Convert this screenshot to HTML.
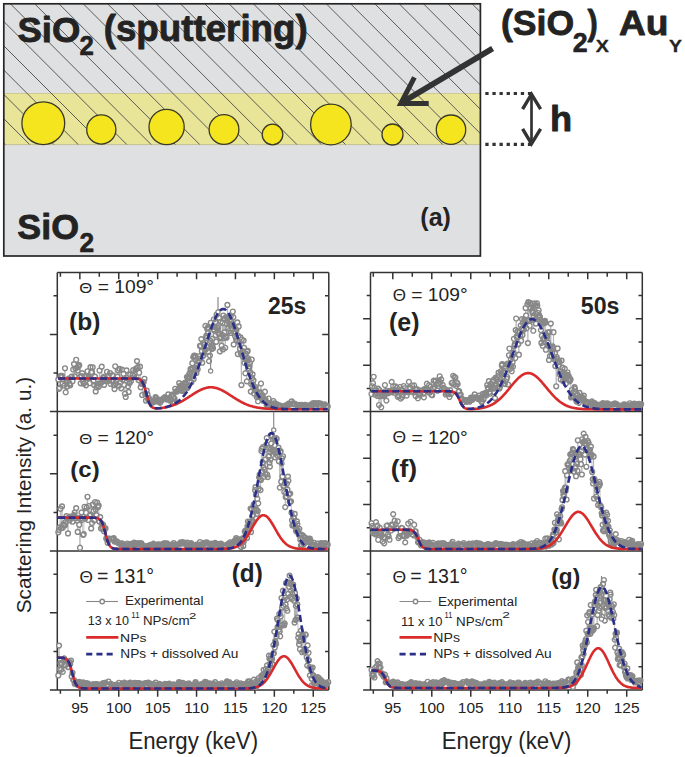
<!DOCTYPE html>
<html><head><meta charset="utf-8"><title>figure</title>
<style>html,body{margin:0;padding:0;background:#fff;width:685px;height:757px;overflow:hidden}</style>
</head><body>
<svg width="685" height="757" viewBox="0 0 685 757" style="position:absolute;left:0;top:0">
<defs><clipPath id="hc"><rect x="4" y="4" width="476" height="140.5"/></clipPath></defs>
<rect x="3.8" y="3.8" width="476.6" height="252.2" fill="#dfe0e2"/>
<rect x="4" y="93.5" width="476" height="51" fill="#e8e498"/>
<line x1="4" y1="93.5" x2="480" y2="93.5" stroke="#c9c48c" stroke-width="0.8"/>
<line x1="4" y1="144.6" x2="480" y2="144.6" stroke="#bdb98a" stroke-width="0.8"/>
<path d="M-187.8 0L-37.8 150M-163.5 0L-13.5 150M-139.2 0L10.8 150M-114.9 0L35.1 150M-90.6 0L59.4 150M-66.3 0L83.7 150M-42.0 0L108.0 150M-17.7 0L132.3 150M6.6 0L156.6 150M30.9 0L180.9 150M55.2 0L205.2 150M79.5 0L229.5 150M103.8 0L253.8 150M128.1 0L278.1 150M152.4 0L302.4 150M176.7 0L326.7 150M201.0 0L351.0 150M225.3 0L375.3 150M249.6 0L399.6 150M273.9 0L423.9 150M298.2 0L448.2 150M322.5 0L472.5 150M346.8 0L496.8 150M371.1 0L521.1 150M395.4 0L545.4 150M419.7 0L569.7 150M444.0 0L594.0 150M468.3 0L618.3 150M492.6 0L642.6 150M516.9 0L666.9 150M541.2 0L691.2 150M565.5 0L715.5 150M589.8 0L739.8 150" stroke="#5a5a5a" stroke-width="1.0" fill="none" clip-path="url(#hc)"/>
<circle cx="43.3" cy="123.2" r="21.4" fill="#f5e51f" stroke="#3b3a28" stroke-width="1.3"/>
<circle cx="101.3" cy="129.5" r="14.6" fill="#f5e51f" stroke="#3b3a28" stroke-width="1.3"/>
<circle cx="166.6" cy="127" r="17.6" fill="#f5e51f" stroke="#3b3a28" stroke-width="1.3"/>
<circle cx="224" cy="129.5" r="14.9" fill="#f5e51f" stroke="#3b3a28" stroke-width="1.3"/>
<circle cx="272.5" cy="134.5" r="10.3" fill="#f5e51f" stroke="#3b3a28" stroke-width="1.3"/>
<circle cx="330.9" cy="124.5" r="20.3" fill="#f5e51f" stroke="#3b3a28" stroke-width="1.3"/>
<circle cx="392.5" cy="134.5" r="10.5" fill="#f5e51f" stroke="#3b3a28" stroke-width="1.3"/>
<circle cx="451" cy="129.7" r="14.7" fill="#f5e51f" stroke="#3b3a28" stroke-width="1.3"/>
<rect x="3.8" y="3.8" width="476.6" height="252.2" fill="none" stroke="#262626" stroke-width="1.7"/>
<g stroke="#333" fill="none" stroke-linecap="butt">
<line x1="492.6" y1="48.6" x2="402" y2="102.4" stroke-width="5.8"/>
<polyline points="414.4,77.4 400.8,103.6 428.7,103.6" stroke-width="5" stroke-linejoin="miter" stroke-miterlimit="10"/>
</g>
<g stroke="#333" fill="none">
<line x1="485.3" y1="93.5" x2="531" y2="93.5" stroke-width="3.1" stroke-dasharray="3.3 3.8"/>
<line x1="485.3" y1="144.4" x2="531" y2="144.4" stroke-width="3.1" stroke-dasharray="3.3 3.8"/>
<line x1="531.5" y1="95" x2="531.5" y2="143" stroke-width="2.7"/>
<polyline points="522.6,109.2 531.5,94.2 540.6,109.2" stroke-width="3.4" stroke-linejoin="miter"/>
<polyline points="522.6,128.8 531.5,143.8 540.6,128.8" stroke-width="3.4" stroke-linejoin="miter"/>
</g>
<path d="M57.3 272.5V690.0M328.8 272.5V690.0M57.3 272.5H328.8M49.9 411.6H328.8M49.9 551.0H328.8M49.9 690.0H328.8M60.40 272.5v4.2M60.40 690.0v3.8M79.85 272.5v6.7M79.85 690.0v6.7M99.30 272.5v4.2M99.30 690.0v3.8M118.75 272.5v6.7M118.75 690.0v6.7M138.20 272.5v4.2M138.20 690.0v3.8M157.65 272.5v6.7M157.65 690.0v6.7M177.10 272.5v4.2M177.10 690.0v3.8M196.55 272.5v6.7M196.55 690.0v6.7M216.00 272.5v4.2M216.00 690.0v3.8M235.45 272.5v6.7M235.45 690.0v6.7M254.90 272.5v4.2M254.90 690.0v3.8M274.35 272.5v6.7M274.35 690.0v6.7M293.80 272.5v4.2M293.80 690.0v3.8M313.25 272.5v6.7M313.25 690.0v6.7M53.5 373.00H57.3M328.8 373.00h-3.8M49.9 334.40H57.3M328.8 334.40h-6.6M53.5 295.80H57.3M328.8 295.80h-3.8M53.5 512.40H57.3M328.8 512.40h-3.8M49.9 473.80H57.3M328.8 473.80h-6.6M53.5 435.20H57.3M328.8 435.20h-3.8M53.5 651.40H57.3M328.8 651.40h-3.8M49.9 612.80H57.3M328.8 612.80h-6.6M53.5 574.20H57.3M328.8 574.20h-3.8M370.5 272.5V690.0M642.3 272.5V690.0M370.5 272.5H642.3M363.1 411.6H642.3M363.1 551.0H642.3M363.1 690.0H642.3M373.31 272.5v4.2M373.31 690.0v3.8M392.80 272.5v6.7M392.80 690.0v6.7M412.29 272.5v4.2M412.29 690.0v3.8M431.79 272.5v6.7M431.79 690.0v6.7M451.28 272.5v4.2M451.28 690.0v3.8M470.77 272.5v6.7M470.77 690.0v6.7M490.26 272.5v4.2M490.26 690.0v3.8M509.75 272.5v6.7M509.75 690.0v6.7M529.25 272.5v4.2M529.25 690.0v3.8M548.74 272.5v6.7M548.74 690.0v6.7M568.23 272.5v4.2M568.23 690.0v3.8M587.73 272.5v6.7M587.73 690.0v6.7M607.22 272.5v4.2M607.22 690.0v3.8M626.71 272.5v6.7M626.71 690.0v6.7M366.7 388.40H370.5M642.3 388.40h-3.8M363.1 365.20H370.5M642.3 365.20h-6.6M366.7 342.00H370.5M642.3 342.00h-3.8M363.1 318.80H370.5M642.3 318.80h-6.6M366.7 295.60H370.5M642.3 295.60h-3.8M366.7 527.80H370.5M642.3 527.80h-3.8M363.1 504.60H370.5M642.3 504.60h-6.6M366.7 481.40H370.5M642.3 481.40h-3.8M363.1 458.20H370.5M642.3 458.20h-6.6M366.7 435.00H370.5M642.3 435.00h-3.8M366.7 666.80H370.5M642.3 666.80h-3.8M363.1 643.60H370.5M642.3 643.60h-6.6M366.7 620.40H370.5M642.3 620.40h-3.8M363.1 597.20H370.5M642.3 597.20h-6.6M366.7 574.00H370.5M642.3 574.00h-3.8" stroke="#333" stroke-width="1.5" fill="none"/>
<polyline points="58.3,379.6 59.0,388.8 59.7,387.9 60.5,375.9 61.2,377.3 62.0,375.8 62.7,383.5 63.5,379.6 64.2,385.6 65.0,368.3 65.7,392.2 66.5,381.0 67.2,386.5 68.0,380.7 68.7,378.5 69.5,383.7 70.2,385.3 71.0,377.3 71.7,376.6 72.5,381.3 73.2,369.5 74.0,364.1 74.7,376.4 75.5,368.6 76.2,359.8 77.0,367.6 77.7,370.6 78.5,366.4 79.2,365.2 80.0,376.6 80.7,383.3 81.5,376.2 82.2,373.1 83.0,381.2 83.7,383.7 84.5,376.7 85.2,382.3 86.0,385.3 86.7,376.1 87.5,371.3 88.2,378.6 89.0,377.4 89.7,383.2 90.5,367.2 91.2,372.3 92.0,372.2 92.7,367.3 93.5,381.3 94.2,384.9 95.0,376.7 95.7,391.4 96.5,387.3 97.2,385.6 98.0,383.5 98.7,386.8 99.5,370.5 100.2,383.4 101.0,383.1 101.7,366.7 102.5,381.4 103.2,377.6 104.0,384.9 104.7,376.5 105.5,379.1 106.2,380.9 107.0,371.8 107.7,381.3 108.5,376.0 109.2,379.9 110.0,373.0 110.7,384.0 111.5,380.7 112.2,375.2 113.0,380.7 113.7,385.2 114.5,389.1 115.2,366.3 116.0,383.4 116.7,380.6 117.5,376.7 118.2,370.2 119.0,385.8 119.7,368.8 120.5,382.2 121.2,388.3 122.0,369.7 122.7,379.8 123.5,373.7 124.2,384.9 125.0,393.7 125.7,397.0 126.5,370.4 127.2,378.2 128.0,386.4 128.7,391.9 129.5,383.4 130.2,374.7 131.0,381.1 131.7,377.9 132.5,375.2 133.2,370.0 134.0,376.1 134.7,374.0 135.5,370.0 136.2,368.4 137.0,361.1 137.7,367.3 138.5,380.1 139.2,372.7 140.0,366.7 140.7,387.2 141.5,383.8 142.2,395.0 143.0,383.7 143.7,382.0 144.5,378.8 145.2,394.1 146.0,400.7 146.7,390.6 147.5,394.4 148.2,399.7 148.9,398.0 149.7,400.0 150.4,400.5 151.2,401.6 151.9,402.8 152.6,401.3 153.4,402.2 154.1,400.1 155.6,397.2 156.3,398.1 157.0,401.3 157.8,399.4 158.5,401.3 159.9,402.8 160.6,401.9 162.1,400.0 162.8,398.7 163.5,398.3 164.2,398.5 164.9,397.0 165.6,398.0 166.2,398.9 166.9,399.6 167.6,398.2 168.3,394.4 168.9,398.5 169.6,399.0 170.2,400.9 170.9,399.3 171.5,395.6 172.2,394.6 172.8,401.4 173.4,396.9 174.0,399.0 174.6,398.9 175.2,388.8 175.8,391.8 176.4,391.4 177.0,391.4 177.6,391.1 178.1,389.8 178.7,389.6 179.2,383.2 179.7,388.1 180.3,385.7 180.8,389.0 181.3,386.2 181.8,390.4 182.3,390.9 182.8,388.4 183.3,388.0 183.8,386.6 184.2,383.6 184.7,384.5 185.1,382.5 185.6,386.7 186.0,384.6 186.5,387.3 186.9,376.9 187.4,387.9 187.8,377.8 188.3,376.3 188.7,377.7 189.2,374.2 189.6,378.1 190.1,372.4 190.5,368.9 191.0,369.6 191.4,382.2 191.9,372.8 192.3,363.2 192.8,369.1 193.2,357.1 193.7,379.0 194.1,355.7 194.6,369.7 195.0,370.4 195.5,355.9 195.9,368.4 196.4,373.0 196.8,368.0 197.3,365.2 197.7,369.3 198.2,361.7 198.6,361.7 199.1,356.3 199.5,361.0 200.0,345.9 200.4,358.8 200.9,345.8 201.3,339.1 201.8,351.1 202.2,362.7 202.7,356.3 203.1,343.2 203.6,355.2 204.0,344.9 204.5,348.3 204.9,350.2 205.4,325.9 205.8,349.6 206.3,335.9 206.7,337.9 207.2,328.7 207.6,327.5 208.1,333.1 208.5,351.8 209.0,361.1 209.4,343.2 209.9,355.5 210.3,340.9 210.8,322.8 211.2,345.7 211.7,349.0 212.1,338.9 212.6,346.5 213.0,348.2 213.5,329.4 213.9,319.3 214.4,330.5 214.8,327.1 215.3,322.1 215.7,335.1 216.2,341.8 216.6,314.7 217.1,327.3 217.5,330.1 218.0,328.1 218.4,333.4 218.9,317.7 219.3,333.6 219.8,351.4 220.2,338.2 220.7,321.8 221.1,337.4 221.6,345.6 222.0,334.5 222.5,322.9 222.9,349.4 223.4,315.5 223.8,338.1 224.3,332.4 224.7,318.2 225.2,347.8 225.6,336.5 226.1,317.0 226.5,337.7 227.0,324.0 227.4,304.9 227.9,318.4 228.3,328.4 228.8,331.2 229.2,323.9 229.7,321.1 230.1,325.2 230.6,316.6 231.0,333.0 231.5,321.4 231.9,324.1 232.4,328.3 232.8,311.5 233.3,317.3 233.7,344.5 234.2,332.7 234.6,327.6 235.1,336.2 235.5,328.8 236.0,338.7 236.4,329.8 236.9,341.1 237.3,322.4 237.8,354.1 238.2,335.9 238.7,326.4 239.1,341.9 239.6,342.0 240.0,348.7 240.5,337.3 240.9,353.4 241.4,385.1 241.8,339.5 242.3,355.8 242.7,351.1 243.2,357.1 243.6,340.6 244.1,347.8 244.5,362.8 245.0,359.0 245.4,373.2 245.9,353.5 246.3,360.2 246.8,381.4 247.2,351.8 247.7,350.9 248.1,358.4 248.6,360.0 249.0,368.7 249.5,366.3 249.9,363.0 250.4,372.6 250.8,391.6 251.3,384.4 251.7,359.5 252.2,377.9 252.6,374.3 253.1,384.3 253.5,380.3 254.0,393.5 254.4,388.7 254.9,389.6 255.3,387.0 255.8,387.2 256.2,390.7 256.7,397.2 257.1,395.0 257.6,392.2 258.0,401.2 258.5,396.8 259.0,395.8 259.5,392.4 260.0,393.0 260.5,392.3 261.0,383.5 261.5,398.6 262.1,397.3 262.6,395.2 263.2,400.7 263.7,399.5 264.3,400.1 264.9,391.7 265.5,399.3 266.1,401.9 266.7,405.1 267.3,405.7 268.0,404.7 268.6,398.5 269.9,403.9 271.3,405.6 272.0,403.6 272.7,404.3 273.4,401.0 274.1,404.6 274.8,403.0 275.5,404.4 276.2,404.8 276.9,404.2 278.4,405.2 279.1,406.7 279.8,406.8 280.5,405.7 281.3,405.9 282.8,406.7 283.5,407.9 284.2,407.1 285.0,405.8 285.7,405.4 286.5,406.1 287.2,406.0 288.0,406.1 288.7,403.7 289.5,404.1 290.2,404.3 291.7,401.4 292.5,404.2 293.2,403.2 294.0,404.3 294.7,403.5 296.9,405.2 297.7,405.6 298.4,405.8 299.2,404.8 299.9,406.2 300.7,405.5 301.4,404.8 302.2,405.5 302.9,405.3 303.7,406.2 304.4,405.4 305.2,404.9 305.9,407.0 307.4,406.9 308.2,406.2 308.9,405.5 309.7,405.1 310.4,405.1 311.2,406.3 311.9,405.2 312.7,403.4 314.2,403.1 314.9,404.6 316.4,403.2 317.2,404.7 318.7,403.2 319.4,405.8 320.9,403.5 322.4,404.3 323.2,404.7 323.9,405.3 324.7,404.3 326.2,406.9 326.9,405.8 327.7,406.4" stroke="#a0a0a0" stroke-width="0.6" fill="none"/>
<path d="M55.9 379.6a2.4 2.4 0 1 0 4.8 0a2.4 2.4 0 1 0 -4.8 0M56.6 388.8a2.4 2.4 0 1 0 4.8 0a2.4 2.4 0 1 0 -4.8 0M57.3 387.9a2.4 2.4 0 1 0 4.8 0a2.4 2.4 0 1 0 -4.8 0M58.1 375.9a2.4 2.4 0 1 0 4.8 0a2.4 2.4 0 1 0 -4.8 0M58.8 377.3a2.4 2.4 0 1 0 4.8 0a2.4 2.4 0 1 0 -4.8 0M59.6 375.8a2.4 2.4 0 1 0 4.8 0a2.4 2.4 0 1 0 -4.8 0M60.3 383.5a2.4 2.4 0 1 0 4.8 0a2.4 2.4 0 1 0 -4.8 0M61.1 379.6a2.4 2.4 0 1 0 4.8 0a2.4 2.4 0 1 0 -4.8 0M61.8 385.6a2.4 2.4 0 1 0 4.8 0a2.4 2.4 0 1 0 -4.8 0M62.6 368.3a2.4 2.4 0 1 0 4.8 0a2.4 2.4 0 1 0 -4.8 0M63.3 392.2a2.4 2.4 0 1 0 4.8 0a2.4 2.4 0 1 0 -4.8 0M64.1 381.0a2.4 2.4 0 1 0 4.8 0a2.4 2.4 0 1 0 -4.8 0M64.8 386.5a2.4 2.4 0 1 0 4.8 0a2.4 2.4 0 1 0 -4.8 0M65.6 380.7a2.4 2.4 0 1 0 4.8 0a2.4 2.4 0 1 0 -4.8 0M66.3 378.5a2.4 2.4 0 1 0 4.8 0a2.4 2.4 0 1 0 -4.8 0M67.1 383.7a2.4 2.4 0 1 0 4.8 0a2.4 2.4 0 1 0 -4.8 0M67.8 385.3a2.4 2.4 0 1 0 4.8 0a2.4 2.4 0 1 0 -4.8 0M68.6 377.3a2.4 2.4 0 1 0 4.8 0a2.4 2.4 0 1 0 -4.8 0M69.3 376.6a2.4 2.4 0 1 0 4.8 0a2.4 2.4 0 1 0 -4.8 0M70.1 381.3a2.4 2.4 0 1 0 4.8 0a2.4 2.4 0 1 0 -4.8 0M70.8 369.5a2.4 2.4 0 1 0 4.8 0a2.4 2.4 0 1 0 -4.8 0M71.6 364.1a2.4 2.4 0 1 0 4.8 0a2.4 2.4 0 1 0 -4.8 0M72.3 376.4a2.4 2.4 0 1 0 4.8 0a2.4 2.4 0 1 0 -4.8 0M73.1 368.6a2.4 2.4 0 1 0 4.8 0a2.4 2.4 0 1 0 -4.8 0M73.8 359.8a2.4 2.4 0 1 0 4.8 0a2.4 2.4 0 1 0 -4.8 0M74.6 367.6a2.4 2.4 0 1 0 4.8 0a2.4 2.4 0 1 0 -4.8 0M75.3 370.6a2.4 2.4 0 1 0 4.8 0a2.4 2.4 0 1 0 -4.8 0M76.1 366.4a2.4 2.4 0 1 0 4.8 0a2.4 2.4 0 1 0 -4.8 0M76.8 365.2a2.4 2.4 0 1 0 4.8 0a2.4 2.4 0 1 0 -4.8 0M77.6 376.6a2.4 2.4 0 1 0 4.8 0a2.4 2.4 0 1 0 -4.8 0M78.3 383.3a2.4 2.4 0 1 0 4.8 0a2.4 2.4 0 1 0 -4.8 0M79.1 376.2a2.4 2.4 0 1 0 4.8 0a2.4 2.4 0 1 0 -4.8 0M79.8 373.1a2.4 2.4 0 1 0 4.8 0a2.4 2.4 0 1 0 -4.8 0M80.6 381.2a2.4 2.4 0 1 0 4.8 0a2.4 2.4 0 1 0 -4.8 0M81.3 383.7a2.4 2.4 0 1 0 4.8 0a2.4 2.4 0 1 0 -4.8 0M82.1 376.7a2.4 2.4 0 1 0 4.8 0a2.4 2.4 0 1 0 -4.8 0M82.8 382.3a2.4 2.4 0 1 0 4.8 0a2.4 2.4 0 1 0 -4.8 0M83.6 385.3a2.4 2.4 0 1 0 4.8 0a2.4 2.4 0 1 0 -4.8 0M84.3 376.1a2.4 2.4 0 1 0 4.8 0a2.4 2.4 0 1 0 -4.8 0M85.1 371.3a2.4 2.4 0 1 0 4.8 0a2.4 2.4 0 1 0 -4.8 0M85.8 378.6a2.4 2.4 0 1 0 4.8 0a2.4 2.4 0 1 0 -4.8 0M86.6 377.4a2.4 2.4 0 1 0 4.8 0a2.4 2.4 0 1 0 -4.8 0M87.3 383.2a2.4 2.4 0 1 0 4.8 0a2.4 2.4 0 1 0 -4.8 0M88.1 367.2a2.4 2.4 0 1 0 4.8 0a2.4 2.4 0 1 0 -4.8 0M88.8 372.3a2.4 2.4 0 1 0 4.8 0a2.4 2.4 0 1 0 -4.8 0M89.6 372.2a2.4 2.4 0 1 0 4.8 0a2.4 2.4 0 1 0 -4.8 0M90.3 367.3a2.4 2.4 0 1 0 4.8 0a2.4 2.4 0 1 0 -4.8 0M91.1 381.3a2.4 2.4 0 1 0 4.8 0a2.4 2.4 0 1 0 -4.8 0M91.8 384.9a2.4 2.4 0 1 0 4.8 0a2.4 2.4 0 1 0 -4.8 0M92.6 376.7a2.4 2.4 0 1 0 4.8 0a2.4 2.4 0 1 0 -4.8 0M93.3 391.4a2.4 2.4 0 1 0 4.8 0a2.4 2.4 0 1 0 -4.8 0M94.1 387.3a2.4 2.4 0 1 0 4.8 0a2.4 2.4 0 1 0 -4.8 0M94.8 385.6a2.4 2.4 0 1 0 4.8 0a2.4 2.4 0 1 0 -4.8 0M95.6 383.5a2.4 2.4 0 1 0 4.8 0a2.4 2.4 0 1 0 -4.8 0M96.3 386.8a2.4 2.4 0 1 0 4.8 0a2.4 2.4 0 1 0 -4.8 0M97.1 370.5a2.4 2.4 0 1 0 4.8 0a2.4 2.4 0 1 0 -4.8 0M97.8 383.4a2.4 2.4 0 1 0 4.8 0a2.4 2.4 0 1 0 -4.8 0M98.6 383.1a2.4 2.4 0 1 0 4.8 0a2.4 2.4 0 1 0 -4.8 0M99.3 366.7a2.4 2.4 0 1 0 4.8 0a2.4 2.4 0 1 0 -4.8 0M100.1 381.4a2.4 2.4 0 1 0 4.8 0a2.4 2.4 0 1 0 -4.8 0M100.8 377.6a2.4 2.4 0 1 0 4.8 0a2.4 2.4 0 1 0 -4.8 0M101.6 384.9a2.4 2.4 0 1 0 4.8 0a2.4 2.4 0 1 0 -4.8 0M102.3 376.5a2.4 2.4 0 1 0 4.8 0a2.4 2.4 0 1 0 -4.8 0M103.1 379.1a2.4 2.4 0 1 0 4.8 0a2.4 2.4 0 1 0 -4.8 0M103.8 380.9a2.4 2.4 0 1 0 4.8 0a2.4 2.4 0 1 0 -4.8 0M104.6 371.8a2.4 2.4 0 1 0 4.8 0a2.4 2.4 0 1 0 -4.8 0M105.3 381.3a2.4 2.4 0 1 0 4.8 0a2.4 2.4 0 1 0 -4.8 0M106.1 376.0a2.4 2.4 0 1 0 4.8 0a2.4 2.4 0 1 0 -4.8 0M106.8 379.9a2.4 2.4 0 1 0 4.8 0a2.4 2.4 0 1 0 -4.8 0M107.6 373.0a2.4 2.4 0 1 0 4.8 0a2.4 2.4 0 1 0 -4.8 0M108.3 384.0a2.4 2.4 0 1 0 4.8 0a2.4 2.4 0 1 0 -4.8 0M109.1 380.7a2.4 2.4 0 1 0 4.8 0a2.4 2.4 0 1 0 -4.8 0M109.8 375.2a2.4 2.4 0 1 0 4.8 0a2.4 2.4 0 1 0 -4.8 0M110.6 380.7a2.4 2.4 0 1 0 4.8 0a2.4 2.4 0 1 0 -4.8 0M111.3 385.2a2.4 2.4 0 1 0 4.8 0a2.4 2.4 0 1 0 -4.8 0M112.1 389.1a2.4 2.4 0 1 0 4.8 0a2.4 2.4 0 1 0 -4.8 0M112.8 366.3a2.4 2.4 0 1 0 4.8 0a2.4 2.4 0 1 0 -4.8 0M113.6 383.4a2.4 2.4 0 1 0 4.8 0a2.4 2.4 0 1 0 -4.8 0M114.3 380.6a2.4 2.4 0 1 0 4.8 0a2.4 2.4 0 1 0 -4.8 0M115.1 376.7a2.4 2.4 0 1 0 4.8 0a2.4 2.4 0 1 0 -4.8 0M115.8 370.2a2.4 2.4 0 1 0 4.8 0a2.4 2.4 0 1 0 -4.8 0M116.6 385.8a2.4 2.4 0 1 0 4.8 0a2.4 2.4 0 1 0 -4.8 0M117.3 368.8a2.4 2.4 0 1 0 4.8 0a2.4 2.4 0 1 0 -4.8 0M118.1 382.2a2.4 2.4 0 1 0 4.8 0a2.4 2.4 0 1 0 -4.8 0M118.8 388.3a2.4 2.4 0 1 0 4.8 0a2.4 2.4 0 1 0 -4.8 0M119.6 369.7a2.4 2.4 0 1 0 4.8 0a2.4 2.4 0 1 0 -4.8 0M120.3 379.8a2.4 2.4 0 1 0 4.8 0a2.4 2.4 0 1 0 -4.8 0M121.1 373.7a2.4 2.4 0 1 0 4.8 0a2.4 2.4 0 1 0 -4.8 0M121.8 384.9a2.4 2.4 0 1 0 4.8 0a2.4 2.4 0 1 0 -4.8 0M122.6 393.7a2.4 2.4 0 1 0 4.8 0a2.4 2.4 0 1 0 -4.8 0M123.3 397.0a2.4 2.4 0 1 0 4.8 0a2.4 2.4 0 1 0 -4.8 0M124.1 370.4a2.4 2.4 0 1 0 4.8 0a2.4 2.4 0 1 0 -4.8 0M124.8 378.2a2.4 2.4 0 1 0 4.8 0a2.4 2.4 0 1 0 -4.8 0M125.6 386.4a2.4 2.4 0 1 0 4.8 0a2.4 2.4 0 1 0 -4.8 0M126.3 391.9a2.4 2.4 0 1 0 4.8 0a2.4 2.4 0 1 0 -4.8 0M127.1 383.4a2.4 2.4 0 1 0 4.8 0a2.4 2.4 0 1 0 -4.8 0M127.8 374.7a2.4 2.4 0 1 0 4.8 0a2.4 2.4 0 1 0 -4.8 0M128.6 381.1a2.4 2.4 0 1 0 4.8 0a2.4 2.4 0 1 0 -4.8 0M129.3 377.9a2.4 2.4 0 1 0 4.8 0a2.4 2.4 0 1 0 -4.8 0M130.1 375.2a2.4 2.4 0 1 0 4.8 0a2.4 2.4 0 1 0 -4.8 0M130.8 370.0a2.4 2.4 0 1 0 4.8 0a2.4 2.4 0 1 0 -4.8 0M131.6 376.1a2.4 2.4 0 1 0 4.8 0a2.4 2.4 0 1 0 -4.8 0M132.3 374.0a2.4 2.4 0 1 0 4.8 0a2.4 2.4 0 1 0 -4.8 0M133.1 370.0a2.4 2.4 0 1 0 4.8 0a2.4 2.4 0 1 0 -4.8 0M133.8 368.4a2.4 2.4 0 1 0 4.8 0a2.4 2.4 0 1 0 -4.8 0M134.6 361.1a2.4 2.4 0 1 0 4.8 0a2.4 2.4 0 1 0 -4.8 0M135.3 367.3a2.4 2.4 0 1 0 4.8 0a2.4 2.4 0 1 0 -4.8 0M136.1 380.1a2.4 2.4 0 1 0 4.8 0a2.4 2.4 0 1 0 -4.8 0M136.8 372.7a2.4 2.4 0 1 0 4.8 0a2.4 2.4 0 1 0 -4.8 0M137.6 366.7a2.4 2.4 0 1 0 4.8 0a2.4 2.4 0 1 0 -4.8 0M138.3 387.2a2.4 2.4 0 1 0 4.8 0a2.4 2.4 0 1 0 -4.8 0M139.1 383.8a2.4 2.4 0 1 0 4.8 0a2.4 2.4 0 1 0 -4.8 0M139.8 395.0a2.4 2.4 0 1 0 4.8 0a2.4 2.4 0 1 0 -4.8 0M140.6 383.7a2.4 2.4 0 1 0 4.8 0a2.4 2.4 0 1 0 -4.8 0M141.3 382.0a2.4 2.4 0 1 0 4.8 0a2.4 2.4 0 1 0 -4.8 0M142.1 378.8a2.4 2.4 0 1 0 4.8 0a2.4 2.4 0 1 0 -4.8 0M142.8 394.1a2.4 2.4 0 1 0 4.8 0a2.4 2.4 0 1 0 -4.8 0M143.6 400.7a2.4 2.4 0 1 0 4.8 0a2.4 2.4 0 1 0 -4.8 0M144.3 390.6a2.4 2.4 0 1 0 4.8 0a2.4 2.4 0 1 0 -4.8 0M145.1 394.4a2.4 2.4 0 1 0 4.8 0a2.4 2.4 0 1 0 -4.8 0M145.8 399.7a2.4 2.4 0 1 0 4.8 0a2.4 2.4 0 1 0 -4.8 0M146.5 398.0a2.4 2.4 0 1 0 4.8 0a2.4 2.4 0 1 0 -4.8 0M147.3 400.0a2.4 2.4 0 1 0 4.8 0a2.4 2.4 0 1 0 -4.8 0M148.0 400.5a2.4 2.4 0 1 0 4.8 0a2.4 2.4 0 1 0 -4.8 0M148.8 401.6a2.4 2.4 0 1 0 4.8 0a2.4 2.4 0 1 0 -4.8 0M149.5 402.8a2.4 2.4 0 1 0 4.8 0a2.4 2.4 0 1 0 -4.8 0M150.2 401.3a2.4 2.4 0 1 0 4.8 0a2.4 2.4 0 1 0 -4.8 0M151.0 402.2a2.4 2.4 0 1 0 4.8 0a2.4 2.4 0 1 0 -4.8 0M151.7 400.1a2.4 2.4 0 1 0 4.8 0a2.4 2.4 0 1 0 -4.8 0M153.2 397.2a2.4 2.4 0 1 0 4.8 0a2.4 2.4 0 1 0 -4.8 0M153.9 398.1a2.4 2.4 0 1 0 4.8 0a2.4 2.4 0 1 0 -4.8 0M154.6 401.3a2.4 2.4 0 1 0 4.8 0a2.4 2.4 0 1 0 -4.8 0M155.4 399.4a2.4 2.4 0 1 0 4.8 0a2.4 2.4 0 1 0 -4.8 0M156.1 401.3a2.4 2.4 0 1 0 4.8 0a2.4 2.4 0 1 0 -4.8 0M157.5 402.8a2.4 2.4 0 1 0 4.8 0a2.4 2.4 0 1 0 -4.8 0M158.2 401.9a2.4 2.4 0 1 0 4.8 0a2.4 2.4 0 1 0 -4.8 0M159.7 400.0a2.4 2.4 0 1 0 4.8 0a2.4 2.4 0 1 0 -4.8 0M160.4 398.7a2.4 2.4 0 1 0 4.8 0a2.4 2.4 0 1 0 -4.8 0M161.1 398.3a2.4 2.4 0 1 0 4.8 0a2.4 2.4 0 1 0 -4.8 0M161.8 398.5a2.4 2.4 0 1 0 4.8 0a2.4 2.4 0 1 0 -4.8 0M162.5 397.0a2.4 2.4 0 1 0 4.8 0a2.4 2.4 0 1 0 -4.8 0M163.2 398.0a2.4 2.4 0 1 0 4.8 0a2.4 2.4 0 1 0 -4.8 0M163.8 398.9a2.4 2.4 0 1 0 4.8 0a2.4 2.4 0 1 0 -4.8 0M164.5 399.6a2.4 2.4 0 1 0 4.8 0a2.4 2.4 0 1 0 -4.8 0M165.2 398.2a2.4 2.4 0 1 0 4.8 0a2.4 2.4 0 1 0 -4.8 0M165.9 394.4a2.4 2.4 0 1 0 4.8 0a2.4 2.4 0 1 0 -4.8 0M166.5 398.5a2.4 2.4 0 1 0 4.8 0a2.4 2.4 0 1 0 -4.8 0M167.2 399.0a2.4 2.4 0 1 0 4.8 0a2.4 2.4 0 1 0 -4.8 0M167.8 400.9a2.4 2.4 0 1 0 4.8 0a2.4 2.4 0 1 0 -4.8 0M168.5 399.3a2.4 2.4 0 1 0 4.8 0a2.4 2.4 0 1 0 -4.8 0M169.1 395.6a2.4 2.4 0 1 0 4.8 0a2.4 2.4 0 1 0 -4.8 0M169.8 394.6a2.4 2.4 0 1 0 4.8 0a2.4 2.4 0 1 0 -4.8 0M170.4 401.4a2.4 2.4 0 1 0 4.8 0a2.4 2.4 0 1 0 -4.8 0M171.0 396.9a2.4 2.4 0 1 0 4.8 0a2.4 2.4 0 1 0 -4.8 0M171.6 399.0a2.4 2.4 0 1 0 4.8 0a2.4 2.4 0 1 0 -4.8 0M172.2 398.9a2.4 2.4 0 1 0 4.8 0a2.4 2.4 0 1 0 -4.8 0M172.8 388.8a2.4 2.4 0 1 0 4.8 0a2.4 2.4 0 1 0 -4.8 0M173.4 391.8a2.4 2.4 0 1 0 4.8 0a2.4 2.4 0 1 0 -4.8 0M174.0 391.4a2.4 2.4 0 1 0 4.8 0a2.4 2.4 0 1 0 -4.8 0M174.6 391.4a2.4 2.4 0 1 0 4.8 0a2.4 2.4 0 1 0 -4.8 0M175.2 391.1a2.4 2.4 0 1 0 4.8 0a2.4 2.4 0 1 0 -4.8 0M175.7 389.8a2.4 2.4 0 1 0 4.8 0a2.4 2.4 0 1 0 -4.8 0M176.3 389.6a2.4 2.4 0 1 0 4.8 0a2.4 2.4 0 1 0 -4.8 0M176.8 383.2a2.4 2.4 0 1 0 4.8 0a2.4 2.4 0 1 0 -4.8 0M177.3 388.1a2.4 2.4 0 1 0 4.8 0a2.4 2.4 0 1 0 -4.8 0M177.9 385.7a2.4 2.4 0 1 0 4.8 0a2.4 2.4 0 1 0 -4.8 0M178.4 389.0a2.4 2.4 0 1 0 4.8 0a2.4 2.4 0 1 0 -4.8 0M178.9 386.2a2.4 2.4 0 1 0 4.8 0a2.4 2.4 0 1 0 -4.8 0M179.4 390.4a2.4 2.4 0 1 0 4.8 0a2.4 2.4 0 1 0 -4.8 0M179.9 390.9a2.4 2.4 0 1 0 4.8 0a2.4 2.4 0 1 0 -4.8 0M180.4 388.4a2.4 2.4 0 1 0 4.8 0a2.4 2.4 0 1 0 -4.8 0M180.9 388.0a2.4 2.4 0 1 0 4.8 0a2.4 2.4 0 1 0 -4.8 0M181.4 386.6a2.4 2.4 0 1 0 4.8 0a2.4 2.4 0 1 0 -4.8 0M181.8 383.6a2.4 2.4 0 1 0 4.8 0a2.4 2.4 0 1 0 -4.8 0M182.3 384.5a2.4 2.4 0 1 0 4.8 0a2.4 2.4 0 1 0 -4.8 0M182.7 382.5a2.4 2.4 0 1 0 4.8 0a2.4 2.4 0 1 0 -4.8 0M183.2 386.7a2.4 2.4 0 1 0 4.8 0a2.4 2.4 0 1 0 -4.8 0M183.6 384.6a2.4 2.4 0 1 0 4.8 0a2.4 2.4 0 1 0 -4.8 0M184.1 387.3a2.4 2.4 0 1 0 4.8 0a2.4 2.4 0 1 0 -4.8 0M184.5 376.9a2.4 2.4 0 1 0 4.8 0a2.4 2.4 0 1 0 -4.8 0M185.0 387.9a2.4 2.4 0 1 0 4.8 0a2.4 2.4 0 1 0 -4.8 0M185.4 377.8a2.4 2.4 0 1 0 4.8 0a2.4 2.4 0 1 0 -4.8 0M185.9 376.3a2.4 2.4 0 1 0 4.8 0a2.4 2.4 0 1 0 -4.8 0M186.3 377.7a2.4 2.4 0 1 0 4.8 0a2.4 2.4 0 1 0 -4.8 0M186.8 374.2a2.4 2.4 0 1 0 4.8 0a2.4 2.4 0 1 0 -4.8 0M187.2 378.1a2.4 2.4 0 1 0 4.8 0a2.4 2.4 0 1 0 -4.8 0M187.7 372.4a2.4 2.4 0 1 0 4.8 0a2.4 2.4 0 1 0 -4.8 0M188.1 368.9a2.4 2.4 0 1 0 4.8 0a2.4 2.4 0 1 0 -4.8 0M188.6 369.6a2.4 2.4 0 1 0 4.8 0a2.4 2.4 0 1 0 -4.8 0M189.0 382.2a2.4 2.4 0 1 0 4.8 0a2.4 2.4 0 1 0 -4.8 0M189.5 372.8a2.4 2.4 0 1 0 4.8 0a2.4 2.4 0 1 0 -4.8 0M189.9 363.2a2.4 2.4 0 1 0 4.8 0a2.4 2.4 0 1 0 -4.8 0M190.4 369.1a2.4 2.4 0 1 0 4.8 0a2.4 2.4 0 1 0 -4.8 0M190.8 357.1a2.4 2.4 0 1 0 4.8 0a2.4 2.4 0 1 0 -4.8 0M191.3 379.0a2.4 2.4 0 1 0 4.8 0a2.4 2.4 0 1 0 -4.8 0M191.7 355.7a2.4 2.4 0 1 0 4.8 0a2.4 2.4 0 1 0 -4.8 0M192.2 369.7a2.4 2.4 0 1 0 4.8 0a2.4 2.4 0 1 0 -4.8 0M192.6 370.4a2.4 2.4 0 1 0 4.8 0a2.4 2.4 0 1 0 -4.8 0M193.1 355.9a2.4 2.4 0 1 0 4.8 0a2.4 2.4 0 1 0 -4.8 0M193.5 368.4a2.4 2.4 0 1 0 4.8 0a2.4 2.4 0 1 0 -4.8 0M194.0 373.0a2.4 2.4 0 1 0 4.8 0a2.4 2.4 0 1 0 -4.8 0M194.4 368.0a2.4 2.4 0 1 0 4.8 0a2.4 2.4 0 1 0 -4.8 0M194.9 365.2a2.4 2.4 0 1 0 4.8 0a2.4 2.4 0 1 0 -4.8 0M195.3 369.3a2.4 2.4 0 1 0 4.8 0a2.4 2.4 0 1 0 -4.8 0M195.8 361.7a2.4 2.4 0 1 0 4.8 0a2.4 2.4 0 1 0 -4.8 0M196.2 361.7a2.4 2.4 0 1 0 4.8 0a2.4 2.4 0 1 0 -4.8 0M196.7 356.3a2.4 2.4 0 1 0 4.8 0a2.4 2.4 0 1 0 -4.8 0M197.1 361.0a2.4 2.4 0 1 0 4.8 0a2.4 2.4 0 1 0 -4.8 0M197.6 345.9a2.4 2.4 0 1 0 4.8 0a2.4 2.4 0 1 0 -4.8 0M198.0 358.8a2.4 2.4 0 1 0 4.8 0a2.4 2.4 0 1 0 -4.8 0M198.5 345.8a2.4 2.4 0 1 0 4.8 0a2.4 2.4 0 1 0 -4.8 0M198.9 339.1a2.4 2.4 0 1 0 4.8 0a2.4 2.4 0 1 0 -4.8 0M199.4 351.1a2.4 2.4 0 1 0 4.8 0a2.4 2.4 0 1 0 -4.8 0M199.8 362.7a2.4 2.4 0 1 0 4.8 0a2.4 2.4 0 1 0 -4.8 0M200.3 356.3a2.4 2.4 0 1 0 4.8 0a2.4 2.4 0 1 0 -4.8 0M200.7 343.2a2.4 2.4 0 1 0 4.8 0a2.4 2.4 0 1 0 -4.8 0M201.2 355.2a2.4 2.4 0 1 0 4.8 0a2.4 2.4 0 1 0 -4.8 0M201.6 344.9a2.4 2.4 0 1 0 4.8 0a2.4 2.4 0 1 0 -4.8 0M202.1 348.3a2.4 2.4 0 1 0 4.8 0a2.4 2.4 0 1 0 -4.8 0M202.5 350.2a2.4 2.4 0 1 0 4.8 0a2.4 2.4 0 1 0 -4.8 0M203.0 325.9a2.4 2.4 0 1 0 4.8 0a2.4 2.4 0 1 0 -4.8 0M203.4 349.6a2.4 2.4 0 1 0 4.8 0a2.4 2.4 0 1 0 -4.8 0M203.9 335.9a2.4 2.4 0 1 0 4.8 0a2.4 2.4 0 1 0 -4.8 0M204.3 337.9a2.4 2.4 0 1 0 4.8 0a2.4 2.4 0 1 0 -4.8 0M204.8 328.7a2.4 2.4 0 1 0 4.8 0a2.4 2.4 0 1 0 -4.8 0M205.2 327.5a2.4 2.4 0 1 0 4.8 0a2.4 2.4 0 1 0 -4.8 0M205.7 333.1a2.4 2.4 0 1 0 4.8 0a2.4 2.4 0 1 0 -4.8 0M206.1 351.8a2.4 2.4 0 1 0 4.8 0a2.4 2.4 0 1 0 -4.8 0M206.6 361.1a2.4 2.4 0 1 0 4.8 0a2.4 2.4 0 1 0 -4.8 0M207.0 343.2a2.4 2.4 0 1 0 4.8 0a2.4 2.4 0 1 0 -4.8 0M207.5 355.5a2.4 2.4 0 1 0 4.8 0a2.4 2.4 0 1 0 -4.8 0M207.9 340.9a2.4 2.4 0 1 0 4.8 0a2.4 2.4 0 1 0 -4.8 0M208.4 322.8a2.4 2.4 0 1 0 4.8 0a2.4 2.4 0 1 0 -4.8 0M208.8 345.7a2.4 2.4 0 1 0 4.8 0a2.4 2.4 0 1 0 -4.8 0M209.3 349.0a2.4 2.4 0 1 0 4.8 0a2.4 2.4 0 1 0 -4.8 0M209.7 338.9a2.4 2.4 0 1 0 4.8 0a2.4 2.4 0 1 0 -4.8 0M210.2 346.5a2.4 2.4 0 1 0 4.8 0a2.4 2.4 0 1 0 -4.8 0M210.6 348.2a2.4 2.4 0 1 0 4.8 0a2.4 2.4 0 1 0 -4.8 0M211.1 329.4a2.4 2.4 0 1 0 4.8 0a2.4 2.4 0 1 0 -4.8 0M211.5 319.3a2.4 2.4 0 1 0 4.8 0a2.4 2.4 0 1 0 -4.8 0M212.0 330.5a2.4 2.4 0 1 0 4.8 0a2.4 2.4 0 1 0 -4.8 0M212.4 327.1a2.4 2.4 0 1 0 4.8 0a2.4 2.4 0 1 0 -4.8 0M212.9 322.1a2.4 2.4 0 1 0 4.8 0a2.4 2.4 0 1 0 -4.8 0M213.3 335.1a2.4 2.4 0 1 0 4.8 0a2.4 2.4 0 1 0 -4.8 0M213.8 341.8a2.4 2.4 0 1 0 4.8 0a2.4 2.4 0 1 0 -4.8 0M214.2 314.7a2.4 2.4 0 1 0 4.8 0a2.4 2.4 0 1 0 -4.8 0M214.7 327.3a2.4 2.4 0 1 0 4.8 0a2.4 2.4 0 1 0 -4.8 0M215.1 330.1a2.4 2.4 0 1 0 4.8 0a2.4 2.4 0 1 0 -4.8 0M215.6 328.1a2.4 2.4 0 1 0 4.8 0a2.4 2.4 0 1 0 -4.8 0M216.0 333.4a2.4 2.4 0 1 0 4.8 0a2.4 2.4 0 1 0 -4.8 0M216.5 317.7a2.4 2.4 0 1 0 4.8 0a2.4 2.4 0 1 0 -4.8 0M216.9 333.6a2.4 2.4 0 1 0 4.8 0a2.4 2.4 0 1 0 -4.8 0M217.4 351.4a2.4 2.4 0 1 0 4.8 0a2.4 2.4 0 1 0 -4.8 0M217.8 338.2a2.4 2.4 0 1 0 4.8 0a2.4 2.4 0 1 0 -4.8 0M218.3 321.8a2.4 2.4 0 1 0 4.8 0a2.4 2.4 0 1 0 -4.8 0M218.7 337.4a2.4 2.4 0 1 0 4.8 0a2.4 2.4 0 1 0 -4.8 0M219.2 345.6a2.4 2.4 0 1 0 4.8 0a2.4 2.4 0 1 0 -4.8 0M219.6 334.5a2.4 2.4 0 1 0 4.8 0a2.4 2.4 0 1 0 -4.8 0M220.1 322.9a2.4 2.4 0 1 0 4.8 0a2.4 2.4 0 1 0 -4.8 0M220.5 349.4a2.4 2.4 0 1 0 4.8 0a2.4 2.4 0 1 0 -4.8 0M221.0 315.5a2.4 2.4 0 1 0 4.8 0a2.4 2.4 0 1 0 -4.8 0M221.4 338.1a2.4 2.4 0 1 0 4.8 0a2.4 2.4 0 1 0 -4.8 0M221.9 332.4a2.4 2.4 0 1 0 4.8 0a2.4 2.4 0 1 0 -4.8 0M222.3 318.2a2.4 2.4 0 1 0 4.8 0a2.4 2.4 0 1 0 -4.8 0M222.8 347.8a2.4 2.4 0 1 0 4.8 0a2.4 2.4 0 1 0 -4.8 0M223.2 336.5a2.4 2.4 0 1 0 4.8 0a2.4 2.4 0 1 0 -4.8 0M223.7 317.0a2.4 2.4 0 1 0 4.8 0a2.4 2.4 0 1 0 -4.8 0M224.1 337.7a2.4 2.4 0 1 0 4.8 0a2.4 2.4 0 1 0 -4.8 0M224.6 324.0a2.4 2.4 0 1 0 4.8 0a2.4 2.4 0 1 0 -4.8 0M225.0 304.9a2.4 2.4 0 1 0 4.8 0a2.4 2.4 0 1 0 -4.8 0M225.5 318.4a2.4 2.4 0 1 0 4.8 0a2.4 2.4 0 1 0 -4.8 0M225.9 328.4a2.4 2.4 0 1 0 4.8 0a2.4 2.4 0 1 0 -4.8 0M226.4 331.2a2.4 2.4 0 1 0 4.8 0a2.4 2.4 0 1 0 -4.8 0M226.8 323.9a2.4 2.4 0 1 0 4.8 0a2.4 2.4 0 1 0 -4.8 0M227.3 321.1a2.4 2.4 0 1 0 4.8 0a2.4 2.4 0 1 0 -4.8 0M227.7 325.2a2.4 2.4 0 1 0 4.8 0a2.4 2.4 0 1 0 -4.8 0M228.2 316.6a2.4 2.4 0 1 0 4.8 0a2.4 2.4 0 1 0 -4.8 0M228.6 333.0a2.4 2.4 0 1 0 4.8 0a2.4 2.4 0 1 0 -4.8 0M229.1 321.4a2.4 2.4 0 1 0 4.8 0a2.4 2.4 0 1 0 -4.8 0M229.5 324.1a2.4 2.4 0 1 0 4.8 0a2.4 2.4 0 1 0 -4.8 0M230.0 328.3a2.4 2.4 0 1 0 4.8 0a2.4 2.4 0 1 0 -4.8 0M230.4 311.5a2.4 2.4 0 1 0 4.8 0a2.4 2.4 0 1 0 -4.8 0M230.9 317.3a2.4 2.4 0 1 0 4.8 0a2.4 2.4 0 1 0 -4.8 0M231.3 344.5a2.4 2.4 0 1 0 4.8 0a2.4 2.4 0 1 0 -4.8 0M231.8 332.7a2.4 2.4 0 1 0 4.8 0a2.4 2.4 0 1 0 -4.8 0M232.2 327.6a2.4 2.4 0 1 0 4.8 0a2.4 2.4 0 1 0 -4.8 0M232.7 336.2a2.4 2.4 0 1 0 4.8 0a2.4 2.4 0 1 0 -4.8 0M233.1 328.8a2.4 2.4 0 1 0 4.8 0a2.4 2.4 0 1 0 -4.8 0M233.6 338.7a2.4 2.4 0 1 0 4.8 0a2.4 2.4 0 1 0 -4.8 0M234.0 329.8a2.4 2.4 0 1 0 4.8 0a2.4 2.4 0 1 0 -4.8 0M234.5 341.1a2.4 2.4 0 1 0 4.8 0a2.4 2.4 0 1 0 -4.8 0M234.9 322.4a2.4 2.4 0 1 0 4.8 0a2.4 2.4 0 1 0 -4.8 0M235.4 354.1a2.4 2.4 0 1 0 4.8 0a2.4 2.4 0 1 0 -4.8 0M235.8 335.9a2.4 2.4 0 1 0 4.8 0a2.4 2.4 0 1 0 -4.8 0M236.3 326.4a2.4 2.4 0 1 0 4.8 0a2.4 2.4 0 1 0 -4.8 0M236.7 341.9a2.4 2.4 0 1 0 4.8 0a2.4 2.4 0 1 0 -4.8 0M237.2 342.0a2.4 2.4 0 1 0 4.8 0a2.4 2.4 0 1 0 -4.8 0M237.6 348.7a2.4 2.4 0 1 0 4.8 0a2.4 2.4 0 1 0 -4.8 0M238.1 337.3a2.4 2.4 0 1 0 4.8 0a2.4 2.4 0 1 0 -4.8 0M238.5 353.4a2.4 2.4 0 1 0 4.8 0a2.4 2.4 0 1 0 -4.8 0M239.0 385.1a2.4 2.4 0 1 0 4.8 0a2.4 2.4 0 1 0 -4.8 0M239.4 339.5a2.4 2.4 0 1 0 4.8 0a2.4 2.4 0 1 0 -4.8 0M239.9 355.8a2.4 2.4 0 1 0 4.8 0a2.4 2.4 0 1 0 -4.8 0M240.3 351.1a2.4 2.4 0 1 0 4.8 0a2.4 2.4 0 1 0 -4.8 0M240.8 357.1a2.4 2.4 0 1 0 4.8 0a2.4 2.4 0 1 0 -4.8 0M241.2 340.6a2.4 2.4 0 1 0 4.8 0a2.4 2.4 0 1 0 -4.8 0M241.7 347.8a2.4 2.4 0 1 0 4.8 0a2.4 2.4 0 1 0 -4.8 0M242.1 362.8a2.4 2.4 0 1 0 4.8 0a2.4 2.4 0 1 0 -4.8 0M242.6 359.0a2.4 2.4 0 1 0 4.8 0a2.4 2.4 0 1 0 -4.8 0M243.0 373.2a2.4 2.4 0 1 0 4.8 0a2.4 2.4 0 1 0 -4.8 0M243.5 353.5a2.4 2.4 0 1 0 4.8 0a2.4 2.4 0 1 0 -4.8 0M243.9 360.2a2.4 2.4 0 1 0 4.8 0a2.4 2.4 0 1 0 -4.8 0M244.4 381.4a2.4 2.4 0 1 0 4.8 0a2.4 2.4 0 1 0 -4.8 0M244.8 351.8a2.4 2.4 0 1 0 4.8 0a2.4 2.4 0 1 0 -4.8 0M245.3 350.9a2.4 2.4 0 1 0 4.8 0a2.4 2.4 0 1 0 -4.8 0M245.7 358.4a2.4 2.4 0 1 0 4.8 0a2.4 2.4 0 1 0 -4.8 0M246.2 360.0a2.4 2.4 0 1 0 4.8 0a2.4 2.4 0 1 0 -4.8 0M246.6 368.7a2.4 2.4 0 1 0 4.8 0a2.4 2.4 0 1 0 -4.8 0M247.1 366.3a2.4 2.4 0 1 0 4.8 0a2.4 2.4 0 1 0 -4.8 0M247.5 363.0a2.4 2.4 0 1 0 4.8 0a2.4 2.4 0 1 0 -4.8 0M248.0 372.6a2.4 2.4 0 1 0 4.8 0a2.4 2.4 0 1 0 -4.8 0M248.4 391.6a2.4 2.4 0 1 0 4.8 0a2.4 2.4 0 1 0 -4.8 0M248.9 384.4a2.4 2.4 0 1 0 4.8 0a2.4 2.4 0 1 0 -4.8 0M249.3 359.5a2.4 2.4 0 1 0 4.8 0a2.4 2.4 0 1 0 -4.8 0M249.8 377.9a2.4 2.4 0 1 0 4.8 0a2.4 2.4 0 1 0 -4.8 0M250.2 374.3a2.4 2.4 0 1 0 4.8 0a2.4 2.4 0 1 0 -4.8 0M250.7 384.3a2.4 2.4 0 1 0 4.8 0a2.4 2.4 0 1 0 -4.8 0M251.1 380.3a2.4 2.4 0 1 0 4.8 0a2.4 2.4 0 1 0 -4.8 0M251.6 393.5a2.4 2.4 0 1 0 4.8 0a2.4 2.4 0 1 0 -4.8 0M252.0 388.7a2.4 2.4 0 1 0 4.8 0a2.4 2.4 0 1 0 -4.8 0M252.5 389.6a2.4 2.4 0 1 0 4.8 0a2.4 2.4 0 1 0 -4.8 0M252.9 387.0a2.4 2.4 0 1 0 4.8 0a2.4 2.4 0 1 0 -4.8 0M253.4 387.2a2.4 2.4 0 1 0 4.8 0a2.4 2.4 0 1 0 -4.8 0M253.8 390.7a2.4 2.4 0 1 0 4.8 0a2.4 2.4 0 1 0 -4.8 0M254.3 397.2a2.4 2.4 0 1 0 4.8 0a2.4 2.4 0 1 0 -4.8 0M254.7 395.0a2.4 2.4 0 1 0 4.8 0a2.4 2.4 0 1 0 -4.8 0M255.2 392.2a2.4 2.4 0 1 0 4.8 0a2.4 2.4 0 1 0 -4.8 0M255.6 401.2a2.4 2.4 0 1 0 4.8 0a2.4 2.4 0 1 0 -4.8 0M256.1 396.8a2.4 2.4 0 1 0 4.8 0a2.4 2.4 0 1 0 -4.8 0M256.6 395.8a2.4 2.4 0 1 0 4.8 0a2.4 2.4 0 1 0 -4.8 0M257.1 392.4a2.4 2.4 0 1 0 4.8 0a2.4 2.4 0 1 0 -4.8 0M257.6 393.0a2.4 2.4 0 1 0 4.8 0a2.4 2.4 0 1 0 -4.8 0M258.1 392.3a2.4 2.4 0 1 0 4.8 0a2.4 2.4 0 1 0 -4.8 0M258.6 383.5a2.4 2.4 0 1 0 4.8 0a2.4 2.4 0 1 0 -4.8 0M259.1 398.6a2.4 2.4 0 1 0 4.8 0a2.4 2.4 0 1 0 -4.8 0M259.7 397.3a2.4 2.4 0 1 0 4.8 0a2.4 2.4 0 1 0 -4.8 0M260.2 395.2a2.4 2.4 0 1 0 4.8 0a2.4 2.4 0 1 0 -4.8 0M260.8 400.7a2.4 2.4 0 1 0 4.8 0a2.4 2.4 0 1 0 -4.8 0M261.3 399.5a2.4 2.4 0 1 0 4.8 0a2.4 2.4 0 1 0 -4.8 0M261.9 400.1a2.4 2.4 0 1 0 4.8 0a2.4 2.4 0 1 0 -4.8 0M262.5 391.7a2.4 2.4 0 1 0 4.8 0a2.4 2.4 0 1 0 -4.8 0M263.1 399.3a2.4 2.4 0 1 0 4.8 0a2.4 2.4 0 1 0 -4.8 0M263.7 401.9a2.4 2.4 0 1 0 4.8 0a2.4 2.4 0 1 0 -4.8 0M264.3 405.1a2.4 2.4 0 1 0 4.8 0a2.4 2.4 0 1 0 -4.8 0M264.9 405.7a2.4 2.4 0 1 0 4.8 0a2.4 2.4 0 1 0 -4.8 0M265.6 404.7a2.4 2.4 0 1 0 4.8 0a2.4 2.4 0 1 0 -4.8 0M266.2 398.5a2.4 2.4 0 1 0 4.8 0a2.4 2.4 0 1 0 -4.8 0M267.5 403.9a2.4 2.4 0 1 0 4.8 0a2.4 2.4 0 1 0 -4.8 0M268.9 405.6a2.4 2.4 0 1 0 4.8 0a2.4 2.4 0 1 0 -4.8 0M269.6 403.6a2.4 2.4 0 1 0 4.8 0a2.4 2.4 0 1 0 -4.8 0M270.3 404.3a2.4 2.4 0 1 0 4.8 0a2.4 2.4 0 1 0 -4.8 0M271.0 401.0a2.4 2.4 0 1 0 4.8 0a2.4 2.4 0 1 0 -4.8 0M271.7 404.6a2.4 2.4 0 1 0 4.8 0a2.4 2.4 0 1 0 -4.8 0M272.4 403.0a2.4 2.4 0 1 0 4.8 0a2.4 2.4 0 1 0 -4.8 0M273.1 404.4a2.4 2.4 0 1 0 4.8 0a2.4 2.4 0 1 0 -4.8 0M273.8 404.8a2.4 2.4 0 1 0 4.8 0a2.4 2.4 0 1 0 -4.8 0M274.5 404.2a2.4 2.4 0 1 0 4.8 0a2.4 2.4 0 1 0 -4.8 0M276.0 405.2a2.4 2.4 0 1 0 4.8 0a2.4 2.4 0 1 0 -4.8 0M276.7 406.7a2.4 2.4 0 1 0 4.8 0a2.4 2.4 0 1 0 -4.8 0M277.4 406.8a2.4 2.4 0 1 0 4.8 0a2.4 2.4 0 1 0 -4.8 0M278.1 405.7a2.4 2.4 0 1 0 4.8 0a2.4 2.4 0 1 0 -4.8 0M278.9 405.9a2.4 2.4 0 1 0 4.8 0a2.4 2.4 0 1 0 -4.8 0M280.4 406.7a2.4 2.4 0 1 0 4.8 0a2.4 2.4 0 1 0 -4.8 0M281.1 407.9a2.4 2.4 0 1 0 4.8 0a2.4 2.4 0 1 0 -4.8 0M281.8 407.1a2.4 2.4 0 1 0 4.8 0a2.4 2.4 0 1 0 -4.8 0M282.6 405.8a2.4 2.4 0 1 0 4.8 0a2.4 2.4 0 1 0 -4.8 0M283.3 405.4a2.4 2.4 0 1 0 4.8 0a2.4 2.4 0 1 0 -4.8 0M284.1 406.1a2.4 2.4 0 1 0 4.8 0a2.4 2.4 0 1 0 -4.8 0M284.8 406.0a2.4 2.4 0 1 0 4.8 0a2.4 2.4 0 1 0 -4.8 0M285.6 406.1a2.4 2.4 0 1 0 4.8 0a2.4 2.4 0 1 0 -4.8 0M286.3 403.7a2.4 2.4 0 1 0 4.8 0a2.4 2.4 0 1 0 -4.8 0M287.1 404.1a2.4 2.4 0 1 0 4.8 0a2.4 2.4 0 1 0 -4.8 0M287.8 404.3a2.4 2.4 0 1 0 4.8 0a2.4 2.4 0 1 0 -4.8 0M289.3 401.4a2.4 2.4 0 1 0 4.8 0a2.4 2.4 0 1 0 -4.8 0M290.1 404.2a2.4 2.4 0 1 0 4.8 0a2.4 2.4 0 1 0 -4.8 0M290.8 403.2a2.4 2.4 0 1 0 4.8 0a2.4 2.4 0 1 0 -4.8 0M291.6 404.3a2.4 2.4 0 1 0 4.8 0a2.4 2.4 0 1 0 -4.8 0M292.3 403.5a2.4 2.4 0 1 0 4.8 0a2.4 2.4 0 1 0 -4.8 0M294.5 405.2a2.4 2.4 0 1 0 4.8 0a2.4 2.4 0 1 0 -4.8 0M295.3 405.6a2.4 2.4 0 1 0 4.8 0a2.4 2.4 0 1 0 -4.8 0M296.0 405.8a2.4 2.4 0 1 0 4.8 0a2.4 2.4 0 1 0 -4.8 0M296.8 404.8a2.4 2.4 0 1 0 4.8 0a2.4 2.4 0 1 0 -4.8 0M297.5 406.2a2.4 2.4 0 1 0 4.8 0a2.4 2.4 0 1 0 -4.8 0M298.3 405.5a2.4 2.4 0 1 0 4.8 0a2.4 2.4 0 1 0 -4.8 0M299.0 404.8a2.4 2.4 0 1 0 4.8 0a2.4 2.4 0 1 0 -4.8 0M299.8 405.5a2.4 2.4 0 1 0 4.8 0a2.4 2.4 0 1 0 -4.8 0M300.5 405.3a2.4 2.4 0 1 0 4.8 0a2.4 2.4 0 1 0 -4.8 0M301.3 406.2a2.4 2.4 0 1 0 4.8 0a2.4 2.4 0 1 0 -4.8 0M302.0 405.4a2.4 2.4 0 1 0 4.8 0a2.4 2.4 0 1 0 -4.8 0M302.8 404.9a2.4 2.4 0 1 0 4.8 0a2.4 2.4 0 1 0 -4.8 0M303.5 407.0a2.4 2.4 0 1 0 4.8 0a2.4 2.4 0 1 0 -4.8 0M305.0 406.9a2.4 2.4 0 1 0 4.8 0a2.4 2.4 0 1 0 -4.8 0M305.8 406.2a2.4 2.4 0 1 0 4.8 0a2.4 2.4 0 1 0 -4.8 0M306.5 405.5a2.4 2.4 0 1 0 4.8 0a2.4 2.4 0 1 0 -4.8 0M307.3 405.1a2.4 2.4 0 1 0 4.8 0a2.4 2.4 0 1 0 -4.8 0M308.0 405.1a2.4 2.4 0 1 0 4.8 0a2.4 2.4 0 1 0 -4.8 0M308.8 406.3a2.4 2.4 0 1 0 4.8 0a2.4 2.4 0 1 0 -4.8 0M309.5 405.2a2.4 2.4 0 1 0 4.8 0a2.4 2.4 0 1 0 -4.8 0M310.3 403.4a2.4 2.4 0 1 0 4.8 0a2.4 2.4 0 1 0 -4.8 0M311.8 403.1a2.4 2.4 0 1 0 4.8 0a2.4 2.4 0 1 0 -4.8 0M312.5 404.6a2.4 2.4 0 1 0 4.8 0a2.4 2.4 0 1 0 -4.8 0M314.0 403.2a2.4 2.4 0 1 0 4.8 0a2.4 2.4 0 1 0 -4.8 0M314.8 404.7a2.4 2.4 0 1 0 4.8 0a2.4 2.4 0 1 0 -4.8 0M316.3 403.2a2.4 2.4 0 1 0 4.8 0a2.4 2.4 0 1 0 -4.8 0M317.0 405.8a2.4 2.4 0 1 0 4.8 0a2.4 2.4 0 1 0 -4.8 0M318.5 403.5a2.4 2.4 0 1 0 4.8 0a2.4 2.4 0 1 0 -4.8 0M320.0 404.3a2.4 2.4 0 1 0 4.8 0a2.4 2.4 0 1 0 -4.8 0M320.8 404.7a2.4 2.4 0 1 0 4.8 0a2.4 2.4 0 1 0 -4.8 0M321.5 405.3a2.4 2.4 0 1 0 4.8 0a2.4 2.4 0 1 0 -4.8 0M322.3 404.3a2.4 2.4 0 1 0 4.8 0a2.4 2.4 0 1 0 -4.8 0M323.8 406.9a2.4 2.4 0 1 0 4.8 0a2.4 2.4 0 1 0 -4.8 0M324.5 405.8a2.4 2.4 0 1 0 4.8 0a2.4 2.4 0 1 0 -4.8 0M325.3 406.4a2.4 2.4 0 1 0 4.8 0a2.4 2.4 0 1 0 -4.8 0" stroke="#888" stroke-width="1.4" fill="#fff"/>
<line x1="210.6" y1="345" x2="210.6" y2="371" stroke="#8c8c8c" stroke-width="1.2"/>
<circle cx="210.6" cy="371" r="2.1" stroke="#888" stroke-width="1.2" fill="#fff"/>
<line x1="218" y1="297" x2="218" y2="312" stroke="#8c8c8c" stroke-width="1.2"/>
<circle cx="218" cy="312" r="2.1" stroke="#888" stroke-width="1.2" fill="#fff"/>
<path d="M58.1 378.5L58.8 378.5L59.5 378.5L60.2 378.5L60.9 378.5L61.6 378.5L62.3 378.5L63.0 378.5L63.7 378.5L64.4 378.5L65.1 378.5L65.8 378.5L66.5 378.5L67.2 378.5L67.9 378.5L68.6 378.5L69.3 378.5L70.0 378.5L70.7 378.5L71.4 378.5L72.1 378.5L72.8 378.5L73.5 378.5L74.2 378.5L74.9 378.5L75.6 378.5L76.3 378.5L77.0 378.5L77.7 378.5L78.4 378.5L79.1 378.5L79.8 378.5L80.5 378.5L81.2 378.5L81.9 378.5L82.6 378.5L83.3 378.5L84.0 378.5L84.7 378.5L85.4 378.5L86.1 378.5L86.8 378.5L87.5 378.5L88.2 378.5L88.9 378.5L89.6 378.5L90.3 378.5L91.0 378.5L91.7 378.5L92.4 378.5L93.1 378.5L93.8 378.5L94.5 378.5L95.2 378.5L95.9 378.5L96.6 378.5L97.3 378.5L98.0 378.5L98.7 378.5L99.4 378.5L100.1 378.5L100.8 378.5L101.5 378.5L102.2 378.5L102.9 378.5L103.6 378.5L104.3 378.5L105.0 378.5L105.7 378.5L106.4 378.5L107.1 378.5L107.8 378.5L108.5 378.5L109.2 378.5L109.9 378.5L110.6 378.5L111.3 378.5L112.0 378.5L112.7 378.5L113.4 378.5L114.1 378.5L114.8 378.5L115.5 378.5L116.2 378.5L116.9 378.5L117.6 378.5L118.3 378.5L119.0 378.5L119.7 378.5L120.4 378.5L121.1 378.5L121.8 378.5L122.5 378.5L123.2 378.5L123.9 378.5L124.6 378.5L125.3 378.5L126.0 378.5L126.7 378.5L127.4 378.5L128.1 378.5L128.8 378.5L129.5 378.5L130.2 378.5L130.9 378.5L131.6 378.5L132.3 378.5L133.0 378.5L133.7 378.5L134.4 378.6L135.1 378.6L135.8 378.6L136.5 378.7L137.2 378.8L137.9 378.9L138.6 379.1L139.3 379.3L140.0 379.7L140.7 380.1L141.4 380.8L142.1 381.6L142.8 382.8L143.5 384.2L144.2 386.1L144.9 388.2L145.6 390.7L146.3 393.3L147.0 396.0L147.7 398.5L148.4 400.7L149.1 402.7L149.8 404.2L150.5 405.4L151.2 406.3L151.9 407.0L152.6 407.5L153.3 407.8L154.0 408.1L154.7 408.2L155.4 408.3L156.1 408.4L156.8 408.4L157.5 408.4L158.2 408.3L158.9 408.3L159.6 408.2L160.3 408.2L161.0 408.1L161.7 408.0L162.4 407.9L163.1 407.8L163.8 407.7L164.5 407.5L165.2 407.4L165.9 407.3L166.6 407.1L167.3 407.0L168.0 406.8L168.7 406.6L169.4 406.4L170.1 406.2L170.8 406.0L171.5 405.8L172.2 405.6L172.9 405.3L173.6 405.1L174.3 404.8L175.0 404.5L175.7 404.3L176.4 404.0L177.1 403.6L177.8 403.3L178.5 403.0L179.2 402.7L179.9 402.3L180.6 401.9L181.3 401.6L182.0 401.2L182.7 400.8L183.4 400.4L184.1 400.0L184.8 399.5L185.5 399.1L186.2 398.7L186.9 398.2L187.6 397.8L188.3 397.3L189.0 396.9L189.7 396.4L190.4 396.0L191.1 395.5L191.8 395.1L192.5 394.6L193.2 394.2L193.9 393.7L194.6 393.3L195.3 392.9L196.0 392.4L196.7 392.0L197.4 391.6L198.1 391.2L198.8 390.8L199.5 390.5L200.2 390.1L200.9 389.8L201.6 389.5L202.3 389.2L203.0 388.9L203.7 388.6L204.4 388.4L205.1 388.2L205.8 388.0L206.5 387.8L207.2 387.7L207.9 387.5L208.6 387.4L209.3 387.4L210.0 387.3L210.7 387.3L211.4 387.3L212.1 387.3L212.8 387.4L213.5 387.5L214.2 387.6L214.9 387.7L215.6 387.9L216.3 388.1L217.0 388.3L217.7 388.5L218.4 388.7L219.1 389.0L219.8 389.3L220.5 389.6L221.2 389.9L221.9 390.3L222.6 390.6L223.3 391.0L224.0 391.4L224.7 391.8L225.4 392.2L226.1 392.6L226.8 393.0L227.5 393.5L228.2 393.9L228.9 394.4L229.6 394.8L230.3 395.3L231.0 395.7L231.7 396.2L232.4 396.6L233.1 397.1L233.8 397.5L234.5 398.0L235.2 398.4L235.9 398.9L236.6 399.3L237.3 399.7L238.0 400.1L238.7 400.5L239.4 400.9L240.1 401.3L240.8 401.7L241.5 402.1L242.2 402.5L242.9 402.8L243.6 403.1L244.3 403.5L245.0 403.8L245.7 404.1L246.4 404.4L247.1 404.7L247.8 404.9L248.5 405.2L249.2 405.4L249.9 405.7L250.6 405.9L251.3 406.1L252.0 406.3L252.7 406.5L253.4 406.7L254.1 406.9L254.8 407.0L255.5 407.2L256.2 407.3L256.9 407.5L257.6 407.6L258.3 407.7L259.0 407.8L259.7 407.9L260.4 408.0L261.1 408.1L261.8 408.2L262.5 408.3L263.2 408.4L263.9 408.5L264.6 408.5L265.3 408.6L266.0 408.6L266.7 408.7L267.4 408.7L268.1 408.8L268.8 408.8L269.5 408.8L270.2 408.9L270.9 408.9L271.6 408.9L272.3 409.0L273.0 409.0L273.7 409.0L274.4 409.0L275.1 409.0L275.8 409.1L276.5 409.1L277.2 409.1L277.9 409.1L278.6 409.1L279.3 409.1L280.0 409.1L280.7 409.1L281.4 409.1L282.1 409.2L282.8 409.2L283.5 409.2L284.2 409.2L284.9 409.2L285.6 409.2L286.3 409.2L287.0 409.2L287.7 409.2L288.4 409.2L289.1 409.2L289.8 409.2L290.5 409.2L291.2 409.2L291.9 409.2L292.6 409.2L293.3 409.2L294.0 409.2L294.7 409.2L295.4 409.2L296.1 409.2L296.8 409.2L297.5 409.2L298.2 409.2L298.9 409.2L299.6 409.2L300.3 409.2L301.0 409.2L301.7 409.2L302.4 409.2L303.1 409.2L303.8 409.2L304.5 409.2L305.2 409.2L305.9 409.2L306.6 409.2L307.3 409.2L308.0 409.2L308.7 409.2L309.4 409.2L310.1 409.2L310.8 409.2L311.5 409.2L312.2 409.2L312.9 409.2L313.6 409.2L314.3 409.2L315.0 409.2L315.7 409.2L316.4 409.2L317.1 409.2L317.8 409.2L318.5 409.2L319.2 409.2L319.9 409.2L320.6 409.2L321.3 409.2L322.0 409.2L322.7 409.2L323.4 409.2L324.1 409.2L324.8 409.2L325.5 409.2L326.2 409.2L326.9 409.2L327.6 409.2" stroke="#d92b2b" stroke-width="2.6" fill="none"/>
<path d="M58.1 378.5L58.8 378.5L59.5 378.5L60.2 378.5L60.9 378.5L61.6 378.5L62.3 378.5L63.0 378.5L63.7 378.5L64.4 378.5L65.1 378.5L65.8 378.5L66.5 378.5L67.2 378.5L67.9 378.5L68.6 378.5L69.3 378.5L70.0 378.5L70.7 378.5L71.4 378.5L72.1 378.5L72.8 378.5L73.5 378.5L74.2 378.5L74.9 378.5L75.6 378.5L76.3 378.5L77.0 378.5L77.7 378.5L78.4 378.5L79.1 378.5L79.8 378.5L80.5 378.5L81.2 378.5L81.9 378.5L82.6 378.5L83.3 378.5L84.0 378.5L84.7 378.5L85.4 378.5L86.1 378.5L86.8 378.5L87.5 378.5L88.2 378.5L88.9 378.5L89.6 378.5L90.3 378.5L91.0 378.5L91.7 378.5L92.4 378.5L93.1 378.5L93.8 378.5L94.5 378.5L95.2 378.5L95.9 378.5L96.6 378.5L97.3 378.5L98.0 378.5L98.7 378.5L99.4 378.5L100.1 378.5L100.8 378.5L101.5 378.5L102.2 378.5L102.9 378.5L103.6 378.5L104.3 378.5L105.0 378.5L105.7 378.5L106.4 378.5L107.1 378.5L107.8 378.5L108.5 378.5L109.2 378.5L109.9 378.5L110.6 378.5L111.3 378.5L112.0 378.5L112.7 378.5L113.4 378.5L114.1 378.5L114.8 378.5L115.5 378.5L116.2 378.5L116.9 378.5L117.6 378.5L118.3 378.5L119.0 378.5L119.7 378.5L120.4 378.5L121.1 378.5L121.8 378.5L122.5 378.5L123.2 378.5L123.9 378.5L124.6 378.5L125.3 378.5L126.0 378.5L126.7 378.5L127.4 378.5L128.1 378.5L128.8 378.5L129.5 378.5L130.2 378.5L130.9 378.5L131.6 378.5L132.3 378.5L133.0 378.5L133.7 378.5L134.4 378.6L135.1 378.6L135.8 378.6L136.5 378.7L137.2 378.8L137.9 378.9L138.6 379.1L139.3 379.3L140.0 379.6L140.7 380.1L141.4 380.8L142.1 381.6L142.8 382.8L143.5 384.2L144.2 386.1L144.9 388.2L145.6 390.7L146.3 393.3L147.0 396.0L147.7 398.5L148.4 400.7L149.1 402.7L149.8 404.2L150.5 405.4L151.2 406.3L151.9 407.0L152.6 407.5L153.3 407.8L154.0 408.1L154.7 408.2L155.4 408.3L156.1 408.3L156.8 408.4L157.5 408.3L158.2 408.3L158.9 408.2L159.6 408.2L160.3 408.1L161.0 408.0L161.7 407.9L162.4 407.8L163.1 407.7L163.8 407.5L164.5 407.4L165.2 407.3L165.9 407.1L166.6 406.9L167.3 406.7L168.0 406.5L168.7 406.3L169.4 406.1L170.1 405.8L170.8 405.5L171.5 405.2L172.2 404.9L172.9 404.6L173.6 404.3L174.3 403.9L175.0 403.5L175.7 403.1L176.4 402.6L177.1 402.1L177.8 401.6L178.5 401.1L179.2 400.5L179.9 399.9L180.6 399.3L181.3 398.6L182.0 397.9L182.7 397.1L183.4 396.3L184.1 395.5L184.8 394.6L185.5 393.7L186.2 392.7L186.9 391.7L187.6 390.6L188.3 389.5L189.0 388.3L189.7 387.1L190.4 385.8L191.1 384.4L191.8 383.0L192.5 381.6L193.2 380.1L193.9 378.5L194.6 376.9L195.3 375.2L196.0 373.4L196.7 371.7L197.4 369.8L198.1 367.9L198.8 366.0L199.5 364.0L200.2 362.0L200.9 359.9L201.6 357.8L202.3 355.7L203.0 353.6L203.7 351.4L204.4 349.2L205.1 347.0L205.8 344.8L206.5 342.6L207.2 340.4L207.9 338.2L208.6 336.0L209.3 333.9L210.0 331.8L210.7 329.8L211.4 327.8L212.1 325.9L212.8 324.0L213.5 322.2L214.2 320.5L214.9 318.9L215.6 317.4L216.3 316.0L217.0 314.7L217.7 313.5L218.4 312.5L219.1 311.6L219.8 310.8L220.5 310.1L221.2 309.6L221.9 309.3L222.6 309.1L223.3 309.0L224.0 309.1L224.7 309.3L225.4 309.7L226.1 310.3L226.8 311.0L227.5 311.8L228.2 312.8L228.9 313.9L229.6 315.2L230.3 316.6L231.0 318.1L231.7 319.7L232.4 321.4L233.1 323.3L233.8 325.2L234.5 327.2L235.2 329.3L235.9 331.5L236.6 333.7L237.3 336.0L238.0 338.3L238.7 340.7L239.4 343.1L240.1 345.5L240.8 347.9L241.5 350.3L242.2 352.7L242.9 355.1L243.6 357.5L244.3 359.9L245.0 362.2L245.7 364.5L246.4 366.8L247.1 369.0L247.8 371.1L248.5 373.2L249.2 375.3L249.9 377.2L250.6 379.1L251.3 381.0L252.0 382.8L252.7 384.5L253.4 386.1L254.1 387.6L254.8 389.1L255.5 390.5L256.2 391.9L256.9 393.2L257.6 394.4L258.3 395.5L259.0 396.6L259.7 397.6L260.4 398.5L261.1 399.4L261.8 400.2L262.5 401.0L263.2 401.7L263.9 402.4L264.6 403.0L265.3 403.6L266.0 404.1L266.7 404.6L267.4 405.0L268.1 405.4L268.8 405.8L269.5 406.1L270.2 406.4L270.9 406.7L271.6 407.0L272.3 407.2L273.0 407.4L273.7 407.6L274.4 407.8L275.1 408.0L275.8 408.1L276.5 408.2L277.2 408.3L277.9 408.4L278.6 408.5L279.3 408.6L280.0 408.7L280.7 408.7L281.4 408.8L282.1 408.9L282.8 408.9L283.5 408.9L284.2 409.0L284.9 409.0L285.6 409.0L286.3 409.1L287.0 409.1L287.7 409.1L288.4 409.1L289.1 409.1L289.8 409.1L290.5 409.1L291.2 409.1L291.9 409.2L292.6 409.2L293.3 409.2L294.0 409.2L294.7 409.2L295.4 409.2L296.1 409.2L296.8 409.2L297.5 409.2L298.2 409.2L298.9 409.2L299.6 409.2L300.3 409.2L301.0 409.2L301.7 409.2L302.4 409.2L303.1 409.2L303.8 409.2L304.5 409.2L305.2 409.2L305.9 409.2L306.6 409.2L307.3 409.2L308.0 409.2L308.7 409.2L309.4 409.2L310.1 409.2L310.8 409.2L311.5 409.2L312.2 409.2L312.9 409.2L313.6 409.2L314.3 409.2L315.0 409.2L315.7 409.2L316.4 409.2L317.1 409.2L317.8 409.2L318.5 409.2L319.2 409.2L319.9 409.2L320.6 409.2L321.3 409.2L322.0 409.2L322.7 409.2L323.4 409.2L324.1 409.2L324.8 409.2L325.5 409.2L326.2 409.2L326.9 409.2L327.6 409.2" stroke="#2a2f88" stroke-width="2.6" fill="none" stroke-dasharray="7 3.5"/>
<polyline points="58.3,532.3 59.0,529.9 59.7,527.3 60.5,508.7 61.2,528.1 62.0,506.4 62.7,527.9 63.5,524.2 64.2,525.3 65.0,525.3 65.7,521.8 66.5,516.1 67.2,518.7 68.0,533.4 68.7,517.6 69.5,520.5 70.2,516.5 71.0,517.5 71.7,518.3 72.5,521.7 73.2,516.4 74.0,515.1 74.7,512.7 75.5,518.3 76.2,508.1 77.0,520.4 77.7,531.9 78.5,517.8 79.2,524.8 80.0,547.7 80.7,518.2 81.5,512.4 82.2,519.9 83.0,534.9 83.7,534.2 84.5,506.8 85.2,518.6 86.0,512.8 86.7,507.5 87.5,496.8 88.2,520.0 89.0,506.0 89.7,515.6 90.5,514.4 91.2,528.4 92.0,523.0 92.7,504.6 93.5,510.9 94.2,520.4 95.0,502.0 95.7,509.6 96.5,515.2 97.2,502.5 98.0,507.2 98.7,505.5 99.5,521.9 100.2,517.1 101.0,528.6 101.7,523.7 102.5,527.6 103.2,524.9 104.0,531.2 104.7,529.1 105.5,528.4 106.2,538.6 107.0,539.7 107.7,542.8 108.5,538.7 109.2,538.7 111.5,538.9 113.0,539.7 113.7,538.1 114.5,541.6 115.2,540.6 116.0,541.1 116.7,541.4 117.5,542.0 118.2,543.1 119.7,543.2 120.5,543.3 121.2,545.3 122.0,543.3 122.7,546.3 123.5,545.3 124.2,546.4 125.7,545.7 126.5,545.3 127.2,543.5 128.0,544.9 128.7,544.8 129.5,544.4 130.2,544.6 131.0,543.8 131.7,544.6 132.5,545.1 133.2,543.7 134.0,542.6 134.7,545.1 135.5,543.5 136.2,543.8 137.0,543.5 137.7,543.2 138.5,544.5 139.2,543.6 140.7,543.2 141.5,543.4 142.2,544.9 143.0,547.5 143.7,545.9 145.2,546.3 146.0,546.3 147.5,545.8 149.0,546.8 150.5,544.8 151.2,546.4 152.0,544.3 152.7,545.7 153.5,543.7 155.0,546.1 156.5,544.8 157.2,544.6 158.0,544.3 158.7,544.3 159.5,545.5 160.2,545.5 161.0,544.8 162.5,543.9 163.2,544.8 164.0,544.5 164.7,543.1 165.5,545.2 166.2,547.2 167.0,543.4 167.7,544.9 168.5,546.6 169.2,544.7 170.0,544.9 171.5,545.9 172.2,544.9 173.0,546.2 173.7,543.1 174.5,545.6 175.2,545.2 176.0,544.5 176.7,545.0 177.5,544.6 179.7,544.0 180.5,542.4 181.2,542.6 182.0,543.4 182.7,542.0 183.5,542.8 184.2,542.5 185.0,543.6 185.7,544.5 186.5,545.5 187.2,542.7 188.0,544.5 188.7,545.6 189.5,546.0 190.2,546.0 191.0,543.0 191.7,544.0 192.5,545.1 193.2,545.7 194.0,545.2 194.7,545.4 196.2,544.7 197.0,545.7 197.7,546.3 198.5,545.0 199.2,546.4 200.0,542.0 200.7,544.3 201.5,546.2 202.2,545.2 203.0,545.6 203.7,544.2 204.5,542.8 205.2,543.5 206.0,545.6 206.7,542.3 207.5,543.3 209.0,544.0 210.5,545.2 211.2,543.7 212.0,546.2 212.7,545.0 213.5,543.8 214.2,543.3 215.0,542.9 215.7,544.7 216.5,546.8 217.2,544.7 218.0,544.0 218.7,545.2 219.5,544.9 220.2,544.6 221.0,543.5 221.7,545.5 224.7,545.3 225.5,545.4 226.2,545.9 227.7,544.6 228.4,543.5 229.2,545.5 229.9,542.4 230.6,544.7 231.3,544.9 232.1,544.8 232.8,544.3 233.5,541.7 234.2,540.9 234.9,540.6 235.6,540.2 236.2,538.2 236.9,539.9 237.5,539.6 238.2,539.1 238.8,543.2 239.4,539.9 240.0,543.0 240.6,546.8 241.1,547.0 241.7,539.8 242.2,542.6 242.8,538.2 243.3,545.9 243.8,541.6 244.2,538.3 244.7,531.6 245.2,530.9 245.6,535.2 246.1,532.6 246.5,532.0 247.0,537.9 247.4,526.6 247.9,521.5 248.3,526.5 248.8,524.1 249.2,529.3 249.7,521.8 250.1,524.2 250.6,508.5 251.0,532.1 251.5,521.8 251.9,509.4 252.4,516.0 252.8,520.9 253.3,515.1 253.7,504.7 254.2,509.1 254.6,510.4 255.1,490.2 255.5,487.2 256.0,494.7 256.4,509.6 256.9,513.9 257.3,498.8 257.8,511.1 258.2,503.3 258.7,488.5 259.1,477.4 259.6,474.5 260.0,478.7 260.5,490.1 260.9,479.9 261.4,451.0 261.8,448.7 262.3,471.2 262.7,462.2 263.2,447.2 263.6,467.6 264.1,476.7 264.5,469.4 265.0,459.7 265.4,474.3 265.9,449.6 266.3,444.5 266.8,438.0 267.2,474.5 267.7,477.1 268.1,447.7 268.6,456.8 269.0,455.5 269.5,462.7 269.9,466.6 270.4,459.8 270.8,449.2 271.3,443.4 271.7,436.5 272.2,436.0 272.6,449.4 273.1,439.4 273.5,451.7 274.0,450.2 274.4,438.0 274.9,445.3 275.3,457.4 275.8,453.3 276.2,438.1 276.7,438.8 277.1,455.6 277.6,451.0 278.0,452.5 278.5,447.7 278.9,461.2 279.4,455.1 279.8,487.6 280.3,452.1 280.7,451.2 281.2,481.7 281.6,463.4 282.1,458.4 282.5,476.5 283.0,456.3 283.4,485.9 283.9,485.6 284.3,492.0 284.8,483.3 285.2,507.1 285.7,497.0 286.1,493.2 286.6,496.2 287.0,483.6 287.5,489.7 287.9,476.6 288.4,480.7 288.8,494.2 289.3,494.2 289.7,501.9 290.2,493.5 290.6,501.8 291.1,501.4 291.5,512.8 292.0,520.3 292.4,525.4 292.9,524.4 293.3,517.2 293.8,525.4 294.2,518.5 294.7,513.9 295.1,527.2 295.6,526.9 296.0,530.9 296.5,531.6 296.9,521.4 297.4,524.1 297.8,529.9 298.3,531.6 298.8,534.7 299.3,528.8 299.8,535.1 300.3,539.8 300.9,545.5 301.4,534.5 302.0,545.1 302.6,539.0 303.2,535.7 303.8,544.2 304.4,537.5 305.1,537.6 305.7,542.6 307.1,541.4 307.8,540.0 308.5,538.9 309.2,542.3 309.9,538.5 310.6,540.6 311.3,545.0 312.0,544.7 313.5,544.8 314.2,542.9 317.2,546.3 317.9,543.7 318.7,546.0 320.2,544.9 320.9,543.0 322.4,545.9 323.2,543.1 323.9,544.3 324.7,544.0 325.4,543.0 326.2,545.7 326.9,544.7 327.7,544.7" stroke="#a0a0a0" stroke-width="0.6" fill="none"/>
<path d="M55.9 532.3a2.4 2.4 0 1 0 4.8 0a2.4 2.4 0 1 0 -4.8 0M56.6 529.9a2.4 2.4 0 1 0 4.8 0a2.4 2.4 0 1 0 -4.8 0M57.3 527.3a2.4 2.4 0 1 0 4.8 0a2.4 2.4 0 1 0 -4.8 0M58.1 508.7a2.4 2.4 0 1 0 4.8 0a2.4 2.4 0 1 0 -4.8 0M58.8 528.1a2.4 2.4 0 1 0 4.8 0a2.4 2.4 0 1 0 -4.8 0M59.6 506.4a2.4 2.4 0 1 0 4.8 0a2.4 2.4 0 1 0 -4.8 0M60.3 527.9a2.4 2.4 0 1 0 4.8 0a2.4 2.4 0 1 0 -4.8 0M61.1 524.2a2.4 2.4 0 1 0 4.8 0a2.4 2.4 0 1 0 -4.8 0M61.8 525.3a2.4 2.4 0 1 0 4.8 0a2.4 2.4 0 1 0 -4.8 0M62.6 525.3a2.4 2.4 0 1 0 4.8 0a2.4 2.4 0 1 0 -4.8 0M63.3 521.8a2.4 2.4 0 1 0 4.8 0a2.4 2.4 0 1 0 -4.8 0M64.1 516.1a2.4 2.4 0 1 0 4.8 0a2.4 2.4 0 1 0 -4.8 0M64.8 518.7a2.4 2.4 0 1 0 4.8 0a2.4 2.4 0 1 0 -4.8 0M65.6 533.4a2.4 2.4 0 1 0 4.8 0a2.4 2.4 0 1 0 -4.8 0M66.3 517.6a2.4 2.4 0 1 0 4.8 0a2.4 2.4 0 1 0 -4.8 0M67.1 520.5a2.4 2.4 0 1 0 4.8 0a2.4 2.4 0 1 0 -4.8 0M67.8 516.5a2.4 2.4 0 1 0 4.8 0a2.4 2.4 0 1 0 -4.8 0M68.6 517.5a2.4 2.4 0 1 0 4.8 0a2.4 2.4 0 1 0 -4.8 0M69.3 518.3a2.4 2.4 0 1 0 4.8 0a2.4 2.4 0 1 0 -4.8 0M70.1 521.7a2.4 2.4 0 1 0 4.8 0a2.4 2.4 0 1 0 -4.8 0M70.8 516.4a2.4 2.4 0 1 0 4.8 0a2.4 2.4 0 1 0 -4.8 0M71.6 515.1a2.4 2.4 0 1 0 4.8 0a2.4 2.4 0 1 0 -4.8 0M72.3 512.7a2.4 2.4 0 1 0 4.8 0a2.4 2.4 0 1 0 -4.8 0M73.1 518.3a2.4 2.4 0 1 0 4.8 0a2.4 2.4 0 1 0 -4.8 0M73.8 508.1a2.4 2.4 0 1 0 4.8 0a2.4 2.4 0 1 0 -4.8 0M74.6 520.4a2.4 2.4 0 1 0 4.8 0a2.4 2.4 0 1 0 -4.8 0M75.3 531.9a2.4 2.4 0 1 0 4.8 0a2.4 2.4 0 1 0 -4.8 0M76.1 517.8a2.4 2.4 0 1 0 4.8 0a2.4 2.4 0 1 0 -4.8 0M76.8 524.8a2.4 2.4 0 1 0 4.8 0a2.4 2.4 0 1 0 -4.8 0M77.6 547.7a2.4 2.4 0 1 0 4.8 0a2.4 2.4 0 1 0 -4.8 0M78.3 518.2a2.4 2.4 0 1 0 4.8 0a2.4 2.4 0 1 0 -4.8 0M79.1 512.4a2.4 2.4 0 1 0 4.8 0a2.4 2.4 0 1 0 -4.8 0M79.8 519.9a2.4 2.4 0 1 0 4.8 0a2.4 2.4 0 1 0 -4.8 0M80.6 534.9a2.4 2.4 0 1 0 4.8 0a2.4 2.4 0 1 0 -4.8 0M81.3 534.2a2.4 2.4 0 1 0 4.8 0a2.4 2.4 0 1 0 -4.8 0M82.1 506.8a2.4 2.4 0 1 0 4.8 0a2.4 2.4 0 1 0 -4.8 0M82.8 518.6a2.4 2.4 0 1 0 4.8 0a2.4 2.4 0 1 0 -4.8 0M83.6 512.8a2.4 2.4 0 1 0 4.8 0a2.4 2.4 0 1 0 -4.8 0M84.3 507.5a2.4 2.4 0 1 0 4.8 0a2.4 2.4 0 1 0 -4.8 0M85.1 496.8a2.4 2.4 0 1 0 4.8 0a2.4 2.4 0 1 0 -4.8 0M85.8 520.0a2.4 2.4 0 1 0 4.8 0a2.4 2.4 0 1 0 -4.8 0M86.6 506.0a2.4 2.4 0 1 0 4.8 0a2.4 2.4 0 1 0 -4.8 0M87.3 515.6a2.4 2.4 0 1 0 4.8 0a2.4 2.4 0 1 0 -4.8 0M88.1 514.4a2.4 2.4 0 1 0 4.8 0a2.4 2.4 0 1 0 -4.8 0M88.8 528.4a2.4 2.4 0 1 0 4.8 0a2.4 2.4 0 1 0 -4.8 0M89.6 523.0a2.4 2.4 0 1 0 4.8 0a2.4 2.4 0 1 0 -4.8 0M90.3 504.6a2.4 2.4 0 1 0 4.8 0a2.4 2.4 0 1 0 -4.8 0M91.1 510.9a2.4 2.4 0 1 0 4.8 0a2.4 2.4 0 1 0 -4.8 0M91.8 520.4a2.4 2.4 0 1 0 4.8 0a2.4 2.4 0 1 0 -4.8 0M92.6 502.0a2.4 2.4 0 1 0 4.8 0a2.4 2.4 0 1 0 -4.8 0M93.3 509.6a2.4 2.4 0 1 0 4.8 0a2.4 2.4 0 1 0 -4.8 0M94.1 515.2a2.4 2.4 0 1 0 4.8 0a2.4 2.4 0 1 0 -4.8 0M94.8 502.5a2.4 2.4 0 1 0 4.8 0a2.4 2.4 0 1 0 -4.8 0M95.6 507.2a2.4 2.4 0 1 0 4.8 0a2.4 2.4 0 1 0 -4.8 0M96.3 505.5a2.4 2.4 0 1 0 4.8 0a2.4 2.4 0 1 0 -4.8 0M97.1 521.9a2.4 2.4 0 1 0 4.8 0a2.4 2.4 0 1 0 -4.8 0M97.8 517.1a2.4 2.4 0 1 0 4.8 0a2.4 2.4 0 1 0 -4.8 0M98.6 528.6a2.4 2.4 0 1 0 4.8 0a2.4 2.4 0 1 0 -4.8 0M99.3 523.7a2.4 2.4 0 1 0 4.8 0a2.4 2.4 0 1 0 -4.8 0M100.1 527.6a2.4 2.4 0 1 0 4.8 0a2.4 2.4 0 1 0 -4.8 0M100.8 524.9a2.4 2.4 0 1 0 4.8 0a2.4 2.4 0 1 0 -4.8 0M101.6 531.2a2.4 2.4 0 1 0 4.8 0a2.4 2.4 0 1 0 -4.8 0M102.3 529.1a2.4 2.4 0 1 0 4.8 0a2.4 2.4 0 1 0 -4.8 0M103.1 528.4a2.4 2.4 0 1 0 4.8 0a2.4 2.4 0 1 0 -4.8 0M103.8 538.6a2.4 2.4 0 1 0 4.8 0a2.4 2.4 0 1 0 -4.8 0M104.6 539.7a2.4 2.4 0 1 0 4.8 0a2.4 2.4 0 1 0 -4.8 0M105.3 542.8a2.4 2.4 0 1 0 4.8 0a2.4 2.4 0 1 0 -4.8 0M106.1 538.7a2.4 2.4 0 1 0 4.8 0a2.4 2.4 0 1 0 -4.8 0M106.8 538.7a2.4 2.4 0 1 0 4.8 0a2.4 2.4 0 1 0 -4.8 0M109.1 538.9a2.4 2.4 0 1 0 4.8 0a2.4 2.4 0 1 0 -4.8 0M110.6 539.7a2.4 2.4 0 1 0 4.8 0a2.4 2.4 0 1 0 -4.8 0M111.3 538.1a2.4 2.4 0 1 0 4.8 0a2.4 2.4 0 1 0 -4.8 0M112.1 541.6a2.4 2.4 0 1 0 4.8 0a2.4 2.4 0 1 0 -4.8 0M112.8 540.6a2.4 2.4 0 1 0 4.8 0a2.4 2.4 0 1 0 -4.8 0M113.6 541.1a2.4 2.4 0 1 0 4.8 0a2.4 2.4 0 1 0 -4.8 0M114.3 541.4a2.4 2.4 0 1 0 4.8 0a2.4 2.4 0 1 0 -4.8 0M115.1 542.0a2.4 2.4 0 1 0 4.8 0a2.4 2.4 0 1 0 -4.8 0M115.8 543.1a2.4 2.4 0 1 0 4.8 0a2.4 2.4 0 1 0 -4.8 0M117.3 543.2a2.4 2.4 0 1 0 4.8 0a2.4 2.4 0 1 0 -4.8 0M118.1 543.3a2.4 2.4 0 1 0 4.8 0a2.4 2.4 0 1 0 -4.8 0M118.8 545.3a2.4 2.4 0 1 0 4.8 0a2.4 2.4 0 1 0 -4.8 0M119.6 543.3a2.4 2.4 0 1 0 4.8 0a2.4 2.4 0 1 0 -4.8 0M120.3 546.3a2.4 2.4 0 1 0 4.8 0a2.4 2.4 0 1 0 -4.8 0M121.1 545.3a2.4 2.4 0 1 0 4.8 0a2.4 2.4 0 1 0 -4.8 0M121.8 546.4a2.4 2.4 0 1 0 4.8 0a2.4 2.4 0 1 0 -4.8 0M123.3 545.7a2.4 2.4 0 1 0 4.8 0a2.4 2.4 0 1 0 -4.8 0M124.1 545.3a2.4 2.4 0 1 0 4.8 0a2.4 2.4 0 1 0 -4.8 0M124.8 543.5a2.4 2.4 0 1 0 4.8 0a2.4 2.4 0 1 0 -4.8 0M125.6 544.9a2.4 2.4 0 1 0 4.8 0a2.4 2.4 0 1 0 -4.8 0M126.3 544.8a2.4 2.4 0 1 0 4.8 0a2.4 2.4 0 1 0 -4.8 0M127.1 544.4a2.4 2.4 0 1 0 4.8 0a2.4 2.4 0 1 0 -4.8 0M127.8 544.6a2.4 2.4 0 1 0 4.8 0a2.4 2.4 0 1 0 -4.8 0M128.6 543.8a2.4 2.4 0 1 0 4.8 0a2.4 2.4 0 1 0 -4.8 0M129.3 544.6a2.4 2.4 0 1 0 4.8 0a2.4 2.4 0 1 0 -4.8 0M130.1 545.1a2.4 2.4 0 1 0 4.8 0a2.4 2.4 0 1 0 -4.8 0M130.8 543.7a2.4 2.4 0 1 0 4.8 0a2.4 2.4 0 1 0 -4.8 0M131.6 542.6a2.4 2.4 0 1 0 4.8 0a2.4 2.4 0 1 0 -4.8 0M132.3 545.1a2.4 2.4 0 1 0 4.8 0a2.4 2.4 0 1 0 -4.8 0M133.1 543.5a2.4 2.4 0 1 0 4.8 0a2.4 2.4 0 1 0 -4.8 0M133.8 543.8a2.4 2.4 0 1 0 4.8 0a2.4 2.4 0 1 0 -4.8 0M134.6 543.5a2.4 2.4 0 1 0 4.8 0a2.4 2.4 0 1 0 -4.8 0M135.3 543.2a2.4 2.4 0 1 0 4.8 0a2.4 2.4 0 1 0 -4.8 0M136.1 544.5a2.4 2.4 0 1 0 4.8 0a2.4 2.4 0 1 0 -4.8 0M136.8 543.6a2.4 2.4 0 1 0 4.8 0a2.4 2.4 0 1 0 -4.8 0M138.3 543.2a2.4 2.4 0 1 0 4.8 0a2.4 2.4 0 1 0 -4.8 0M139.1 543.4a2.4 2.4 0 1 0 4.8 0a2.4 2.4 0 1 0 -4.8 0M139.8 544.9a2.4 2.4 0 1 0 4.8 0a2.4 2.4 0 1 0 -4.8 0M140.6 547.5a2.4 2.4 0 1 0 4.8 0a2.4 2.4 0 1 0 -4.8 0M141.3 545.9a2.4 2.4 0 1 0 4.8 0a2.4 2.4 0 1 0 -4.8 0M142.8 546.3a2.4 2.4 0 1 0 4.8 0a2.4 2.4 0 1 0 -4.8 0M143.6 546.3a2.4 2.4 0 1 0 4.8 0a2.4 2.4 0 1 0 -4.8 0M145.1 545.8a2.4 2.4 0 1 0 4.8 0a2.4 2.4 0 1 0 -4.8 0M146.6 546.8a2.4 2.4 0 1 0 4.8 0a2.4 2.4 0 1 0 -4.8 0M148.1 544.8a2.4 2.4 0 1 0 4.8 0a2.4 2.4 0 1 0 -4.8 0M148.8 546.4a2.4 2.4 0 1 0 4.8 0a2.4 2.4 0 1 0 -4.8 0M149.6 544.3a2.4 2.4 0 1 0 4.8 0a2.4 2.4 0 1 0 -4.8 0M150.3 545.7a2.4 2.4 0 1 0 4.8 0a2.4 2.4 0 1 0 -4.8 0M151.1 543.7a2.4 2.4 0 1 0 4.8 0a2.4 2.4 0 1 0 -4.8 0M152.6 546.1a2.4 2.4 0 1 0 4.8 0a2.4 2.4 0 1 0 -4.8 0M154.1 544.8a2.4 2.4 0 1 0 4.8 0a2.4 2.4 0 1 0 -4.8 0M154.8 544.6a2.4 2.4 0 1 0 4.8 0a2.4 2.4 0 1 0 -4.8 0M155.6 544.3a2.4 2.4 0 1 0 4.8 0a2.4 2.4 0 1 0 -4.8 0M156.3 544.3a2.4 2.4 0 1 0 4.8 0a2.4 2.4 0 1 0 -4.8 0M157.1 545.5a2.4 2.4 0 1 0 4.8 0a2.4 2.4 0 1 0 -4.8 0M157.8 545.5a2.4 2.4 0 1 0 4.8 0a2.4 2.4 0 1 0 -4.8 0M158.6 544.8a2.4 2.4 0 1 0 4.8 0a2.4 2.4 0 1 0 -4.8 0M160.1 543.9a2.4 2.4 0 1 0 4.8 0a2.4 2.4 0 1 0 -4.8 0M160.8 544.8a2.4 2.4 0 1 0 4.8 0a2.4 2.4 0 1 0 -4.8 0M161.6 544.5a2.4 2.4 0 1 0 4.8 0a2.4 2.4 0 1 0 -4.8 0M162.3 543.1a2.4 2.4 0 1 0 4.8 0a2.4 2.4 0 1 0 -4.8 0M163.1 545.2a2.4 2.4 0 1 0 4.8 0a2.4 2.4 0 1 0 -4.8 0M163.8 547.2a2.4 2.4 0 1 0 4.8 0a2.4 2.4 0 1 0 -4.8 0M164.6 543.4a2.4 2.4 0 1 0 4.8 0a2.4 2.4 0 1 0 -4.8 0M165.3 544.9a2.4 2.4 0 1 0 4.8 0a2.4 2.4 0 1 0 -4.8 0M166.1 546.6a2.4 2.4 0 1 0 4.8 0a2.4 2.4 0 1 0 -4.8 0M166.8 544.7a2.4 2.4 0 1 0 4.8 0a2.4 2.4 0 1 0 -4.8 0M167.6 544.9a2.4 2.4 0 1 0 4.8 0a2.4 2.4 0 1 0 -4.8 0M169.1 545.9a2.4 2.4 0 1 0 4.8 0a2.4 2.4 0 1 0 -4.8 0M169.8 544.9a2.4 2.4 0 1 0 4.8 0a2.4 2.4 0 1 0 -4.8 0M170.6 546.2a2.4 2.4 0 1 0 4.8 0a2.4 2.4 0 1 0 -4.8 0M171.3 543.1a2.4 2.4 0 1 0 4.8 0a2.4 2.4 0 1 0 -4.8 0M172.1 545.6a2.4 2.4 0 1 0 4.8 0a2.4 2.4 0 1 0 -4.8 0M172.8 545.2a2.4 2.4 0 1 0 4.8 0a2.4 2.4 0 1 0 -4.8 0M173.6 544.5a2.4 2.4 0 1 0 4.8 0a2.4 2.4 0 1 0 -4.8 0M174.3 545.0a2.4 2.4 0 1 0 4.8 0a2.4 2.4 0 1 0 -4.8 0M175.1 544.6a2.4 2.4 0 1 0 4.8 0a2.4 2.4 0 1 0 -4.8 0M177.3 544.0a2.4 2.4 0 1 0 4.8 0a2.4 2.4 0 1 0 -4.8 0M178.1 542.4a2.4 2.4 0 1 0 4.8 0a2.4 2.4 0 1 0 -4.8 0M178.8 542.6a2.4 2.4 0 1 0 4.8 0a2.4 2.4 0 1 0 -4.8 0M179.6 543.4a2.4 2.4 0 1 0 4.8 0a2.4 2.4 0 1 0 -4.8 0M180.3 542.0a2.4 2.4 0 1 0 4.8 0a2.4 2.4 0 1 0 -4.8 0M181.1 542.8a2.4 2.4 0 1 0 4.8 0a2.4 2.4 0 1 0 -4.8 0M181.8 542.5a2.4 2.4 0 1 0 4.8 0a2.4 2.4 0 1 0 -4.8 0M182.6 543.6a2.4 2.4 0 1 0 4.8 0a2.4 2.4 0 1 0 -4.8 0M183.3 544.5a2.4 2.4 0 1 0 4.8 0a2.4 2.4 0 1 0 -4.8 0M184.1 545.5a2.4 2.4 0 1 0 4.8 0a2.4 2.4 0 1 0 -4.8 0M184.8 542.7a2.4 2.4 0 1 0 4.8 0a2.4 2.4 0 1 0 -4.8 0M185.6 544.5a2.4 2.4 0 1 0 4.8 0a2.4 2.4 0 1 0 -4.8 0M186.3 545.6a2.4 2.4 0 1 0 4.8 0a2.4 2.4 0 1 0 -4.8 0M187.1 546.0a2.4 2.4 0 1 0 4.8 0a2.4 2.4 0 1 0 -4.8 0M187.8 546.0a2.4 2.4 0 1 0 4.8 0a2.4 2.4 0 1 0 -4.8 0M188.6 543.0a2.4 2.4 0 1 0 4.8 0a2.4 2.4 0 1 0 -4.8 0M189.3 544.0a2.4 2.4 0 1 0 4.8 0a2.4 2.4 0 1 0 -4.8 0M190.1 545.1a2.4 2.4 0 1 0 4.8 0a2.4 2.4 0 1 0 -4.8 0M190.8 545.7a2.4 2.4 0 1 0 4.8 0a2.4 2.4 0 1 0 -4.8 0M191.6 545.2a2.4 2.4 0 1 0 4.8 0a2.4 2.4 0 1 0 -4.8 0M192.3 545.4a2.4 2.4 0 1 0 4.8 0a2.4 2.4 0 1 0 -4.8 0M193.8 544.7a2.4 2.4 0 1 0 4.8 0a2.4 2.4 0 1 0 -4.8 0M194.6 545.7a2.4 2.4 0 1 0 4.8 0a2.4 2.4 0 1 0 -4.8 0M195.3 546.3a2.4 2.4 0 1 0 4.8 0a2.4 2.4 0 1 0 -4.8 0M196.1 545.0a2.4 2.4 0 1 0 4.8 0a2.4 2.4 0 1 0 -4.8 0M196.8 546.4a2.4 2.4 0 1 0 4.8 0a2.4 2.4 0 1 0 -4.8 0M197.6 542.0a2.4 2.4 0 1 0 4.8 0a2.4 2.4 0 1 0 -4.8 0M198.3 544.3a2.4 2.4 0 1 0 4.8 0a2.4 2.4 0 1 0 -4.8 0M199.1 546.2a2.4 2.4 0 1 0 4.8 0a2.4 2.4 0 1 0 -4.8 0M199.8 545.2a2.4 2.4 0 1 0 4.8 0a2.4 2.4 0 1 0 -4.8 0M200.6 545.6a2.4 2.4 0 1 0 4.8 0a2.4 2.4 0 1 0 -4.8 0M201.3 544.2a2.4 2.4 0 1 0 4.8 0a2.4 2.4 0 1 0 -4.8 0M202.1 542.8a2.4 2.4 0 1 0 4.8 0a2.4 2.4 0 1 0 -4.8 0M202.8 543.5a2.4 2.4 0 1 0 4.8 0a2.4 2.4 0 1 0 -4.8 0M203.6 545.6a2.4 2.4 0 1 0 4.8 0a2.4 2.4 0 1 0 -4.8 0M204.3 542.3a2.4 2.4 0 1 0 4.8 0a2.4 2.4 0 1 0 -4.8 0M205.1 543.3a2.4 2.4 0 1 0 4.8 0a2.4 2.4 0 1 0 -4.8 0M206.6 544.0a2.4 2.4 0 1 0 4.8 0a2.4 2.4 0 1 0 -4.8 0M208.1 545.2a2.4 2.4 0 1 0 4.8 0a2.4 2.4 0 1 0 -4.8 0M208.8 543.7a2.4 2.4 0 1 0 4.8 0a2.4 2.4 0 1 0 -4.8 0M209.6 546.2a2.4 2.4 0 1 0 4.8 0a2.4 2.4 0 1 0 -4.8 0M210.3 545.0a2.4 2.4 0 1 0 4.8 0a2.4 2.4 0 1 0 -4.8 0M211.1 543.8a2.4 2.4 0 1 0 4.8 0a2.4 2.4 0 1 0 -4.8 0M211.8 543.3a2.4 2.4 0 1 0 4.8 0a2.4 2.4 0 1 0 -4.8 0M212.6 542.9a2.4 2.4 0 1 0 4.8 0a2.4 2.4 0 1 0 -4.8 0M213.3 544.7a2.4 2.4 0 1 0 4.8 0a2.4 2.4 0 1 0 -4.8 0M214.1 546.8a2.4 2.4 0 1 0 4.8 0a2.4 2.4 0 1 0 -4.8 0M214.8 544.7a2.4 2.4 0 1 0 4.8 0a2.4 2.4 0 1 0 -4.8 0M215.6 544.0a2.4 2.4 0 1 0 4.8 0a2.4 2.4 0 1 0 -4.8 0M216.3 545.2a2.4 2.4 0 1 0 4.8 0a2.4 2.4 0 1 0 -4.8 0M217.1 544.9a2.4 2.4 0 1 0 4.8 0a2.4 2.4 0 1 0 -4.8 0M217.8 544.6a2.4 2.4 0 1 0 4.8 0a2.4 2.4 0 1 0 -4.8 0M218.6 543.5a2.4 2.4 0 1 0 4.8 0a2.4 2.4 0 1 0 -4.8 0M219.3 545.5a2.4 2.4 0 1 0 4.8 0a2.4 2.4 0 1 0 -4.8 0M222.3 545.3a2.4 2.4 0 1 0 4.8 0a2.4 2.4 0 1 0 -4.8 0M223.1 545.4a2.4 2.4 0 1 0 4.8 0a2.4 2.4 0 1 0 -4.8 0M223.8 545.9a2.4 2.4 0 1 0 4.8 0a2.4 2.4 0 1 0 -4.8 0M225.3 544.6a2.4 2.4 0 1 0 4.8 0a2.4 2.4 0 1 0 -4.8 0M226.0 543.5a2.4 2.4 0 1 0 4.8 0a2.4 2.4 0 1 0 -4.8 0M226.8 545.5a2.4 2.4 0 1 0 4.8 0a2.4 2.4 0 1 0 -4.8 0M227.5 542.4a2.4 2.4 0 1 0 4.8 0a2.4 2.4 0 1 0 -4.8 0M228.2 544.7a2.4 2.4 0 1 0 4.8 0a2.4 2.4 0 1 0 -4.8 0M228.9 544.9a2.4 2.4 0 1 0 4.8 0a2.4 2.4 0 1 0 -4.8 0M229.7 544.8a2.4 2.4 0 1 0 4.8 0a2.4 2.4 0 1 0 -4.8 0M230.4 544.3a2.4 2.4 0 1 0 4.8 0a2.4 2.4 0 1 0 -4.8 0M231.1 541.7a2.4 2.4 0 1 0 4.8 0a2.4 2.4 0 1 0 -4.8 0M231.8 540.9a2.4 2.4 0 1 0 4.8 0a2.4 2.4 0 1 0 -4.8 0M232.5 540.6a2.4 2.4 0 1 0 4.8 0a2.4 2.4 0 1 0 -4.8 0M233.2 540.2a2.4 2.4 0 1 0 4.8 0a2.4 2.4 0 1 0 -4.8 0M233.8 538.2a2.4 2.4 0 1 0 4.8 0a2.4 2.4 0 1 0 -4.8 0M234.5 539.9a2.4 2.4 0 1 0 4.8 0a2.4 2.4 0 1 0 -4.8 0M235.1 539.6a2.4 2.4 0 1 0 4.8 0a2.4 2.4 0 1 0 -4.8 0M235.8 539.1a2.4 2.4 0 1 0 4.8 0a2.4 2.4 0 1 0 -4.8 0M236.4 543.2a2.4 2.4 0 1 0 4.8 0a2.4 2.4 0 1 0 -4.8 0M237.0 539.9a2.4 2.4 0 1 0 4.8 0a2.4 2.4 0 1 0 -4.8 0M237.6 543.0a2.4 2.4 0 1 0 4.8 0a2.4 2.4 0 1 0 -4.8 0M238.2 546.8a2.4 2.4 0 1 0 4.8 0a2.4 2.4 0 1 0 -4.8 0M238.7 547.0a2.4 2.4 0 1 0 4.8 0a2.4 2.4 0 1 0 -4.8 0M239.3 539.8a2.4 2.4 0 1 0 4.8 0a2.4 2.4 0 1 0 -4.8 0M239.8 542.6a2.4 2.4 0 1 0 4.8 0a2.4 2.4 0 1 0 -4.8 0M240.4 538.2a2.4 2.4 0 1 0 4.8 0a2.4 2.4 0 1 0 -4.8 0M240.9 545.9a2.4 2.4 0 1 0 4.8 0a2.4 2.4 0 1 0 -4.8 0M241.4 541.6a2.4 2.4 0 1 0 4.8 0a2.4 2.4 0 1 0 -4.8 0M241.8 538.3a2.4 2.4 0 1 0 4.8 0a2.4 2.4 0 1 0 -4.8 0M242.3 531.6a2.4 2.4 0 1 0 4.8 0a2.4 2.4 0 1 0 -4.8 0M242.8 530.9a2.4 2.4 0 1 0 4.8 0a2.4 2.4 0 1 0 -4.8 0M243.2 535.2a2.4 2.4 0 1 0 4.8 0a2.4 2.4 0 1 0 -4.8 0M243.7 532.6a2.4 2.4 0 1 0 4.8 0a2.4 2.4 0 1 0 -4.8 0M244.1 532.0a2.4 2.4 0 1 0 4.8 0a2.4 2.4 0 1 0 -4.8 0M244.6 537.9a2.4 2.4 0 1 0 4.8 0a2.4 2.4 0 1 0 -4.8 0M245.0 526.6a2.4 2.4 0 1 0 4.8 0a2.4 2.4 0 1 0 -4.8 0M245.5 521.5a2.4 2.4 0 1 0 4.8 0a2.4 2.4 0 1 0 -4.8 0M245.9 526.5a2.4 2.4 0 1 0 4.8 0a2.4 2.4 0 1 0 -4.8 0M246.4 524.1a2.4 2.4 0 1 0 4.8 0a2.4 2.4 0 1 0 -4.8 0M246.8 529.3a2.4 2.4 0 1 0 4.8 0a2.4 2.4 0 1 0 -4.8 0M247.3 521.8a2.4 2.4 0 1 0 4.8 0a2.4 2.4 0 1 0 -4.8 0M247.7 524.2a2.4 2.4 0 1 0 4.8 0a2.4 2.4 0 1 0 -4.8 0M248.2 508.5a2.4 2.4 0 1 0 4.8 0a2.4 2.4 0 1 0 -4.8 0M248.6 532.1a2.4 2.4 0 1 0 4.8 0a2.4 2.4 0 1 0 -4.8 0M249.1 521.8a2.4 2.4 0 1 0 4.8 0a2.4 2.4 0 1 0 -4.8 0M249.5 509.4a2.4 2.4 0 1 0 4.8 0a2.4 2.4 0 1 0 -4.8 0M250.0 516.0a2.4 2.4 0 1 0 4.8 0a2.4 2.4 0 1 0 -4.8 0M250.4 520.9a2.4 2.4 0 1 0 4.8 0a2.4 2.4 0 1 0 -4.8 0M250.9 515.1a2.4 2.4 0 1 0 4.8 0a2.4 2.4 0 1 0 -4.8 0M251.3 504.7a2.4 2.4 0 1 0 4.8 0a2.4 2.4 0 1 0 -4.8 0M251.8 509.1a2.4 2.4 0 1 0 4.8 0a2.4 2.4 0 1 0 -4.8 0M252.2 510.4a2.4 2.4 0 1 0 4.8 0a2.4 2.4 0 1 0 -4.8 0M252.7 490.2a2.4 2.4 0 1 0 4.8 0a2.4 2.4 0 1 0 -4.8 0M253.1 487.2a2.4 2.4 0 1 0 4.8 0a2.4 2.4 0 1 0 -4.8 0M253.6 494.7a2.4 2.4 0 1 0 4.8 0a2.4 2.4 0 1 0 -4.8 0M254.0 509.6a2.4 2.4 0 1 0 4.8 0a2.4 2.4 0 1 0 -4.8 0M254.5 513.9a2.4 2.4 0 1 0 4.8 0a2.4 2.4 0 1 0 -4.8 0M254.9 498.8a2.4 2.4 0 1 0 4.8 0a2.4 2.4 0 1 0 -4.8 0M255.4 511.1a2.4 2.4 0 1 0 4.8 0a2.4 2.4 0 1 0 -4.8 0M255.8 503.3a2.4 2.4 0 1 0 4.8 0a2.4 2.4 0 1 0 -4.8 0M256.3 488.5a2.4 2.4 0 1 0 4.8 0a2.4 2.4 0 1 0 -4.8 0M256.7 477.4a2.4 2.4 0 1 0 4.8 0a2.4 2.4 0 1 0 -4.8 0M257.2 474.5a2.4 2.4 0 1 0 4.8 0a2.4 2.4 0 1 0 -4.8 0M257.6 478.7a2.4 2.4 0 1 0 4.8 0a2.4 2.4 0 1 0 -4.8 0M258.1 490.1a2.4 2.4 0 1 0 4.8 0a2.4 2.4 0 1 0 -4.8 0M258.5 479.9a2.4 2.4 0 1 0 4.8 0a2.4 2.4 0 1 0 -4.8 0M259.0 451.0a2.4 2.4 0 1 0 4.8 0a2.4 2.4 0 1 0 -4.8 0M259.4 448.7a2.4 2.4 0 1 0 4.8 0a2.4 2.4 0 1 0 -4.8 0M259.9 471.2a2.4 2.4 0 1 0 4.8 0a2.4 2.4 0 1 0 -4.8 0M260.3 462.2a2.4 2.4 0 1 0 4.8 0a2.4 2.4 0 1 0 -4.8 0M260.8 447.2a2.4 2.4 0 1 0 4.8 0a2.4 2.4 0 1 0 -4.8 0M261.2 467.6a2.4 2.4 0 1 0 4.8 0a2.4 2.4 0 1 0 -4.8 0M261.7 476.7a2.4 2.4 0 1 0 4.8 0a2.4 2.4 0 1 0 -4.8 0M262.1 469.4a2.4 2.4 0 1 0 4.8 0a2.4 2.4 0 1 0 -4.8 0M262.6 459.7a2.4 2.4 0 1 0 4.8 0a2.4 2.4 0 1 0 -4.8 0M263.0 474.3a2.4 2.4 0 1 0 4.8 0a2.4 2.4 0 1 0 -4.8 0M263.5 449.6a2.4 2.4 0 1 0 4.8 0a2.4 2.4 0 1 0 -4.8 0M263.9 444.5a2.4 2.4 0 1 0 4.8 0a2.4 2.4 0 1 0 -4.8 0M264.4 438.0a2.4 2.4 0 1 0 4.8 0a2.4 2.4 0 1 0 -4.8 0M264.8 474.5a2.4 2.4 0 1 0 4.8 0a2.4 2.4 0 1 0 -4.8 0M265.3 477.1a2.4 2.4 0 1 0 4.8 0a2.4 2.4 0 1 0 -4.8 0M265.7 447.7a2.4 2.4 0 1 0 4.8 0a2.4 2.4 0 1 0 -4.8 0M266.2 456.8a2.4 2.4 0 1 0 4.8 0a2.4 2.4 0 1 0 -4.8 0M266.6 455.5a2.4 2.4 0 1 0 4.8 0a2.4 2.4 0 1 0 -4.8 0M267.1 462.7a2.4 2.4 0 1 0 4.8 0a2.4 2.4 0 1 0 -4.8 0M267.5 466.6a2.4 2.4 0 1 0 4.8 0a2.4 2.4 0 1 0 -4.8 0M268.0 459.8a2.4 2.4 0 1 0 4.8 0a2.4 2.4 0 1 0 -4.8 0M268.4 449.2a2.4 2.4 0 1 0 4.8 0a2.4 2.4 0 1 0 -4.8 0M268.9 443.4a2.4 2.4 0 1 0 4.8 0a2.4 2.4 0 1 0 -4.8 0M269.3 436.5a2.4 2.4 0 1 0 4.8 0a2.4 2.4 0 1 0 -4.8 0M269.8 436.0a2.4 2.4 0 1 0 4.8 0a2.4 2.4 0 1 0 -4.8 0M270.2 449.4a2.4 2.4 0 1 0 4.8 0a2.4 2.4 0 1 0 -4.8 0M270.7 439.4a2.4 2.4 0 1 0 4.8 0a2.4 2.4 0 1 0 -4.8 0M271.1 451.7a2.4 2.4 0 1 0 4.8 0a2.4 2.4 0 1 0 -4.8 0M271.6 450.2a2.4 2.4 0 1 0 4.8 0a2.4 2.4 0 1 0 -4.8 0M272.0 438.0a2.4 2.4 0 1 0 4.8 0a2.4 2.4 0 1 0 -4.8 0M272.5 445.3a2.4 2.4 0 1 0 4.8 0a2.4 2.4 0 1 0 -4.8 0M272.9 457.4a2.4 2.4 0 1 0 4.8 0a2.4 2.4 0 1 0 -4.8 0M273.4 453.3a2.4 2.4 0 1 0 4.8 0a2.4 2.4 0 1 0 -4.8 0M273.8 438.1a2.4 2.4 0 1 0 4.8 0a2.4 2.4 0 1 0 -4.8 0M274.3 438.8a2.4 2.4 0 1 0 4.8 0a2.4 2.4 0 1 0 -4.8 0M274.7 455.6a2.4 2.4 0 1 0 4.8 0a2.4 2.4 0 1 0 -4.8 0M275.2 451.0a2.4 2.4 0 1 0 4.8 0a2.4 2.4 0 1 0 -4.8 0M275.6 452.5a2.4 2.4 0 1 0 4.8 0a2.4 2.4 0 1 0 -4.8 0M276.1 447.7a2.4 2.4 0 1 0 4.8 0a2.4 2.4 0 1 0 -4.8 0M276.5 461.2a2.4 2.4 0 1 0 4.8 0a2.4 2.4 0 1 0 -4.8 0M277.0 455.1a2.4 2.4 0 1 0 4.8 0a2.4 2.4 0 1 0 -4.8 0M277.4 487.6a2.4 2.4 0 1 0 4.8 0a2.4 2.4 0 1 0 -4.8 0M277.9 452.1a2.4 2.4 0 1 0 4.8 0a2.4 2.4 0 1 0 -4.8 0M278.3 451.2a2.4 2.4 0 1 0 4.8 0a2.4 2.4 0 1 0 -4.8 0M278.8 481.7a2.4 2.4 0 1 0 4.8 0a2.4 2.4 0 1 0 -4.8 0M279.2 463.4a2.4 2.4 0 1 0 4.8 0a2.4 2.4 0 1 0 -4.8 0M279.7 458.4a2.4 2.4 0 1 0 4.8 0a2.4 2.4 0 1 0 -4.8 0M280.1 476.5a2.4 2.4 0 1 0 4.8 0a2.4 2.4 0 1 0 -4.8 0M280.6 456.3a2.4 2.4 0 1 0 4.8 0a2.4 2.4 0 1 0 -4.8 0M281.0 485.9a2.4 2.4 0 1 0 4.8 0a2.4 2.4 0 1 0 -4.8 0M281.5 485.6a2.4 2.4 0 1 0 4.8 0a2.4 2.4 0 1 0 -4.8 0M281.9 492.0a2.4 2.4 0 1 0 4.8 0a2.4 2.4 0 1 0 -4.8 0M282.4 483.3a2.4 2.4 0 1 0 4.8 0a2.4 2.4 0 1 0 -4.8 0M282.8 507.1a2.4 2.4 0 1 0 4.8 0a2.4 2.4 0 1 0 -4.8 0M283.3 497.0a2.4 2.4 0 1 0 4.8 0a2.4 2.4 0 1 0 -4.8 0M283.7 493.2a2.4 2.4 0 1 0 4.8 0a2.4 2.4 0 1 0 -4.8 0M284.2 496.2a2.4 2.4 0 1 0 4.8 0a2.4 2.4 0 1 0 -4.8 0M284.6 483.6a2.4 2.4 0 1 0 4.8 0a2.4 2.4 0 1 0 -4.8 0M285.1 489.7a2.4 2.4 0 1 0 4.8 0a2.4 2.4 0 1 0 -4.8 0M285.5 476.6a2.4 2.4 0 1 0 4.8 0a2.4 2.4 0 1 0 -4.8 0M286.0 480.7a2.4 2.4 0 1 0 4.8 0a2.4 2.4 0 1 0 -4.8 0M286.4 494.2a2.4 2.4 0 1 0 4.8 0a2.4 2.4 0 1 0 -4.8 0M286.9 494.2a2.4 2.4 0 1 0 4.8 0a2.4 2.4 0 1 0 -4.8 0M287.3 501.9a2.4 2.4 0 1 0 4.8 0a2.4 2.4 0 1 0 -4.8 0M287.8 493.5a2.4 2.4 0 1 0 4.8 0a2.4 2.4 0 1 0 -4.8 0M288.2 501.8a2.4 2.4 0 1 0 4.8 0a2.4 2.4 0 1 0 -4.8 0M288.7 501.4a2.4 2.4 0 1 0 4.8 0a2.4 2.4 0 1 0 -4.8 0M289.1 512.8a2.4 2.4 0 1 0 4.8 0a2.4 2.4 0 1 0 -4.8 0M289.6 520.3a2.4 2.4 0 1 0 4.8 0a2.4 2.4 0 1 0 -4.8 0M290.0 525.4a2.4 2.4 0 1 0 4.8 0a2.4 2.4 0 1 0 -4.8 0M290.5 524.4a2.4 2.4 0 1 0 4.8 0a2.4 2.4 0 1 0 -4.8 0M290.9 517.2a2.4 2.4 0 1 0 4.8 0a2.4 2.4 0 1 0 -4.8 0M291.4 525.4a2.4 2.4 0 1 0 4.8 0a2.4 2.4 0 1 0 -4.8 0M291.8 518.5a2.4 2.4 0 1 0 4.8 0a2.4 2.4 0 1 0 -4.8 0M292.3 513.9a2.4 2.4 0 1 0 4.8 0a2.4 2.4 0 1 0 -4.8 0M292.7 527.2a2.4 2.4 0 1 0 4.8 0a2.4 2.4 0 1 0 -4.8 0M293.2 526.9a2.4 2.4 0 1 0 4.8 0a2.4 2.4 0 1 0 -4.8 0M293.6 530.9a2.4 2.4 0 1 0 4.8 0a2.4 2.4 0 1 0 -4.8 0M294.1 531.6a2.4 2.4 0 1 0 4.8 0a2.4 2.4 0 1 0 -4.8 0M294.5 521.4a2.4 2.4 0 1 0 4.8 0a2.4 2.4 0 1 0 -4.8 0M295.0 524.1a2.4 2.4 0 1 0 4.8 0a2.4 2.4 0 1 0 -4.8 0M295.4 529.9a2.4 2.4 0 1 0 4.8 0a2.4 2.4 0 1 0 -4.8 0M295.9 531.6a2.4 2.4 0 1 0 4.8 0a2.4 2.4 0 1 0 -4.8 0M296.4 534.7a2.4 2.4 0 1 0 4.8 0a2.4 2.4 0 1 0 -4.8 0M296.9 528.8a2.4 2.4 0 1 0 4.8 0a2.4 2.4 0 1 0 -4.8 0M297.4 535.1a2.4 2.4 0 1 0 4.8 0a2.4 2.4 0 1 0 -4.8 0M297.9 539.8a2.4 2.4 0 1 0 4.8 0a2.4 2.4 0 1 0 -4.8 0M298.5 545.5a2.4 2.4 0 1 0 4.8 0a2.4 2.4 0 1 0 -4.8 0M299.0 534.5a2.4 2.4 0 1 0 4.8 0a2.4 2.4 0 1 0 -4.8 0M299.6 545.1a2.4 2.4 0 1 0 4.8 0a2.4 2.4 0 1 0 -4.8 0M300.2 539.0a2.4 2.4 0 1 0 4.8 0a2.4 2.4 0 1 0 -4.8 0M300.8 535.7a2.4 2.4 0 1 0 4.8 0a2.4 2.4 0 1 0 -4.8 0M301.4 544.2a2.4 2.4 0 1 0 4.8 0a2.4 2.4 0 1 0 -4.8 0M302.0 537.5a2.4 2.4 0 1 0 4.8 0a2.4 2.4 0 1 0 -4.8 0M302.7 537.6a2.4 2.4 0 1 0 4.8 0a2.4 2.4 0 1 0 -4.8 0M303.3 542.6a2.4 2.4 0 1 0 4.8 0a2.4 2.4 0 1 0 -4.8 0M304.7 541.4a2.4 2.4 0 1 0 4.8 0a2.4 2.4 0 1 0 -4.8 0M305.4 540.0a2.4 2.4 0 1 0 4.8 0a2.4 2.4 0 1 0 -4.8 0M306.1 538.9a2.4 2.4 0 1 0 4.8 0a2.4 2.4 0 1 0 -4.8 0M306.8 542.3a2.4 2.4 0 1 0 4.8 0a2.4 2.4 0 1 0 -4.8 0M307.5 538.5a2.4 2.4 0 1 0 4.8 0a2.4 2.4 0 1 0 -4.8 0M308.2 540.6a2.4 2.4 0 1 0 4.8 0a2.4 2.4 0 1 0 -4.8 0M308.9 545.0a2.4 2.4 0 1 0 4.8 0a2.4 2.4 0 1 0 -4.8 0M309.6 544.7a2.4 2.4 0 1 0 4.8 0a2.4 2.4 0 1 0 -4.8 0M311.1 544.8a2.4 2.4 0 1 0 4.8 0a2.4 2.4 0 1 0 -4.8 0M311.8 542.9a2.4 2.4 0 1 0 4.8 0a2.4 2.4 0 1 0 -4.8 0M314.8 546.3a2.4 2.4 0 1 0 4.8 0a2.4 2.4 0 1 0 -4.8 0M315.5 543.7a2.4 2.4 0 1 0 4.8 0a2.4 2.4 0 1 0 -4.8 0M316.3 546.0a2.4 2.4 0 1 0 4.8 0a2.4 2.4 0 1 0 -4.8 0M317.8 544.9a2.4 2.4 0 1 0 4.8 0a2.4 2.4 0 1 0 -4.8 0M318.5 543.0a2.4 2.4 0 1 0 4.8 0a2.4 2.4 0 1 0 -4.8 0M320.0 545.9a2.4 2.4 0 1 0 4.8 0a2.4 2.4 0 1 0 -4.8 0M320.8 543.1a2.4 2.4 0 1 0 4.8 0a2.4 2.4 0 1 0 -4.8 0M321.5 544.3a2.4 2.4 0 1 0 4.8 0a2.4 2.4 0 1 0 -4.8 0M322.3 544.0a2.4 2.4 0 1 0 4.8 0a2.4 2.4 0 1 0 -4.8 0M323.0 543.0a2.4 2.4 0 1 0 4.8 0a2.4 2.4 0 1 0 -4.8 0M323.8 545.7a2.4 2.4 0 1 0 4.8 0a2.4 2.4 0 1 0 -4.8 0M324.5 544.7a2.4 2.4 0 1 0 4.8 0a2.4 2.4 0 1 0 -4.8 0M325.3 544.7a2.4 2.4 0 1 0 4.8 0a2.4 2.4 0 1 0 -4.8 0" stroke="#888" stroke-width="1.4" fill="#fff"/>
<line x1="273.7" y1="412" x2="273.7" y2="430" stroke="#8c8c8c" stroke-width="1.2"/>
<circle cx="273.7" cy="430" r="2.1" stroke="#888" stroke-width="1.2" fill="#fff"/>
<path d="M58.1 517.6L58.8 517.6L59.5 517.6L60.2 517.6L60.9 517.6L61.6 517.6L62.3 517.6L63.0 517.6L63.7 517.6L64.4 517.6L65.1 517.6L65.8 517.6L66.5 517.6L67.2 517.6L67.9 517.6L68.6 517.6L69.3 517.6L70.0 517.6L70.7 517.6L71.4 517.6L72.1 517.6L72.8 517.6L73.5 517.6L74.2 517.6L74.9 517.6L75.6 517.6L76.3 517.6L77.0 517.6L77.7 517.6L78.4 517.6L79.1 517.6L79.8 517.6L80.5 517.6L81.2 517.6L81.9 517.6L82.6 517.6L83.3 517.6L84.0 517.6L84.7 517.6L85.4 517.6L86.1 517.6L86.8 517.6L87.5 517.6L88.2 517.6L88.9 517.6L89.6 517.6L90.3 517.6L91.0 517.6L91.7 517.6L92.4 517.6L93.1 517.7L93.8 517.7L94.5 517.7L95.2 517.8L95.9 517.9L96.6 518.0L97.3 518.1L98.0 518.4L98.7 518.7L99.4 519.1L100.1 519.7L100.8 520.5L101.5 521.5L102.2 522.9L102.9 524.6L103.6 526.7L104.3 529.1L105.0 531.7L105.7 534.5L106.4 537.1L107.1 539.6L107.8 541.7L108.5 543.5L109.2 544.9L109.9 546.0L110.6 546.8L111.3 547.4L112.0 547.9L112.7 548.2L113.4 548.4L114.1 548.6L114.8 548.7L115.5 548.8L116.2 548.9L116.9 548.9L117.6 548.9L118.3 549.0L119.0 549.0L119.7 549.0L120.4 549.0L121.1 549.0L121.8 549.0L122.5 549.0L123.2 549.0L123.9 549.0L124.6 549.0L125.3 549.0L126.0 549.0L126.7 549.0L127.4 549.0L128.1 549.0L128.8 549.0L129.5 549.0L130.2 549.0L130.9 549.0L131.6 549.0L132.3 549.0L133.0 549.0L133.7 549.0L134.4 549.0L135.1 549.0L135.8 549.0L136.5 549.0L137.2 549.0L137.9 549.0L138.6 549.0L139.3 549.0L140.0 549.0L140.7 549.0L141.4 549.0L142.1 549.0L142.8 549.0L143.5 549.0L144.2 549.0L144.9 549.0L145.6 549.0L146.3 549.0L147.0 549.0L147.7 549.0L148.4 549.0L149.1 549.0L149.8 549.0L150.5 549.0L151.2 549.0L151.9 549.0L152.6 549.0L153.3 549.0L154.0 549.0L154.7 549.0L155.4 549.0L156.1 549.0L156.8 549.0L157.5 549.0L158.2 549.0L158.9 549.0L159.6 549.0L160.3 549.0L161.0 549.0L161.7 549.0L162.4 549.0L163.1 549.0L163.8 549.0L164.5 549.0L165.2 549.0L165.9 549.0L166.6 549.0L167.3 549.0L168.0 549.0L168.7 549.0L169.4 549.0L170.1 549.0L170.8 549.0L171.5 549.0L172.2 549.0L172.9 549.0L173.6 549.0L174.3 549.0L175.0 549.0L175.7 549.0L176.4 549.0L177.1 549.0L177.8 549.0L178.5 549.0L179.2 549.0L179.9 549.0L180.6 549.0L181.3 549.0L182.0 549.0L182.7 549.0L183.4 549.0L184.1 549.0L184.8 549.0L185.5 549.0L186.2 549.0L186.9 549.0L187.6 549.0L188.3 549.0L189.0 549.0L189.7 549.0L190.4 549.0L191.1 549.0L191.8 549.0L192.5 549.0L193.2 549.0L193.9 549.0L194.6 549.0L195.3 549.0L196.0 549.0L196.7 549.0L197.4 549.0L198.1 549.0L198.8 549.0L199.5 549.0L200.2 549.0L200.9 549.0L201.6 549.0L202.3 549.0L203.0 549.0L203.7 549.0L204.4 549.0L205.1 549.0L205.8 549.0L206.5 549.0L207.2 549.0L207.9 549.0L208.6 549.0L209.3 549.0L210.0 549.0L210.7 549.0L211.4 549.0L212.1 549.0L212.8 549.0L213.5 549.0L214.2 549.0L214.9 549.0L215.6 549.0L216.3 549.0L217.0 549.0L217.7 549.0L218.4 549.0L219.1 549.0L219.8 549.0L220.5 549.0L221.2 549.0L221.9 548.9L222.6 548.9L223.3 548.9L224.0 548.9L224.7 548.9L225.4 548.8L226.1 548.8L226.8 548.8L227.5 548.7L228.2 548.7L228.9 548.6L229.6 548.5L230.3 548.4L231.0 548.3L231.7 548.2L232.4 548.0L233.1 547.9L233.8 547.7L234.5 547.5L235.2 547.2L235.9 547.0L236.6 546.7L237.3 546.3L238.0 545.9L238.7 545.5L239.4 545.0L240.1 544.5L240.8 543.9L241.5 543.3L242.2 542.6L242.9 541.9L243.6 541.1L244.3 540.3L245.0 539.4L245.7 538.4L246.4 537.5L247.1 536.4L247.8 535.3L248.5 534.2L249.2 533.0L249.9 531.8L250.6 530.6L251.3 529.4L252.0 528.1L252.7 526.9L253.4 525.7L254.1 524.5L254.8 523.3L255.5 522.2L256.2 521.1L256.9 520.1L257.6 519.2L258.3 518.3L259.0 517.5L259.7 516.9L260.4 516.3L261.1 515.9L261.8 515.5L262.5 515.3L263.2 515.2L263.9 515.2L264.6 515.4L265.3 515.7L266.0 516.0L266.7 516.5L267.4 517.2L268.1 517.9L268.8 518.7L269.5 519.6L270.2 520.5L270.9 521.6L271.6 522.7L272.3 523.8L273.0 525.0L273.7 526.2L274.4 527.4L275.1 528.7L275.8 529.9L276.5 531.1L277.2 532.3L277.9 533.5L278.6 534.7L279.3 535.8L280.0 536.9L280.7 537.9L281.4 538.9L282.1 539.8L282.8 540.7L283.5 541.5L284.2 542.2L284.9 542.9L285.6 543.6L286.3 544.2L287.0 544.7L287.7 545.2L288.4 545.7L289.1 546.1L289.8 546.5L290.5 546.8L291.2 547.1L291.9 547.3L292.6 547.6L293.3 547.8L294.0 548.0L294.7 548.1L295.4 548.2L296.1 548.4L296.8 548.5L297.5 548.6L298.2 548.6L298.9 548.7L299.6 548.7L300.3 548.8L301.0 548.8L301.7 548.9L302.4 548.9L303.1 548.9L303.8 548.9L304.5 548.9L305.2 548.9L305.9 549.0L306.6 549.0L307.3 549.0L308.0 549.0L308.7 549.0L309.4 549.0L310.1 549.0L310.8 549.0L311.5 549.0L312.2 549.0L312.9 549.0L313.6 549.0L314.3 549.0L315.0 549.0L315.7 549.0L316.4 549.0L317.1 549.0L317.8 549.0L318.5 549.0L319.2 549.0L319.9 549.0L320.6 549.0L321.3 549.0L322.0 549.0L322.7 549.0L323.4 549.0L324.1 549.0L324.8 549.0L325.5 549.0L326.2 549.0L326.9 549.0L327.6 549.0" stroke="#d92b2b" stroke-width="2.6" fill="none"/>
<path d="M58.1 517.6L58.8 517.6L59.5 517.6L60.2 517.6L60.9 517.6L61.6 517.6L62.3 517.6L63.0 517.6L63.7 517.6L64.4 517.6L65.1 517.6L65.8 517.6L66.5 517.6L67.2 517.6L67.9 517.6L68.6 517.6L69.3 517.6L70.0 517.6L70.7 517.6L71.4 517.6L72.1 517.6L72.8 517.6L73.5 517.6L74.2 517.6L74.9 517.6L75.6 517.6L76.3 517.6L77.0 517.6L77.7 517.6L78.4 517.6L79.1 517.6L79.8 517.6L80.5 517.6L81.2 517.6L81.9 517.6L82.6 517.6L83.3 517.6L84.0 517.6L84.7 517.6L85.4 517.6L86.1 517.6L86.8 517.6L87.5 517.6L88.2 517.6L88.9 517.6L89.6 517.6L90.3 517.6L91.0 517.6L91.7 517.6L92.4 517.6L93.1 517.7L93.8 517.7L94.5 517.7L95.2 517.8L95.9 517.9L96.6 518.0L97.3 518.1L98.0 518.4L98.7 518.7L99.4 519.1L100.1 519.7L100.8 520.5L101.5 521.5L102.2 522.9L102.9 524.6L103.6 526.7L104.3 529.1L105.0 531.7L105.7 534.5L106.4 537.1L107.1 539.6L107.8 541.7L108.5 543.5L109.2 544.9L109.9 546.0L110.6 546.8L111.3 547.4L112.0 547.9L112.7 548.2L113.4 548.4L114.1 548.6L114.8 548.7L115.5 548.8L116.2 548.9L116.9 548.9L117.6 548.9L118.3 549.0L119.0 549.0L119.7 549.0L120.4 549.0L121.1 549.0L121.8 549.0L122.5 549.0L123.2 549.0L123.9 549.0L124.6 549.0L125.3 549.0L126.0 549.0L126.7 549.0L127.4 549.0L128.1 549.0L128.8 549.0L129.5 549.0L130.2 549.0L130.9 549.0L131.6 549.0L132.3 549.0L133.0 549.0L133.7 549.0L134.4 549.0L135.1 549.0L135.8 549.0L136.5 549.0L137.2 549.0L137.9 549.0L138.6 549.0L139.3 549.0L140.0 549.0L140.7 549.0L141.4 549.0L142.1 549.0L142.8 549.0L143.5 549.0L144.2 549.0L144.9 549.0L145.6 549.0L146.3 549.0L147.0 549.0L147.7 549.0L148.4 549.0L149.1 549.0L149.8 549.0L150.5 549.0L151.2 549.0L151.9 549.0L152.6 549.0L153.3 549.0L154.0 549.0L154.7 549.0L155.4 549.0L156.1 549.0L156.8 549.0L157.5 549.0L158.2 549.0L158.9 549.0L159.6 549.0L160.3 549.0L161.0 549.0L161.7 549.0L162.4 549.0L163.1 549.0L163.8 549.0L164.5 549.0L165.2 549.0L165.9 549.0L166.6 549.0L167.3 549.0L168.0 549.0L168.7 549.0L169.4 549.0L170.1 549.0L170.8 549.0L171.5 549.0L172.2 549.0L172.9 549.0L173.6 549.0L174.3 549.0L175.0 549.0L175.7 549.0L176.4 549.0L177.1 549.0L177.8 549.0L178.5 549.0L179.2 549.0L179.9 549.0L180.6 549.0L181.3 549.0L182.0 549.0L182.7 549.0L183.4 549.0L184.1 549.0L184.8 549.0L185.5 549.0L186.2 549.0L186.9 549.0L187.6 549.0L188.3 549.0L189.0 549.0L189.7 549.0L190.4 549.0L191.1 549.0L191.8 549.0L192.5 549.0L193.2 549.0L193.9 549.0L194.6 549.0L195.3 549.0L196.0 549.0L196.7 549.0L197.4 549.0L198.1 549.0L198.8 549.0L199.5 549.0L200.2 549.0L200.9 549.0L201.6 549.0L202.3 549.0L203.0 549.0L203.7 549.0L204.4 549.0L205.1 549.0L205.8 549.0L206.5 549.0L207.2 549.0L207.9 549.0L208.6 549.0L209.3 549.0L210.0 549.0L210.7 549.0L211.4 549.0L212.1 549.0L212.8 549.0L213.5 549.0L214.2 549.0L214.9 549.0L215.6 549.0L216.3 549.0L217.0 549.0L217.7 549.0L218.4 549.0L219.1 549.0L219.8 549.0L220.5 549.0L221.2 548.9L221.9 548.9L222.6 548.9L223.3 548.9L224.0 548.9L224.7 548.8L225.4 548.8L226.1 548.8L226.8 548.7L227.5 548.7L228.2 548.6L228.9 548.5L229.6 548.4L230.3 548.3L231.0 548.2L231.7 548.0L232.4 547.8L233.1 547.6L233.8 547.3L234.5 547.1L235.2 546.7L235.9 546.3L236.6 545.9L237.3 545.4L238.0 544.9L238.7 544.2L239.4 543.5L240.1 542.8L240.8 541.9L241.5 540.9L242.2 539.8L242.9 538.6L243.6 537.3L244.3 535.9L245.0 534.4L245.7 532.7L246.4 530.8L247.1 528.9L247.8 526.8L248.5 524.5L249.2 522.1L249.9 519.5L250.6 516.8L251.3 514.0L252.0 511.0L252.7 507.9L253.4 504.6L254.1 501.3L254.8 497.8L255.5 494.2L256.2 490.6L256.9 486.9L257.6 483.2L258.3 479.4L259.0 475.7L259.7 471.9L260.4 468.2L261.1 464.6L261.8 461.1L262.5 457.6L263.2 454.3L263.9 451.2L264.6 448.2L265.3 445.5L266.0 443.0L266.7 440.7L267.4 438.7L268.1 437.0L268.8 435.5L269.5 434.4L270.2 433.6L270.9 433.2L271.6 433.0L272.3 433.2L273.0 433.8L273.7 434.6L274.4 435.8L275.1 437.3L275.8 439.1L276.5 441.2L277.2 443.6L277.9 446.2L278.6 449.0L279.3 452.1L280.0 455.3L280.7 458.7L281.4 462.3L282.1 465.9L282.8 469.7L283.5 473.5L284.2 477.3L284.9 481.2L285.6 485.0L286.3 488.8L287.0 492.6L287.7 496.3L288.4 499.9L289.1 503.4L289.8 506.8L290.5 510.0L291.2 513.1L291.9 516.1L292.6 518.9L293.3 521.6L294.0 524.1L294.7 526.5L295.4 528.7L296.1 530.7L296.8 532.6L297.5 534.3L298.2 535.9L298.9 537.4L299.6 538.7L300.3 539.9L301.0 541.0L301.7 542.0L302.4 542.9L303.1 543.7L303.8 544.4L304.5 545.0L305.2 545.5L305.9 546.0L306.6 546.5L307.3 546.8L308.0 547.2L308.7 547.4L309.4 547.7L310.1 547.9L310.8 548.1L311.5 548.2L312.2 548.3L312.9 548.5L313.6 548.5L314.3 548.6L315.0 548.7L315.7 548.7L316.4 548.8L317.1 548.8L317.8 548.9L318.5 548.9L319.2 548.9L319.9 548.9L320.6 548.9L321.3 549.0L322.0 549.0L322.7 549.0L323.4 549.0L324.1 549.0L324.8 549.0L325.5 549.0L326.2 549.0L326.9 549.0L327.6 549.0" stroke="#2a2f88" stroke-width="2.6" fill="none" stroke-dasharray="7 3.5"/>
<polyline points="58.3,675.4 59.0,645.6 59.7,669.3 60.5,663.1 61.2,669.7 62.0,663.5 62.7,671.9 63.5,661.3 64.2,658.4 65.0,665.5 65.7,665.0 66.5,660.8 67.2,661.7 68.0,667.1 68.7,667.2 69.5,661.9 70.2,664.0 71.0,660.5 71.7,676.4 72.5,672.8 73.2,680.0 74.0,680.0 74.7,683.8 75.5,683.8 76.2,682.8 77.0,684.6 77.7,682.1 78.5,684.6 79.2,681.8 80.0,683.6 80.7,684.3 81.5,683.4 82.2,682.8 83.0,682.4 83.7,683.0 84.5,684.6 85.2,684.7 86.0,683.9 86.7,683.2 87.5,685.6 88.2,683.7 89.0,684.9 89.7,684.8 90.5,686.2 91.2,685.6 92.0,685.6 92.7,685.2 93.5,684.0 94.2,685.0 95.0,685.8 95.7,684.2 96.5,684.9 97.2,684.2 98.0,685.5 98.7,685.2 99.5,685.5 101.0,686.1 101.7,683.9 102.5,683.7 103.2,683.1 104.0,684.2 104.7,682.8 105.5,682.8 107.0,684.9 107.7,684.6 108.5,681.5 110.7,683.8 111.5,684.9 113.0,685.2 113.7,684.8 114.5,686.3 115.2,685.5 116.0,685.5 116.7,684.5 119.0,682.8 120.5,685.6 121.2,685.3 122.0,683.7 122.7,683.0 124.2,682.6 125.0,683.4 125.7,685.3 127.2,684.8 128.0,683.4 128.7,684.1 129.5,685.2 130.2,682.6 131.0,683.7 131.7,684.0 132.5,684.6 134.0,685.0 134.7,682.8 135.5,684.0 137.0,683.2 138.5,683.0 139.2,684.4 140.0,683.4 140.7,685.0 141.5,684.5 142.2,684.3 143.0,684.2 144.5,683.4 146.0,683.1 146.7,685.4 147.5,683.6 148.2,682.7 149.0,683.2 150.5,683.7 151.2,684.9 152.0,684.8 153.5,684.0 154.2,684.5 155.0,684.5 155.7,682.6 157.2,685.7 158.0,684.9 158.7,684.5 159.5,683.9 160.2,685.7 161.7,685.1 163.2,684.8 164.0,686.4 164.7,683.9 165.5,684.9 166.2,684.0 167.0,685.0 167.7,685.0 168.5,684.0 169.2,683.5 170.0,684.6 170.7,684.6 172.2,685.5 173.7,684.4 174.5,685.1 176.0,685.7 176.7,684.8 177.5,687.1 178.2,684.1 179.0,682.1 179.7,682.8 180.5,683.3 181.2,685.3 182.0,686.1 182.7,682.9 183.5,686.1 184.2,683.7 185.0,685.1 185.7,685.2 186.5,685.1 187.2,684.6 188.0,684.7 188.7,683.3 189.5,684.6 190.2,685.2 191.0,685.0 192.5,684.8 194.0,685.2 194.7,683.7 195.5,682.2 197.0,685.3 197.7,684.9 198.5,685.5 199.2,684.6 200.0,685.5 200.7,687.1 201.5,685.5 202.2,683.9 203.0,684.4 203.7,686.1 204.5,683.4 205.2,681.8 206.0,682.0 206.7,683.0 208.2,684.6 209.0,683.8 209.7,683.3 210.5,684.6 212.0,684.2 212.7,684.5 213.5,683.9 214.2,686.4 215.0,682.1 215.7,684.6 217.2,685.1 218.0,684.2 218.7,684.9 219.5,685.1 220.2,684.9 221.7,683.3 223.2,684.4 224.7,685.8 225.5,685.2 226.2,685.8 227.0,681.3 227.7,682.4 229.2,682.0 230.0,683.0 231.5,684.2 233.0,684.1 235.2,683.8 236.0,684.0 236.7,682.3 237.5,684.0 239.0,684.4 240.5,683.3 241.2,684.9 242.0,684.7 242.7,684.3 243.5,685.0 244.2,684.0 245.0,684.0 245.7,684.4 246.5,684.2 247.2,685.5 248.0,681.4 248.7,683.6 249.5,681.3 250.2,682.9 250.9,683.8 251.7,683.5 252.4,684.9 253.1,684.2 253.9,679.7 254.6,682.3 255.3,686.9 256.0,687.1 256.7,684.3 257.4,680.6 258.8,678.0 259.4,683.0 260.1,681.3 260.7,681.2 261.3,675.8 261.9,676.9 262.5,680.8 263.1,674.3 263.6,669.8 264.2,674.3 264.7,674.1 265.2,672.5 265.7,669.0 266.2,674.8 266.7,671.3 267.1,665.3 267.6,671.7 268.0,669.2 268.5,668.6 268.9,655.6 269.4,658.7 269.8,664.0 270.3,664.9 270.7,658.9 271.2,655.8 271.6,658.3 272.1,659.1 272.5,664.4 273.0,653.9 273.4,645.1 273.9,653.2 274.3,631.6 274.8,647.6 275.2,641.0 275.7,642.2 276.1,644.0 276.6,636.6 277.0,618.7 277.5,626.9 277.9,620.3 278.4,626.9 278.8,629.8 279.3,614.1 279.7,631.4 280.2,636.3 280.6,616.4 281.1,626.0 281.5,598.0 282.0,607.6 282.4,624.9 282.9,590.7 283.3,605.9 283.8,600.3 284.2,625.2 284.7,623.4 285.1,597.8 285.6,604.5 286.0,583.0 286.5,608.4 286.9,599.5 287.4,610.7 287.8,582.5 288.3,593.8 288.7,582.5 289.2,586.8 289.6,575.5 290.1,583.8 290.5,596.9 291.0,590.7 291.4,583.5 291.9,599.0 292.3,593.8 292.8,588.2 293.2,584.5 293.7,600.6 294.1,600.8 294.6,622.6 295.0,593.1 295.5,620.0 295.9,605.9 296.4,619.3 296.8,598.2 297.3,604.4 297.7,617.5 298.2,637.6 298.6,634.1 299.1,644.2 299.5,641.1 300.0,649.2 300.4,639.4 300.9,630.6 301.3,640.4 301.8,635.6 302.2,652.2 302.7,634.6 303.1,638.7 303.6,636.5 304.0,651.2 304.5,649.7 304.9,648.9 305.4,634.7 305.8,634.7 306.3,651.1 306.7,657.2 307.2,665.6 307.6,645.4 308.1,659.9 308.5,652.8 309.0,660.3 309.4,666.9 309.9,675.4 310.3,667.7 310.8,667.4 311.2,670.1 311.7,678.7 312.1,685.0 312.6,667.5 313.1,675.0 313.6,676.1 314.1,683.8 314.7,681.5 315.2,685.8 315.8,677.0 316.4,680.4 317.0,678.9 317.6,677.2 318.3,680.1 318.9,677.9 319.6,686.1 320.3,682.5 320.9,680.0 321.6,681.2 322.4,685.6 323.1,682.0 323.8,684.0 324.5,684.0 325.2,684.8 326.0,684.4 326.7,683.6 328.2,682.2" stroke="#a0a0a0" stroke-width="0.6" fill="none"/>
<path d="M55.9 675.4a2.4 2.4 0 1 0 4.8 0a2.4 2.4 0 1 0 -4.8 0M56.6 645.6a2.4 2.4 0 1 0 4.8 0a2.4 2.4 0 1 0 -4.8 0M57.3 669.3a2.4 2.4 0 1 0 4.8 0a2.4 2.4 0 1 0 -4.8 0M58.1 663.1a2.4 2.4 0 1 0 4.8 0a2.4 2.4 0 1 0 -4.8 0M58.8 669.7a2.4 2.4 0 1 0 4.8 0a2.4 2.4 0 1 0 -4.8 0M59.6 663.5a2.4 2.4 0 1 0 4.8 0a2.4 2.4 0 1 0 -4.8 0M60.3 671.9a2.4 2.4 0 1 0 4.8 0a2.4 2.4 0 1 0 -4.8 0M61.1 661.3a2.4 2.4 0 1 0 4.8 0a2.4 2.4 0 1 0 -4.8 0M61.8 658.4a2.4 2.4 0 1 0 4.8 0a2.4 2.4 0 1 0 -4.8 0M62.6 665.5a2.4 2.4 0 1 0 4.8 0a2.4 2.4 0 1 0 -4.8 0M63.3 665.0a2.4 2.4 0 1 0 4.8 0a2.4 2.4 0 1 0 -4.8 0M64.1 660.8a2.4 2.4 0 1 0 4.8 0a2.4 2.4 0 1 0 -4.8 0M64.8 661.7a2.4 2.4 0 1 0 4.8 0a2.4 2.4 0 1 0 -4.8 0M65.6 667.1a2.4 2.4 0 1 0 4.8 0a2.4 2.4 0 1 0 -4.8 0M66.3 667.2a2.4 2.4 0 1 0 4.8 0a2.4 2.4 0 1 0 -4.8 0M67.1 661.9a2.4 2.4 0 1 0 4.8 0a2.4 2.4 0 1 0 -4.8 0M67.8 664.0a2.4 2.4 0 1 0 4.8 0a2.4 2.4 0 1 0 -4.8 0M68.6 660.5a2.4 2.4 0 1 0 4.8 0a2.4 2.4 0 1 0 -4.8 0M69.3 676.4a2.4 2.4 0 1 0 4.8 0a2.4 2.4 0 1 0 -4.8 0M70.1 672.8a2.4 2.4 0 1 0 4.8 0a2.4 2.4 0 1 0 -4.8 0M70.8 680.0a2.4 2.4 0 1 0 4.8 0a2.4 2.4 0 1 0 -4.8 0M71.6 680.0a2.4 2.4 0 1 0 4.8 0a2.4 2.4 0 1 0 -4.8 0M72.3 683.8a2.4 2.4 0 1 0 4.8 0a2.4 2.4 0 1 0 -4.8 0M73.1 683.8a2.4 2.4 0 1 0 4.8 0a2.4 2.4 0 1 0 -4.8 0M73.8 682.8a2.4 2.4 0 1 0 4.8 0a2.4 2.4 0 1 0 -4.8 0M74.6 684.6a2.4 2.4 0 1 0 4.8 0a2.4 2.4 0 1 0 -4.8 0M75.3 682.1a2.4 2.4 0 1 0 4.8 0a2.4 2.4 0 1 0 -4.8 0M76.1 684.6a2.4 2.4 0 1 0 4.8 0a2.4 2.4 0 1 0 -4.8 0M76.8 681.8a2.4 2.4 0 1 0 4.8 0a2.4 2.4 0 1 0 -4.8 0M77.6 683.6a2.4 2.4 0 1 0 4.8 0a2.4 2.4 0 1 0 -4.8 0M78.3 684.3a2.4 2.4 0 1 0 4.8 0a2.4 2.4 0 1 0 -4.8 0M79.1 683.4a2.4 2.4 0 1 0 4.8 0a2.4 2.4 0 1 0 -4.8 0M79.8 682.8a2.4 2.4 0 1 0 4.8 0a2.4 2.4 0 1 0 -4.8 0M80.6 682.4a2.4 2.4 0 1 0 4.8 0a2.4 2.4 0 1 0 -4.8 0M81.3 683.0a2.4 2.4 0 1 0 4.8 0a2.4 2.4 0 1 0 -4.8 0M82.1 684.6a2.4 2.4 0 1 0 4.8 0a2.4 2.4 0 1 0 -4.8 0M82.8 684.7a2.4 2.4 0 1 0 4.8 0a2.4 2.4 0 1 0 -4.8 0M83.6 683.9a2.4 2.4 0 1 0 4.8 0a2.4 2.4 0 1 0 -4.8 0M84.3 683.2a2.4 2.4 0 1 0 4.8 0a2.4 2.4 0 1 0 -4.8 0M85.1 685.6a2.4 2.4 0 1 0 4.8 0a2.4 2.4 0 1 0 -4.8 0M85.8 683.7a2.4 2.4 0 1 0 4.8 0a2.4 2.4 0 1 0 -4.8 0M86.6 684.9a2.4 2.4 0 1 0 4.8 0a2.4 2.4 0 1 0 -4.8 0M87.3 684.8a2.4 2.4 0 1 0 4.8 0a2.4 2.4 0 1 0 -4.8 0M88.1 686.2a2.4 2.4 0 1 0 4.8 0a2.4 2.4 0 1 0 -4.8 0M88.8 685.6a2.4 2.4 0 1 0 4.8 0a2.4 2.4 0 1 0 -4.8 0M89.6 685.6a2.4 2.4 0 1 0 4.8 0a2.4 2.4 0 1 0 -4.8 0M90.3 685.2a2.4 2.4 0 1 0 4.8 0a2.4 2.4 0 1 0 -4.8 0M91.1 684.0a2.4 2.4 0 1 0 4.8 0a2.4 2.4 0 1 0 -4.8 0M91.8 685.0a2.4 2.4 0 1 0 4.8 0a2.4 2.4 0 1 0 -4.8 0M92.6 685.8a2.4 2.4 0 1 0 4.8 0a2.4 2.4 0 1 0 -4.8 0M93.3 684.2a2.4 2.4 0 1 0 4.8 0a2.4 2.4 0 1 0 -4.8 0M94.1 684.9a2.4 2.4 0 1 0 4.8 0a2.4 2.4 0 1 0 -4.8 0M94.8 684.2a2.4 2.4 0 1 0 4.8 0a2.4 2.4 0 1 0 -4.8 0M95.6 685.5a2.4 2.4 0 1 0 4.8 0a2.4 2.4 0 1 0 -4.8 0M96.3 685.2a2.4 2.4 0 1 0 4.8 0a2.4 2.4 0 1 0 -4.8 0M97.1 685.5a2.4 2.4 0 1 0 4.8 0a2.4 2.4 0 1 0 -4.8 0M98.6 686.1a2.4 2.4 0 1 0 4.8 0a2.4 2.4 0 1 0 -4.8 0M99.3 683.9a2.4 2.4 0 1 0 4.8 0a2.4 2.4 0 1 0 -4.8 0M100.1 683.7a2.4 2.4 0 1 0 4.8 0a2.4 2.4 0 1 0 -4.8 0M100.8 683.1a2.4 2.4 0 1 0 4.8 0a2.4 2.4 0 1 0 -4.8 0M101.6 684.2a2.4 2.4 0 1 0 4.8 0a2.4 2.4 0 1 0 -4.8 0M102.3 682.8a2.4 2.4 0 1 0 4.8 0a2.4 2.4 0 1 0 -4.8 0M103.1 682.8a2.4 2.4 0 1 0 4.8 0a2.4 2.4 0 1 0 -4.8 0M104.6 684.9a2.4 2.4 0 1 0 4.8 0a2.4 2.4 0 1 0 -4.8 0M105.3 684.6a2.4 2.4 0 1 0 4.8 0a2.4 2.4 0 1 0 -4.8 0M106.1 681.5a2.4 2.4 0 1 0 4.8 0a2.4 2.4 0 1 0 -4.8 0M108.3 683.8a2.4 2.4 0 1 0 4.8 0a2.4 2.4 0 1 0 -4.8 0M109.1 684.9a2.4 2.4 0 1 0 4.8 0a2.4 2.4 0 1 0 -4.8 0M110.6 685.2a2.4 2.4 0 1 0 4.8 0a2.4 2.4 0 1 0 -4.8 0M111.3 684.8a2.4 2.4 0 1 0 4.8 0a2.4 2.4 0 1 0 -4.8 0M112.1 686.3a2.4 2.4 0 1 0 4.8 0a2.4 2.4 0 1 0 -4.8 0M112.8 685.5a2.4 2.4 0 1 0 4.8 0a2.4 2.4 0 1 0 -4.8 0M113.6 685.5a2.4 2.4 0 1 0 4.8 0a2.4 2.4 0 1 0 -4.8 0M114.3 684.5a2.4 2.4 0 1 0 4.8 0a2.4 2.4 0 1 0 -4.8 0M116.6 682.8a2.4 2.4 0 1 0 4.8 0a2.4 2.4 0 1 0 -4.8 0M118.1 685.6a2.4 2.4 0 1 0 4.8 0a2.4 2.4 0 1 0 -4.8 0M118.8 685.3a2.4 2.4 0 1 0 4.8 0a2.4 2.4 0 1 0 -4.8 0M119.6 683.7a2.4 2.4 0 1 0 4.8 0a2.4 2.4 0 1 0 -4.8 0M120.3 683.0a2.4 2.4 0 1 0 4.8 0a2.4 2.4 0 1 0 -4.8 0M121.8 682.6a2.4 2.4 0 1 0 4.8 0a2.4 2.4 0 1 0 -4.8 0M122.6 683.4a2.4 2.4 0 1 0 4.8 0a2.4 2.4 0 1 0 -4.8 0M123.3 685.3a2.4 2.4 0 1 0 4.8 0a2.4 2.4 0 1 0 -4.8 0M124.8 684.8a2.4 2.4 0 1 0 4.8 0a2.4 2.4 0 1 0 -4.8 0M125.6 683.4a2.4 2.4 0 1 0 4.8 0a2.4 2.4 0 1 0 -4.8 0M126.3 684.1a2.4 2.4 0 1 0 4.8 0a2.4 2.4 0 1 0 -4.8 0M127.1 685.2a2.4 2.4 0 1 0 4.8 0a2.4 2.4 0 1 0 -4.8 0M127.8 682.6a2.4 2.4 0 1 0 4.8 0a2.4 2.4 0 1 0 -4.8 0M128.6 683.7a2.4 2.4 0 1 0 4.8 0a2.4 2.4 0 1 0 -4.8 0M129.3 684.0a2.4 2.4 0 1 0 4.8 0a2.4 2.4 0 1 0 -4.8 0M130.1 684.6a2.4 2.4 0 1 0 4.8 0a2.4 2.4 0 1 0 -4.8 0M131.6 685.0a2.4 2.4 0 1 0 4.8 0a2.4 2.4 0 1 0 -4.8 0M132.3 682.8a2.4 2.4 0 1 0 4.8 0a2.4 2.4 0 1 0 -4.8 0M133.1 684.0a2.4 2.4 0 1 0 4.8 0a2.4 2.4 0 1 0 -4.8 0M134.6 683.2a2.4 2.4 0 1 0 4.8 0a2.4 2.4 0 1 0 -4.8 0M136.1 683.0a2.4 2.4 0 1 0 4.8 0a2.4 2.4 0 1 0 -4.8 0M136.8 684.4a2.4 2.4 0 1 0 4.8 0a2.4 2.4 0 1 0 -4.8 0M137.6 683.4a2.4 2.4 0 1 0 4.8 0a2.4 2.4 0 1 0 -4.8 0M138.3 685.0a2.4 2.4 0 1 0 4.8 0a2.4 2.4 0 1 0 -4.8 0M139.1 684.5a2.4 2.4 0 1 0 4.8 0a2.4 2.4 0 1 0 -4.8 0M139.8 684.3a2.4 2.4 0 1 0 4.8 0a2.4 2.4 0 1 0 -4.8 0M140.6 684.2a2.4 2.4 0 1 0 4.8 0a2.4 2.4 0 1 0 -4.8 0M142.1 683.4a2.4 2.4 0 1 0 4.8 0a2.4 2.4 0 1 0 -4.8 0M143.6 683.1a2.4 2.4 0 1 0 4.8 0a2.4 2.4 0 1 0 -4.8 0M144.3 685.4a2.4 2.4 0 1 0 4.8 0a2.4 2.4 0 1 0 -4.8 0M145.1 683.6a2.4 2.4 0 1 0 4.8 0a2.4 2.4 0 1 0 -4.8 0M145.8 682.7a2.4 2.4 0 1 0 4.8 0a2.4 2.4 0 1 0 -4.8 0M146.6 683.2a2.4 2.4 0 1 0 4.8 0a2.4 2.4 0 1 0 -4.8 0M148.1 683.7a2.4 2.4 0 1 0 4.8 0a2.4 2.4 0 1 0 -4.8 0M148.8 684.9a2.4 2.4 0 1 0 4.8 0a2.4 2.4 0 1 0 -4.8 0M149.6 684.8a2.4 2.4 0 1 0 4.8 0a2.4 2.4 0 1 0 -4.8 0M151.1 684.0a2.4 2.4 0 1 0 4.8 0a2.4 2.4 0 1 0 -4.8 0M151.8 684.5a2.4 2.4 0 1 0 4.8 0a2.4 2.4 0 1 0 -4.8 0M152.6 684.5a2.4 2.4 0 1 0 4.8 0a2.4 2.4 0 1 0 -4.8 0M153.3 682.6a2.4 2.4 0 1 0 4.8 0a2.4 2.4 0 1 0 -4.8 0M154.8 685.7a2.4 2.4 0 1 0 4.8 0a2.4 2.4 0 1 0 -4.8 0M155.6 684.9a2.4 2.4 0 1 0 4.8 0a2.4 2.4 0 1 0 -4.8 0M156.3 684.5a2.4 2.4 0 1 0 4.8 0a2.4 2.4 0 1 0 -4.8 0M157.1 683.9a2.4 2.4 0 1 0 4.8 0a2.4 2.4 0 1 0 -4.8 0M157.8 685.7a2.4 2.4 0 1 0 4.8 0a2.4 2.4 0 1 0 -4.8 0M159.3 685.1a2.4 2.4 0 1 0 4.8 0a2.4 2.4 0 1 0 -4.8 0M160.8 684.8a2.4 2.4 0 1 0 4.8 0a2.4 2.4 0 1 0 -4.8 0M161.6 686.4a2.4 2.4 0 1 0 4.8 0a2.4 2.4 0 1 0 -4.8 0M162.3 683.9a2.4 2.4 0 1 0 4.8 0a2.4 2.4 0 1 0 -4.8 0M163.1 684.9a2.4 2.4 0 1 0 4.8 0a2.4 2.4 0 1 0 -4.8 0M163.8 684.0a2.4 2.4 0 1 0 4.8 0a2.4 2.4 0 1 0 -4.8 0M164.6 685.0a2.4 2.4 0 1 0 4.8 0a2.4 2.4 0 1 0 -4.8 0M165.3 685.0a2.4 2.4 0 1 0 4.8 0a2.4 2.4 0 1 0 -4.8 0M166.1 684.0a2.4 2.4 0 1 0 4.8 0a2.4 2.4 0 1 0 -4.8 0M166.8 683.5a2.4 2.4 0 1 0 4.8 0a2.4 2.4 0 1 0 -4.8 0M167.6 684.6a2.4 2.4 0 1 0 4.8 0a2.4 2.4 0 1 0 -4.8 0M168.3 684.6a2.4 2.4 0 1 0 4.8 0a2.4 2.4 0 1 0 -4.8 0M169.8 685.5a2.4 2.4 0 1 0 4.8 0a2.4 2.4 0 1 0 -4.8 0M171.3 684.4a2.4 2.4 0 1 0 4.8 0a2.4 2.4 0 1 0 -4.8 0M172.1 685.1a2.4 2.4 0 1 0 4.8 0a2.4 2.4 0 1 0 -4.8 0M173.6 685.7a2.4 2.4 0 1 0 4.8 0a2.4 2.4 0 1 0 -4.8 0M174.3 684.8a2.4 2.4 0 1 0 4.8 0a2.4 2.4 0 1 0 -4.8 0M175.1 687.1a2.4 2.4 0 1 0 4.8 0a2.4 2.4 0 1 0 -4.8 0M175.8 684.1a2.4 2.4 0 1 0 4.8 0a2.4 2.4 0 1 0 -4.8 0M176.6 682.1a2.4 2.4 0 1 0 4.8 0a2.4 2.4 0 1 0 -4.8 0M177.3 682.8a2.4 2.4 0 1 0 4.8 0a2.4 2.4 0 1 0 -4.8 0M178.1 683.3a2.4 2.4 0 1 0 4.8 0a2.4 2.4 0 1 0 -4.8 0M178.8 685.3a2.4 2.4 0 1 0 4.8 0a2.4 2.4 0 1 0 -4.8 0M179.6 686.1a2.4 2.4 0 1 0 4.8 0a2.4 2.4 0 1 0 -4.8 0M180.3 682.9a2.4 2.4 0 1 0 4.8 0a2.4 2.4 0 1 0 -4.8 0M181.1 686.1a2.4 2.4 0 1 0 4.8 0a2.4 2.4 0 1 0 -4.8 0M181.8 683.7a2.4 2.4 0 1 0 4.8 0a2.4 2.4 0 1 0 -4.8 0M182.6 685.1a2.4 2.4 0 1 0 4.8 0a2.4 2.4 0 1 0 -4.8 0M183.3 685.2a2.4 2.4 0 1 0 4.8 0a2.4 2.4 0 1 0 -4.8 0M184.1 685.1a2.4 2.4 0 1 0 4.8 0a2.4 2.4 0 1 0 -4.8 0M184.8 684.6a2.4 2.4 0 1 0 4.8 0a2.4 2.4 0 1 0 -4.8 0M185.6 684.7a2.4 2.4 0 1 0 4.8 0a2.4 2.4 0 1 0 -4.8 0M186.3 683.3a2.4 2.4 0 1 0 4.8 0a2.4 2.4 0 1 0 -4.8 0M187.1 684.6a2.4 2.4 0 1 0 4.8 0a2.4 2.4 0 1 0 -4.8 0M187.8 685.2a2.4 2.4 0 1 0 4.8 0a2.4 2.4 0 1 0 -4.8 0M188.6 685.0a2.4 2.4 0 1 0 4.8 0a2.4 2.4 0 1 0 -4.8 0M190.1 684.8a2.4 2.4 0 1 0 4.8 0a2.4 2.4 0 1 0 -4.8 0M191.6 685.2a2.4 2.4 0 1 0 4.8 0a2.4 2.4 0 1 0 -4.8 0M192.3 683.7a2.4 2.4 0 1 0 4.8 0a2.4 2.4 0 1 0 -4.8 0M193.1 682.2a2.4 2.4 0 1 0 4.8 0a2.4 2.4 0 1 0 -4.8 0M194.6 685.3a2.4 2.4 0 1 0 4.8 0a2.4 2.4 0 1 0 -4.8 0M195.3 684.9a2.4 2.4 0 1 0 4.8 0a2.4 2.4 0 1 0 -4.8 0M196.1 685.5a2.4 2.4 0 1 0 4.8 0a2.4 2.4 0 1 0 -4.8 0M196.8 684.6a2.4 2.4 0 1 0 4.8 0a2.4 2.4 0 1 0 -4.8 0M197.6 685.5a2.4 2.4 0 1 0 4.8 0a2.4 2.4 0 1 0 -4.8 0M198.3 687.1a2.4 2.4 0 1 0 4.8 0a2.4 2.4 0 1 0 -4.8 0M199.1 685.5a2.4 2.4 0 1 0 4.8 0a2.4 2.4 0 1 0 -4.8 0M199.8 683.9a2.4 2.4 0 1 0 4.8 0a2.4 2.4 0 1 0 -4.8 0M200.6 684.4a2.4 2.4 0 1 0 4.8 0a2.4 2.4 0 1 0 -4.8 0M201.3 686.1a2.4 2.4 0 1 0 4.8 0a2.4 2.4 0 1 0 -4.8 0M202.1 683.4a2.4 2.4 0 1 0 4.8 0a2.4 2.4 0 1 0 -4.8 0M202.8 681.8a2.4 2.4 0 1 0 4.8 0a2.4 2.4 0 1 0 -4.8 0M203.6 682.0a2.4 2.4 0 1 0 4.8 0a2.4 2.4 0 1 0 -4.8 0M204.3 683.0a2.4 2.4 0 1 0 4.8 0a2.4 2.4 0 1 0 -4.8 0M205.8 684.6a2.4 2.4 0 1 0 4.8 0a2.4 2.4 0 1 0 -4.8 0M206.6 683.8a2.4 2.4 0 1 0 4.8 0a2.4 2.4 0 1 0 -4.8 0M207.3 683.3a2.4 2.4 0 1 0 4.8 0a2.4 2.4 0 1 0 -4.8 0M208.1 684.6a2.4 2.4 0 1 0 4.8 0a2.4 2.4 0 1 0 -4.8 0M209.6 684.2a2.4 2.4 0 1 0 4.8 0a2.4 2.4 0 1 0 -4.8 0M210.3 684.5a2.4 2.4 0 1 0 4.8 0a2.4 2.4 0 1 0 -4.8 0M211.1 683.9a2.4 2.4 0 1 0 4.8 0a2.4 2.4 0 1 0 -4.8 0M211.8 686.4a2.4 2.4 0 1 0 4.8 0a2.4 2.4 0 1 0 -4.8 0M212.6 682.1a2.4 2.4 0 1 0 4.8 0a2.4 2.4 0 1 0 -4.8 0M213.3 684.6a2.4 2.4 0 1 0 4.8 0a2.4 2.4 0 1 0 -4.8 0M214.8 685.1a2.4 2.4 0 1 0 4.8 0a2.4 2.4 0 1 0 -4.8 0M215.6 684.2a2.4 2.4 0 1 0 4.8 0a2.4 2.4 0 1 0 -4.8 0M216.3 684.9a2.4 2.4 0 1 0 4.8 0a2.4 2.4 0 1 0 -4.8 0M217.1 685.1a2.4 2.4 0 1 0 4.8 0a2.4 2.4 0 1 0 -4.8 0M217.8 684.9a2.4 2.4 0 1 0 4.8 0a2.4 2.4 0 1 0 -4.8 0M219.3 683.3a2.4 2.4 0 1 0 4.8 0a2.4 2.4 0 1 0 -4.8 0M220.8 684.4a2.4 2.4 0 1 0 4.8 0a2.4 2.4 0 1 0 -4.8 0M222.3 685.8a2.4 2.4 0 1 0 4.8 0a2.4 2.4 0 1 0 -4.8 0M223.1 685.2a2.4 2.4 0 1 0 4.8 0a2.4 2.4 0 1 0 -4.8 0M223.8 685.8a2.4 2.4 0 1 0 4.8 0a2.4 2.4 0 1 0 -4.8 0M224.6 681.3a2.4 2.4 0 1 0 4.8 0a2.4 2.4 0 1 0 -4.8 0M225.3 682.4a2.4 2.4 0 1 0 4.8 0a2.4 2.4 0 1 0 -4.8 0M226.8 682.0a2.4 2.4 0 1 0 4.8 0a2.4 2.4 0 1 0 -4.8 0M227.6 683.0a2.4 2.4 0 1 0 4.8 0a2.4 2.4 0 1 0 -4.8 0M229.1 684.2a2.4 2.4 0 1 0 4.8 0a2.4 2.4 0 1 0 -4.8 0M230.6 684.1a2.4 2.4 0 1 0 4.8 0a2.4 2.4 0 1 0 -4.8 0M232.8 683.8a2.4 2.4 0 1 0 4.8 0a2.4 2.4 0 1 0 -4.8 0M233.6 684.0a2.4 2.4 0 1 0 4.8 0a2.4 2.4 0 1 0 -4.8 0M234.3 682.3a2.4 2.4 0 1 0 4.8 0a2.4 2.4 0 1 0 -4.8 0M235.1 684.0a2.4 2.4 0 1 0 4.8 0a2.4 2.4 0 1 0 -4.8 0M236.6 684.4a2.4 2.4 0 1 0 4.8 0a2.4 2.4 0 1 0 -4.8 0M238.1 683.3a2.4 2.4 0 1 0 4.8 0a2.4 2.4 0 1 0 -4.8 0M238.8 684.9a2.4 2.4 0 1 0 4.8 0a2.4 2.4 0 1 0 -4.8 0M239.6 684.7a2.4 2.4 0 1 0 4.8 0a2.4 2.4 0 1 0 -4.8 0M240.3 684.3a2.4 2.4 0 1 0 4.8 0a2.4 2.4 0 1 0 -4.8 0M241.1 685.0a2.4 2.4 0 1 0 4.8 0a2.4 2.4 0 1 0 -4.8 0M241.8 684.0a2.4 2.4 0 1 0 4.8 0a2.4 2.4 0 1 0 -4.8 0M242.6 684.0a2.4 2.4 0 1 0 4.8 0a2.4 2.4 0 1 0 -4.8 0M243.3 684.4a2.4 2.4 0 1 0 4.8 0a2.4 2.4 0 1 0 -4.8 0M244.1 684.2a2.4 2.4 0 1 0 4.8 0a2.4 2.4 0 1 0 -4.8 0M244.8 685.5a2.4 2.4 0 1 0 4.8 0a2.4 2.4 0 1 0 -4.8 0M245.6 681.4a2.4 2.4 0 1 0 4.8 0a2.4 2.4 0 1 0 -4.8 0M246.3 683.6a2.4 2.4 0 1 0 4.8 0a2.4 2.4 0 1 0 -4.8 0M247.1 681.3a2.4 2.4 0 1 0 4.8 0a2.4 2.4 0 1 0 -4.8 0M247.8 682.9a2.4 2.4 0 1 0 4.8 0a2.4 2.4 0 1 0 -4.8 0M248.5 683.8a2.4 2.4 0 1 0 4.8 0a2.4 2.4 0 1 0 -4.8 0M249.3 683.5a2.4 2.4 0 1 0 4.8 0a2.4 2.4 0 1 0 -4.8 0M250.0 684.9a2.4 2.4 0 1 0 4.8 0a2.4 2.4 0 1 0 -4.8 0M250.7 684.2a2.4 2.4 0 1 0 4.8 0a2.4 2.4 0 1 0 -4.8 0M251.5 679.7a2.4 2.4 0 1 0 4.8 0a2.4 2.4 0 1 0 -4.8 0M252.2 682.3a2.4 2.4 0 1 0 4.8 0a2.4 2.4 0 1 0 -4.8 0M252.9 686.9a2.4 2.4 0 1 0 4.8 0a2.4 2.4 0 1 0 -4.8 0M253.6 687.1a2.4 2.4 0 1 0 4.8 0a2.4 2.4 0 1 0 -4.8 0M254.3 684.3a2.4 2.4 0 1 0 4.8 0a2.4 2.4 0 1 0 -4.8 0M255.0 680.6a2.4 2.4 0 1 0 4.8 0a2.4 2.4 0 1 0 -4.8 0M256.4 678.0a2.4 2.4 0 1 0 4.8 0a2.4 2.4 0 1 0 -4.8 0M257.0 683.0a2.4 2.4 0 1 0 4.8 0a2.4 2.4 0 1 0 -4.8 0M257.7 681.3a2.4 2.4 0 1 0 4.8 0a2.4 2.4 0 1 0 -4.8 0M258.3 681.2a2.4 2.4 0 1 0 4.8 0a2.4 2.4 0 1 0 -4.8 0M258.9 675.8a2.4 2.4 0 1 0 4.8 0a2.4 2.4 0 1 0 -4.8 0M259.5 676.9a2.4 2.4 0 1 0 4.8 0a2.4 2.4 0 1 0 -4.8 0M260.1 680.8a2.4 2.4 0 1 0 4.8 0a2.4 2.4 0 1 0 -4.8 0M260.7 674.3a2.4 2.4 0 1 0 4.8 0a2.4 2.4 0 1 0 -4.8 0M261.2 669.8a2.4 2.4 0 1 0 4.8 0a2.4 2.4 0 1 0 -4.8 0M261.8 674.3a2.4 2.4 0 1 0 4.8 0a2.4 2.4 0 1 0 -4.8 0M262.3 674.1a2.4 2.4 0 1 0 4.8 0a2.4 2.4 0 1 0 -4.8 0M262.8 672.5a2.4 2.4 0 1 0 4.8 0a2.4 2.4 0 1 0 -4.8 0M263.3 669.0a2.4 2.4 0 1 0 4.8 0a2.4 2.4 0 1 0 -4.8 0M263.8 674.8a2.4 2.4 0 1 0 4.8 0a2.4 2.4 0 1 0 -4.8 0M264.3 671.3a2.4 2.4 0 1 0 4.8 0a2.4 2.4 0 1 0 -4.8 0M264.7 665.3a2.4 2.4 0 1 0 4.8 0a2.4 2.4 0 1 0 -4.8 0M265.2 671.7a2.4 2.4 0 1 0 4.8 0a2.4 2.4 0 1 0 -4.8 0M265.6 669.2a2.4 2.4 0 1 0 4.8 0a2.4 2.4 0 1 0 -4.8 0M266.1 668.6a2.4 2.4 0 1 0 4.8 0a2.4 2.4 0 1 0 -4.8 0M266.5 655.6a2.4 2.4 0 1 0 4.8 0a2.4 2.4 0 1 0 -4.8 0M267.0 658.7a2.4 2.4 0 1 0 4.8 0a2.4 2.4 0 1 0 -4.8 0M267.4 664.0a2.4 2.4 0 1 0 4.8 0a2.4 2.4 0 1 0 -4.8 0M267.9 664.9a2.4 2.4 0 1 0 4.8 0a2.4 2.4 0 1 0 -4.8 0M268.3 658.9a2.4 2.4 0 1 0 4.8 0a2.4 2.4 0 1 0 -4.8 0M268.8 655.8a2.4 2.4 0 1 0 4.8 0a2.4 2.4 0 1 0 -4.8 0M269.2 658.3a2.4 2.4 0 1 0 4.8 0a2.4 2.4 0 1 0 -4.8 0M269.7 659.1a2.4 2.4 0 1 0 4.8 0a2.4 2.4 0 1 0 -4.8 0M270.1 664.4a2.4 2.4 0 1 0 4.8 0a2.4 2.4 0 1 0 -4.8 0M270.6 653.9a2.4 2.4 0 1 0 4.8 0a2.4 2.4 0 1 0 -4.8 0M271.0 645.1a2.4 2.4 0 1 0 4.8 0a2.4 2.4 0 1 0 -4.8 0M271.5 653.2a2.4 2.4 0 1 0 4.8 0a2.4 2.4 0 1 0 -4.8 0M271.9 631.6a2.4 2.4 0 1 0 4.8 0a2.4 2.4 0 1 0 -4.8 0M272.4 647.6a2.4 2.4 0 1 0 4.8 0a2.4 2.4 0 1 0 -4.8 0M272.8 641.0a2.4 2.4 0 1 0 4.8 0a2.4 2.4 0 1 0 -4.8 0M273.3 642.2a2.4 2.4 0 1 0 4.8 0a2.4 2.4 0 1 0 -4.8 0M273.7 644.0a2.4 2.4 0 1 0 4.8 0a2.4 2.4 0 1 0 -4.8 0M274.2 636.6a2.4 2.4 0 1 0 4.8 0a2.4 2.4 0 1 0 -4.8 0M274.6 618.7a2.4 2.4 0 1 0 4.8 0a2.4 2.4 0 1 0 -4.8 0M275.1 626.9a2.4 2.4 0 1 0 4.8 0a2.4 2.4 0 1 0 -4.8 0M275.5 620.3a2.4 2.4 0 1 0 4.8 0a2.4 2.4 0 1 0 -4.8 0M276.0 626.9a2.4 2.4 0 1 0 4.8 0a2.4 2.4 0 1 0 -4.8 0M276.4 629.8a2.4 2.4 0 1 0 4.8 0a2.4 2.4 0 1 0 -4.8 0M276.9 614.1a2.4 2.4 0 1 0 4.8 0a2.4 2.4 0 1 0 -4.8 0M277.3 631.4a2.4 2.4 0 1 0 4.8 0a2.4 2.4 0 1 0 -4.8 0M277.8 636.3a2.4 2.4 0 1 0 4.8 0a2.4 2.4 0 1 0 -4.8 0M278.2 616.4a2.4 2.4 0 1 0 4.8 0a2.4 2.4 0 1 0 -4.8 0M278.7 626.0a2.4 2.4 0 1 0 4.8 0a2.4 2.4 0 1 0 -4.8 0M279.1 598.0a2.4 2.4 0 1 0 4.8 0a2.4 2.4 0 1 0 -4.8 0M279.6 607.6a2.4 2.4 0 1 0 4.8 0a2.4 2.4 0 1 0 -4.8 0M280.0 624.9a2.4 2.4 0 1 0 4.8 0a2.4 2.4 0 1 0 -4.8 0M280.5 590.7a2.4 2.4 0 1 0 4.8 0a2.4 2.4 0 1 0 -4.8 0M280.9 605.9a2.4 2.4 0 1 0 4.8 0a2.4 2.4 0 1 0 -4.8 0M281.4 600.3a2.4 2.4 0 1 0 4.8 0a2.4 2.4 0 1 0 -4.8 0M281.8 625.2a2.4 2.4 0 1 0 4.8 0a2.4 2.4 0 1 0 -4.8 0M282.3 623.4a2.4 2.4 0 1 0 4.8 0a2.4 2.4 0 1 0 -4.8 0M282.7 597.8a2.4 2.4 0 1 0 4.8 0a2.4 2.4 0 1 0 -4.8 0M283.2 604.5a2.4 2.4 0 1 0 4.8 0a2.4 2.4 0 1 0 -4.8 0M283.6 583.0a2.4 2.4 0 1 0 4.8 0a2.4 2.4 0 1 0 -4.8 0M284.1 608.4a2.4 2.4 0 1 0 4.8 0a2.4 2.4 0 1 0 -4.8 0M284.5 599.5a2.4 2.4 0 1 0 4.8 0a2.4 2.4 0 1 0 -4.8 0M285.0 610.7a2.4 2.4 0 1 0 4.8 0a2.4 2.4 0 1 0 -4.8 0M285.4 582.5a2.4 2.4 0 1 0 4.8 0a2.4 2.4 0 1 0 -4.8 0M285.9 593.8a2.4 2.4 0 1 0 4.8 0a2.4 2.4 0 1 0 -4.8 0M286.3 582.5a2.4 2.4 0 1 0 4.8 0a2.4 2.4 0 1 0 -4.8 0M286.8 586.8a2.4 2.4 0 1 0 4.8 0a2.4 2.4 0 1 0 -4.8 0M287.2 575.5a2.4 2.4 0 1 0 4.8 0a2.4 2.4 0 1 0 -4.8 0M287.7 583.8a2.4 2.4 0 1 0 4.8 0a2.4 2.4 0 1 0 -4.8 0M288.1 596.9a2.4 2.4 0 1 0 4.8 0a2.4 2.4 0 1 0 -4.8 0M288.6 590.7a2.4 2.4 0 1 0 4.8 0a2.4 2.4 0 1 0 -4.8 0M289.0 583.5a2.4 2.4 0 1 0 4.8 0a2.4 2.4 0 1 0 -4.8 0M289.5 599.0a2.4 2.4 0 1 0 4.8 0a2.4 2.4 0 1 0 -4.8 0M289.9 593.8a2.4 2.4 0 1 0 4.8 0a2.4 2.4 0 1 0 -4.8 0M290.4 588.2a2.4 2.4 0 1 0 4.8 0a2.4 2.4 0 1 0 -4.8 0M290.8 584.5a2.4 2.4 0 1 0 4.8 0a2.4 2.4 0 1 0 -4.8 0M291.3 600.6a2.4 2.4 0 1 0 4.8 0a2.4 2.4 0 1 0 -4.8 0M291.7 600.8a2.4 2.4 0 1 0 4.8 0a2.4 2.4 0 1 0 -4.8 0M292.2 622.6a2.4 2.4 0 1 0 4.8 0a2.4 2.4 0 1 0 -4.8 0M292.6 593.1a2.4 2.4 0 1 0 4.8 0a2.4 2.4 0 1 0 -4.8 0M293.1 620.0a2.4 2.4 0 1 0 4.8 0a2.4 2.4 0 1 0 -4.8 0M293.5 605.9a2.4 2.4 0 1 0 4.8 0a2.4 2.4 0 1 0 -4.8 0M294.0 619.3a2.4 2.4 0 1 0 4.8 0a2.4 2.4 0 1 0 -4.8 0M294.4 598.2a2.4 2.4 0 1 0 4.8 0a2.4 2.4 0 1 0 -4.8 0M294.9 604.4a2.4 2.4 0 1 0 4.8 0a2.4 2.4 0 1 0 -4.8 0M295.3 617.5a2.4 2.4 0 1 0 4.8 0a2.4 2.4 0 1 0 -4.8 0M295.8 637.6a2.4 2.4 0 1 0 4.8 0a2.4 2.4 0 1 0 -4.8 0M296.2 634.1a2.4 2.4 0 1 0 4.8 0a2.4 2.4 0 1 0 -4.8 0M296.7 644.2a2.4 2.4 0 1 0 4.8 0a2.4 2.4 0 1 0 -4.8 0M297.1 641.1a2.4 2.4 0 1 0 4.8 0a2.4 2.4 0 1 0 -4.8 0M297.6 649.2a2.4 2.4 0 1 0 4.8 0a2.4 2.4 0 1 0 -4.8 0M298.0 639.4a2.4 2.4 0 1 0 4.8 0a2.4 2.4 0 1 0 -4.8 0M298.5 630.6a2.4 2.4 0 1 0 4.8 0a2.4 2.4 0 1 0 -4.8 0M298.9 640.4a2.4 2.4 0 1 0 4.8 0a2.4 2.4 0 1 0 -4.8 0M299.4 635.6a2.4 2.4 0 1 0 4.8 0a2.4 2.4 0 1 0 -4.8 0M299.8 652.2a2.4 2.4 0 1 0 4.8 0a2.4 2.4 0 1 0 -4.8 0M300.3 634.6a2.4 2.4 0 1 0 4.8 0a2.4 2.4 0 1 0 -4.8 0M300.7 638.7a2.4 2.4 0 1 0 4.8 0a2.4 2.4 0 1 0 -4.8 0M301.2 636.5a2.4 2.4 0 1 0 4.8 0a2.4 2.4 0 1 0 -4.8 0M301.6 651.2a2.4 2.4 0 1 0 4.8 0a2.4 2.4 0 1 0 -4.8 0M302.1 649.7a2.4 2.4 0 1 0 4.8 0a2.4 2.4 0 1 0 -4.8 0M302.5 648.9a2.4 2.4 0 1 0 4.8 0a2.4 2.4 0 1 0 -4.8 0M303.0 634.7a2.4 2.4 0 1 0 4.8 0a2.4 2.4 0 1 0 -4.8 0M303.4 634.7a2.4 2.4 0 1 0 4.8 0a2.4 2.4 0 1 0 -4.8 0M303.9 651.1a2.4 2.4 0 1 0 4.8 0a2.4 2.4 0 1 0 -4.8 0M304.3 657.2a2.4 2.4 0 1 0 4.8 0a2.4 2.4 0 1 0 -4.8 0M304.8 665.6a2.4 2.4 0 1 0 4.8 0a2.4 2.4 0 1 0 -4.8 0M305.2 645.4a2.4 2.4 0 1 0 4.8 0a2.4 2.4 0 1 0 -4.8 0M305.7 659.9a2.4 2.4 0 1 0 4.8 0a2.4 2.4 0 1 0 -4.8 0M306.1 652.8a2.4 2.4 0 1 0 4.8 0a2.4 2.4 0 1 0 -4.8 0M306.6 660.3a2.4 2.4 0 1 0 4.8 0a2.4 2.4 0 1 0 -4.8 0M307.0 666.9a2.4 2.4 0 1 0 4.8 0a2.4 2.4 0 1 0 -4.8 0M307.5 675.4a2.4 2.4 0 1 0 4.8 0a2.4 2.4 0 1 0 -4.8 0M307.9 667.7a2.4 2.4 0 1 0 4.8 0a2.4 2.4 0 1 0 -4.8 0M308.4 667.4a2.4 2.4 0 1 0 4.8 0a2.4 2.4 0 1 0 -4.8 0M308.8 670.1a2.4 2.4 0 1 0 4.8 0a2.4 2.4 0 1 0 -4.8 0M309.3 678.7a2.4 2.4 0 1 0 4.8 0a2.4 2.4 0 1 0 -4.8 0M309.7 685.0a2.4 2.4 0 1 0 4.8 0a2.4 2.4 0 1 0 -4.8 0M310.2 667.5a2.4 2.4 0 1 0 4.8 0a2.4 2.4 0 1 0 -4.8 0M310.7 675.0a2.4 2.4 0 1 0 4.8 0a2.4 2.4 0 1 0 -4.8 0M311.2 676.1a2.4 2.4 0 1 0 4.8 0a2.4 2.4 0 1 0 -4.8 0M311.7 683.8a2.4 2.4 0 1 0 4.8 0a2.4 2.4 0 1 0 -4.8 0M312.3 681.5a2.4 2.4 0 1 0 4.8 0a2.4 2.4 0 1 0 -4.8 0M312.8 685.8a2.4 2.4 0 1 0 4.8 0a2.4 2.4 0 1 0 -4.8 0M313.4 677.0a2.4 2.4 0 1 0 4.8 0a2.4 2.4 0 1 0 -4.8 0M314.0 680.4a2.4 2.4 0 1 0 4.8 0a2.4 2.4 0 1 0 -4.8 0M314.6 678.9a2.4 2.4 0 1 0 4.8 0a2.4 2.4 0 1 0 -4.8 0M315.2 677.2a2.4 2.4 0 1 0 4.8 0a2.4 2.4 0 1 0 -4.8 0M315.9 680.1a2.4 2.4 0 1 0 4.8 0a2.4 2.4 0 1 0 -4.8 0M316.5 677.9a2.4 2.4 0 1 0 4.8 0a2.4 2.4 0 1 0 -4.8 0M317.2 686.1a2.4 2.4 0 1 0 4.8 0a2.4 2.4 0 1 0 -4.8 0M317.9 682.5a2.4 2.4 0 1 0 4.8 0a2.4 2.4 0 1 0 -4.8 0M318.5 680.0a2.4 2.4 0 1 0 4.8 0a2.4 2.4 0 1 0 -4.8 0M319.2 681.2a2.4 2.4 0 1 0 4.8 0a2.4 2.4 0 1 0 -4.8 0M320.0 685.6a2.4 2.4 0 1 0 4.8 0a2.4 2.4 0 1 0 -4.8 0M320.7 682.0a2.4 2.4 0 1 0 4.8 0a2.4 2.4 0 1 0 -4.8 0M321.4 684.0a2.4 2.4 0 1 0 4.8 0a2.4 2.4 0 1 0 -4.8 0M322.1 684.0a2.4 2.4 0 1 0 4.8 0a2.4 2.4 0 1 0 -4.8 0M322.8 684.8a2.4 2.4 0 1 0 4.8 0a2.4 2.4 0 1 0 -4.8 0M323.6 684.4a2.4 2.4 0 1 0 4.8 0a2.4 2.4 0 1 0 -4.8 0M324.3 683.6a2.4 2.4 0 1 0 4.8 0a2.4 2.4 0 1 0 -4.8 0M325.8 682.2a2.4 2.4 0 1 0 4.8 0a2.4 2.4 0 1 0 -4.8 0" stroke="#888" stroke-width="1.4" fill="#fff"/>
<path d="M58.1 657.6L58.8 657.6L59.5 657.7L60.2 657.7L60.9 657.7L61.6 657.7L62.3 657.8L63.0 657.9L63.7 658.0L64.4 658.2L65.1 658.4L65.8 658.8L66.5 659.2L67.2 659.8L67.9 660.7L68.6 661.8L69.3 663.2L70.0 665.0L70.7 667.2L71.4 669.6L72.1 672.3L72.8 675.0L73.5 677.6L74.2 679.9L74.9 681.9L75.6 683.5L76.3 684.8L77.0 685.8L77.7 686.6L78.4 687.1L79.1 687.5L79.8 687.8L80.5 688.0L81.2 688.1L81.9 688.2L82.6 688.3L83.3 688.4L84.0 688.4L84.7 688.4L85.4 688.5L86.1 688.5L86.8 688.5L87.5 688.5L88.2 688.5L88.9 688.5L89.6 688.5L90.3 688.5L91.0 688.5L91.7 688.5L92.4 688.5L93.1 688.5L93.8 688.5L94.5 688.5L95.2 688.5L95.9 688.5L96.6 688.5L97.3 688.5L98.0 688.5L98.7 688.5L99.4 688.5L100.1 688.5L100.8 688.5L101.5 688.5L102.2 688.5L102.9 688.5L103.6 688.5L104.3 688.5L105.0 688.5L105.7 688.5L106.4 688.5L107.1 688.5L107.8 688.5L108.5 688.5L109.2 688.5L109.9 688.5L110.6 688.5L111.3 688.5L112.0 688.5L112.7 688.5L113.4 688.5L114.1 688.5L114.8 688.5L115.5 688.5L116.2 688.5L116.9 688.5L117.6 688.5L118.3 688.5L119.0 688.5L119.7 688.5L120.4 688.5L121.1 688.5L121.8 688.5L122.5 688.5L123.2 688.5L123.9 688.5L124.6 688.5L125.3 688.5L126.0 688.5L126.7 688.5L127.4 688.5L128.1 688.5L128.8 688.5L129.5 688.5L130.2 688.5L130.9 688.5L131.6 688.5L132.3 688.5L133.0 688.5L133.7 688.5L134.4 688.5L135.1 688.5L135.8 688.5L136.5 688.5L137.2 688.5L137.9 688.5L138.6 688.5L139.3 688.5L140.0 688.5L140.7 688.5L141.4 688.5L142.1 688.5L142.8 688.5L143.5 688.5L144.2 688.5L144.9 688.5L145.6 688.5L146.3 688.5L147.0 688.5L147.7 688.5L148.4 688.5L149.1 688.5L149.8 688.5L150.5 688.5L151.2 688.5L151.9 688.5L152.6 688.5L153.3 688.5L154.0 688.5L154.7 688.5L155.4 688.5L156.1 688.5L156.8 688.5L157.5 688.5L158.2 688.5L158.9 688.5L159.6 688.5L160.3 688.5L161.0 688.5L161.7 688.5L162.4 688.5L163.1 688.5L163.8 688.5L164.5 688.5L165.2 688.5L165.9 688.5L166.6 688.5L167.3 688.5L168.0 688.5L168.7 688.5L169.4 688.5L170.1 688.5L170.8 688.5L171.5 688.5L172.2 688.5L172.9 688.5L173.6 688.5L174.3 688.5L175.0 688.5L175.7 688.5L176.4 688.5L177.1 688.5L177.8 688.5L178.5 688.5L179.2 688.5L179.9 688.5L180.6 688.5L181.3 688.5L182.0 688.5L182.7 688.5L183.4 688.5L184.1 688.5L184.8 688.5L185.5 688.5L186.2 688.5L186.9 688.5L187.6 688.5L188.3 688.5L189.0 688.5L189.7 688.5L190.4 688.5L191.1 688.5L191.8 688.5L192.5 688.5L193.2 688.5L193.9 688.5L194.6 688.5L195.3 688.5L196.0 688.5L196.7 688.5L197.4 688.5L198.1 688.5L198.8 688.5L199.5 688.5L200.2 688.5L200.9 688.5L201.6 688.5L202.3 688.5L203.0 688.5L203.7 688.5L204.4 688.5L205.1 688.5L205.8 688.5L206.5 688.5L207.2 688.5L207.9 688.5L208.6 688.5L209.3 688.5L210.0 688.5L210.7 688.5L211.4 688.5L212.1 688.5L212.8 688.5L213.5 688.5L214.2 688.5L214.9 688.5L215.6 688.5L216.3 688.5L217.0 688.5L217.7 688.5L218.4 688.5L219.1 688.5L219.8 688.5L220.5 688.5L221.2 688.5L221.9 688.5L222.6 688.5L223.3 688.5L224.0 688.5L224.7 688.5L225.4 688.5L226.1 688.5L226.8 688.5L227.5 688.5L228.2 688.5L228.9 688.5L229.6 688.5L230.3 688.5L231.0 688.5L231.7 688.5L232.4 688.5L233.1 688.5L233.8 688.5L234.5 688.5L235.2 688.5L235.9 688.5L236.6 688.5L237.3 688.5L238.0 688.5L238.7 688.5L239.4 688.5L240.1 688.5L240.8 688.5L241.5 688.5L242.2 688.5L242.9 688.5L243.6 688.5L244.3 688.5L245.0 688.5L245.7 688.4L246.4 688.4L247.1 688.4L247.8 688.4L248.5 688.3L249.2 688.3L249.9 688.3L250.6 688.2L251.3 688.2L252.0 688.1L252.7 688.0L253.4 687.9L254.1 687.8L254.8 687.6L255.5 687.5L256.2 687.3L256.9 687.1L257.6 686.8L258.3 686.6L259.0 686.2L259.7 685.9L260.4 685.5L261.1 685.0L261.8 684.5L262.5 684.0L263.2 683.4L263.9 682.7L264.6 682.0L265.3 681.2L266.0 680.3L266.7 679.4L267.4 678.4L268.1 677.4L268.8 676.3L269.5 675.2L270.2 674.1L270.9 672.8L271.6 671.6L272.3 670.4L273.0 669.1L273.7 667.8L274.4 666.6L275.1 665.3L275.8 664.1L276.5 663.0L277.2 661.9L277.9 660.8L278.6 659.9L279.3 659.0L280.0 658.2L280.7 657.6L281.4 657.1L282.1 656.6L282.8 656.4L283.5 656.2L284.2 656.2L284.9 656.3L285.6 656.6L286.3 657.0L287.0 657.5L287.7 658.1L288.4 658.9L289.1 659.7L289.8 660.7L290.5 661.7L291.2 662.8L291.9 663.9L292.6 665.1L293.3 666.4L294.0 667.6L294.7 668.9L295.4 670.2L296.1 671.4L296.8 672.7L297.5 673.9L298.2 675.1L298.9 676.2L299.6 677.3L300.3 678.3L301.0 679.3L301.7 680.2L302.4 681.1L303.1 681.8L303.8 682.6L304.5 683.3L305.2 683.9L305.9 684.4L306.6 685.0L307.3 685.4L308.0 685.8L308.7 686.2L309.4 686.5L310.1 686.8L310.8 687.0L311.5 687.3L312.2 687.5L312.9 687.6L313.6 687.8L314.3 687.9L315.0 688.0L315.7 688.1L316.4 688.2L317.1 688.2L317.8 688.3L318.5 688.3L319.2 688.3L319.9 688.4L320.6 688.4L321.3 688.4L322.0 688.4L322.7 688.4L323.4 688.5L324.1 688.5L324.8 688.5L325.5 688.5L326.2 688.5L326.9 688.5L327.6 688.5" stroke="#d92b2b" stroke-width="2.6" fill="none"/>
<path d="M58.1 657.6L58.8 657.6L59.5 657.7L60.2 657.7L60.9 657.7L61.6 657.7L62.3 657.8L63.0 657.9L63.7 658.0L64.4 658.2L65.1 658.4L65.8 658.8L66.5 659.2L67.2 659.8L67.9 660.7L68.6 661.8L69.3 663.2L70.0 665.0L70.7 667.2L71.4 669.6L72.1 672.3L72.8 675.0L73.5 677.6L74.2 679.9L74.9 681.9L75.6 683.5L76.3 684.8L77.0 685.8L77.7 686.6L78.4 687.1L79.1 687.5L79.8 687.8L80.5 688.0L81.2 688.1L81.9 688.2L82.6 688.3L83.3 688.4L84.0 688.4L84.7 688.4L85.4 688.5L86.1 688.5L86.8 688.5L87.5 688.5L88.2 688.5L88.9 688.5L89.6 688.5L90.3 688.5L91.0 688.5L91.7 688.5L92.4 688.5L93.1 688.5L93.8 688.5L94.5 688.5L95.2 688.5L95.9 688.5L96.6 688.5L97.3 688.5L98.0 688.5L98.7 688.5L99.4 688.5L100.1 688.5L100.8 688.5L101.5 688.5L102.2 688.5L102.9 688.5L103.6 688.5L104.3 688.5L105.0 688.5L105.7 688.5L106.4 688.5L107.1 688.5L107.8 688.5L108.5 688.5L109.2 688.5L109.9 688.5L110.6 688.5L111.3 688.5L112.0 688.5L112.7 688.5L113.4 688.5L114.1 688.5L114.8 688.5L115.5 688.5L116.2 688.5L116.9 688.5L117.6 688.5L118.3 688.5L119.0 688.5L119.7 688.5L120.4 688.5L121.1 688.5L121.8 688.5L122.5 688.5L123.2 688.5L123.9 688.5L124.6 688.5L125.3 688.5L126.0 688.5L126.7 688.5L127.4 688.5L128.1 688.5L128.8 688.5L129.5 688.5L130.2 688.5L130.9 688.5L131.6 688.5L132.3 688.5L133.0 688.5L133.7 688.5L134.4 688.5L135.1 688.5L135.8 688.5L136.5 688.5L137.2 688.5L137.9 688.5L138.6 688.5L139.3 688.5L140.0 688.5L140.7 688.5L141.4 688.5L142.1 688.5L142.8 688.5L143.5 688.5L144.2 688.5L144.9 688.5L145.6 688.5L146.3 688.5L147.0 688.5L147.7 688.5L148.4 688.5L149.1 688.5L149.8 688.5L150.5 688.5L151.2 688.5L151.9 688.5L152.6 688.5L153.3 688.5L154.0 688.5L154.7 688.5L155.4 688.5L156.1 688.5L156.8 688.5L157.5 688.5L158.2 688.5L158.9 688.5L159.6 688.5L160.3 688.5L161.0 688.5L161.7 688.5L162.4 688.5L163.1 688.5L163.8 688.5L164.5 688.5L165.2 688.5L165.9 688.5L166.6 688.5L167.3 688.5L168.0 688.5L168.7 688.5L169.4 688.5L170.1 688.5L170.8 688.5L171.5 688.5L172.2 688.5L172.9 688.5L173.6 688.5L174.3 688.5L175.0 688.5L175.7 688.5L176.4 688.5L177.1 688.5L177.8 688.5L178.5 688.5L179.2 688.5L179.9 688.5L180.6 688.5L181.3 688.5L182.0 688.5L182.7 688.5L183.4 688.5L184.1 688.5L184.8 688.5L185.5 688.5L186.2 688.5L186.9 688.5L187.6 688.5L188.3 688.5L189.0 688.5L189.7 688.5L190.4 688.5L191.1 688.5L191.8 688.5L192.5 688.5L193.2 688.5L193.9 688.5L194.6 688.5L195.3 688.5L196.0 688.5L196.7 688.5L197.4 688.5L198.1 688.5L198.8 688.5L199.5 688.5L200.2 688.5L200.9 688.5L201.6 688.5L202.3 688.5L203.0 688.5L203.7 688.5L204.4 688.5L205.1 688.5L205.8 688.5L206.5 688.5L207.2 688.5L207.9 688.5L208.6 688.5L209.3 688.5L210.0 688.5L210.7 688.5L211.4 688.5L212.1 688.5L212.8 688.5L213.5 688.5L214.2 688.5L214.9 688.5L215.6 688.5L216.3 688.5L217.0 688.5L217.7 688.5L218.4 688.5L219.1 688.5L219.8 688.5L220.5 688.5L221.2 688.5L221.9 688.5L222.6 688.5L223.3 688.5L224.0 688.5L224.7 688.5L225.4 688.5L226.1 688.5L226.8 688.5L227.5 688.5L228.2 688.5L228.9 688.5L229.6 688.5L230.3 688.5L231.0 688.5L231.7 688.5L232.4 688.5L233.1 688.5L233.8 688.5L234.5 688.5L235.2 688.5L235.9 688.5L236.6 688.5L237.3 688.5L238.0 688.5L238.7 688.5L239.4 688.5L240.1 688.5L240.8 688.5L241.5 688.5L242.2 688.5L242.9 688.5L243.6 688.5L244.3 688.5L245.0 688.4L245.7 688.4L246.4 688.4L247.1 688.4L247.8 688.4L248.5 688.3L249.2 688.3L249.9 688.2L250.6 688.2L251.3 688.1L252.0 688.0L252.7 687.9L253.4 687.8L254.1 687.6L254.8 687.4L255.5 687.2L256.2 687.0L256.9 686.7L257.6 686.3L258.3 685.9L259.0 685.5L259.7 685.0L260.4 684.4L261.1 683.7L261.8 682.9L262.5 682.0L263.2 681.0L263.9 679.9L264.6 678.6L265.3 677.2L266.0 675.7L266.7 674.0L267.4 672.1L268.1 670.0L268.8 667.8L269.5 665.4L270.2 662.8L270.9 660.0L271.6 657.0L272.3 653.9L273.0 650.5L273.7 647.0L274.4 643.4L275.1 639.5L275.8 635.6L276.5 631.5L277.2 627.4L277.9 623.2L278.6 619.0L279.3 614.8L280.0 610.6L280.7 606.5L281.4 602.5L282.1 598.7L282.8 595.0L283.5 591.5L284.2 588.4L284.9 585.5L285.6 582.9L286.3 580.7L287.0 578.8L287.7 577.4L288.4 576.4L289.1 575.8L289.8 575.7L290.5 576.0L291.2 576.8L291.9 578.0L292.6 579.6L293.3 581.7L294.0 584.1L294.7 586.8L295.4 590.0L296.1 593.3L296.8 597.0L297.5 600.9L298.2 604.9L298.9 609.1L299.6 613.4L300.3 617.8L301.0 622.2L301.7 626.5L302.4 630.8L303.1 635.1L303.8 639.2L304.5 643.2L305.2 647.1L305.9 650.8L306.6 654.3L307.3 657.6L308.0 660.7L308.7 663.6L309.4 666.3L310.1 668.8L310.8 671.1L311.5 673.1L312.2 675.0L312.9 676.8L313.6 678.3L314.3 679.7L315.0 680.9L315.7 682.0L316.4 682.9L317.1 683.7L317.8 684.5L318.5 685.1L319.2 685.6L319.9 686.1L320.6 686.5L321.3 686.9L322.0 687.1L322.7 687.4L323.4 687.6L324.1 687.8L324.8 687.9L325.5 688.0L326.2 688.1L326.9 688.2L327.6 688.3" stroke="#2a2f88" stroke-width="2.6" fill="none" stroke-dasharray="7 3.5"/>
<polyline points="371.5,394.0 372.2,386.3 373.0,383.2 373.7,376.8 374.5,387.8 375.2,394.9 376.0,390.0 376.7,392.9 377.5,396.0 378.2,388.6 379.0,405.0 379.7,390.3 380.4,396.4 381.2,407.2 381.9,394.9 382.7,395.9 383.4,393.0 384.2,396.3 384.9,385.0 385.7,391.0 386.4,400.6 387.2,393.5 387.9,390.9 388.7,393.0 389.4,392.5 390.2,390.8 390.9,392.1 391.7,381.9 392.4,391.5 393.2,386.0 393.9,392.7 394.7,389.8 395.4,386.3 396.2,391.1 396.9,387.6 397.7,396.8 398.4,392.3 399.2,396.0 399.9,387.0 400.7,398.6 401.4,389.9 402.2,397.0 402.9,394.6 403.7,386.0 404.4,392.1 405.2,388.0 405.9,391.8 406.7,395.6 407.4,391.5 408.2,392.3 408.9,381.8 409.7,387.3 410.4,388.0 411.2,391.7 411.9,385.3 412.7,391.8 413.4,392.6 414.2,385.4 414.9,388.7 415.7,396.0 416.4,389.3 417.2,389.1 417.9,398.2 418.7,395.2 419.4,392.5 420.2,393.6 420.9,391.1 421.7,390.3 422.4,390.4 423.2,393.7 423.9,397.3 424.7,388.9 425.4,390.1 426.2,388.8 426.9,383.7 427.7,389.9 428.4,392.4 429.2,385.0 429.9,392.6 430.7,386.8 431.4,394.7 432.2,395.2 432.9,388.1 433.7,380.6 434.4,387.0 435.2,381.5 435.9,380.7 436.7,384.4 437.4,390.7 438.2,383.9 438.9,383.2 439.7,376.3 440.4,382.2 441.2,379.4 441.9,388.6 442.7,384.9 443.4,387.9 444.2,388.8 444.9,388.8 445.7,394.5 446.4,393.1 447.2,390.2 447.9,392.6 448.7,394.2 449.4,397.0 450.2,390.2 450.9,394.0 451.7,383.0 452.4,382.6 453.2,375.8 453.9,384.6 454.7,376.9 455.4,377.5 456.2,385.9 456.9,382.5 457.7,384.0 458.4,391.7 459.2,391.0 459.9,395.5 460.7,394.5 461.4,398.1 462.2,399.8 463.7,402.1 464.4,399.8 465.1,400.2 465.9,400.6 466.6,401.8 468.1,399.8 468.8,400.5 469.6,401.7 471.0,397.7 471.8,399.0 472.5,399.7 473.2,397.4 473.9,398.1 474.7,394.4 475.4,397.3 477.5,397.7 478.2,398.9 478.9,395.6 479.6,399.6 480.9,397.7 481.6,402.0 482.2,401.3 482.9,393.9 483.5,399.5 484.2,395.5 484.8,393.0 485.4,394.3 486.0,392.6 486.6,395.4 487.2,385.0 487.8,387.6 488.4,387.9 488.9,381.2 489.5,391.9 490.0,393.7 490.6,383.9 491.1,387.4 491.6,384.3 492.1,386.2 492.6,381.9 493.1,388.7 493.6,379.8 494.1,392.0 494.6,387.6 495.0,398.1 495.5,377.8 495.9,385.6 496.4,379.1 496.8,384.9 497.3,387.5 497.7,379.3 498.2,375.5 498.6,372.7 499.1,383.2 499.5,388.6 500.0,387.1 500.4,378.9 500.9,371.3 501.3,374.0 501.8,365.4 502.2,364.2 502.7,381.8 503.1,372.4 503.6,376.5 504.0,372.2 504.5,383.6 504.9,384.1 505.4,366.5 505.8,368.4 506.3,364.5 506.7,378.8 507.2,377.0 507.6,363.5 508.1,384.5 508.5,365.6 509.0,355.3 509.4,348.5 509.9,365.1 510.3,368.8 510.8,359.4 511.2,366.0 511.7,371.2 512.1,356.5 512.6,361.9 513.0,366.6 513.5,352.4 513.9,338.8 514.4,345.9 514.8,344.2 515.3,358.1 515.7,330.1 516.2,318.5 516.6,336.5 517.1,337.7 517.5,331.7 518.0,344.4 518.4,343.9 518.9,354.7 519.3,332.1 519.8,331.4 520.2,335.4 520.7,325.4 521.1,340.7 521.6,328.8 522.0,319.0 522.5,335.1 522.9,323.3 523.4,330.0 523.8,329.1 524.3,319.3 524.7,320.1 525.2,321.8 525.6,308.0 526.1,315.5 526.5,328.3 527.0,320.5 527.4,304.3 527.9,343.1 528.3,302.2 528.8,320.2 529.2,320.3 529.7,325.7 530.1,302.9 530.6,308.1 531.0,304.6 531.5,320.2 531.9,310.7 532.4,311.1 532.8,312.9 533.3,330.7 533.7,315.9 534.2,319.5 534.6,303.4 535.1,319.3 535.5,305.6 536.0,323.6 536.4,314.2 536.9,303.3 537.3,305.8 537.8,312.8 538.2,316.6 538.7,310.3 539.1,315.1 539.6,317.5 540.0,317.1 540.5,323.1 540.9,330.1 541.4,342.9 541.8,335.7 542.3,321.6 542.7,345.7 543.2,339.9 543.6,323.4 544.1,337.9 544.5,321.8 545.0,320.9 545.4,322.9 545.9,349.7 546.3,334.9 546.8,337.8 547.2,336.1 547.7,332.3 548.1,342.8 548.6,346.0 549.0,360.0 549.5,332.1 549.9,356.0 550.4,347.2 550.8,323.6 551.3,349.9 551.7,356.4 552.2,352.5 552.6,346.4 553.1,348.4 553.5,332.2 554.0,357.1 554.4,359.6 554.9,353.3 555.3,366.1 555.8,360.5 556.2,386.3 556.7,357.0 557.1,359.2 557.6,348.4 558.0,362.2 558.5,366.2 558.9,365.7 559.4,361.5 559.8,374.4 560.3,371.0 560.7,379.5 561.2,371.3 561.6,360.6 562.1,373.0 562.5,367.7 563.0,381.1 563.4,372.2 563.9,375.5 564.3,377.8 564.8,368.7 565.2,376.2 565.7,383.7 566.1,374.3 566.6,376.1 567.0,377.4 567.5,372.3 567.9,374.8 568.4,379.6 568.8,376.4 569.3,380.4 569.7,381.3 570.2,378.7 570.6,379.5 571.1,397.5 571.5,395.9 572.0,389.8 572.5,395.6 573.0,396.8 573.5,396.5 574.0,391.1 574.5,387.2 575.0,388.7 575.5,393.5 576.1,400.3 576.6,401.4 577.2,394.9 577.7,394.6 578.3,400.0 578.9,402.8 579.5,392.9 580.1,397.8 580.7,397.2 581.3,396.4 581.9,397.0 582.5,397.6 583.2,399.1 583.8,395.6 584.5,400.2 585.1,402.6 585.8,402.8 586.4,403.1 587.1,402.3 587.8,402.2 588.5,406.1 589.9,403.0 590.6,405.4 591.3,403.4 592.0,401.4 592.7,402.9 593.4,403.1 594.1,403.5 594.8,403.0 595.6,405.0 596.3,404.4 598.5,404.9 599.2,405.0 600.0,406.7 601.4,404.2 602.2,406.1 602.9,403.2 603.7,404.8 604.4,404.8 605.2,404.7 605.9,403.7 606.6,404.9 607.4,403.4 608.1,406.4 608.9,404.6 609.6,405.2 610.4,404.8 611.9,404.6 612.6,404.7 613.4,403.9 614.1,404.3 614.9,403.3 615.6,403.7 616.4,404.3 617.1,404.5 618.6,405.4 619.4,406.8 620.1,406.7 621.6,406.5 622.4,406.5 623.1,408.4 623.9,404.3 624.6,406.2 625.4,404.6 626.1,407.3 626.9,405.9 627.6,406.6 629.1,407.0 629.9,403.3 630.6,405.0 631.4,406.2 632.1,404.5 633.6,406.6 634.4,403.7 635.1,404.4 635.9,405.3 636.6,406.4 637.4,405.6 638.1,405.4 638.9,403.8 639.6,404.8 640.4,404.9 641.1,404.2" stroke="#a0a0a0" stroke-width="0.6" fill="none"/>
<path d="M369.1 394.0a2.4 2.4 0 1 0 4.8 0a2.4 2.4 0 1 0 -4.8 0M369.8 386.3a2.4 2.4 0 1 0 4.8 0a2.4 2.4 0 1 0 -4.8 0M370.6 383.2a2.4 2.4 0 1 0 4.8 0a2.4 2.4 0 1 0 -4.8 0M371.3 376.8a2.4 2.4 0 1 0 4.8 0a2.4 2.4 0 1 0 -4.8 0M372.1 387.8a2.4 2.4 0 1 0 4.8 0a2.4 2.4 0 1 0 -4.8 0M372.8 394.9a2.4 2.4 0 1 0 4.8 0a2.4 2.4 0 1 0 -4.8 0M373.6 390.0a2.4 2.4 0 1 0 4.8 0a2.4 2.4 0 1 0 -4.8 0M374.3 392.9a2.4 2.4 0 1 0 4.8 0a2.4 2.4 0 1 0 -4.8 0M375.1 396.0a2.4 2.4 0 1 0 4.8 0a2.4 2.4 0 1 0 -4.8 0M375.8 388.6a2.4 2.4 0 1 0 4.8 0a2.4 2.4 0 1 0 -4.8 0M376.6 405.0a2.4 2.4 0 1 0 4.8 0a2.4 2.4 0 1 0 -4.8 0M377.3 390.3a2.4 2.4 0 1 0 4.8 0a2.4 2.4 0 1 0 -4.8 0M378.0 396.4a2.4 2.4 0 1 0 4.8 0a2.4 2.4 0 1 0 -4.8 0M378.8 407.2a2.4 2.4 0 1 0 4.8 0a2.4 2.4 0 1 0 -4.8 0M379.5 394.9a2.4 2.4 0 1 0 4.8 0a2.4 2.4 0 1 0 -4.8 0M380.3 395.9a2.4 2.4 0 1 0 4.8 0a2.4 2.4 0 1 0 -4.8 0M381.0 393.0a2.4 2.4 0 1 0 4.8 0a2.4 2.4 0 1 0 -4.8 0M381.8 396.3a2.4 2.4 0 1 0 4.8 0a2.4 2.4 0 1 0 -4.8 0M382.5 385.0a2.4 2.4 0 1 0 4.8 0a2.4 2.4 0 1 0 -4.8 0M383.3 391.0a2.4 2.4 0 1 0 4.8 0a2.4 2.4 0 1 0 -4.8 0M384.0 400.6a2.4 2.4 0 1 0 4.8 0a2.4 2.4 0 1 0 -4.8 0M384.8 393.5a2.4 2.4 0 1 0 4.8 0a2.4 2.4 0 1 0 -4.8 0M385.5 390.9a2.4 2.4 0 1 0 4.8 0a2.4 2.4 0 1 0 -4.8 0M386.3 393.0a2.4 2.4 0 1 0 4.8 0a2.4 2.4 0 1 0 -4.8 0M387.0 392.5a2.4 2.4 0 1 0 4.8 0a2.4 2.4 0 1 0 -4.8 0M387.8 390.8a2.4 2.4 0 1 0 4.8 0a2.4 2.4 0 1 0 -4.8 0M388.5 392.1a2.4 2.4 0 1 0 4.8 0a2.4 2.4 0 1 0 -4.8 0M389.3 381.9a2.4 2.4 0 1 0 4.8 0a2.4 2.4 0 1 0 -4.8 0M390.0 391.5a2.4 2.4 0 1 0 4.8 0a2.4 2.4 0 1 0 -4.8 0M390.8 386.0a2.4 2.4 0 1 0 4.8 0a2.4 2.4 0 1 0 -4.8 0M391.5 392.7a2.4 2.4 0 1 0 4.8 0a2.4 2.4 0 1 0 -4.8 0M392.3 389.8a2.4 2.4 0 1 0 4.8 0a2.4 2.4 0 1 0 -4.8 0M393.0 386.3a2.4 2.4 0 1 0 4.8 0a2.4 2.4 0 1 0 -4.8 0M393.8 391.1a2.4 2.4 0 1 0 4.8 0a2.4 2.4 0 1 0 -4.8 0M394.5 387.6a2.4 2.4 0 1 0 4.8 0a2.4 2.4 0 1 0 -4.8 0M395.3 396.8a2.4 2.4 0 1 0 4.8 0a2.4 2.4 0 1 0 -4.8 0M396.0 392.3a2.4 2.4 0 1 0 4.8 0a2.4 2.4 0 1 0 -4.8 0M396.8 396.0a2.4 2.4 0 1 0 4.8 0a2.4 2.4 0 1 0 -4.8 0M397.5 387.0a2.4 2.4 0 1 0 4.8 0a2.4 2.4 0 1 0 -4.8 0M398.3 398.6a2.4 2.4 0 1 0 4.8 0a2.4 2.4 0 1 0 -4.8 0M399.0 389.9a2.4 2.4 0 1 0 4.8 0a2.4 2.4 0 1 0 -4.8 0M399.8 397.0a2.4 2.4 0 1 0 4.8 0a2.4 2.4 0 1 0 -4.8 0M400.5 394.6a2.4 2.4 0 1 0 4.8 0a2.4 2.4 0 1 0 -4.8 0M401.3 386.0a2.4 2.4 0 1 0 4.8 0a2.4 2.4 0 1 0 -4.8 0M402.0 392.1a2.4 2.4 0 1 0 4.8 0a2.4 2.4 0 1 0 -4.8 0M402.8 388.0a2.4 2.4 0 1 0 4.8 0a2.4 2.4 0 1 0 -4.8 0M403.5 391.8a2.4 2.4 0 1 0 4.8 0a2.4 2.4 0 1 0 -4.8 0M404.3 395.6a2.4 2.4 0 1 0 4.8 0a2.4 2.4 0 1 0 -4.8 0M405.0 391.5a2.4 2.4 0 1 0 4.8 0a2.4 2.4 0 1 0 -4.8 0M405.8 392.3a2.4 2.4 0 1 0 4.8 0a2.4 2.4 0 1 0 -4.8 0M406.5 381.8a2.4 2.4 0 1 0 4.8 0a2.4 2.4 0 1 0 -4.8 0M407.3 387.3a2.4 2.4 0 1 0 4.8 0a2.4 2.4 0 1 0 -4.8 0M408.0 388.0a2.4 2.4 0 1 0 4.8 0a2.4 2.4 0 1 0 -4.8 0M408.8 391.7a2.4 2.4 0 1 0 4.8 0a2.4 2.4 0 1 0 -4.8 0M409.5 385.3a2.4 2.4 0 1 0 4.8 0a2.4 2.4 0 1 0 -4.8 0M410.3 391.8a2.4 2.4 0 1 0 4.8 0a2.4 2.4 0 1 0 -4.8 0M411.0 392.6a2.4 2.4 0 1 0 4.8 0a2.4 2.4 0 1 0 -4.8 0M411.8 385.4a2.4 2.4 0 1 0 4.8 0a2.4 2.4 0 1 0 -4.8 0M412.5 388.7a2.4 2.4 0 1 0 4.8 0a2.4 2.4 0 1 0 -4.8 0M413.3 396.0a2.4 2.4 0 1 0 4.8 0a2.4 2.4 0 1 0 -4.8 0M414.0 389.3a2.4 2.4 0 1 0 4.8 0a2.4 2.4 0 1 0 -4.8 0M414.8 389.1a2.4 2.4 0 1 0 4.8 0a2.4 2.4 0 1 0 -4.8 0M415.5 398.2a2.4 2.4 0 1 0 4.8 0a2.4 2.4 0 1 0 -4.8 0M416.3 395.2a2.4 2.4 0 1 0 4.8 0a2.4 2.4 0 1 0 -4.8 0M417.0 392.5a2.4 2.4 0 1 0 4.8 0a2.4 2.4 0 1 0 -4.8 0M417.8 393.6a2.4 2.4 0 1 0 4.8 0a2.4 2.4 0 1 0 -4.8 0M418.5 391.1a2.4 2.4 0 1 0 4.8 0a2.4 2.4 0 1 0 -4.8 0M419.3 390.3a2.4 2.4 0 1 0 4.8 0a2.4 2.4 0 1 0 -4.8 0M420.0 390.4a2.4 2.4 0 1 0 4.8 0a2.4 2.4 0 1 0 -4.8 0M420.8 393.7a2.4 2.4 0 1 0 4.8 0a2.4 2.4 0 1 0 -4.8 0M421.5 397.3a2.4 2.4 0 1 0 4.8 0a2.4 2.4 0 1 0 -4.8 0M422.3 388.9a2.4 2.4 0 1 0 4.8 0a2.4 2.4 0 1 0 -4.8 0M423.0 390.1a2.4 2.4 0 1 0 4.8 0a2.4 2.4 0 1 0 -4.8 0M423.8 388.8a2.4 2.4 0 1 0 4.8 0a2.4 2.4 0 1 0 -4.8 0M424.5 383.7a2.4 2.4 0 1 0 4.8 0a2.4 2.4 0 1 0 -4.8 0M425.3 389.9a2.4 2.4 0 1 0 4.8 0a2.4 2.4 0 1 0 -4.8 0M426.0 392.4a2.4 2.4 0 1 0 4.8 0a2.4 2.4 0 1 0 -4.8 0M426.8 385.0a2.4 2.4 0 1 0 4.8 0a2.4 2.4 0 1 0 -4.8 0M427.5 392.6a2.4 2.4 0 1 0 4.8 0a2.4 2.4 0 1 0 -4.8 0M428.3 386.8a2.4 2.4 0 1 0 4.8 0a2.4 2.4 0 1 0 -4.8 0M429.0 394.7a2.4 2.4 0 1 0 4.8 0a2.4 2.4 0 1 0 -4.8 0M429.8 395.2a2.4 2.4 0 1 0 4.8 0a2.4 2.4 0 1 0 -4.8 0M430.5 388.1a2.4 2.4 0 1 0 4.8 0a2.4 2.4 0 1 0 -4.8 0M431.3 380.6a2.4 2.4 0 1 0 4.8 0a2.4 2.4 0 1 0 -4.8 0M432.0 387.0a2.4 2.4 0 1 0 4.8 0a2.4 2.4 0 1 0 -4.8 0M432.8 381.5a2.4 2.4 0 1 0 4.8 0a2.4 2.4 0 1 0 -4.8 0M433.5 380.7a2.4 2.4 0 1 0 4.8 0a2.4 2.4 0 1 0 -4.8 0M434.3 384.4a2.4 2.4 0 1 0 4.8 0a2.4 2.4 0 1 0 -4.8 0M435.0 390.7a2.4 2.4 0 1 0 4.8 0a2.4 2.4 0 1 0 -4.8 0M435.8 383.9a2.4 2.4 0 1 0 4.8 0a2.4 2.4 0 1 0 -4.8 0M436.5 383.2a2.4 2.4 0 1 0 4.8 0a2.4 2.4 0 1 0 -4.8 0M437.3 376.3a2.4 2.4 0 1 0 4.8 0a2.4 2.4 0 1 0 -4.8 0M438.0 382.2a2.4 2.4 0 1 0 4.8 0a2.4 2.4 0 1 0 -4.8 0M438.8 379.4a2.4 2.4 0 1 0 4.8 0a2.4 2.4 0 1 0 -4.8 0M439.5 388.6a2.4 2.4 0 1 0 4.8 0a2.4 2.4 0 1 0 -4.8 0M440.3 384.9a2.4 2.4 0 1 0 4.8 0a2.4 2.4 0 1 0 -4.8 0M441.0 387.9a2.4 2.4 0 1 0 4.8 0a2.4 2.4 0 1 0 -4.8 0M441.8 388.8a2.4 2.4 0 1 0 4.8 0a2.4 2.4 0 1 0 -4.8 0M442.5 388.8a2.4 2.4 0 1 0 4.8 0a2.4 2.4 0 1 0 -4.8 0M443.3 394.5a2.4 2.4 0 1 0 4.8 0a2.4 2.4 0 1 0 -4.8 0M444.0 393.1a2.4 2.4 0 1 0 4.8 0a2.4 2.4 0 1 0 -4.8 0M444.8 390.2a2.4 2.4 0 1 0 4.8 0a2.4 2.4 0 1 0 -4.8 0M445.5 392.6a2.4 2.4 0 1 0 4.8 0a2.4 2.4 0 1 0 -4.8 0M446.3 394.2a2.4 2.4 0 1 0 4.8 0a2.4 2.4 0 1 0 -4.8 0M447.0 397.0a2.4 2.4 0 1 0 4.8 0a2.4 2.4 0 1 0 -4.8 0M447.8 390.2a2.4 2.4 0 1 0 4.8 0a2.4 2.4 0 1 0 -4.8 0M448.5 394.0a2.4 2.4 0 1 0 4.8 0a2.4 2.4 0 1 0 -4.8 0M449.3 383.0a2.4 2.4 0 1 0 4.8 0a2.4 2.4 0 1 0 -4.8 0M450.0 382.6a2.4 2.4 0 1 0 4.8 0a2.4 2.4 0 1 0 -4.8 0M450.8 375.8a2.4 2.4 0 1 0 4.8 0a2.4 2.4 0 1 0 -4.8 0M451.5 384.6a2.4 2.4 0 1 0 4.8 0a2.4 2.4 0 1 0 -4.8 0M452.3 376.9a2.4 2.4 0 1 0 4.8 0a2.4 2.4 0 1 0 -4.8 0M453.0 377.5a2.4 2.4 0 1 0 4.8 0a2.4 2.4 0 1 0 -4.8 0M453.8 385.9a2.4 2.4 0 1 0 4.8 0a2.4 2.4 0 1 0 -4.8 0M454.5 382.5a2.4 2.4 0 1 0 4.8 0a2.4 2.4 0 1 0 -4.8 0M455.3 384.0a2.4 2.4 0 1 0 4.8 0a2.4 2.4 0 1 0 -4.8 0M456.0 391.7a2.4 2.4 0 1 0 4.8 0a2.4 2.4 0 1 0 -4.8 0M456.8 391.0a2.4 2.4 0 1 0 4.8 0a2.4 2.4 0 1 0 -4.8 0M457.5 395.5a2.4 2.4 0 1 0 4.8 0a2.4 2.4 0 1 0 -4.8 0M458.3 394.5a2.4 2.4 0 1 0 4.8 0a2.4 2.4 0 1 0 -4.8 0M459.0 398.1a2.4 2.4 0 1 0 4.8 0a2.4 2.4 0 1 0 -4.8 0M459.8 399.8a2.4 2.4 0 1 0 4.8 0a2.4 2.4 0 1 0 -4.8 0M461.3 402.1a2.4 2.4 0 1 0 4.8 0a2.4 2.4 0 1 0 -4.8 0M462.0 399.8a2.4 2.4 0 1 0 4.8 0a2.4 2.4 0 1 0 -4.8 0M462.7 400.2a2.4 2.4 0 1 0 4.8 0a2.4 2.4 0 1 0 -4.8 0M463.5 400.6a2.4 2.4 0 1 0 4.8 0a2.4 2.4 0 1 0 -4.8 0M464.2 401.8a2.4 2.4 0 1 0 4.8 0a2.4 2.4 0 1 0 -4.8 0M465.7 399.8a2.4 2.4 0 1 0 4.8 0a2.4 2.4 0 1 0 -4.8 0M466.4 400.5a2.4 2.4 0 1 0 4.8 0a2.4 2.4 0 1 0 -4.8 0M467.2 401.7a2.4 2.4 0 1 0 4.8 0a2.4 2.4 0 1 0 -4.8 0M468.6 397.7a2.4 2.4 0 1 0 4.8 0a2.4 2.4 0 1 0 -4.8 0M469.4 399.0a2.4 2.4 0 1 0 4.8 0a2.4 2.4 0 1 0 -4.8 0M470.1 399.7a2.4 2.4 0 1 0 4.8 0a2.4 2.4 0 1 0 -4.8 0M470.8 397.4a2.4 2.4 0 1 0 4.8 0a2.4 2.4 0 1 0 -4.8 0M471.5 398.1a2.4 2.4 0 1 0 4.8 0a2.4 2.4 0 1 0 -4.8 0M472.3 394.4a2.4 2.4 0 1 0 4.8 0a2.4 2.4 0 1 0 -4.8 0M473.0 397.3a2.4 2.4 0 1 0 4.8 0a2.4 2.4 0 1 0 -4.8 0M475.1 397.7a2.4 2.4 0 1 0 4.8 0a2.4 2.4 0 1 0 -4.8 0M475.8 398.9a2.4 2.4 0 1 0 4.8 0a2.4 2.4 0 1 0 -4.8 0M476.5 395.6a2.4 2.4 0 1 0 4.8 0a2.4 2.4 0 1 0 -4.8 0M477.2 399.6a2.4 2.4 0 1 0 4.8 0a2.4 2.4 0 1 0 -4.8 0M478.5 397.7a2.4 2.4 0 1 0 4.8 0a2.4 2.4 0 1 0 -4.8 0M479.2 402.0a2.4 2.4 0 1 0 4.8 0a2.4 2.4 0 1 0 -4.8 0M479.8 401.3a2.4 2.4 0 1 0 4.8 0a2.4 2.4 0 1 0 -4.8 0M480.5 393.9a2.4 2.4 0 1 0 4.8 0a2.4 2.4 0 1 0 -4.8 0M481.1 399.5a2.4 2.4 0 1 0 4.8 0a2.4 2.4 0 1 0 -4.8 0M481.8 395.5a2.4 2.4 0 1 0 4.8 0a2.4 2.4 0 1 0 -4.8 0M482.4 393.0a2.4 2.4 0 1 0 4.8 0a2.4 2.4 0 1 0 -4.8 0M483.0 394.3a2.4 2.4 0 1 0 4.8 0a2.4 2.4 0 1 0 -4.8 0M483.6 392.6a2.4 2.4 0 1 0 4.8 0a2.4 2.4 0 1 0 -4.8 0M484.2 395.4a2.4 2.4 0 1 0 4.8 0a2.4 2.4 0 1 0 -4.8 0M484.8 385.0a2.4 2.4 0 1 0 4.8 0a2.4 2.4 0 1 0 -4.8 0M485.4 387.6a2.4 2.4 0 1 0 4.8 0a2.4 2.4 0 1 0 -4.8 0M486.0 387.9a2.4 2.4 0 1 0 4.8 0a2.4 2.4 0 1 0 -4.8 0M486.5 381.2a2.4 2.4 0 1 0 4.8 0a2.4 2.4 0 1 0 -4.8 0M487.1 391.9a2.4 2.4 0 1 0 4.8 0a2.4 2.4 0 1 0 -4.8 0M487.6 393.7a2.4 2.4 0 1 0 4.8 0a2.4 2.4 0 1 0 -4.8 0M488.2 383.9a2.4 2.4 0 1 0 4.8 0a2.4 2.4 0 1 0 -4.8 0M488.7 387.4a2.4 2.4 0 1 0 4.8 0a2.4 2.4 0 1 0 -4.8 0M489.2 384.3a2.4 2.4 0 1 0 4.8 0a2.4 2.4 0 1 0 -4.8 0M489.7 386.2a2.4 2.4 0 1 0 4.8 0a2.4 2.4 0 1 0 -4.8 0M490.2 381.9a2.4 2.4 0 1 0 4.8 0a2.4 2.4 0 1 0 -4.8 0M490.7 388.7a2.4 2.4 0 1 0 4.8 0a2.4 2.4 0 1 0 -4.8 0M491.2 379.8a2.4 2.4 0 1 0 4.8 0a2.4 2.4 0 1 0 -4.8 0M491.7 392.0a2.4 2.4 0 1 0 4.8 0a2.4 2.4 0 1 0 -4.8 0M492.2 387.6a2.4 2.4 0 1 0 4.8 0a2.4 2.4 0 1 0 -4.8 0M492.6 398.1a2.4 2.4 0 1 0 4.8 0a2.4 2.4 0 1 0 -4.8 0M493.1 377.8a2.4 2.4 0 1 0 4.8 0a2.4 2.4 0 1 0 -4.8 0M493.5 385.6a2.4 2.4 0 1 0 4.8 0a2.4 2.4 0 1 0 -4.8 0M494.0 379.1a2.4 2.4 0 1 0 4.8 0a2.4 2.4 0 1 0 -4.8 0M494.4 384.9a2.4 2.4 0 1 0 4.8 0a2.4 2.4 0 1 0 -4.8 0M494.9 387.5a2.4 2.4 0 1 0 4.8 0a2.4 2.4 0 1 0 -4.8 0M495.3 379.3a2.4 2.4 0 1 0 4.8 0a2.4 2.4 0 1 0 -4.8 0M495.8 375.5a2.4 2.4 0 1 0 4.8 0a2.4 2.4 0 1 0 -4.8 0M496.2 372.7a2.4 2.4 0 1 0 4.8 0a2.4 2.4 0 1 0 -4.8 0M496.7 383.2a2.4 2.4 0 1 0 4.8 0a2.4 2.4 0 1 0 -4.8 0M497.1 388.6a2.4 2.4 0 1 0 4.8 0a2.4 2.4 0 1 0 -4.8 0M497.6 387.1a2.4 2.4 0 1 0 4.8 0a2.4 2.4 0 1 0 -4.8 0M498.0 378.9a2.4 2.4 0 1 0 4.8 0a2.4 2.4 0 1 0 -4.8 0M498.5 371.3a2.4 2.4 0 1 0 4.8 0a2.4 2.4 0 1 0 -4.8 0M498.9 374.0a2.4 2.4 0 1 0 4.8 0a2.4 2.4 0 1 0 -4.8 0M499.4 365.4a2.4 2.4 0 1 0 4.8 0a2.4 2.4 0 1 0 -4.8 0M499.8 364.2a2.4 2.4 0 1 0 4.8 0a2.4 2.4 0 1 0 -4.8 0M500.3 381.8a2.4 2.4 0 1 0 4.8 0a2.4 2.4 0 1 0 -4.8 0M500.7 372.4a2.4 2.4 0 1 0 4.8 0a2.4 2.4 0 1 0 -4.8 0M501.2 376.5a2.4 2.4 0 1 0 4.8 0a2.4 2.4 0 1 0 -4.8 0M501.6 372.2a2.4 2.4 0 1 0 4.8 0a2.4 2.4 0 1 0 -4.8 0M502.1 383.6a2.4 2.4 0 1 0 4.8 0a2.4 2.4 0 1 0 -4.8 0M502.5 384.1a2.4 2.4 0 1 0 4.8 0a2.4 2.4 0 1 0 -4.8 0M503.0 366.5a2.4 2.4 0 1 0 4.8 0a2.4 2.4 0 1 0 -4.8 0M503.4 368.4a2.4 2.4 0 1 0 4.8 0a2.4 2.4 0 1 0 -4.8 0M503.9 364.5a2.4 2.4 0 1 0 4.8 0a2.4 2.4 0 1 0 -4.8 0M504.3 378.8a2.4 2.4 0 1 0 4.8 0a2.4 2.4 0 1 0 -4.8 0M504.8 377.0a2.4 2.4 0 1 0 4.8 0a2.4 2.4 0 1 0 -4.8 0M505.2 363.5a2.4 2.4 0 1 0 4.8 0a2.4 2.4 0 1 0 -4.8 0M505.7 384.5a2.4 2.4 0 1 0 4.8 0a2.4 2.4 0 1 0 -4.8 0M506.1 365.6a2.4 2.4 0 1 0 4.8 0a2.4 2.4 0 1 0 -4.8 0M506.6 355.3a2.4 2.4 0 1 0 4.8 0a2.4 2.4 0 1 0 -4.8 0M507.0 348.5a2.4 2.4 0 1 0 4.8 0a2.4 2.4 0 1 0 -4.8 0M507.5 365.1a2.4 2.4 0 1 0 4.8 0a2.4 2.4 0 1 0 -4.8 0M507.9 368.8a2.4 2.4 0 1 0 4.8 0a2.4 2.4 0 1 0 -4.8 0M508.4 359.4a2.4 2.4 0 1 0 4.8 0a2.4 2.4 0 1 0 -4.8 0M508.8 366.0a2.4 2.4 0 1 0 4.8 0a2.4 2.4 0 1 0 -4.8 0M509.3 371.2a2.4 2.4 0 1 0 4.8 0a2.4 2.4 0 1 0 -4.8 0M509.7 356.5a2.4 2.4 0 1 0 4.8 0a2.4 2.4 0 1 0 -4.8 0M510.2 361.9a2.4 2.4 0 1 0 4.8 0a2.4 2.4 0 1 0 -4.8 0M510.6 366.6a2.4 2.4 0 1 0 4.8 0a2.4 2.4 0 1 0 -4.8 0M511.1 352.4a2.4 2.4 0 1 0 4.8 0a2.4 2.4 0 1 0 -4.8 0M511.5 338.8a2.4 2.4 0 1 0 4.8 0a2.4 2.4 0 1 0 -4.8 0M512.0 345.9a2.4 2.4 0 1 0 4.8 0a2.4 2.4 0 1 0 -4.8 0M512.4 344.2a2.4 2.4 0 1 0 4.8 0a2.4 2.4 0 1 0 -4.8 0M512.9 358.1a2.4 2.4 0 1 0 4.8 0a2.4 2.4 0 1 0 -4.8 0M513.3 330.1a2.4 2.4 0 1 0 4.8 0a2.4 2.4 0 1 0 -4.8 0M513.8 318.5a2.4 2.4 0 1 0 4.8 0a2.4 2.4 0 1 0 -4.8 0M514.2 336.5a2.4 2.4 0 1 0 4.8 0a2.4 2.4 0 1 0 -4.8 0M514.7 337.7a2.4 2.4 0 1 0 4.8 0a2.4 2.4 0 1 0 -4.8 0M515.1 331.7a2.4 2.4 0 1 0 4.8 0a2.4 2.4 0 1 0 -4.8 0M515.6 344.4a2.4 2.4 0 1 0 4.8 0a2.4 2.4 0 1 0 -4.8 0M516.0 343.9a2.4 2.4 0 1 0 4.8 0a2.4 2.4 0 1 0 -4.8 0M516.5 354.7a2.4 2.4 0 1 0 4.8 0a2.4 2.4 0 1 0 -4.8 0M516.9 332.1a2.4 2.4 0 1 0 4.8 0a2.4 2.4 0 1 0 -4.8 0M517.4 331.4a2.4 2.4 0 1 0 4.8 0a2.4 2.4 0 1 0 -4.8 0M517.8 335.4a2.4 2.4 0 1 0 4.8 0a2.4 2.4 0 1 0 -4.8 0M518.3 325.4a2.4 2.4 0 1 0 4.8 0a2.4 2.4 0 1 0 -4.8 0M518.7 340.7a2.4 2.4 0 1 0 4.8 0a2.4 2.4 0 1 0 -4.8 0M519.2 328.8a2.4 2.4 0 1 0 4.8 0a2.4 2.4 0 1 0 -4.8 0M519.6 319.0a2.4 2.4 0 1 0 4.8 0a2.4 2.4 0 1 0 -4.8 0M520.1 335.1a2.4 2.4 0 1 0 4.8 0a2.4 2.4 0 1 0 -4.8 0M520.5 323.3a2.4 2.4 0 1 0 4.8 0a2.4 2.4 0 1 0 -4.8 0M521.0 330.0a2.4 2.4 0 1 0 4.8 0a2.4 2.4 0 1 0 -4.8 0M521.4 329.1a2.4 2.4 0 1 0 4.8 0a2.4 2.4 0 1 0 -4.8 0M521.9 319.3a2.4 2.4 0 1 0 4.8 0a2.4 2.4 0 1 0 -4.8 0M522.3 320.1a2.4 2.4 0 1 0 4.8 0a2.4 2.4 0 1 0 -4.8 0M522.8 321.8a2.4 2.4 0 1 0 4.8 0a2.4 2.4 0 1 0 -4.8 0M523.2 308.0a2.4 2.4 0 1 0 4.8 0a2.4 2.4 0 1 0 -4.8 0M523.7 315.5a2.4 2.4 0 1 0 4.8 0a2.4 2.4 0 1 0 -4.8 0M524.1 328.3a2.4 2.4 0 1 0 4.8 0a2.4 2.4 0 1 0 -4.8 0M524.6 320.5a2.4 2.4 0 1 0 4.8 0a2.4 2.4 0 1 0 -4.8 0M525.0 304.3a2.4 2.4 0 1 0 4.8 0a2.4 2.4 0 1 0 -4.8 0M525.5 343.1a2.4 2.4 0 1 0 4.8 0a2.4 2.4 0 1 0 -4.8 0M525.9 302.2a2.4 2.4 0 1 0 4.8 0a2.4 2.4 0 1 0 -4.8 0M526.4 320.2a2.4 2.4 0 1 0 4.8 0a2.4 2.4 0 1 0 -4.8 0M526.8 320.3a2.4 2.4 0 1 0 4.8 0a2.4 2.4 0 1 0 -4.8 0M527.3 325.7a2.4 2.4 0 1 0 4.8 0a2.4 2.4 0 1 0 -4.8 0M527.7 302.9a2.4 2.4 0 1 0 4.8 0a2.4 2.4 0 1 0 -4.8 0M528.2 308.1a2.4 2.4 0 1 0 4.8 0a2.4 2.4 0 1 0 -4.8 0M528.6 304.6a2.4 2.4 0 1 0 4.8 0a2.4 2.4 0 1 0 -4.8 0M529.1 320.2a2.4 2.4 0 1 0 4.8 0a2.4 2.4 0 1 0 -4.8 0M529.5 310.7a2.4 2.4 0 1 0 4.8 0a2.4 2.4 0 1 0 -4.8 0M530.0 311.1a2.4 2.4 0 1 0 4.8 0a2.4 2.4 0 1 0 -4.8 0M530.4 312.9a2.4 2.4 0 1 0 4.8 0a2.4 2.4 0 1 0 -4.8 0M530.9 330.7a2.4 2.4 0 1 0 4.8 0a2.4 2.4 0 1 0 -4.8 0M531.3 315.9a2.4 2.4 0 1 0 4.8 0a2.4 2.4 0 1 0 -4.8 0M531.8 319.5a2.4 2.4 0 1 0 4.8 0a2.4 2.4 0 1 0 -4.8 0M532.2 303.4a2.4 2.4 0 1 0 4.8 0a2.4 2.4 0 1 0 -4.8 0M532.7 319.3a2.4 2.4 0 1 0 4.8 0a2.4 2.4 0 1 0 -4.8 0M533.1 305.6a2.4 2.4 0 1 0 4.8 0a2.4 2.4 0 1 0 -4.8 0M533.6 323.6a2.4 2.4 0 1 0 4.8 0a2.4 2.4 0 1 0 -4.8 0M534.0 314.2a2.4 2.4 0 1 0 4.8 0a2.4 2.4 0 1 0 -4.8 0M534.5 303.3a2.4 2.4 0 1 0 4.8 0a2.4 2.4 0 1 0 -4.8 0M534.9 305.8a2.4 2.4 0 1 0 4.8 0a2.4 2.4 0 1 0 -4.8 0M535.4 312.8a2.4 2.4 0 1 0 4.8 0a2.4 2.4 0 1 0 -4.8 0M535.8 316.6a2.4 2.4 0 1 0 4.8 0a2.4 2.4 0 1 0 -4.8 0M536.3 310.3a2.4 2.4 0 1 0 4.8 0a2.4 2.4 0 1 0 -4.8 0M536.7 315.1a2.4 2.4 0 1 0 4.8 0a2.4 2.4 0 1 0 -4.8 0M537.2 317.5a2.4 2.4 0 1 0 4.8 0a2.4 2.4 0 1 0 -4.8 0M537.6 317.1a2.4 2.4 0 1 0 4.8 0a2.4 2.4 0 1 0 -4.8 0M538.1 323.1a2.4 2.4 0 1 0 4.8 0a2.4 2.4 0 1 0 -4.8 0M538.5 330.1a2.4 2.4 0 1 0 4.8 0a2.4 2.4 0 1 0 -4.8 0M539.0 342.9a2.4 2.4 0 1 0 4.8 0a2.4 2.4 0 1 0 -4.8 0M539.4 335.7a2.4 2.4 0 1 0 4.8 0a2.4 2.4 0 1 0 -4.8 0M539.9 321.6a2.4 2.4 0 1 0 4.8 0a2.4 2.4 0 1 0 -4.8 0M540.3 345.7a2.4 2.4 0 1 0 4.8 0a2.4 2.4 0 1 0 -4.8 0M540.8 339.9a2.4 2.4 0 1 0 4.8 0a2.4 2.4 0 1 0 -4.8 0M541.2 323.4a2.4 2.4 0 1 0 4.8 0a2.4 2.4 0 1 0 -4.8 0M541.7 337.9a2.4 2.4 0 1 0 4.8 0a2.4 2.4 0 1 0 -4.8 0M542.1 321.8a2.4 2.4 0 1 0 4.8 0a2.4 2.4 0 1 0 -4.8 0M542.6 320.9a2.4 2.4 0 1 0 4.8 0a2.4 2.4 0 1 0 -4.8 0M543.0 322.9a2.4 2.4 0 1 0 4.8 0a2.4 2.4 0 1 0 -4.8 0M543.5 349.7a2.4 2.4 0 1 0 4.8 0a2.4 2.4 0 1 0 -4.8 0M543.9 334.9a2.4 2.4 0 1 0 4.8 0a2.4 2.4 0 1 0 -4.8 0M544.4 337.8a2.4 2.4 0 1 0 4.8 0a2.4 2.4 0 1 0 -4.8 0M544.8 336.1a2.4 2.4 0 1 0 4.8 0a2.4 2.4 0 1 0 -4.8 0M545.3 332.3a2.4 2.4 0 1 0 4.8 0a2.4 2.4 0 1 0 -4.8 0M545.7 342.8a2.4 2.4 0 1 0 4.8 0a2.4 2.4 0 1 0 -4.8 0M546.2 346.0a2.4 2.4 0 1 0 4.8 0a2.4 2.4 0 1 0 -4.8 0M546.6 360.0a2.4 2.4 0 1 0 4.8 0a2.4 2.4 0 1 0 -4.8 0M547.1 332.1a2.4 2.4 0 1 0 4.8 0a2.4 2.4 0 1 0 -4.8 0M547.5 356.0a2.4 2.4 0 1 0 4.8 0a2.4 2.4 0 1 0 -4.8 0M548.0 347.2a2.4 2.4 0 1 0 4.8 0a2.4 2.4 0 1 0 -4.8 0M548.4 323.6a2.4 2.4 0 1 0 4.8 0a2.4 2.4 0 1 0 -4.8 0M548.9 349.9a2.4 2.4 0 1 0 4.8 0a2.4 2.4 0 1 0 -4.8 0M549.3 356.4a2.4 2.4 0 1 0 4.8 0a2.4 2.4 0 1 0 -4.8 0M549.8 352.5a2.4 2.4 0 1 0 4.8 0a2.4 2.4 0 1 0 -4.8 0M550.2 346.4a2.4 2.4 0 1 0 4.8 0a2.4 2.4 0 1 0 -4.8 0M550.7 348.4a2.4 2.4 0 1 0 4.8 0a2.4 2.4 0 1 0 -4.8 0M551.1 332.2a2.4 2.4 0 1 0 4.8 0a2.4 2.4 0 1 0 -4.8 0M551.6 357.1a2.4 2.4 0 1 0 4.8 0a2.4 2.4 0 1 0 -4.8 0M552.0 359.6a2.4 2.4 0 1 0 4.8 0a2.4 2.4 0 1 0 -4.8 0M552.5 353.3a2.4 2.4 0 1 0 4.8 0a2.4 2.4 0 1 0 -4.8 0M552.9 366.1a2.4 2.4 0 1 0 4.8 0a2.4 2.4 0 1 0 -4.8 0M553.4 360.5a2.4 2.4 0 1 0 4.8 0a2.4 2.4 0 1 0 -4.8 0M553.8 386.3a2.4 2.4 0 1 0 4.8 0a2.4 2.4 0 1 0 -4.8 0M554.3 357.0a2.4 2.4 0 1 0 4.8 0a2.4 2.4 0 1 0 -4.8 0M554.7 359.2a2.4 2.4 0 1 0 4.8 0a2.4 2.4 0 1 0 -4.8 0M555.2 348.4a2.4 2.4 0 1 0 4.8 0a2.4 2.4 0 1 0 -4.8 0M555.6 362.2a2.4 2.4 0 1 0 4.8 0a2.4 2.4 0 1 0 -4.8 0M556.1 366.2a2.4 2.4 0 1 0 4.8 0a2.4 2.4 0 1 0 -4.8 0M556.5 365.7a2.4 2.4 0 1 0 4.8 0a2.4 2.4 0 1 0 -4.8 0M557.0 361.5a2.4 2.4 0 1 0 4.8 0a2.4 2.4 0 1 0 -4.8 0M557.4 374.4a2.4 2.4 0 1 0 4.8 0a2.4 2.4 0 1 0 -4.8 0M557.9 371.0a2.4 2.4 0 1 0 4.8 0a2.4 2.4 0 1 0 -4.8 0M558.3 379.5a2.4 2.4 0 1 0 4.8 0a2.4 2.4 0 1 0 -4.8 0M558.8 371.3a2.4 2.4 0 1 0 4.8 0a2.4 2.4 0 1 0 -4.8 0M559.2 360.6a2.4 2.4 0 1 0 4.8 0a2.4 2.4 0 1 0 -4.8 0M559.7 373.0a2.4 2.4 0 1 0 4.8 0a2.4 2.4 0 1 0 -4.8 0M560.1 367.7a2.4 2.4 0 1 0 4.8 0a2.4 2.4 0 1 0 -4.8 0M560.6 381.1a2.4 2.4 0 1 0 4.8 0a2.4 2.4 0 1 0 -4.8 0M561.0 372.2a2.4 2.4 0 1 0 4.8 0a2.4 2.4 0 1 0 -4.8 0M561.5 375.5a2.4 2.4 0 1 0 4.8 0a2.4 2.4 0 1 0 -4.8 0M561.9 377.8a2.4 2.4 0 1 0 4.8 0a2.4 2.4 0 1 0 -4.8 0M562.4 368.7a2.4 2.4 0 1 0 4.8 0a2.4 2.4 0 1 0 -4.8 0M562.8 376.2a2.4 2.4 0 1 0 4.8 0a2.4 2.4 0 1 0 -4.8 0M563.3 383.7a2.4 2.4 0 1 0 4.8 0a2.4 2.4 0 1 0 -4.8 0M563.7 374.3a2.4 2.4 0 1 0 4.8 0a2.4 2.4 0 1 0 -4.8 0M564.2 376.1a2.4 2.4 0 1 0 4.8 0a2.4 2.4 0 1 0 -4.8 0M564.6 377.4a2.4 2.4 0 1 0 4.8 0a2.4 2.4 0 1 0 -4.8 0M565.1 372.3a2.4 2.4 0 1 0 4.8 0a2.4 2.4 0 1 0 -4.8 0M565.5 374.8a2.4 2.4 0 1 0 4.8 0a2.4 2.4 0 1 0 -4.8 0M566.0 379.6a2.4 2.4 0 1 0 4.8 0a2.4 2.4 0 1 0 -4.8 0M566.4 376.4a2.4 2.4 0 1 0 4.8 0a2.4 2.4 0 1 0 -4.8 0M566.9 380.4a2.4 2.4 0 1 0 4.8 0a2.4 2.4 0 1 0 -4.8 0M567.3 381.3a2.4 2.4 0 1 0 4.8 0a2.4 2.4 0 1 0 -4.8 0M567.8 378.7a2.4 2.4 0 1 0 4.8 0a2.4 2.4 0 1 0 -4.8 0M568.2 379.5a2.4 2.4 0 1 0 4.8 0a2.4 2.4 0 1 0 -4.8 0M568.7 397.5a2.4 2.4 0 1 0 4.8 0a2.4 2.4 0 1 0 -4.8 0M569.1 395.9a2.4 2.4 0 1 0 4.8 0a2.4 2.4 0 1 0 -4.8 0M569.6 389.8a2.4 2.4 0 1 0 4.8 0a2.4 2.4 0 1 0 -4.8 0M570.1 395.6a2.4 2.4 0 1 0 4.8 0a2.4 2.4 0 1 0 -4.8 0M570.6 396.8a2.4 2.4 0 1 0 4.8 0a2.4 2.4 0 1 0 -4.8 0M571.1 396.5a2.4 2.4 0 1 0 4.8 0a2.4 2.4 0 1 0 -4.8 0M571.6 391.1a2.4 2.4 0 1 0 4.8 0a2.4 2.4 0 1 0 -4.8 0M572.1 387.2a2.4 2.4 0 1 0 4.8 0a2.4 2.4 0 1 0 -4.8 0M572.6 388.7a2.4 2.4 0 1 0 4.8 0a2.4 2.4 0 1 0 -4.8 0M573.1 393.5a2.4 2.4 0 1 0 4.8 0a2.4 2.4 0 1 0 -4.8 0M573.7 400.3a2.4 2.4 0 1 0 4.8 0a2.4 2.4 0 1 0 -4.8 0M574.2 401.4a2.4 2.4 0 1 0 4.8 0a2.4 2.4 0 1 0 -4.8 0M574.8 394.9a2.4 2.4 0 1 0 4.8 0a2.4 2.4 0 1 0 -4.8 0M575.3 394.6a2.4 2.4 0 1 0 4.8 0a2.4 2.4 0 1 0 -4.8 0M575.9 400.0a2.4 2.4 0 1 0 4.8 0a2.4 2.4 0 1 0 -4.8 0M576.5 402.8a2.4 2.4 0 1 0 4.8 0a2.4 2.4 0 1 0 -4.8 0M577.1 392.9a2.4 2.4 0 1 0 4.8 0a2.4 2.4 0 1 0 -4.8 0M577.7 397.8a2.4 2.4 0 1 0 4.8 0a2.4 2.4 0 1 0 -4.8 0M578.3 397.2a2.4 2.4 0 1 0 4.8 0a2.4 2.4 0 1 0 -4.8 0M578.9 396.4a2.4 2.4 0 1 0 4.8 0a2.4 2.4 0 1 0 -4.8 0M579.5 397.0a2.4 2.4 0 1 0 4.8 0a2.4 2.4 0 1 0 -4.8 0M580.1 397.6a2.4 2.4 0 1 0 4.8 0a2.4 2.4 0 1 0 -4.8 0M580.8 399.1a2.4 2.4 0 1 0 4.8 0a2.4 2.4 0 1 0 -4.8 0M581.4 395.6a2.4 2.4 0 1 0 4.8 0a2.4 2.4 0 1 0 -4.8 0M582.1 400.2a2.4 2.4 0 1 0 4.8 0a2.4 2.4 0 1 0 -4.8 0M582.7 402.6a2.4 2.4 0 1 0 4.8 0a2.4 2.4 0 1 0 -4.8 0M583.4 402.8a2.4 2.4 0 1 0 4.8 0a2.4 2.4 0 1 0 -4.8 0M584.0 403.1a2.4 2.4 0 1 0 4.8 0a2.4 2.4 0 1 0 -4.8 0M584.7 402.3a2.4 2.4 0 1 0 4.8 0a2.4 2.4 0 1 0 -4.8 0M585.4 402.2a2.4 2.4 0 1 0 4.8 0a2.4 2.4 0 1 0 -4.8 0M586.1 406.1a2.4 2.4 0 1 0 4.8 0a2.4 2.4 0 1 0 -4.8 0M587.5 403.0a2.4 2.4 0 1 0 4.8 0a2.4 2.4 0 1 0 -4.8 0M588.2 405.4a2.4 2.4 0 1 0 4.8 0a2.4 2.4 0 1 0 -4.8 0M588.9 403.4a2.4 2.4 0 1 0 4.8 0a2.4 2.4 0 1 0 -4.8 0M589.6 401.4a2.4 2.4 0 1 0 4.8 0a2.4 2.4 0 1 0 -4.8 0M590.3 402.9a2.4 2.4 0 1 0 4.8 0a2.4 2.4 0 1 0 -4.8 0M591.0 403.1a2.4 2.4 0 1 0 4.8 0a2.4 2.4 0 1 0 -4.8 0M591.7 403.5a2.4 2.4 0 1 0 4.8 0a2.4 2.4 0 1 0 -4.8 0M592.4 403.0a2.4 2.4 0 1 0 4.8 0a2.4 2.4 0 1 0 -4.8 0M593.2 405.0a2.4 2.4 0 1 0 4.8 0a2.4 2.4 0 1 0 -4.8 0M593.9 404.4a2.4 2.4 0 1 0 4.8 0a2.4 2.4 0 1 0 -4.8 0M596.1 404.9a2.4 2.4 0 1 0 4.8 0a2.4 2.4 0 1 0 -4.8 0M596.8 405.0a2.4 2.4 0 1 0 4.8 0a2.4 2.4 0 1 0 -4.8 0M597.6 406.7a2.4 2.4 0 1 0 4.8 0a2.4 2.4 0 1 0 -4.8 0M599.0 404.2a2.4 2.4 0 1 0 4.8 0a2.4 2.4 0 1 0 -4.8 0M599.8 406.1a2.4 2.4 0 1 0 4.8 0a2.4 2.4 0 1 0 -4.8 0M600.5 403.2a2.4 2.4 0 1 0 4.8 0a2.4 2.4 0 1 0 -4.8 0M601.3 404.8a2.4 2.4 0 1 0 4.8 0a2.4 2.4 0 1 0 -4.8 0M602.0 404.8a2.4 2.4 0 1 0 4.8 0a2.4 2.4 0 1 0 -4.8 0M602.8 404.7a2.4 2.4 0 1 0 4.8 0a2.4 2.4 0 1 0 -4.8 0M603.5 403.7a2.4 2.4 0 1 0 4.8 0a2.4 2.4 0 1 0 -4.8 0M604.2 404.9a2.4 2.4 0 1 0 4.8 0a2.4 2.4 0 1 0 -4.8 0M605.0 403.4a2.4 2.4 0 1 0 4.8 0a2.4 2.4 0 1 0 -4.8 0M605.7 406.4a2.4 2.4 0 1 0 4.8 0a2.4 2.4 0 1 0 -4.8 0M606.5 404.6a2.4 2.4 0 1 0 4.8 0a2.4 2.4 0 1 0 -4.8 0M607.2 405.2a2.4 2.4 0 1 0 4.8 0a2.4 2.4 0 1 0 -4.8 0M608.0 404.8a2.4 2.4 0 1 0 4.8 0a2.4 2.4 0 1 0 -4.8 0M609.5 404.6a2.4 2.4 0 1 0 4.8 0a2.4 2.4 0 1 0 -4.8 0M610.2 404.7a2.4 2.4 0 1 0 4.8 0a2.4 2.4 0 1 0 -4.8 0M611.0 403.9a2.4 2.4 0 1 0 4.8 0a2.4 2.4 0 1 0 -4.8 0M611.7 404.3a2.4 2.4 0 1 0 4.8 0a2.4 2.4 0 1 0 -4.8 0M612.5 403.3a2.4 2.4 0 1 0 4.8 0a2.4 2.4 0 1 0 -4.8 0M613.2 403.7a2.4 2.4 0 1 0 4.8 0a2.4 2.4 0 1 0 -4.8 0M614.0 404.3a2.4 2.4 0 1 0 4.8 0a2.4 2.4 0 1 0 -4.8 0M614.7 404.5a2.4 2.4 0 1 0 4.8 0a2.4 2.4 0 1 0 -4.8 0M616.2 405.4a2.4 2.4 0 1 0 4.8 0a2.4 2.4 0 1 0 -4.8 0M617.0 406.8a2.4 2.4 0 1 0 4.8 0a2.4 2.4 0 1 0 -4.8 0M617.7 406.7a2.4 2.4 0 1 0 4.8 0a2.4 2.4 0 1 0 -4.8 0M619.2 406.5a2.4 2.4 0 1 0 4.8 0a2.4 2.4 0 1 0 -4.8 0M620.0 406.5a2.4 2.4 0 1 0 4.8 0a2.4 2.4 0 1 0 -4.8 0M620.7 408.4a2.4 2.4 0 1 0 4.8 0a2.4 2.4 0 1 0 -4.8 0M621.5 404.3a2.4 2.4 0 1 0 4.8 0a2.4 2.4 0 1 0 -4.8 0M622.2 406.2a2.4 2.4 0 1 0 4.8 0a2.4 2.4 0 1 0 -4.8 0M623.0 404.6a2.4 2.4 0 1 0 4.8 0a2.4 2.4 0 1 0 -4.8 0M623.7 407.3a2.4 2.4 0 1 0 4.8 0a2.4 2.4 0 1 0 -4.8 0M624.5 405.9a2.4 2.4 0 1 0 4.8 0a2.4 2.4 0 1 0 -4.8 0M625.2 406.6a2.4 2.4 0 1 0 4.8 0a2.4 2.4 0 1 0 -4.8 0M626.7 407.0a2.4 2.4 0 1 0 4.8 0a2.4 2.4 0 1 0 -4.8 0M627.5 403.3a2.4 2.4 0 1 0 4.8 0a2.4 2.4 0 1 0 -4.8 0M628.2 405.0a2.4 2.4 0 1 0 4.8 0a2.4 2.4 0 1 0 -4.8 0M629.0 406.2a2.4 2.4 0 1 0 4.8 0a2.4 2.4 0 1 0 -4.8 0M629.7 404.5a2.4 2.4 0 1 0 4.8 0a2.4 2.4 0 1 0 -4.8 0M631.2 406.6a2.4 2.4 0 1 0 4.8 0a2.4 2.4 0 1 0 -4.8 0M632.0 403.7a2.4 2.4 0 1 0 4.8 0a2.4 2.4 0 1 0 -4.8 0M632.7 404.4a2.4 2.4 0 1 0 4.8 0a2.4 2.4 0 1 0 -4.8 0M633.5 405.3a2.4 2.4 0 1 0 4.8 0a2.4 2.4 0 1 0 -4.8 0M634.2 406.4a2.4 2.4 0 1 0 4.8 0a2.4 2.4 0 1 0 -4.8 0M635.0 405.6a2.4 2.4 0 1 0 4.8 0a2.4 2.4 0 1 0 -4.8 0M635.7 405.4a2.4 2.4 0 1 0 4.8 0a2.4 2.4 0 1 0 -4.8 0M636.5 403.8a2.4 2.4 0 1 0 4.8 0a2.4 2.4 0 1 0 -4.8 0M637.2 404.8a2.4 2.4 0 1 0 4.8 0a2.4 2.4 0 1 0 -4.8 0M638.0 404.9a2.4 2.4 0 1 0 4.8 0a2.4 2.4 0 1 0 -4.8 0M638.7 404.2a2.4 2.4 0 1 0 4.8 0a2.4 2.4 0 1 0 -4.8 0" stroke="#888" stroke-width="1.4" fill="#fff"/>
<path d="M371.3 391.2L372.0 391.2L372.7 391.2L373.4 391.2L374.1 391.2L374.8 391.2L375.5 391.2L376.2 391.2L376.9 391.2L377.6 391.2L378.3 391.2L379.0 391.2L379.7 391.2L380.4 391.2L381.1 391.2L381.8 391.2L382.5 391.2L383.2 391.2L383.9 391.2L384.6 391.2L385.3 391.2L386.0 391.2L386.7 391.2L387.4 391.2L388.1 391.2L388.8 391.2L389.5 391.2L390.2 391.2L390.9 391.2L391.6 391.2L392.3 391.2L393.0 391.2L393.7 391.2L394.4 391.2L395.1 391.2L395.8 391.2L396.5 391.2L397.2 391.2L397.9 391.2L398.6 391.2L399.3 391.2L400.0 391.2L400.7 391.2L401.4 391.2L402.1 391.2L402.8 391.2L403.5 391.2L404.2 391.2L404.9 391.2L405.6 391.2L406.3 391.2L407.0 391.2L407.7 391.2L408.4 391.2L409.1 391.2L409.8 391.2L410.5 391.2L411.2 391.2L411.9 391.2L412.6 391.2L413.3 391.2L414.0 391.2L414.7 391.2L415.4 391.2L416.1 391.2L416.8 391.2L417.5 391.2L418.2 391.2L418.9 391.2L419.6 391.2L420.3 391.2L421.0 391.2L421.7 391.2L422.4 391.2L423.1 391.2L423.8 391.2L424.5 391.2L425.2 391.2L425.9 391.2L426.6 391.2L427.3 391.2L428.0 391.2L428.7 391.2L429.4 391.2L430.1 391.2L430.8 391.2L431.5 391.2L432.2 391.2L432.9 391.2L433.6 391.2L434.3 391.2L435.0 391.2L435.7 391.2L436.4 391.2L437.1 391.2L437.8 391.2L438.5 391.2L439.2 391.2L439.9 391.2L440.6 391.2L441.3 391.2L442.0 391.2L442.7 391.2L443.4 391.2L444.1 391.2L444.8 391.2L445.5 391.2L446.2 391.2L446.9 391.2L447.6 391.2L448.3 391.3L449.0 391.3L449.7 391.3L450.4 391.4L451.1 391.5L451.8 391.6L452.5 391.7L453.2 391.9L453.9 392.2L454.6 392.6L455.3 393.1L456.0 393.8L456.7 394.6L457.4 395.7L458.1 397.0L458.8 398.5L459.5 400.0L460.2 401.6L460.9 403.1L461.6 404.5L462.3 405.6L463.0 406.5L463.7 407.3L464.4 407.8L465.1 408.2L465.8 408.5L466.5 408.7L467.2 408.9L467.9 409.0L468.6 409.0L469.3 409.1L470.0 409.1L470.7 409.1L471.4 409.1L472.1 409.1L472.8 409.1L473.5 409.0L474.2 409.0L474.9 408.9L475.6 408.9L476.3 408.8L477.0 408.8L477.7 408.7L478.4 408.6L479.1 408.5L479.8 408.4L480.5 408.3L481.2 408.2L481.9 408.1L482.6 407.9L483.3 407.8L484.0 407.6L484.7 407.4L485.4 407.3L486.1 407.0L486.8 406.8L487.5 406.6L488.2 406.3L488.9 406.1L489.6 405.8L490.3 405.4L491.0 405.1L491.7 404.8L492.4 404.4L493.1 404.0L493.8 403.6L494.5 403.1L495.2 402.6L495.9 402.1L496.6 401.6L497.3 401.1L498.0 400.5L498.7 399.9L499.4 399.3L500.1 398.7L500.8 398.0L501.5 397.3L502.2 396.6L502.9 395.9L503.6 395.1L504.3 394.4L505.0 393.6L505.7 392.8L506.4 392.0L507.1 391.1L507.8 390.3L508.5 389.5L509.2 388.6L509.9 387.7L510.6 386.9L511.3 386.0L512.0 385.2L512.7 384.3L513.4 383.5L514.1 382.7L514.8 381.9L515.5 381.1L516.2 380.3L516.9 379.6L517.6 378.9L518.3 378.2L519.0 377.5L519.7 376.9L520.4 376.4L521.1 375.8L521.8 375.3L522.5 374.9L523.2 374.5L523.9 374.1L524.6 373.8L525.3 373.6L526.0 373.4L526.7 373.2L527.4 373.1L528.1 373.1L528.8 373.1L529.5 373.2L530.2 373.3L530.9 373.5L531.6 373.7L532.3 374.0L533.0 374.4L533.7 374.8L534.4 375.2L535.1 375.7L535.8 376.2L536.5 376.8L537.2 377.4L537.9 378.0L538.6 378.7L539.3 379.4L540.0 380.1L540.7 380.9L541.4 381.7L542.1 382.5L542.8 383.3L543.5 384.1L544.2 384.9L544.9 385.8L545.6 386.6L546.3 387.5L547.0 388.4L547.7 389.2L548.4 390.1L549.1 390.9L549.8 391.7L550.5 392.5L551.2 393.4L551.9 394.1L552.6 394.9L553.3 395.7L554.0 396.4L554.7 397.1L555.4 397.8L556.1 398.5L556.8 399.1L557.5 399.7L558.2 400.3L558.9 400.9L559.6 401.5L560.3 402.0L561.0 402.5L561.7 403.0L562.4 403.4L563.1 403.9L563.8 404.3L564.5 404.6L565.2 405.0L565.9 405.4L566.6 405.7L567.3 406.0L568.0 406.3L568.7 406.5L569.4 406.8L570.1 407.0L570.8 407.2L571.5 407.4L572.2 407.6L572.9 407.7L573.6 407.9L574.3 408.0L575.0 408.2L575.7 408.3L576.4 408.4L577.1 408.5L577.8 408.6L578.5 408.7L579.2 408.7L579.9 408.8L580.6 408.9L581.3 408.9L582.0 409.0L582.7 409.0L583.4 409.1L584.1 409.1L584.8 409.1L585.5 409.2L586.2 409.2L586.9 409.2L587.6 409.2L588.3 409.3L589.0 409.3L589.7 409.3L590.4 409.3L591.1 409.3L591.8 409.3L592.5 409.3L593.2 409.3L593.9 409.4L594.6 409.4L595.3 409.4L596.0 409.4L596.7 409.4L597.4 409.4L598.1 409.4L598.8 409.4L599.5 409.4L600.2 409.4L600.9 409.4L601.6 409.4L602.3 409.4L603.0 409.4L603.7 409.4L604.4 409.4L605.1 409.4L605.8 409.4L606.5 409.4L607.2 409.4L607.9 409.4L608.6 409.4L609.3 409.4L610.0 409.4L610.7 409.4L611.4 409.4L612.1 409.4L612.8 409.4L613.5 409.4L614.2 409.4L614.9 409.4L615.6 409.4L616.3 409.4L617.0 409.4L617.7 409.4L618.4 409.4L619.1 409.4L619.8 409.4L620.5 409.4L621.2 409.4L621.9 409.4L622.6 409.4L623.3 409.4L624.0 409.4L624.7 409.4L625.4 409.4L626.1 409.4L626.8 409.4L627.5 409.4L628.2 409.4L628.9 409.4L629.6 409.4L630.3 409.4L631.0 409.4L631.7 409.4L632.4 409.4L633.1 409.4L633.8 409.4L634.5 409.4L635.2 409.4L635.9 409.4L636.6 409.4L637.3 409.4L638.0 409.4L638.7 409.4L639.4 409.4L640.1 409.4L640.8 409.4L641.5 409.4" stroke="#d92b2b" stroke-width="2.6" fill="none"/>
<path d="M371.3 391.2L372.0 391.2L372.7 391.2L373.4 391.2L374.1 391.2L374.8 391.2L375.5 391.2L376.2 391.2L376.9 391.2L377.6 391.2L378.3 391.2L379.0 391.2L379.7 391.2L380.4 391.2L381.1 391.2L381.8 391.2L382.5 391.2L383.2 391.2L383.9 391.2L384.6 391.2L385.3 391.2L386.0 391.2L386.7 391.2L387.4 391.2L388.1 391.2L388.8 391.2L389.5 391.2L390.2 391.2L390.9 391.2L391.6 391.2L392.3 391.2L393.0 391.2L393.7 391.2L394.4 391.2L395.1 391.2L395.8 391.2L396.5 391.2L397.2 391.2L397.9 391.2L398.6 391.2L399.3 391.2L400.0 391.2L400.7 391.2L401.4 391.2L402.1 391.2L402.8 391.2L403.5 391.2L404.2 391.2L404.9 391.2L405.6 391.2L406.3 391.2L407.0 391.2L407.7 391.2L408.4 391.2L409.1 391.2L409.8 391.2L410.5 391.2L411.2 391.2L411.9 391.2L412.6 391.2L413.3 391.2L414.0 391.2L414.7 391.2L415.4 391.2L416.1 391.2L416.8 391.2L417.5 391.2L418.2 391.2L418.9 391.2L419.6 391.2L420.3 391.2L421.0 391.2L421.7 391.2L422.4 391.2L423.1 391.2L423.8 391.2L424.5 391.2L425.2 391.2L425.9 391.2L426.6 391.2L427.3 391.2L428.0 391.2L428.7 391.2L429.4 391.2L430.1 391.2L430.8 391.2L431.5 391.2L432.2 391.2L432.9 391.2L433.6 391.2L434.3 391.2L435.0 391.2L435.7 391.2L436.4 391.2L437.1 391.2L437.8 391.2L438.5 391.2L439.2 391.2L439.9 391.2L440.6 391.2L441.3 391.2L442.0 391.2L442.7 391.2L443.4 391.2L444.1 391.2L444.8 391.2L445.5 391.2L446.2 391.2L446.9 391.2L447.6 391.2L448.3 391.3L449.0 391.3L449.7 391.3L450.4 391.4L451.1 391.4L451.8 391.5L452.5 391.7L453.2 391.9L453.9 392.2L454.6 392.5L455.3 393.1L456.0 393.7L456.7 394.6L457.4 395.7L458.1 397.0L458.8 398.4L459.5 400.0L460.2 401.6L460.9 403.1L461.6 404.4L462.3 405.5L463.0 406.4L463.7 407.1L464.4 407.7L465.1 408.1L465.8 408.4L466.5 408.5L467.2 408.7L467.9 408.7L468.6 408.8L469.3 408.8L470.0 408.8L470.7 408.7L471.4 408.7L472.1 408.6L472.8 408.5L473.5 408.5L474.2 408.4L474.9 408.2L475.6 408.1L476.3 408.0L477.0 407.8L477.7 407.7L478.4 407.5L479.1 407.3L479.8 407.1L480.5 406.8L481.2 406.6L481.9 406.3L482.6 406.0L483.3 405.6L484.0 405.3L484.7 404.9L485.4 404.5L486.1 404.0L486.8 403.5L487.5 403.0L488.2 402.5L488.9 401.9L489.6 401.3L490.3 400.6L491.0 399.9L491.7 399.1L492.4 398.3L493.1 397.5L493.8 396.6L494.5 395.6L495.2 394.6L495.9 393.6L496.6 392.5L497.3 391.3L498.0 390.1L498.7 388.9L499.4 387.5L500.1 386.2L500.8 384.8L501.5 383.3L502.2 381.8L502.9 380.2L503.6 378.6L504.3 376.9L505.0 375.2L505.7 373.5L506.4 371.7L507.1 369.9L507.8 368.0L508.5 366.1L509.2 364.2L509.9 362.3L510.6 360.3L511.3 358.3L512.0 356.4L512.7 354.4L513.4 352.4L514.1 350.4L514.8 348.5L515.5 346.5L516.2 344.6L516.9 342.7L517.6 340.9L518.3 339.1L519.0 337.3L519.7 335.6L520.4 334.0L521.1 332.4L521.8 330.8L522.5 329.4L523.2 328.0L523.9 326.7L524.6 325.5L525.3 324.4L526.0 323.4L526.7 322.5L527.4 321.7L528.1 321.0L528.8 320.4L529.5 319.9L530.2 319.6L530.9 319.3L531.6 319.2L532.3 319.2L533.0 319.2L533.7 319.4L534.4 319.7L535.1 320.2L535.8 320.7L536.5 321.3L537.2 322.1L537.9 322.9L538.6 323.8L539.3 324.9L540.0 326.0L540.7 327.2L541.4 328.5L542.1 329.9L542.8 331.3L543.5 332.8L544.2 334.4L544.9 336.0L545.6 337.6L546.3 339.4L547.0 341.1L547.7 342.9L548.4 344.7L549.1 346.6L549.8 348.4L550.5 350.3L551.2 352.2L551.9 354.1L552.6 356.0L553.3 357.8L554.0 359.7L554.7 361.6L555.4 363.4L556.1 365.3L556.8 367.1L557.5 368.8L558.2 370.6L558.9 372.3L559.6 373.9L560.3 375.6L561.0 377.2L561.7 378.7L562.4 380.2L563.1 381.7L563.8 383.1L564.5 384.5L565.2 385.8L565.9 387.1L566.6 388.4L567.3 389.6L568.0 390.7L568.7 391.8L569.4 392.9L570.1 393.9L570.8 394.8L571.5 395.7L572.2 396.6L572.9 397.4L573.6 398.2L574.3 399.0L575.0 399.7L575.7 400.3L576.4 401.0L577.1 401.6L577.8 402.1L578.5 402.7L579.2 403.2L579.9 403.6L580.6 404.1L581.3 404.5L582.0 404.9L582.7 405.2L583.4 405.6L584.1 405.9L584.8 406.2L585.5 406.4L586.2 406.7L586.9 406.9L587.6 407.1L588.3 407.3L589.0 407.5L589.7 407.7L590.4 407.8L591.1 408.0L591.8 408.1L592.5 408.2L593.2 408.3L593.9 408.4L594.6 408.5L595.3 408.6L596.0 408.7L596.7 408.8L597.4 408.8L598.1 408.9L598.8 408.9L599.5 409.0L600.2 409.0L600.9 409.1L601.6 409.1L602.3 409.1L603.0 409.2L603.7 409.2L604.4 409.2L605.1 409.2L605.8 409.2L606.5 409.3L607.2 409.3L607.9 409.3L608.6 409.3L609.3 409.3L610.0 409.3L610.7 409.3L611.4 409.3L612.1 409.4L612.8 409.4L613.5 409.4L614.2 409.4L614.9 409.4L615.6 409.4L616.3 409.4L617.0 409.4L617.7 409.4L618.4 409.4L619.1 409.4L619.8 409.4L620.5 409.4L621.2 409.4L621.9 409.4L622.6 409.4L623.3 409.4L624.0 409.4L624.7 409.4L625.4 409.4L626.1 409.4L626.8 409.4L627.5 409.4L628.2 409.4L628.9 409.4L629.6 409.4L630.3 409.4L631.0 409.4L631.7 409.4L632.4 409.4L633.1 409.4L633.8 409.4L634.5 409.4L635.2 409.4L635.9 409.4L636.6 409.4L637.3 409.4L638.0 409.4L638.7 409.4L639.4 409.4L640.1 409.4L640.8 409.4L641.5 409.4" stroke="#2a2f88" stroke-width="2.6" fill="none" stroke-dasharray="7 3.5"/>
<polyline points="371.5,523.2 372.2,526.0 373.0,533.1 373.7,528.3 374.5,533.5 375.2,534.4 376.0,522.1 376.7,534.3 377.5,525.7 378.2,539.8 379.0,533.3 379.7,527.7 380.5,532.7 381.2,533.8 382.0,535.4 382.7,541.6 383.5,537.4 384.2,543.3 385.0,537.7 385.7,533.2 386.5,525.9 387.2,525.4 388.0,534.3 388.7,536.4 389.5,539.7 390.2,528.1 391.0,530.5 391.7,524.5 392.5,525.1 393.2,514.1 394.0,528.8 394.7,520.7 395.5,524.1 396.2,527.5 397.0,528.2 397.7,521.3 398.5,538.1 399.2,536.1 400.0,536.6 400.7,532.0 401.5,527.9 402.2,528.0 403.0,535.0 403.7,536.1 404.5,530.4 405.2,542.4 406.0,533.2 406.7,535.7 407.5,534.4 408.2,523.5 409.0,533.6 409.7,530.6 410.5,521.8 411.2,532.1 412.0,534.3 412.7,534.4 413.5,535.4 414.2,524.7 415.0,531.2 415.7,531.3 416.5,535.3 417.2,537.3 418.0,542.3 418.7,542.3 419.5,539.8 420.2,544.0 421.0,545.5 421.7,544.0 422.5,542.1 424.0,543.9 424.7,542.5 427.0,544.8 427.7,544.6 428.5,543.7 429.2,542.4 430.0,543.9 432.2,544.7 433.0,542.8 435.2,545.6 436.7,544.6 437.5,545.9 438.2,543.4 439.0,545.9 439.7,545.9 440.5,543.4 441.2,544.3 442.7,543.2 444.2,543.4 445.0,545.0 445.7,545.3 446.5,545.0 447.2,545.8 448.0,546.7 448.7,544.8 449.5,545.5 450.2,545.9 451.7,543.6 452.5,541.8 453.2,544.8 454.0,545.5 454.7,545.0 456.2,546.2 457.7,544.5 458.5,543.6 460.0,544.9 460.7,544.3 461.5,544.1 463.7,543.0 464.5,544.6 465.2,545.1 466.0,545.8 466.7,545.8 467.5,544.8 468.2,544.4 469.0,543.7 469.7,546.0 471.2,544.9 472.7,543.4 473.5,545.8 474.2,544.6 475.0,545.0 475.7,546.4 476.5,542.9 477.2,543.6 477.9,544.7 478.7,545.0 479.4,543.3 480.2,544.3 480.9,543.9 483.2,545.1 483.9,546.2 484.7,545.7 485.4,546.8 486.2,544.5 486.9,546.0 487.7,544.2 488.4,544.0 489.2,544.3 489.9,546.4 490.7,545.7 492.9,545.7 493.7,544.3 494.4,544.1 495.2,544.3 495.9,543.0 496.7,546.7 497.4,543.8 498.2,544.1 498.9,544.1 500.4,543.9 501.2,545.4 501.9,544.0 502.7,544.4 503.4,544.8 504.2,546.5 505.7,544.6 506.4,545.8 507.9,544.9 508.7,546.1 509.4,545.6 510.2,545.3 510.9,546.9 511.7,545.1 512.4,545.1 513.2,544.0 514.7,546.5 515.4,545.1 516.2,547.5 517.7,545.9 518.4,543.4 519.2,544.7 519.9,544.6 520.7,542.0 521.4,544.1 522.2,544.0 522.9,542.7 523.7,545.3 524.4,547.1 525.2,545.9 525.9,544.3 526.7,545.0 527.4,546.5 528.2,544.3 529.7,545.3 531.2,547.1 531.9,543.4 532.7,546.5 533.4,545.4 534.1,544.9 534.9,542.9 535.6,545.6 536.3,544.7 537.1,541.0 537.8,543.2 539.2,543.3 539.9,543.7 540.6,542.9 541.3,547.2 542.0,546.0 542.7,543.2 543.4,546.3 544.0,548.0 544.7,543.8 545.3,538.6 546.0,543.1 546.6,546.1 547.2,538.4 547.8,541.4 548.4,544.6 549.0,545.7 549.5,544.6 550.1,542.8 550.6,540.7 551.1,538.5 551.6,544.6 552.1,543.7 552.6,536.4 553.1,534.4 553.5,542.9 554.0,540.4 554.4,529.5 554.9,522.8 555.3,530.5 555.8,532.8 556.2,532.2 556.7,530.1 557.1,514.3 557.6,523.3 558.0,519.7 558.5,516.6 558.9,539.3 559.4,520.4 559.8,521.5 560.3,516.3 560.7,522.1 561.2,523.5 561.6,509.0 562.1,507.3 562.5,499.9 563.0,491.1 563.4,494.8 563.9,496.6 564.3,491.6 564.8,487.7 565.2,471.2 565.7,490.8 566.1,487.9 566.6,499.5 567.0,475.3 567.5,464.6 567.9,464.0 568.4,465.0 568.8,467.6 569.3,468.0 569.7,461.0 570.2,454.4 570.6,470.6 571.1,459.0 571.5,453.7 572.0,452.8 572.4,452.3 572.9,449.0 573.3,450.1 573.8,471.6 574.2,471.7 574.7,457.0 575.1,467.9 575.6,466.4 576.0,476.2 576.5,452.7 576.9,463.9 577.4,470.8 577.8,440.3 578.3,452.9 578.7,454.5 579.2,454.5 579.6,454.3 580.1,454.3 580.5,459.2 581.0,464.2 581.4,451.0 581.9,474.5 582.3,439.3 582.8,442.1 583.2,447.6 583.7,433.6 584.1,441.3 584.6,441.2 585.0,454.6 585.5,436.9 585.9,443.2 586.4,466.8 586.8,449.4 587.3,448.6 587.7,440.9 588.2,451.6 588.6,442.8 589.1,452.8 589.5,450.6 590.0,449.8 590.4,457.1 590.9,446.6 591.3,455.4 591.8,454.7 592.2,471.9 592.7,479.1 593.1,483.5 593.6,456.4 594.0,498.5 594.5,479.0 594.9,480.9 595.4,482.2 595.8,482.6 596.3,496.8 596.7,486.9 597.2,490.5 597.6,499.2 598.1,505.1 598.5,485.6 599.0,486.1 599.4,481.9 599.9,484.2 600.3,505.5 600.8,505.9 601.2,507.4 601.7,513.1 602.1,515.4 602.6,524.8 603.0,530.5 603.5,513.1 603.9,531.3 604.4,528.9 604.8,516.3 605.3,523.7 605.7,520.1 606.2,512.5 606.6,524.3 607.1,514.8 607.5,526.0 608.0,520.8 608.4,526.5 608.9,534.7 609.3,532.9 609.8,530.1 610.2,537.5 610.7,541.5 611.2,544.0 611.6,536.3 612.1,545.9 612.6,540.3 613.1,538.9 613.6,546.0 614.2,543.5 614.7,543.3 615.3,541.0 615.8,534.1 616.4,541.8 617.0,542.1 617.6,540.1 618.2,545.8 618.8,541.6 621.4,541.0 622.1,542.6 623.5,545.1 624.2,542.7 624.9,542.0 625.6,547.7 626.3,543.9 627.0,544.2 628.5,543.4 629.2,539.8 629.9,543.6 630.7,542.1 631.4,544.2 632.1,540.9 632.9,543.7 633.6,544.7 634.4,545.8 635.1,545.5 635.9,545.7 637.3,545.0 638.1,544.0 638.8,546.2 640.3,545.7 641.1,544.0" stroke="#a0a0a0" stroke-width="0.6" fill="none"/>
<path d="M369.1 523.2a2.4 2.4 0 1 0 4.8 0a2.4 2.4 0 1 0 -4.8 0M369.8 526.0a2.4 2.4 0 1 0 4.8 0a2.4 2.4 0 1 0 -4.8 0M370.6 533.1a2.4 2.4 0 1 0 4.8 0a2.4 2.4 0 1 0 -4.8 0M371.3 528.3a2.4 2.4 0 1 0 4.8 0a2.4 2.4 0 1 0 -4.8 0M372.1 533.5a2.4 2.4 0 1 0 4.8 0a2.4 2.4 0 1 0 -4.8 0M372.8 534.4a2.4 2.4 0 1 0 4.8 0a2.4 2.4 0 1 0 -4.8 0M373.6 522.1a2.4 2.4 0 1 0 4.8 0a2.4 2.4 0 1 0 -4.8 0M374.3 534.3a2.4 2.4 0 1 0 4.8 0a2.4 2.4 0 1 0 -4.8 0M375.1 525.7a2.4 2.4 0 1 0 4.8 0a2.4 2.4 0 1 0 -4.8 0M375.8 539.8a2.4 2.4 0 1 0 4.8 0a2.4 2.4 0 1 0 -4.8 0M376.6 533.3a2.4 2.4 0 1 0 4.8 0a2.4 2.4 0 1 0 -4.8 0M377.3 527.7a2.4 2.4 0 1 0 4.8 0a2.4 2.4 0 1 0 -4.8 0M378.1 532.7a2.4 2.4 0 1 0 4.8 0a2.4 2.4 0 1 0 -4.8 0M378.8 533.8a2.4 2.4 0 1 0 4.8 0a2.4 2.4 0 1 0 -4.8 0M379.6 535.4a2.4 2.4 0 1 0 4.8 0a2.4 2.4 0 1 0 -4.8 0M380.3 541.6a2.4 2.4 0 1 0 4.8 0a2.4 2.4 0 1 0 -4.8 0M381.1 537.4a2.4 2.4 0 1 0 4.8 0a2.4 2.4 0 1 0 -4.8 0M381.8 543.3a2.4 2.4 0 1 0 4.8 0a2.4 2.4 0 1 0 -4.8 0M382.6 537.7a2.4 2.4 0 1 0 4.8 0a2.4 2.4 0 1 0 -4.8 0M383.3 533.2a2.4 2.4 0 1 0 4.8 0a2.4 2.4 0 1 0 -4.8 0M384.1 525.9a2.4 2.4 0 1 0 4.8 0a2.4 2.4 0 1 0 -4.8 0M384.8 525.4a2.4 2.4 0 1 0 4.8 0a2.4 2.4 0 1 0 -4.8 0M385.6 534.3a2.4 2.4 0 1 0 4.8 0a2.4 2.4 0 1 0 -4.8 0M386.3 536.4a2.4 2.4 0 1 0 4.8 0a2.4 2.4 0 1 0 -4.8 0M387.1 539.7a2.4 2.4 0 1 0 4.8 0a2.4 2.4 0 1 0 -4.8 0M387.8 528.1a2.4 2.4 0 1 0 4.8 0a2.4 2.4 0 1 0 -4.8 0M388.6 530.5a2.4 2.4 0 1 0 4.8 0a2.4 2.4 0 1 0 -4.8 0M389.3 524.5a2.4 2.4 0 1 0 4.8 0a2.4 2.4 0 1 0 -4.8 0M390.1 525.1a2.4 2.4 0 1 0 4.8 0a2.4 2.4 0 1 0 -4.8 0M390.8 514.1a2.4 2.4 0 1 0 4.8 0a2.4 2.4 0 1 0 -4.8 0M391.6 528.8a2.4 2.4 0 1 0 4.8 0a2.4 2.4 0 1 0 -4.8 0M392.3 520.7a2.4 2.4 0 1 0 4.8 0a2.4 2.4 0 1 0 -4.8 0M393.1 524.1a2.4 2.4 0 1 0 4.8 0a2.4 2.4 0 1 0 -4.8 0M393.8 527.5a2.4 2.4 0 1 0 4.8 0a2.4 2.4 0 1 0 -4.8 0M394.6 528.2a2.4 2.4 0 1 0 4.8 0a2.4 2.4 0 1 0 -4.8 0M395.3 521.3a2.4 2.4 0 1 0 4.8 0a2.4 2.4 0 1 0 -4.8 0M396.1 538.1a2.4 2.4 0 1 0 4.8 0a2.4 2.4 0 1 0 -4.8 0M396.8 536.1a2.4 2.4 0 1 0 4.8 0a2.4 2.4 0 1 0 -4.8 0M397.6 536.6a2.4 2.4 0 1 0 4.8 0a2.4 2.4 0 1 0 -4.8 0M398.3 532.0a2.4 2.4 0 1 0 4.8 0a2.4 2.4 0 1 0 -4.8 0M399.1 527.9a2.4 2.4 0 1 0 4.8 0a2.4 2.4 0 1 0 -4.8 0M399.8 528.0a2.4 2.4 0 1 0 4.8 0a2.4 2.4 0 1 0 -4.8 0M400.6 535.0a2.4 2.4 0 1 0 4.8 0a2.4 2.4 0 1 0 -4.8 0M401.3 536.1a2.4 2.4 0 1 0 4.8 0a2.4 2.4 0 1 0 -4.8 0M402.1 530.4a2.4 2.4 0 1 0 4.8 0a2.4 2.4 0 1 0 -4.8 0M402.8 542.4a2.4 2.4 0 1 0 4.8 0a2.4 2.4 0 1 0 -4.8 0M403.6 533.2a2.4 2.4 0 1 0 4.8 0a2.4 2.4 0 1 0 -4.8 0M404.3 535.7a2.4 2.4 0 1 0 4.8 0a2.4 2.4 0 1 0 -4.8 0M405.1 534.4a2.4 2.4 0 1 0 4.8 0a2.4 2.4 0 1 0 -4.8 0M405.8 523.5a2.4 2.4 0 1 0 4.8 0a2.4 2.4 0 1 0 -4.8 0M406.6 533.6a2.4 2.4 0 1 0 4.8 0a2.4 2.4 0 1 0 -4.8 0M407.3 530.6a2.4 2.4 0 1 0 4.8 0a2.4 2.4 0 1 0 -4.8 0M408.1 521.8a2.4 2.4 0 1 0 4.8 0a2.4 2.4 0 1 0 -4.8 0M408.8 532.1a2.4 2.4 0 1 0 4.8 0a2.4 2.4 0 1 0 -4.8 0M409.6 534.3a2.4 2.4 0 1 0 4.8 0a2.4 2.4 0 1 0 -4.8 0M410.3 534.4a2.4 2.4 0 1 0 4.8 0a2.4 2.4 0 1 0 -4.8 0M411.1 535.4a2.4 2.4 0 1 0 4.8 0a2.4 2.4 0 1 0 -4.8 0M411.8 524.7a2.4 2.4 0 1 0 4.8 0a2.4 2.4 0 1 0 -4.8 0M412.6 531.2a2.4 2.4 0 1 0 4.8 0a2.4 2.4 0 1 0 -4.8 0M413.3 531.3a2.4 2.4 0 1 0 4.8 0a2.4 2.4 0 1 0 -4.8 0M414.1 535.3a2.4 2.4 0 1 0 4.8 0a2.4 2.4 0 1 0 -4.8 0M414.8 537.3a2.4 2.4 0 1 0 4.8 0a2.4 2.4 0 1 0 -4.8 0M415.6 542.3a2.4 2.4 0 1 0 4.8 0a2.4 2.4 0 1 0 -4.8 0M416.3 542.3a2.4 2.4 0 1 0 4.8 0a2.4 2.4 0 1 0 -4.8 0M417.1 539.8a2.4 2.4 0 1 0 4.8 0a2.4 2.4 0 1 0 -4.8 0M417.8 544.0a2.4 2.4 0 1 0 4.8 0a2.4 2.4 0 1 0 -4.8 0M418.6 545.5a2.4 2.4 0 1 0 4.8 0a2.4 2.4 0 1 0 -4.8 0M419.3 544.0a2.4 2.4 0 1 0 4.8 0a2.4 2.4 0 1 0 -4.8 0M420.1 542.1a2.4 2.4 0 1 0 4.8 0a2.4 2.4 0 1 0 -4.8 0M421.6 543.9a2.4 2.4 0 1 0 4.8 0a2.4 2.4 0 1 0 -4.8 0M422.3 542.5a2.4 2.4 0 1 0 4.8 0a2.4 2.4 0 1 0 -4.8 0M424.6 544.8a2.4 2.4 0 1 0 4.8 0a2.4 2.4 0 1 0 -4.8 0M425.3 544.6a2.4 2.4 0 1 0 4.8 0a2.4 2.4 0 1 0 -4.8 0M426.1 543.7a2.4 2.4 0 1 0 4.8 0a2.4 2.4 0 1 0 -4.8 0M426.8 542.4a2.4 2.4 0 1 0 4.8 0a2.4 2.4 0 1 0 -4.8 0M427.6 543.9a2.4 2.4 0 1 0 4.8 0a2.4 2.4 0 1 0 -4.8 0M429.8 544.7a2.4 2.4 0 1 0 4.8 0a2.4 2.4 0 1 0 -4.8 0M430.6 542.8a2.4 2.4 0 1 0 4.8 0a2.4 2.4 0 1 0 -4.8 0M432.8 545.6a2.4 2.4 0 1 0 4.8 0a2.4 2.4 0 1 0 -4.8 0M434.3 544.6a2.4 2.4 0 1 0 4.8 0a2.4 2.4 0 1 0 -4.8 0M435.1 545.9a2.4 2.4 0 1 0 4.8 0a2.4 2.4 0 1 0 -4.8 0M435.8 543.4a2.4 2.4 0 1 0 4.8 0a2.4 2.4 0 1 0 -4.8 0M436.6 545.9a2.4 2.4 0 1 0 4.8 0a2.4 2.4 0 1 0 -4.8 0M437.3 545.9a2.4 2.4 0 1 0 4.8 0a2.4 2.4 0 1 0 -4.8 0M438.1 543.4a2.4 2.4 0 1 0 4.8 0a2.4 2.4 0 1 0 -4.8 0M438.8 544.3a2.4 2.4 0 1 0 4.8 0a2.4 2.4 0 1 0 -4.8 0M440.3 543.2a2.4 2.4 0 1 0 4.8 0a2.4 2.4 0 1 0 -4.8 0M441.8 543.4a2.4 2.4 0 1 0 4.8 0a2.4 2.4 0 1 0 -4.8 0M442.6 545.0a2.4 2.4 0 1 0 4.8 0a2.4 2.4 0 1 0 -4.8 0M443.3 545.3a2.4 2.4 0 1 0 4.8 0a2.4 2.4 0 1 0 -4.8 0M444.1 545.0a2.4 2.4 0 1 0 4.8 0a2.4 2.4 0 1 0 -4.8 0M444.8 545.8a2.4 2.4 0 1 0 4.8 0a2.4 2.4 0 1 0 -4.8 0M445.6 546.7a2.4 2.4 0 1 0 4.8 0a2.4 2.4 0 1 0 -4.8 0M446.3 544.8a2.4 2.4 0 1 0 4.8 0a2.4 2.4 0 1 0 -4.8 0M447.1 545.5a2.4 2.4 0 1 0 4.8 0a2.4 2.4 0 1 0 -4.8 0M447.8 545.9a2.4 2.4 0 1 0 4.8 0a2.4 2.4 0 1 0 -4.8 0M449.3 543.6a2.4 2.4 0 1 0 4.8 0a2.4 2.4 0 1 0 -4.8 0M450.1 541.8a2.4 2.4 0 1 0 4.8 0a2.4 2.4 0 1 0 -4.8 0M450.8 544.8a2.4 2.4 0 1 0 4.8 0a2.4 2.4 0 1 0 -4.8 0M451.6 545.5a2.4 2.4 0 1 0 4.8 0a2.4 2.4 0 1 0 -4.8 0M452.3 545.0a2.4 2.4 0 1 0 4.8 0a2.4 2.4 0 1 0 -4.8 0M453.8 546.2a2.4 2.4 0 1 0 4.8 0a2.4 2.4 0 1 0 -4.8 0M455.3 544.5a2.4 2.4 0 1 0 4.8 0a2.4 2.4 0 1 0 -4.8 0M456.1 543.6a2.4 2.4 0 1 0 4.8 0a2.4 2.4 0 1 0 -4.8 0M457.6 544.9a2.4 2.4 0 1 0 4.8 0a2.4 2.4 0 1 0 -4.8 0M458.3 544.3a2.4 2.4 0 1 0 4.8 0a2.4 2.4 0 1 0 -4.8 0M459.1 544.1a2.4 2.4 0 1 0 4.8 0a2.4 2.4 0 1 0 -4.8 0M461.3 543.0a2.4 2.4 0 1 0 4.8 0a2.4 2.4 0 1 0 -4.8 0M462.1 544.6a2.4 2.4 0 1 0 4.8 0a2.4 2.4 0 1 0 -4.8 0M462.8 545.1a2.4 2.4 0 1 0 4.8 0a2.4 2.4 0 1 0 -4.8 0M463.6 545.8a2.4 2.4 0 1 0 4.8 0a2.4 2.4 0 1 0 -4.8 0M464.3 545.8a2.4 2.4 0 1 0 4.8 0a2.4 2.4 0 1 0 -4.8 0M465.1 544.8a2.4 2.4 0 1 0 4.8 0a2.4 2.4 0 1 0 -4.8 0M465.8 544.4a2.4 2.4 0 1 0 4.8 0a2.4 2.4 0 1 0 -4.8 0M466.6 543.7a2.4 2.4 0 1 0 4.8 0a2.4 2.4 0 1 0 -4.8 0M467.3 546.0a2.4 2.4 0 1 0 4.8 0a2.4 2.4 0 1 0 -4.8 0M468.8 544.9a2.4 2.4 0 1 0 4.8 0a2.4 2.4 0 1 0 -4.8 0M470.3 543.4a2.4 2.4 0 1 0 4.8 0a2.4 2.4 0 1 0 -4.8 0M471.1 545.8a2.4 2.4 0 1 0 4.8 0a2.4 2.4 0 1 0 -4.8 0M471.8 544.6a2.4 2.4 0 1 0 4.8 0a2.4 2.4 0 1 0 -4.8 0M472.6 545.0a2.4 2.4 0 1 0 4.8 0a2.4 2.4 0 1 0 -4.8 0M473.3 546.4a2.4 2.4 0 1 0 4.8 0a2.4 2.4 0 1 0 -4.8 0M474.1 542.9a2.4 2.4 0 1 0 4.8 0a2.4 2.4 0 1 0 -4.8 0M474.8 543.6a2.4 2.4 0 1 0 4.8 0a2.4 2.4 0 1 0 -4.8 0M475.5 544.7a2.4 2.4 0 1 0 4.8 0a2.4 2.4 0 1 0 -4.8 0M476.3 545.0a2.4 2.4 0 1 0 4.8 0a2.4 2.4 0 1 0 -4.8 0M477.0 543.3a2.4 2.4 0 1 0 4.8 0a2.4 2.4 0 1 0 -4.8 0M477.8 544.3a2.4 2.4 0 1 0 4.8 0a2.4 2.4 0 1 0 -4.8 0M478.5 543.9a2.4 2.4 0 1 0 4.8 0a2.4 2.4 0 1 0 -4.8 0M480.8 545.1a2.4 2.4 0 1 0 4.8 0a2.4 2.4 0 1 0 -4.8 0M481.5 546.2a2.4 2.4 0 1 0 4.8 0a2.4 2.4 0 1 0 -4.8 0M482.3 545.7a2.4 2.4 0 1 0 4.8 0a2.4 2.4 0 1 0 -4.8 0M483.0 546.8a2.4 2.4 0 1 0 4.8 0a2.4 2.4 0 1 0 -4.8 0M483.8 544.5a2.4 2.4 0 1 0 4.8 0a2.4 2.4 0 1 0 -4.8 0M484.5 546.0a2.4 2.4 0 1 0 4.8 0a2.4 2.4 0 1 0 -4.8 0M485.3 544.2a2.4 2.4 0 1 0 4.8 0a2.4 2.4 0 1 0 -4.8 0M486.0 544.0a2.4 2.4 0 1 0 4.8 0a2.4 2.4 0 1 0 -4.8 0M486.8 544.3a2.4 2.4 0 1 0 4.8 0a2.4 2.4 0 1 0 -4.8 0M487.5 546.4a2.4 2.4 0 1 0 4.8 0a2.4 2.4 0 1 0 -4.8 0M488.3 545.7a2.4 2.4 0 1 0 4.8 0a2.4 2.4 0 1 0 -4.8 0M490.5 545.7a2.4 2.4 0 1 0 4.8 0a2.4 2.4 0 1 0 -4.8 0M491.3 544.3a2.4 2.4 0 1 0 4.8 0a2.4 2.4 0 1 0 -4.8 0M492.0 544.1a2.4 2.4 0 1 0 4.8 0a2.4 2.4 0 1 0 -4.8 0M492.8 544.3a2.4 2.4 0 1 0 4.8 0a2.4 2.4 0 1 0 -4.8 0M493.5 543.0a2.4 2.4 0 1 0 4.8 0a2.4 2.4 0 1 0 -4.8 0M494.3 546.7a2.4 2.4 0 1 0 4.8 0a2.4 2.4 0 1 0 -4.8 0M495.0 543.8a2.4 2.4 0 1 0 4.8 0a2.4 2.4 0 1 0 -4.8 0M495.8 544.1a2.4 2.4 0 1 0 4.8 0a2.4 2.4 0 1 0 -4.8 0M496.5 544.1a2.4 2.4 0 1 0 4.8 0a2.4 2.4 0 1 0 -4.8 0M498.0 543.9a2.4 2.4 0 1 0 4.8 0a2.4 2.4 0 1 0 -4.8 0M498.8 545.4a2.4 2.4 0 1 0 4.8 0a2.4 2.4 0 1 0 -4.8 0M499.5 544.0a2.4 2.4 0 1 0 4.8 0a2.4 2.4 0 1 0 -4.8 0M500.3 544.4a2.4 2.4 0 1 0 4.8 0a2.4 2.4 0 1 0 -4.8 0M501.0 544.8a2.4 2.4 0 1 0 4.8 0a2.4 2.4 0 1 0 -4.8 0M501.8 546.5a2.4 2.4 0 1 0 4.8 0a2.4 2.4 0 1 0 -4.8 0M503.3 544.6a2.4 2.4 0 1 0 4.8 0a2.4 2.4 0 1 0 -4.8 0M504.0 545.8a2.4 2.4 0 1 0 4.8 0a2.4 2.4 0 1 0 -4.8 0M505.5 544.9a2.4 2.4 0 1 0 4.8 0a2.4 2.4 0 1 0 -4.8 0M506.3 546.1a2.4 2.4 0 1 0 4.8 0a2.4 2.4 0 1 0 -4.8 0M507.0 545.6a2.4 2.4 0 1 0 4.8 0a2.4 2.4 0 1 0 -4.8 0M507.8 545.3a2.4 2.4 0 1 0 4.8 0a2.4 2.4 0 1 0 -4.8 0M508.5 546.9a2.4 2.4 0 1 0 4.8 0a2.4 2.4 0 1 0 -4.8 0M509.3 545.1a2.4 2.4 0 1 0 4.8 0a2.4 2.4 0 1 0 -4.8 0M510.0 545.1a2.4 2.4 0 1 0 4.8 0a2.4 2.4 0 1 0 -4.8 0M510.8 544.0a2.4 2.4 0 1 0 4.8 0a2.4 2.4 0 1 0 -4.8 0M512.3 546.5a2.4 2.4 0 1 0 4.8 0a2.4 2.4 0 1 0 -4.8 0M513.0 545.1a2.4 2.4 0 1 0 4.8 0a2.4 2.4 0 1 0 -4.8 0M513.8 547.5a2.4 2.4 0 1 0 4.8 0a2.4 2.4 0 1 0 -4.8 0M515.3 545.9a2.4 2.4 0 1 0 4.8 0a2.4 2.4 0 1 0 -4.8 0M516.0 543.4a2.4 2.4 0 1 0 4.8 0a2.4 2.4 0 1 0 -4.8 0M516.8 544.7a2.4 2.4 0 1 0 4.8 0a2.4 2.4 0 1 0 -4.8 0M517.5 544.6a2.4 2.4 0 1 0 4.8 0a2.4 2.4 0 1 0 -4.8 0M518.3 542.0a2.4 2.4 0 1 0 4.8 0a2.4 2.4 0 1 0 -4.8 0M519.0 544.1a2.4 2.4 0 1 0 4.8 0a2.4 2.4 0 1 0 -4.8 0M519.8 544.0a2.4 2.4 0 1 0 4.8 0a2.4 2.4 0 1 0 -4.8 0M520.5 542.7a2.4 2.4 0 1 0 4.8 0a2.4 2.4 0 1 0 -4.8 0M521.3 545.3a2.4 2.4 0 1 0 4.8 0a2.4 2.4 0 1 0 -4.8 0M522.0 547.1a2.4 2.4 0 1 0 4.8 0a2.4 2.4 0 1 0 -4.8 0M522.8 545.9a2.4 2.4 0 1 0 4.8 0a2.4 2.4 0 1 0 -4.8 0M523.5 544.3a2.4 2.4 0 1 0 4.8 0a2.4 2.4 0 1 0 -4.8 0M524.3 545.0a2.4 2.4 0 1 0 4.8 0a2.4 2.4 0 1 0 -4.8 0M525.0 546.5a2.4 2.4 0 1 0 4.8 0a2.4 2.4 0 1 0 -4.8 0M525.8 544.3a2.4 2.4 0 1 0 4.8 0a2.4 2.4 0 1 0 -4.8 0M527.3 545.3a2.4 2.4 0 1 0 4.8 0a2.4 2.4 0 1 0 -4.8 0M528.8 547.1a2.4 2.4 0 1 0 4.8 0a2.4 2.4 0 1 0 -4.8 0M529.5 543.4a2.4 2.4 0 1 0 4.8 0a2.4 2.4 0 1 0 -4.8 0M530.3 546.5a2.4 2.4 0 1 0 4.8 0a2.4 2.4 0 1 0 -4.8 0M531.0 545.4a2.4 2.4 0 1 0 4.8 0a2.4 2.4 0 1 0 -4.8 0M531.7 544.9a2.4 2.4 0 1 0 4.8 0a2.4 2.4 0 1 0 -4.8 0M532.5 542.9a2.4 2.4 0 1 0 4.8 0a2.4 2.4 0 1 0 -4.8 0M533.2 545.6a2.4 2.4 0 1 0 4.8 0a2.4 2.4 0 1 0 -4.8 0M533.9 544.7a2.4 2.4 0 1 0 4.8 0a2.4 2.4 0 1 0 -4.8 0M534.7 541.0a2.4 2.4 0 1 0 4.8 0a2.4 2.4 0 1 0 -4.8 0M535.4 543.2a2.4 2.4 0 1 0 4.8 0a2.4 2.4 0 1 0 -4.8 0M536.8 543.3a2.4 2.4 0 1 0 4.8 0a2.4 2.4 0 1 0 -4.8 0M537.5 543.7a2.4 2.4 0 1 0 4.8 0a2.4 2.4 0 1 0 -4.8 0M538.2 542.9a2.4 2.4 0 1 0 4.8 0a2.4 2.4 0 1 0 -4.8 0M538.9 547.2a2.4 2.4 0 1 0 4.8 0a2.4 2.4 0 1 0 -4.8 0M539.6 546.0a2.4 2.4 0 1 0 4.8 0a2.4 2.4 0 1 0 -4.8 0M540.3 543.2a2.4 2.4 0 1 0 4.8 0a2.4 2.4 0 1 0 -4.8 0M541.0 546.3a2.4 2.4 0 1 0 4.8 0a2.4 2.4 0 1 0 -4.8 0M541.6 548.0a2.4 2.4 0 1 0 4.8 0a2.4 2.4 0 1 0 -4.8 0M542.3 543.8a2.4 2.4 0 1 0 4.8 0a2.4 2.4 0 1 0 -4.8 0M542.9 538.6a2.4 2.4 0 1 0 4.8 0a2.4 2.4 0 1 0 -4.8 0M543.6 543.1a2.4 2.4 0 1 0 4.8 0a2.4 2.4 0 1 0 -4.8 0M544.2 546.1a2.4 2.4 0 1 0 4.8 0a2.4 2.4 0 1 0 -4.8 0M544.8 538.4a2.4 2.4 0 1 0 4.8 0a2.4 2.4 0 1 0 -4.8 0M545.4 541.4a2.4 2.4 0 1 0 4.8 0a2.4 2.4 0 1 0 -4.8 0M546.0 544.6a2.4 2.4 0 1 0 4.8 0a2.4 2.4 0 1 0 -4.8 0M546.6 545.7a2.4 2.4 0 1 0 4.8 0a2.4 2.4 0 1 0 -4.8 0M547.1 544.6a2.4 2.4 0 1 0 4.8 0a2.4 2.4 0 1 0 -4.8 0M547.7 542.8a2.4 2.4 0 1 0 4.8 0a2.4 2.4 0 1 0 -4.8 0M548.2 540.7a2.4 2.4 0 1 0 4.8 0a2.4 2.4 0 1 0 -4.8 0M548.7 538.5a2.4 2.4 0 1 0 4.8 0a2.4 2.4 0 1 0 -4.8 0M549.2 544.6a2.4 2.4 0 1 0 4.8 0a2.4 2.4 0 1 0 -4.8 0M549.7 543.7a2.4 2.4 0 1 0 4.8 0a2.4 2.4 0 1 0 -4.8 0M550.2 536.4a2.4 2.4 0 1 0 4.8 0a2.4 2.4 0 1 0 -4.8 0M550.7 534.4a2.4 2.4 0 1 0 4.8 0a2.4 2.4 0 1 0 -4.8 0M551.1 542.9a2.4 2.4 0 1 0 4.8 0a2.4 2.4 0 1 0 -4.8 0M551.6 540.4a2.4 2.4 0 1 0 4.8 0a2.4 2.4 0 1 0 -4.8 0M552.0 529.5a2.4 2.4 0 1 0 4.8 0a2.4 2.4 0 1 0 -4.8 0M552.5 522.8a2.4 2.4 0 1 0 4.8 0a2.4 2.4 0 1 0 -4.8 0M552.9 530.5a2.4 2.4 0 1 0 4.8 0a2.4 2.4 0 1 0 -4.8 0M553.4 532.8a2.4 2.4 0 1 0 4.8 0a2.4 2.4 0 1 0 -4.8 0M553.8 532.2a2.4 2.4 0 1 0 4.8 0a2.4 2.4 0 1 0 -4.8 0M554.3 530.1a2.4 2.4 0 1 0 4.8 0a2.4 2.4 0 1 0 -4.8 0M554.7 514.3a2.4 2.4 0 1 0 4.8 0a2.4 2.4 0 1 0 -4.8 0M555.2 523.3a2.4 2.4 0 1 0 4.8 0a2.4 2.4 0 1 0 -4.8 0M555.6 519.7a2.4 2.4 0 1 0 4.8 0a2.4 2.4 0 1 0 -4.8 0M556.1 516.6a2.4 2.4 0 1 0 4.8 0a2.4 2.4 0 1 0 -4.8 0M556.5 539.3a2.4 2.4 0 1 0 4.8 0a2.4 2.4 0 1 0 -4.8 0M557.0 520.4a2.4 2.4 0 1 0 4.8 0a2.4 2.4 0 1 0 -4.8 0M557.4 521.5a2.4 2.4 0 1 0 4.8 0a2.4 2.4 0 1 0 -4.8 0M557.9 516.3a2.4 2.4 0 1 0 4.8 0a2.4 2.4 0 1 0 -4.8 0M558.3 522.1a2.4 2.4 0 1 0 4.8 0a2.4 2.4 0 1 0 -4.8 0M558.8 523.5a2.4 2.4 0 1 0 4.8 0a2.4 2.4 0 1 0 -4.8 0M559.2 509.0a2.4 2.4 0 1 0 4.8 0a2.4 2.4 0 1 0 -4.8 0M559.7 507.3a2.4 2.4 0 1 0 4.8 0a2.4 2.4 0 1 0 -4.8 0M560.1 499.9a2.4 2.4 0 1 0 4.8 0a2.4 2.4 0 1 0 -4.8 0M560.6 491.1a2.4 2.4 0 1 0 4.8 0a2.4 2.4 0 1 0 -4.8 0M561.0 494.8a2.4 2.4 0 1 0 4.8 0a2.4 2.4 0 1 0 -4.8 0M561.5 496.6a2.4 2.4 0 1 0 4.8 0a2.4 2.4 0 1 0 -4.8 0M561.9 491.6a2.4 2.4 0 1 0 4.8 0a2.4 2.4 0 1 0 -4.8 0M562.4 487.7a2.4 2.4 0 1 0 4.8 0a2.4 2.4 0 1 0 -4.8 0M562.8 471.2a2.4 2.4 0 1 0 4.8 0a2.4 2.4 0 1 0 -4.8 0M563.3 490.8a2.4 2.4 0 1 0 4.8 0a2.4 2.4 0 1 0 -4.8 0M563.7 487.9a2.4 2.4 0 1 0 4.8 0a2.4 2.4 0 1 0 -4.8 0M564.2 499.5a2.4 2.4 0 1 0 4.8 0a2.4 2.4 0 1 0 -4.8 0M564.6 475.3a2.4 2.4 0 1 0 4.8 0a2.4 2.4 0 1 0 -4.8 0M565.1 464.6a2.4 2.4 0 1 0 4.8 0a2.4 2.4 0 1 0 -4.8 0M565.5 464.0a2.4 2.4 0 1 0 4.8 0a2.4 2.4 0 1 0 -4.8 0M566.0 465.0a2.4 2.4 0 1 0 4.8 0a2.4 2.4 0 1 0 -4.8 0M566.4 467.6a2.4 2.4 0 1 0 4.8 0a2.4 2.4 0 1 0 -4.8 0M566.9 468.0a2.4 2.4 0 1 0 4.8 0a2.4 2.4 0 1 0 -4.8 0M567.3 461.0a2.4 2.4 0 1 0 4.8 0a2.4 2.4 0 1 0 -4.8 0M567.8 454.4a2.4 2.4 0 1 0 4.8 0a2.4 2.4 0 1 0 -4.8 0M568.2 470.6a2.4 2.4 0 1 0 4.8 0a2.4 2.4 0 1 0 -4.8 0M568.7 459.0a2.4 2.4 0 1 0 4.8 0a2.4 2.4 0 1 0 -4.8 0M569.1 453.7a2.4 2.4 0 1 0 4.8 0a2.4 2.4 0 1 0 -4.8 0M569.6 452.8a2.4 2.4 0 1 0 4.8 0a2.4 2.4 0 1 0 -4.8 0M570.0 452.3a2.4 2.4 0 1 0 4.8 0a2.4 2.4 0 1 0 -4.8 0M570.5 449.0a2.4 2.4 0 1 0 4.8 0a2.4 2.4 0 1 0 -4.8 0M570.9 450.1a2.4 2.4 0 1 0 4.8 0a2.4 2.4 0 1 0 -4.8 0M571.4 471.6a2.4 2.4 0 1 0 4.8 0a2.4 2.4 0 1 0 -4.8 0M571.8 471.7a2.4 2.4 0 1 0 4.8 0a2.4 2.4 0 1 0 -4.8 0M572.3 457.0a2.4 2.4 0 1 0 4.8 0a2.4 2.4 0 1 0 -4.8 0M572.7 467.9a2.4 2.4 0 1 0 4.8 0a2.4 2.4 0 1 0 -4.8 0M573.2 466.4a2.4 2.4 0 1 0 4.8 0a2.4 2.4 0 1 0 -4.8 0M573.6 476.2a2.4 2.4 0 1 0 4.8 0a2.4 2.4 0 1 0 -4.8 0M574.1 452.7a2.4 2.4 0 1 0 4.8 0a2.4 2.4 0 1 0 -4.8 0M574.5 463.9a2.4 2.4 0 1 0 4.8 0a2.4 2.4 0 1 0 -4.8 0M575.0 470.8a2.4 2.4 0 1 0 4.8 0a2.4 2.4 0 1 0 -4.8 0M575.4 440.3a2.4 2.4 0 1 0 4.8 0a2.4 2.4 0 1 0 -4.8 0M575.9 452.9a2.4 2.4 0 1 0 4.8 0a2.4 2.4 0 1 0 -4.8 0M576.3 454.5a2.4 2.4 0 1 0 4.8 0a2.4 2.4 0 1 0 -4.8 0M576.8 454.5a2.4 2.4 0 1 0 4.8 0a2.4 2.4 0 1 0 -4.8 0M577.2 454.3a2.4 2.4 0 1 0 4.8 0a2.4 2.4 0 1 0 -4.8 0M577.7 454.3a2.4 2.4 0 1 0 4.8 0a2.4 2.4 0 1 0 -4.8 0M578.1 459.2a2.4 2.4 0 1 0 4.8 0a2.4 2.4 0 1 0 -4.8 0M578.6 464.2a2.4 2.4 0 1 0 4.8 0a2.4 2.4 0 1 0 -4.8 0M579.0 451.0a2.4 2.4 0 1 0 4.8 0a2.4 2.4 0 1 0 -4.8 0M579.5 474.5a2.4 2.4 0 1 0 4.8 0a2.4 2.4 0 1 0 -4.8 0M579.9 439.3a2.4 2.4 0 1 0 4.8 0a2.4 2.4 0 1 0 -4.8 0M580.4 442.1a2.4 2.4 0 1 0 4.8 0a2.4 2.4 0 1 0 -4.8 0M580.8 447.6a2.4 2.4 0 1 0 4.8 0a2.4 2.4 0 1 0 -4.8 0M581.3 433.6a2.4 2.4 0 1 0 4.8 0a2.4 2.4 0 1 0 -4.8 0M581.7 441.3a2.4 2.4 0 1 0 4.8 0a2.4 2.4 0 1 0 -4.8 0M582.2 441.2a2.4 2.4 0 1 0 4.8 0a2.4 2.4 0 1 0 -4.8 0M582.6 454.6a2.4 2.4 0 1 0 4.8 0a2.4 2.4 0 1 0 -4.8 0M583.1 436.9a2.4 2.4 0 1 0 4.8 0a2.4 2.4 0 1 0 -4.8 0M583.5 443.2a2.4 2.4 0 1 0 4.8 0a2.4 2.4 0 1 0 -4.8 0M584.0 466.8a2.4 2.4 0 1 0 4.8 0a2.4 2.4 0 1 0 -4.8 0M584.4 449.4a2.4 2.4 0 1 0 4.8 0a2.4 2.4 0 1 0 -4.8 0M584.9 448.6a2.4 2.4 0 1 0 4.8 0a2.4 2.4 0 1 0 -4.8 0M585.3 440.9a2.4 2.4 0 1 0 4.8 0a2.4 2.4 0 1 0 -4.8 0M585.8 451.6a2.4 2.4 0 1 0 4.8 0a2.4 2.4 0 1 0 -4.8 0M586.2 442.8a2.4 2.4 0 1 0 4.8 0a2.4 2.4 0 1 0 -4.8 0M586.7 452.8a2.4 2.4 0 1 0 4.8 0a2.4 2.4 0 1 0 -4.8 0M587.1 450.6a2.4 2.4 0 1 0 4.8 0a2.4 2.4 0 1 0 -4.8 0M587.6 449.8a2.4 2.4 0 1 0 4.8 0a2.4 2.4 0 1 0 -4.8 0M588.0 457.1a2.4 2.4 0 1 0 4.8 0a2.4 2.4 0 1 0 -4.8 0M588.5 446.6a2.4 2.4 0 1 0 4.8 0a2.4 2.4 0 1 0 -4.8 0M588.9 455.4a2.4 2.4 0 1 0 4.8 0a2.4 2.4 0 1 0 -4.8 0M589.4 454.7a2.4 2.4 0 1 0 4.8 0a2.4 2.4 0 1 0 -4.8 0M589.8 471.9a2.4 2.4 0 1 0 4.8 0a2.4 2.4 0 1 0 -4.8 0M590.3 479.1a2.4 2.4 0 1 0 4.8 0a2.4 2.4 0 1 0 -4.8 0M590.7 483.5a2.4 2.4 0 1 0 4.8 0a2.4 2.4 0 1 0 -4.8 0M591.2 456.4a2.4 2.4 0 1 0 4.8 0a2.4 2.4 0 1 0 -4.8 0M591.6 498.5a2.4 2.4 0 1 0 4.8 0a2.4 2.4 0 1 0 -4.8 0M592.1 479.0a2.4 2.4 0 1 0 4.8 0a2.4 2.4 0 1 0 -4.8 0M592.5 480.9a2.4 2.4 0 1 0 4.8 0a2.4 2.4 0 1 0 -4.8 0M593.0 482.2a2.4 2.4 0 1 0 4.8 0a2.4 2.4 0 1 0 -4.8 0M593.4 482.6a2.4 2.4 0 1 0 4.8 0a2.4 2.4 0 1 0 -4.8 0M593.9 496.8a2.4 2.4 0 1 0 4.8 0a2.4 2.4 0 1 0 -4.8 0M594.3 486.9a2.4 2.4 0 1 0 4.8 0a2.4 2.4 0 1 0 -4.8 0M594.8 490.5a2.4 2.4 0 1 0 4.8 0a2.4 2.4 0 1 0 -4.8 0M595.2 499.2a2.4 2.4 0 1 0 4.8 0a2.4 2.4 0 1 0 -4.8 0M595.7 505.1a2.4 2.4 0 1 0 4.8 0a2.4 2.4 0 1 0 -4.8 0M596.1 485.6a2.4 2.4 0 1 0 4.8 0a2.4 2.4 0 1 0 -4.8 0M596.6 486.1a2.4 2.4 0 1 0 4.8 0a2.4 2.4 0 1 0 -4.8 0M597.0 481.9a2.4 2.4 0 1 0 4.8 0a2.4 2.4 0 1 0 -4.8 0M597.5 484.2a2.4 2.4 0 1 0 4.8 0a2.4 2.4 0 1 0 -4.8 0M597.9 505.5a2.4 2.4 0 1 0 4.8 0a2.4 2.4 0 1 0 -4.8 0M598.4 505.9a2.4 2.4 0 1 0 4.8 0a2.4 2.4 0 1 0 -4.8 0M598.8 507.4a2.4 2.4 0 1 0 4.8 0a2.4 2.4 0 1 0 -4.8 0M599.3 513.1a2.4 2.4 0 1 0 4.8 0a2.4 2.4 0 1 0 -4.8 0M599.7 515.4a2.4 2.4 0 1 0 4.8 0a2.4 2.4 0 1 0 -4.8 0M600.2 524.8a2.4 2.4 0 1 0 4.8 0a2.4 2.4 0 1 0 -4.8 0M600.6 530.5a2.4 2.4 0 1 0 4.8 0a2.4 2.4 0 1 0 -4.8 0M601.1 513.1a2.4 2.4 0 1 0 4.8 0a2.4 2.4 0 1 0 -4.8 0M601.5 531.3a2.4 2.4 0 1 0 4.8 0a2.4 2.4 0 1 0 -4.8 0M602.0 528.9a2.4 2.4 0 1 0 4.8 0a2.4 2.4 0 1 0 -4.8 0M602.4 516.3a2.4 2.4 0 1 0 4.8 0a2.4 2.4 0 1 0 -4.8 0M602.9 523.7a2.4 2.4 0 1 0 4.8 0a2.4 2.4 0 1 0 -4.8 0M603.3 520.1a2.4 2.4 0 1 0 4.8 0a2.4 2.4 0 1 0 -4.8 0M603.8 512.5a2.4 2.4 0 1 0 4.8 0a2.4 2.4 0 1 0 -4.8 0M604.2 524.3a2.4 2.4 0 1 0 4.8 0a2.4 2.4 0 1 0 -4.8 0M604.7 514.8a2.4 2.4 0 1 0 4.8 0a2.4 2.4 0 1 0 -4.8 0M605.1 526.0a2.4 2.4 0 1 0 4.8 0a2.4 2.4 0 1 0 -4.8 0M605.6 520.8a2.4 2.4 0 1 0 4.8 0a2.4 2.4 0 1 0 -4.8 0M606.0 526.5a2.4 2.4 0 1 0 4.8 0a2.4 2.4 0 1 0 -4.8 0M606.5 534.7a2.4 2.4 0 1 0 4.8 0a2.4 2.4 0 1 0 -4.8 0M606.9 532.9a2.4 2.4 0 1 0 4.8 0a2.4 2.4 0 1 0 -4.8 0M607.4 530.1a2.4 2.4 0 1 0 4.8 0a2.4 2.4 0 1 0 -4.8 0M607.8 537.5a2.4 2.4 0 1 0 4.8 0a2.4 2.4 0 1 0 -4.8 0M608.3 541.5a2.4 2.4 0 1 0 4.8 0a2.4 2.4 0 1 0 -4.8 0M608.8 544.0a2.4 2.4 0 1 0 4.8 0a2.4 2.4 0 1 0 -4.8 0M609.2 536.3a2.4 2.4 0 1 0 4.8 0a2.4 2.4 0 1 0 -4.8 0M609.7 545.9a2.4 2.4 0 1 0 4.8 0a2.4 2.4 0 1 0 -4.8 0M610.2 540.3a2.4 2.4 0 1 0 4.8 0a2.4 2.4 0 1 0 -4.8 0M610.7 538.9a2.4 2.4 0 1 0 4.8 0a2.4 2.4 0 1 0 -4.8 0M611.2 546.0a2.4 2.4 0 1 0 4.8 0a2.4 2.4 0 1 0 -4.8 0M611.8 543.5a2.4 2.4 0 1 0 4.8 0a2.4 2.4 0 1 0 -4.8 0M612.3 543.3a2.4 2.4 0 1 0 4.8 0a2.4 2.4 0 1 0 -4.8 0M612.9 541.0a2.4 2.4 0 1 0 4.8 0a2.4 2.4 0 1 0 -4.8 0M613.4 534.1a2.4 2.4 0 1 0 4.8 0a2.4 2.4 0 1 0 -4.8 0M614.0 541.8a2.4 2.4 0 1 0 4.8 0a2.4 2.4 0 1 0 -4.8 0M614.6 542.1a2.4 2.4 0 1 0 4.8 0a2.4 2.4 0 1 0 -4.8 0M615.2 540.1a2.4 2.4 0 1 0 4.8 0a2.4 2.4 0 1 0 -4.8 0M615.8 545.8a2.4 2.4 0 1 0 4.8 0a2.4 2.4 0 1 0 -4.8 0M616.4 541.6a2.4 2.4 0 1 0 4.8 0a2.4 2.4 0 1 0 -4.8 0M619.0 541.0a2.4 2.4 0 1 0 4.8 0a2.4 2.4 0 1 0 -4.8 0M619.7 542.6a2.4 2.4 0 1 0 4.8 0a2.4 2.4 0 1 0 -4.8 0M621.1 545.1a2.4 2.4 0 1 0 4.8 0a2.4 2.4 0 1 0 -4.8 0M621.8 542.7a2.4 2.4 0 1 0 4.8 0a2.4 2.4 0 1 0 -4.8 0M622.5 542.0a2.4 2.4 0 1 0 4.8 0a2.4 2.4 0 1 0 -4.8 0M623.2 547.7a2.4 2.4 0 1 0 4.8 0a2.4 2.4 0 1 0 -4.8 0M623.9 543.9a2.4 2.4 0 1 0 4.8 0a2.4 2.4 0 1 0 -4.8 0M624.6 544.2a2.4 2.4 0 1 0 4.8 0a2.4 2.4 0 1 0 -4.8 0M626.1 543.4a2.4 2.4 0 1 0 4.8 0a2.4 2.4 0 1 0 -4.8 0M626.8 539.8a2.4 2.4 0 1 0 4.8 0a2.4 2.4 0 1 0 -4.8 0M627.5 543.6a2.4 2.4 0 1 0 4.8 0a2.4 2.4 0 1 0 -4.8 0M628.3 542.1a2.4 2.4 0 1 0 4.8 0a2.4 2.4 0 1 0 -4.8 0M629.0 544.2a2.4 2.4 0 1 0 4.8 0a2.4 2.4 0 1 0 -4.8 0M629.7 540.9a2.4 2.4 0 1 0 4.8 0a2.4 2.4 0 1 0 -4.8 0M630.5 543.7a2.4 2.4 0 1 0 4.8 0a2.4 2.4 0 1 0 -4.8 0M631.2 544.7a2.4 2.4 0 1 0 4.8 0a2.4 2.4 0 1 0 -4.8 0M632.0 545.8a2.4 2.4 0 1 0 4.8 0a2.4 2.4 0 1 0 -4.8 0M632.7 545.5a2.4 2.4 0 1 0 4.8 0a2.4 2.4 0 1 0 -4.8 0M633.5 545.7a2.4 2.4 0 1 0 4.8 0a2.4 2.4 0 1 0 -4.8 0M634.9 545.0a2.4 2.4 0 1 0 4.8 0a2.4 2.4 0 1 0 -4.8 0M635.7 544.0a2.4 2.4 0 1 0 4.8 0a2.4 2.4 0 1 0 -4.8 0M636.4 546.2a2.4 2.4 0 1 0 4.8 0a2.4 2.4 0 1 0 -4.8 0M637.9 545.7a2.4 2.4 0 1 0 4.8 0a2.4 2.4 0 1 0 -4.8 0M638.7 544.0a2.4 2.4 0 1 0 4.8 0a2.4 2.4 0 1 0 -4.8 0" stroke="#888" stroke-width="1.4" fill="#fff"/>
<path d="M371.3 529.8L372.0 529.8L372.7 529.8L373.4 529.8L374.1 529.8L374.8 529.8L375.5 529.8L376.2 529.8L376.9 529.8L377.6 529.8L378.3 529.8L379.0 529.8L379.7 529.8L380.4 529.8L381.1 529.8L381.8 529.8L382.5 529.8L383.2 529.8L383.9 529.8L384.6 529.8L385.3 529.8L386.0 529.8L386.7 529.8L387.4 529.8L388.1 529.8L388.8 529.8L389.5 529.8L390.2 529.8L390.9 529.8L391.6 529.8L392.3 529.8L393.0 529.8L393.7 529.8L394.4 529.8L395.1 529.8L395.8 529.8L396.5 529.8L397.2 529.8L397.9 529.8L398.6 529.8L399.3 529.8L400.0 529.8L400.7 529.8L401.4 529.8L402.1 529.8L402.8 529.8L403.5 529.8L404.2 529.8L404.9 529.8L405.6 529.8L406.3 529.8L407.0 529.9L407.7 529.9L408.4 529.9L409.1 530.0L409.8 530.1L410.5 530.2L411.2 530.3L411.9 530.6L412.6 530.8L413.3 531.3L414.0 531.8L414.7 532.5L415.4 533.4L416.1 534.6L416.8 536.0L417.5 537.5L418.2 539.2L418.9 540.8L419.6 542.4L420.3 543.8L421.0 545.0L421.7 546.0L422.4 546.8L423.1 547.4L423.8 547.8L424.5 548.2L425.2 548.4L425.9 548.6L426.6 548.7L427.3 548.8L428.0 548.9L428.7 548.9L429.4 548.9L430.1 548.9L430.8 549.0L431.5 549.0L432.2 549.0L432.9 549.0L433.6 549.0L434.3 549.0L435.0 549.0L435.7 549.0L436.4 549.0L437.1 549.0L437.8 549.0L438.5 549.0L439.2 549.0L439.9 549.0L440.6 549.0L441.3 549.0L442.0 549.0L442.7 549.0L443.4 549.0L444.1 549.0L444.8 549.0L445.5 549.0L446.2 549.0L446.9 549.0L447.6 549.0L448.3 549.0L449.0 549.0L449.7 549.0L450.4 549.0L451.1 549.0L451.8 549.0L452.5 549.0L453.2 549.0L453.9 549.0L454.6 549.0L455.3 549.0L456.0 549.0L456.7 549.0L457.4 549.0L458.1 549.0L458.8 549.0L459.5 549.0L460.2 549.0L460.9 549.0L461.6 549.0L462.3 549.0L463.0 549.0L463.7 549.0L464.4 549.0L465.1 549.0L465.8 549.0L466.5 549.0L467.2 549.0L467.9 549.0L468.6 549.0L469.3 549.0L470.0 549.0L470.7 549.0L471.4 549.0L472.1 549.0L472.8 549.0L473.5 549.0L474.2 549.0L474.9 549.0L475.6 549.0L476.3 549.0L477.0 549.0L477.7 549.0L478.4 549.0L479.1 549.0L479.8 549.0L480.5 549.0L481.2 549.0L481.9 549.0L482.6 549.0L483.3 549.0L484.0 549.0L484.7 549.0L485.4 549.0L486.1 549.0L486.8 549.0L487.5 549.0L488.2 549.0L488.9 549.0L489.6 549.0L490.3 549.0L491.0 549.0L491.7 549.0L492.4 549.0L493.1 549.0L493.8 549.0L494.5 549.0L495.2 549.0L495.9 549.0L496.6 549.0L497.3 549.0L498.0 549.0L498.7 549.0L499.4 549.0L500.1 549.0L500.8 549.0L501.5 549.0L502.2 549.0L502.9 549.0L503.6 549.0L504.3 549.0L505.0 549.0L505.7 549.0L506.4 549.0L507.1 549.0L507.8 549.0L508.5 549.0L509.2 549.0L509.9 549.0L510.6 549.0L511.3 549.0L512.0 549.0L512.7 549.0L513.4 549.0L514.1 549.0L514.8 549.0L515.5 549.0L516.2 549.0L516.9 549.0L517.6 549.0L518.3 549.0L519.0 549.0L519.7 549.0L520.4 549.0L521.1 549.0L521.8 549.0L522.5 549.0L523.2 549.0L523.9 549.0L524.6 549.0L525.3 549.0L526.0 549.0L526.7 549.0L527.4 549.0L528.1 549.0L528.8 549.0L529.5 549.0L530.2 548.9L530.9 548.9L531.6 548.9L532.3 548.9L533.0 548.9L533.7 548.9L534.4 548.8L535.1 548.8L535.8 548.8L536.5 548.7L537.2 548.7L537.9 548.6L538.6 548.6L539.3 548.5L540.0 548.4L540.7 548.3L541.4 548.2L542.1 548.1L542.8 548.0L543.5 547.8L544.2 547.6L544.9 547.4L545.6 547.2L546.3 547.0L547.0 546.7L547.7 546.4L548.4 546.1L549.1 545.7L549.8 545.3L550.5 544.9L551.2 544.4L551.9 543.9L552.6 543.3L553.3 542.7L554.0 542.1L554.7 541.4L555.4 540.7L556.1 539.9L556.8 539.1L557.5 538.2L558.2 537.3L558.9 536.3L559.6 535.3L560.3 534.3L561.0 533.2L561.7 532.1L562.4 531.0L563.1 529.9L563.8 528.7L564.5 527.5L565.2 526.3L565.9 525.1L566.6 524.0L567.3 522.8L568.0 521.7L568.7 520.6L569.4 519.5L570.1 518.5L570.8 517.5L571.5 516.6L572.2 515.7L572.9 514.9L573.6 514.2L574.3 513.6L575.0 513.1L575.7 512.7L576.4 512.3L577.1 512.1L577.8 511.9L578.5 511.9L579.2 512.0L579.9 512.1L580.6 512.4L581.3 512.8L582.0 513.2L582.7 513.8L583.4 514.4L584.1 515.2L584.8 516.0L585.5 516.8L586.2 517.8L586.9 518.8L587.6 519.8L588.3 520.9L589.0 522.0L589.7 523.1L590.4 524.3L591.1 525.5L591.8 526.7L592.5 527.8L593.2 529.0L593.9 530.2L594.6 531.3L595.3 532.5L596.0 533.5L596.7 534.6L597.4 535.6L598.1 536.6L598.8 537.6L599.5 538.5L600.2 539.3L600.9 540.1L601.6 540.9L602.3 541.6L603.0 542.3L603.7 542.9L604.4 543.5L605.1 544.1L605.8 544.6L606.5 545.0L607.2 545.4L607.9 545.8L608.6 546.2L609.3 546.5L610.0 546.8L610.7 547.1L611.4 547.3L612.1 547.5L612.8 547.7L613.5 547.9L614.2 548.0L614.9 548.1L615.6 548.3L616.3 548.4L617.0 548.5L617.7 548.5L618.4 548.6L619.1 548.7L619.8 548.7L620.5 548.8L621.2 548.8L621.9 548.8L622.6 548.9L623.3 548.9L624.0 548.9L624.7 548.9L625.4 548.9L626.1 548.9L626.8 549.0L627.5 549.0L628.2 549.0L628.9 549.0L629.6 549.0L630.3 549.0L631.0 549.0L631.7 549.0L632.4 549.0L633.1 549.0L633.8 549.0L634.5 549.0L635.2 549.0L635.9 549.0L636.6 549.0L637.3 549.0L638.0 549.0L638.7 549.0L639.4 549.0L640.1 549.0L640.8 549.0L641.5 549.0" stroke="#d92b2b" stroke-width="2.6" fill="none"/>
<path d="M371.3 529.8L372.0 529.8L372.7 529.8L373.4 529.8L374.1 529.8L374.8 529.8L375.5 529.8L376.2 529.8L376.9 529.8L377.6 529.8L378.3 529.8L379.0 529.8L379.7 529.8L380.4 529.8L381.1 529.8L381.8 529.8L382.5 529.8L383.2 529.8L383.9 529.8L384.6 529.8L385.3 529.8L386.0 529.8L386.7 529.8L387.4 529.8L388.1 529.8L388.8 529.8L389.5 529.8L390.2 529.8L390.9 529.8L391.6 529.8L392.3 529.8L393.0 529.8L393.7 529.8L394.4 529.8L395.1 529.8L395.8 529.8L396.5 529.8L397.2 529.8L397.9 529.8L398.6 529.8L399.3 529.8L400.0 529.8L400.7 529.8L401.4 529.8L402.1 529.8L402.8 529.8L403.5 529.8L404.2 529.8L404.9 529.8L405.6 529.8L406.3 529.8L407.0 529.9L407.7 529.9L408.4 529.9L409.1 530.0L409.8 530.1L410.5 530.2L411.2 530.3L411.9 530.6L412.6 530.8L413.3 531.3L414.0 531.8L414.7 532.5L415.4 533.4L416.1 534.6L416.8 536.0L417.5 537.5L418.2 539.2L418.9 540.8L419.6 542.4L420.3 543.8L421.0 545.0L421.7 546.0L422.4 546.8L423.1 547.4L423.8 547.8L424.5 548.2L425.2 548.4L425.9 548.6L426.6 548.7L427.3 548.8L428.0 548.9L428.7 548.9L429.4 548.9L430.1 548.9L430.8 549.0L431.5 549.0L432.2 549.0L432.9 549.0L433.6 549.0L434.3 549.0L435.0 549.0L435.7 549.0L436.4 549.0L437.1 549.0L437.8 549.0L438.5 549.0L439.2 549.0L439.9 549.0L440.6 549.0L441.3 549.0L442.0 549.0L442.7 549.0L443.4 549.0L444.1 549.0L444.8 549.0L445.5 549.0L446.2 549.0L446.9 549.0L447.6 549.0L448.3 549.0L449.0 549.0L449.7 549.0L450.4 549.0L451.1 549.0L451.8 549.0L452.5 549.0L453.2 549.0L453.9 549.0L454.6 549.0L455.3 549.0L456.0 549.0L456.7 549.0L457.4 549.0L458.1 549.0L458.8 549.0L459.5 549.0L460.2 549.0L460.9 549.0L461.6 549.0L462.3 549.0L463.0 549.0L463.7 549.0L464.4 549.0L465.1 549.0L465.8 549.0L466.5 549.0L467.2 549.0L467.9 549.0L468.6 549.0L469.3 549.0L470.0 549.0L470.7 549.0L471.4 549.0L472.1 549.0L472.8 549.0L473.5 549.0L474.2 549.0L474.9 549.0L475.6 549.0L476.3 549.0L477.0 549.0L477.7 549.0L478.4 549.0L479.1 549.0L479.8 549.0L480.5 549.0L481.2 549.0L481.9 549.0L482.6 549.0L483.3 549.0L484.0 549.0L484.7 549.0L485.4 549.0L486.1 549.0L486.8 549.0L487.5 549.0L488.2 549.0L488.9 549.0L489.6 549.0L490.3 549.0L491.0 549.0L491.7 549.0L492.4 549.0L493.1 549.0L493.8 549.0L494.5 549.0L495.2 549.0L495.9 549.0L496.6 549.0L497.3 549.0L498.0 549.0L498.7 549.0L499.4 549.0L500.1 549.0L500.8 549.0L501.5 549.0L502.2 549.0L502.9 549.0L503.6 549.0L504.3 549.0L505.0 549.0L505.7 549.0L506.4 549.0L507.1 549.0L507.8 549.0L508.5 549.0L509.2 549.0L509.9 549.0L510.6 549.0L511.3 549.0L512.0 549.0L512.7 549.0L513.4 549.0L514.1 549.0L514.8 549.0L515.5 549.0L516.2 549.0L516.9 549.0L517.6 549.0L518.3 549.0L519.0 549.0L519.7 549.0L520.4 549.0L521.1 549.0L521.8 549.0L522.5 549.0L523.2 549.0L523.9 549.0L524.6 549.0L525.3 549.0L526.0 549.0L526.7 548.9L527.4 548.9L528.1 548.9L528.8 548.9L529.5 548.9L530.2 548.9L530.9 548.8L531.6 548.8L532.3 548.8L533.0 548.7L533.7 548.7L534.4 548.6L535.1 548.5L535.8 548.5L536.5 548.4L537.2 548.2L537.9 548.1L538.6 548.0L539.3 547.8L540.0 547.6L540.7 547.4L541.4 547.2L542.1 546.9L542.8 546.6L543.5 546.2L544.2 545.8L544.9 545.4L545.6 544.9L546.3 544.4L547.0 543.8L547.7 543.1L548.4 542.4L549.1 541.6L549.8 540.7L550.5 539.7L551.2 538.6L551.9 537.5L552.6 536.2L553.3 534.9L554.0 533.4L554.7 531.9L555.4 530.2L556.1 528.4L556.8 526.6L557.5 524.6L558.2 522.5L558.9 520.2L559.6 517.9L560.3 515.5L561.0 512.9L561.7 510.3L562.4 507.6L563.1 504.8L563.8 501.9L564.5 499.0L565.2 496.0L565.9 492.9L566.6 489.9L567.3 486.8L568.0 483.7L568.7 480.7L569.4 477.7L570.1 474.7L570.8 471.8L571.5 468.9L572.2 466.2L572.9 463.6L573.6 461.1L574.3 458.8L575.0 456.6L575.7 454.6L576.4 452.8L577.1 451.2L577.8 449.8L578.5 448.6L579.2 447.6L579.9 446.9L580.6 446.4L581.3 446.2L582.0 446.2L582.7 446.4L583.4 446.9L584.1 447.6L584.8 448.6L585.5 449.7L586.2 451.1L586.9 452.7L587.6 454.5L588.3 456.4L589.0 458.5L589.7 460.8L590.4 463.2L591.1 465.8L591.8 468.4L592.5 471.2L593.2 474.0L593.9 476.8L594.6 479.8L595.3 482.7L596.0 485.7L596.7 488.7L597.4 491.6L598.1 494.5L598.8 497.4L599.5 500.3L600.2 503.1L600.9 505.8L601.6 508.5L602.3 511.0L603.0 513.5L603.7 515.9L604.4 518.2L605.1 520.4L605.8 522.5L606.5 524.5L607.2 526.4L607.9 528.2L608.6 529.9L609.3 531.5L610.0 533.0L610.7 534.4L611.4 535.7L612.1 536.9L612.8 538.0L613.5 539.1L614.2 540.1L614.9 540.9L615.6 541.8L616.3 542.5L617.0 543.2L617.7 543.8L618.4 544.4L619.1 544.9L619.8 545.3L620.5 545.8L621.2 546.1L621.9 546.5L622.6 546.8L623.3 547.1L624.0 547.3L624.7 547.5L625.4 547.7L626.1 547.9L626.8 548.0L627.5 548.1L628.2 548.3L628.9 548.4L629.6 548.5L630.3 548.5L631.0 548.6L631.7 548.7L632.4 548.7L633.1 548.7L633.8 548.8L634.5 548.8L635.2 548.8L635.9 548.9L636.6 548.9L637.3 548.9L638.0 548.9L638.7 548.9L639.4 548.9L640.1 549.0L640.8 549.0L641.5 549.0" stroke="#2a2f88" stroke-width="2.6" fill="none" stroke-dasharray="7 3.5"/>
<polyline points="371.5,669.9 372.2,674.7 373.0,676.0 373.7,675.3 374.5,677.5 375.2,667.8 376.0,670.4 376.7,665.9 377.5,661.1 378.2,663.6 379.0,666.9 379.7,663.5 380.5,667.4 381.2,673.6 382.0,673.3 382.7,675.2 383.5,676.5 384.2,677.0 385.0,674.7 385.7,682.2 386.5,678.2 387.2,681.9 388.0,682.0 388.7,682.8 389.5,683.3 391.0,684.6 391.7,682.4 392.5,684.5 393.2,681.7 394.7,682.4 395.5,683.1 396.2,684.1 397.7,682.3 398.5,683.3 400.0,684.6 400.7,684.2 401.5,684.3 402.2,684.2 403.7,684.5 404.5,685.6 405.2,684.7 406.0,685.2 406.7,686.1 407.5,685.5 408.2,683.9 409.0,684.0 409.7,684.8 410.5,683.3 411.2,682.0 412.0,682.8 412.7,684.4 413.5,683.6 414.2,683.5 415.0,684.7 415.7,683.0 416.5,686.6 417.2,684.5 418.0,684.3 418.7,686.8 419.5,683.7 420.2,684.4 421.0,684.8 422.5,684.3 423.2,685.1 424.0,684.5 424.7,684.1 426.2,685.8 427.0,685.5 427.7,681.8 428.5,685.4 429.2,684.8 430.0,684.4 430.7,683.0 431.5,683.4 432.2,683.5 433.0,682.1 434.5,684.2 435.2,683.2 436.0,682.3 436.7,684.6 437.5,683.9 438.2,684.4 439.0,682.9 439.7,685.7 440.5,683.1 441.2,685.2 442.0,681.1 442.7,683.3 443.5,683.0 444.2,680.2 445.0,682.0 445.7,681.4 447.2,681.9 448.0,681.6 448.7,683.3 450.2,683.5 451.0,682.5 451.7,682.9 452.5,685.1 453.2,683.1 454.0,683.5 454.7,683.0 456.2,684.6 457.7,684.0 458.5,684.2 460.0,683.9 461.5,683.2 462.2,683.9 463.0,682.0 466.7,681.3 467.5,681.9 468.2,683.2 469.0,683.1 469.7,684.1 471.2,682.7 472.0,681.3 472.7,682.2 473.5,681.9 474.2,683.5 475.0,683.8 475.7,685.7 476.5,682.9 477.2,684.1 478.0,684.1 478.7,684.2 480.2,686.6 481.0,684.4 481.7,684.6 484.0,686.4 484.7,683.3 485.5,684.3 486.2,683.9 487.0,684.2 487.7,685.0 488.5,683.3 489.2,681.8 490.0,683.8 490.7,682.5 492.2,683.7 493.0,685.6 493.7,684.1 494.5,682.7 495.2,684.0 496.0,684.8 496.7,683.9 498.2,683.6 499.0,683.4 499.7,682.8 500.5,684.9 501.2,684.1 502.0,682.2 502.7,684.8 503.5,683.8 504.2,684.1 505.7,685.4 507.2,684.2 508.0,684.7 508.7,683.9 510.2,682.4 511.0,683.9 511.7,685.1 513.2,683.2 514.0,684.2 514.7,684.3 515.4,684.6 516.9,684.9 517.7,682.6 518.4,683.7 519.2,682.7 519.9,683.7 520.7,685.2 522.2,685.9 522.9,684.9 523.7,684.6 524.4,684.5 525.2,682.8 525.9,683.5 526.7,684.3 528.2,684.5 529.7,682.8 530.4,682.7 531.2,685.7 531.9,683.6 532.7,684.5 534.2,683.2 534.9,682.9 535.7,682.6 536.4,682.9 537.2,683.6 537.9,681.5 539.4,682.5 540.9,683.5 541.7,684.4 543.9,683.9 544.7,683.7 545.4,681.3 546.2,683.6 546.9,682.9 547.7,683.1 548.4,684.6 549.2,683.1 549.9,684.6 550.7,685.5 551.4,684.1 552.2,683.8 552.9,687.0 553.7,683.6 554.4,685.9 555.2,683.7 555.9,684.5 556.7,683.6 557.4,684.3 558.2,684.2 558.9,682.8 559.7,683.9 560.4,685.2 561.2,683.1 561.9,681.2 562.6,684.4 563.4,682.7 564.1,684.2 564.8,682.8 565.5,681.8 567.0,683.2 567.7,683.0 568.4,679.7 569.1,679.5 569.7,679.9 571.7,680.8 572.3,682.5 572.9,687.0 573.5,678.6 574.1,680.0 574.7,683.1 575.2,681.9 575.8,680.5 576.3,672.7 576.8,674.9 577.3,662.4 577.8,670.1 578.2,667.5 578.7,666.3 579.1,674.4 579.6,666.0 580.0,664.9 580.5,669.1 580.9,674.8 581.4,657.2 581.8,665.4 582.3,656.7 582.7,645.7 583.2,650.0 583.6,654.0 584.1,647.4 584.5,643.7 585.0,645.1 585.4,641.1 585.9,639.2 586.3,630.8 586.8,642.4 587.2,615.3 587.7,633.7 588.1,622.0 588.6,634.0 589.0,613.5 589.5,612.1 589.9,628.1 590.4,633.9 590.8,605.0 591.3,629.3 591.7,628.3 592.2,614.3 592.6,630.8 593.1,611.9 593.5,629.8 594.0,628.1 594.4,604.9 594.9,601.4 595.3,602.6 595.8,595.1 596.2,589.8 596.7,597.7 597.1,626.2 597.6,615.1 598.0,605.2 598.5,593.0 598.9,610.5 599.4,607.9 599.8,589.9 600.3,602.9 600.7,587.2 601.2,595.8 601.6,593.8 602.1,616.6 602.5,590.8 603.0,583.9 603.4,590.7 603.9,580.0 604.3,600.0 604.8,620.6 605.2,608.0 605.7,600.4 606.1,603.7 606.6,607.5 607.0,602.5 607.5,601.4 607.9,610.3 608.4,614.5 608.8,605.7 609.3,616.3 609.7,599.1 610.2,592.5 610.6,594.5 611.1,617.7 611.5,605.5 612.0,613.8 612.4,606.5 612.9,611.8 613.3,618.9 613.8,604.3 614.2,615.0 614.7,639.6 615.1,647.6 615.6,633.8 616.0,637.7 616.5,633.7 616.9,632.7 617.4,652.6 617.8,659.1 618.3,655.0 618.7,657.6 619.2,648.6 619.6,665.0 620.1,658.6 620.5,652.3 621.0,665.5 621.4,652.2 621.9,652.0 622.3,660.7 622.8,653.9 623.2,655.1 623.7,667.3 624.1,666.0 624.6,663.8 625.0,672.0 625.5,670.6 625.9,675.5 626.4,676.7 626.8,677.4 627.3,668.4 627.7,678.5 628.2,674.7 628.7,676.8 629.2,675.3 629.7,678.8 630.2,675.5 630.8,675.0 631.3,680.0 631.9,677.8 632.5,676.2 633.1,680.4 633.7,680.9 634.3,681.4 634.9,682.4 635.6,681.3 636.2,681.3 637.6,680.6 638.3,682.9 639.0,682.2 639.7,680.4 640.4,680.5" stroke="#a0a0a0" stroke-width="0.6" fill="none"/>
<path d="M369.1 669.9a2.4 2.4 0 1 0 4.8 0a2.4 2.4 0 1 0 -4.8 0M369.8 674.7a2.4 2.4 0 1 0 4.8 0a2.4 2.4 0 1 0 -4.8 0M370.6 676.0a2.4 2.4 0 1 0 4.8 0a2.4 2.4 0 1 0 -4.8 0M371.3 675.3a2.4 2.4 0 1 0 4.8 0a2.4 2.4 0 1 0 -4.8 0M372.1 677.5a2.4 2.4 0 1 0 4.8 0a2.4 2.4 0 1 0 -4.8 0M372.8 667.8a2.4 2.4 0 1 0 4.8 0a2.4 2.4 0 1 0 -4.8 0M373.6 670.4a2.4 2.4 0 1 0 4.8 0a2.4 2.4 0 1 0 -4.8 0M374.3 665.9a2.4 2.4 0 1 0 4.8 0a2.4 2.4 0 1 0 -4.8 0M375.1 661.1a2.4 2.4 0 1 0 4.8 0a2.4 2.4 0 1 0 -4.8 0M375.8 663.6a2.4 2.4 0 1 0 4.8 0a2.4 2.4 0 1 0 -4.8 0M376.6 666.9a2.4 2.4 0 1 0 4.8 0a2.4 2.4 0 1 0 -4.8 0M377.3 663.5a2.4 2.4 0 1 0 4.8 0a2.4 2.4 0 1 0 -4.8 0M378.1 667.4a2.4 2.4 0 1 0 4.8 0a2.4 2.4 0 1 0 -4.8 0M378.8 673.6a2.4 2.4 0 1 0 4.8 0a2.4 2.4 0 1 0 -4.8 0M379.6 673.3a2.4 2.4 0 1 0 4.8 0a2.4 2.4 0 1 0 -4.8 0M380.3 675.2a2.4 2.4 0 1 0 4.8 0a2.4 2.4 0 1 0 -4.8 0M381.1 676.5a2.4 2.4 0 1 0 4.8 0a2.4 2.4 0 1 0 -4.8 0M381.8 677.0a2.4 2.4 0 1 0 4.8 0a2.4 2.4 0 1 0 -4.8 0M382.6 674.7a2.4 2.4 0 1 0 4.8 0a2.4 2.4 0 1 0 -4.8 0M383.3 682.2a2.4 2.4 0 1 0 4.8 0a2.4 2.4 0 1 0 -4.8 0M384.1 678.2a2.4 2.4 0 1 0 4.8 0a2.4 2.4 0 1 0 -4.8 0M384.8 681.9a2.4 2.4 0 1 0 4.8 0a2.4 2.4 0 1 0 -4.8 0M385.6 682.0a2.4 2.4 0 1 0 4.8 0a2.4 2.4 0 1 0 -4.8 0M386.3 682.8a2.4 2.4 0 1 0 4.8 0a2.4 2.4 0 1 0 -4.8 0M387.1 683.3a2.4 2.4 0 1 0 4.8 0a2.4 2.4 0 1 0 -4.8 0M388.6 684.6a2.4 2.4 0 1 0 4.8 0a2.4 2.4 0 1 0 -4.8 0M389.3 682.4a2.4 2.4 0 1 0 4.8 0a2.4 2.4 0 1 0 -4.8 0M390.1 684.5a2.4 2.4 0 1 0 4.8 0a2.4 2.4 0 1 0 -4.8 0M390.8 681.7a2.4 2.4 0 1 0 4.8 0a2.4 2.4 0 1 0 -4.8 0M392.3 682.4a2.4 2.4 0 1 0 4.8 0a2.4 2.4 0 1 0 -4.8 0M393.1 683.1a2.4 2.4 0 1 0 4.8 0a2.4 2.4 0 1 0 -4.8 0M393.8 684.1a2.4 2.4 0 1 0 4.8 0a2.4 2.4 0 1 0 -4.8 0M395.3 682.3a2.4 2.4 0 1 0 4.8 0a2.4 2.4 0 1 0 -4.8 0M396.1 683.3a2.4 2.4 0 1 0 4.8 0a2.4 2.4 0 1 0 -4.8 0M397.6 684.6a2.4 2.4 0 1 0 4.8 0a2.4 2.4 0 1 0 -4.8 0M398.3 684.2a2.4 2.4 0 1 0 4.8 0a2.4 2.4 0 1 0 -4.8 0M399.1 684.3a2.4 2.4 0 1 0 4.8 0a2.4 2.4 0 1 0 -4.8 0M399.8 684.2a2.4 2.4 0 1 0 4.8 0a2.4 2.4 0 1 0 -4.8 0M401.3 684.5a2.4 2.4 0 1 0 4.8 0a2.4 2.4 0 1 0 -4.8 0M402.1 685.6a2.4 2.4 0 1 0 4.8 0a2.4 2.4 0 1 0 -4.8 0M402.8 684.7a2.4 2.4 0 1 0 4.8 0a2.4 2.4 0 1 0 -4.8 0M403.6 685.2a2.4 2.4 0 1 0 4.8 0a2.4 2.4 0 1 0 -4.8 0M404.3 686.1a2.4 2.4 0 1 0 4.8 0a2.4 2.4 0 1 0 -4.8 0M405.1 685.5a2.4 2.4 0 1 0 4.8 0a2.4 2.4 0 1 0 -4.8 0M405.8 683.9a2.4 2.4 0 1 0 4.8 0a2.4 2.4 0 1 0 -4.8 0M406.6 684.0a2.4 2.4 0 1 0 4.8 0a2.4 2.4 0 1 0 -4.8 0M407.3 684.8a2.4 2.4 0 1 0 4.8 0a2.4 2.4 0 1 0 -4.8 0M408.1 683.3a2.4 2.4 0 1 0 4.8 0a2.4 2.4 0 1 0 -4.8 0M408.8 682.0a2.4 2.4 0 1 0 4.8 0a2.4 2.4 0 1 0 -4.8 0M409.6 682.8a2.4 2.4 0 1 0 4.8 0a2.4 2.4 0 1 0 -4.8 0M410.3 684.4a2.4 2.4 0 1 0 4.8 0a2.4 2.4 0 1 0 -4.8 0M411.1 683.6a2.4 2.4 0 1 0 4.8 0a2.4 2.4 0 1 0 -4.8 0M411.8 683.5a2.4 2.4 0 1 0 4.8 0a2.4 2.4 0 1 0 -4.8 0M412.6 684.7a2.4 2.4 0 1 0 4.8 0a2.4 2.4 0 1 0 -4.8 0M413.3 683.0a2.4 2.4 0 1 0 4.8 0a2.4 2.4 0 1 0 -4.8 0M414.1 686.6a2.4 2.4 0 1 0 4.8 0a2.4 2.4 0 1 0 -4.8 0M414.8 684.5a2.4 2.4 0 1 0 4.8 0a2.4 2.4 0 1 0 -4.8 0M415.6 684.3a2.4 2.4 0 1 0 4.8 0a2.4 2.4 0 1 0 -4.8 0M416.3 686.8a2.4 2.4 0 1 0 4.8 0a2.4 2.4 0 1 0 -4.8 0M417.1 683.7a2.4 2.4 0 1 0 4.8 0a2.4 2.4 0 1 0 -4.8 0M417.8 684.4a2.4 2.4 0 1 0 4.8 0a2.4 2.4 0 1 0 -4.8 0M418.6 684.8a2.4 2.4 0 1 0 4.8 0a2.4 2.4 0 1 0 -4.8 0M420.1 684.3a2.4 2.4 0 1 0 4.8 0a2.4 2.4 0 1 0 -4.8 0M420.8 685.1a2.4 2.4 0 1 0 4.8 0a2.4 2.4 0 1 0 -4.8 0M421.6 684.5a2.4 2.4 0 1 0 4.8 0a2.4 2.4 0 1 0 -4.8 0M422.3 684.1a2.4 2.4 0 1 0 4.8 0a2.4 2.4 0 1 0 -4.8 0M423.8 685.8a2.4 2.4 0 1 0 4.8 0a2.4 2.4 0 1 0 -4.8 0M424.6 685.5a2.4 2.4 0 1 0 4.8 0a2.4 2.4 0 1 0 -4.8 0M425.3 681.8a2.4 2.4 0 1 0 4.8 0a2.4 2.4 0 1 0 -4.8 0M426.1 685.4a2.4 2.4 0 1 0 4.8 0a2.4 2.4 0 1 0 -4.8 0M426.8 684.8a2.4 2.4 0 1 0 4.8 0a2.4 2.4 0 1 0 -4.8 0M427.6 684.4a2.4 2.4 0 1 0 4.8 0a2.4 2.4 0 1 0 -4.8 0M428.3 683.0a2.4 2.4 0 1 0 4.8 0a2.4 2.4 0 1 0 -4.8 0M429.1 683.4a2.4 2.4 0 1 0 4.8 0a2.4 2.4 0 1 0 -4.8 0M429.8 683.5a2.4 2.4 0 1 0 4.8 0a2.4 2.4 0 1 0 -4.8 0M430.6 682.1a2.4 2.4 0 1 0 4.8 0a2.4 2.4 0 1 0 -4.8 0M432.1 684.2a2.4 2.4 0 1 0 4.8 0a2.4 2.4 0 1 0 -4.8 0M432.8 683.2a2.4 2.4 0 1 0 4.8 0a2.4 2.4 0 1 0 -4.8 0M433.6 682.3a2.4 2.4 0 1 0 4.8 0a2.4 2.4 0 1 0 -4.8 0M434.3 684.6a2.4 2.4 0 1 0 4.8 0a2.4 2.4 0 1 0 -4.8 0M435.1 683.9a2.4 2.4 0 1 0 4.8 0a2.4 2.4 0 1 0 -4.8 0M435.8 684.4a2.4 2.4 0 1 0 4.8 0a2.4 2.4 0 1 0 -4.8 0M436.6 682.9a2.4 2.4 0 1 0 4.8 0a2.4 2.4 0 1 0 -4.8 0M437.3 685.7a2.4 2.4 0 1 0 4.8 0a2.4 2.4 0 1 0 -4.8 0M438.1 683.1a2.4 2.4 0 1 0 4.8 0a2.4 2.4 0 1 0 -4.8 0M438.8 685.2a2.4 2.4 0 1 0 4.8 0a2.4 2.4 0 1 0 -4.8 0M439.6 681.1a2.4 2.4 0 1 0 4.8 0a2.4 2.4 0 1 0 -4.8 0M440.3 683.3a2.4 2.4 0 1 0 4.8 0a2.4 2.4 0 1 0 -4.8 0M441.1 683.0a2.4 2.4 0 1 0 4.8 0a2.4 2.4 0 1 0 -4.8 0M441.8 680.2a2.4 2.4 0 1 0 4.8 0a2.4 2.4 0 1 0 -4.8 0M442.6 682.0a2.4 2.4 0 1 0 4.8 0a2.4 2.4 0 1 0 -4.8 0M443.3 681.4a2.4 2.4 0 1 0 4.8 0a2.4 2.4 0 1 0 -4.8 0M444.8 681.9a2.4 2.4 0 1 0 4.8 0a2.4 2.4 0 1 0 -4.8 0M445.6 681.6a2.4 2.4 0 1 0 4.8 0a2.4 2.4 0 1 0 -4.8 0M446.3 683.3a2.4 2.4 0 1 0 4.8 0a2.4 2.4 0 1 0 -4.8 0M447.8 683.5a2.4 2.4 0 1 0 4.8 0a2.4 2.4 0 1 0 -4.8 0M448.6 682.5a2.4 2.4 0 1 0 4.8 0a2.4 2.4 0 1 0 -4.8 0M449.3 682.9a2.4 2.4 0 1 0 4.8 0a2.4 2.4 0 1 0 -4.8 0M450.1 685.1a2.4 2.4 0 1 0 4.8 0a2.4 2.4 0 1 0 -4.8 0M450.8 683.1a2.4 2.4 0 1 0 4.8 0a2.4 2.4 0 1 0 -4.8 0M451.6 683.5a2.4 2.4 0 1 0 4.8 0a2.4 2.4 0 1 0 -4.8 0M452.3 683.0a2.4 2.4 0 1 0 4.8 0a2.4 2.4 0 1 0 -4.8 0M453.8 684.6a2.4 2.4 0 1 0 4.8 0a2.4 2.4 0 1 0 -4.8 0M455.3 684.0a2.4 2.4 0 1 0 4.8 0a2.4 2.4 0 1 0 -4.8 0M456.1 684.2a2.4 2.4 0 1 0 4.8 0a2.4 2.4 0 1 0 -4.8 0M457.6 683.9a2.4 2.4 0 1 0 4.8 0a2.4 2.4 0 1 0 -4.8 0M459.1 683.2a2.4 2.4 0 1 0 4.8 0a2.4 2.4 0 1 0 -4.8 0M459.8 683.9a2.4 2.4 0 1 0 4.8 0a2.4 2.4 0 1 0 -4.8 0M460.6 682.0a2.4 2.4 0 1 0 4.8 0a2.4 2.4 0 1 0 -4.8 0M464.3 681.3a2.4 2.4 0 1 0 4.8 0a2.4 2.4 0 1 0 -4.8 0M465.1 681.9a2.4 2.4 0 1 0 4.8 0a2.4 2.4 0 1 0 -4.8 0M465.8 683.2a2.4 2.4 0 1 0 4.8 0a2.4 2.4 0 1 0 -4.8 0M466.6 683.1a2.4 2.4 0 1 0 4.8 0a2.4 2.4 0 1 0 -4.8 0M467.3 684.1a2.4 2.4 0 1 0 4.8 0a2.4 2.4 0 1 0 -4.8 0M468.8 682.7a2.4 2.4 0 1 0 4.8 0a2.4 2.4 0 1 0 -4.8 0M469.6 681.3a2.4 2.4 0 1 0 4.8 0a2.4 2.4 0 1 0 -4.8 0M470.3 682.2a2.4 2.4 0 1 0 4.8 0a2.4 2.4 0 1 0 -4.8 0M471.1 681.9a2.4 2.4 0 1 0 4.8 0a2.4 2.4 0 1 0 -4.8 0M471.8 683.5a2.4 2.4 0 1 0 4.8 0a2.4 2.4 0 1 0 -4.8 0M472.6 683.8a2.4 2.4 0 1 0 4.8 0a2.4 2.4 0 1 0 -4.8 0M473.3 685.7a2.4 2.4 0 1 0 4.8 0a2.4 2.4 0 1 0 -4.8 0M474.1 682.9a2.4 2.4 0 1 0 4.8 0a2.4 2.4 0 1 0 -4.8 0M474.8 684.1a2.4 2.4 0 1 0 4.8 0a2.4 2.4 0 1 0 -4.8 0M475.6 684.1a2.4 2.4 0 1 0 4.8 0a2.4 2.4 0 1 0 -4.8 0M476.3 684.2a2.4 2.4 0 1 0 4.8 0a2.4 2.4 0 1 0 -4.8 0M477.8 686.6a2.4 2.4 0 1 0 4.8 0a2.4 2.4 0 1 0 -4.8 0M478.6 684.4a2.4 2.4 0 1 0 4.8 0a2.4 2.4 0 1 0 -4.8 0M479.3 684.6a2.4 2.4 0 1 0 4.8 0a2.4 2.4 0 1 0 -4.8 0M481.6 686.4a2.4 2.4 0 1 0 4.8 0a2.4 2.4 0 1 0 -4.8 0M482.3 683.3a2.4 2.4 0 1 0 4.8 0a2.4 2.4 0 1 0 -4.8 0M483.1 684.3a2.4 2.4 0 1 0 4.8 0a2.4 2.4 0 1 0 -4.8 0M483.8 683.9a2.4 2.4 0 1 0 4.8 0a2.4 2.4 0 1 0 -4.8 0M484.6 684.2a2.4 2.4 0 1 0 4.8 0a2.4 2.4 0 1 0 -4.8 0M485.3 685.0a2.4 2.4 0 1 0 4.8 0a2.4 2.4 0 1 0 -4.8 0M486.1 683.3a2.4 2.4 0 1 0 4.8 0a2.4 2.4 0 1 0 -4.8 0M486.8 681.8a2.4 2.4 0 1 0 4.8 0a2.4 2.4 0 1 0 -4.8 0M487.6 683.8a2.4 2.4 0 1 0 4.8 0a2.4 2.4 0 1 0 -4.8 0M488.3 682.5a2.4 2.4 0 1 0 4.8 0a2.4 2.4 0 1 0 -4.8 0M489.8 683.7a2.4 2.4 0 1 0 4.8 0a2.4 2.4 0 1 0 -4.8 0M490.6 685.6a2.4 2.4 0 1 0 4.8 0a2.4 2.4 0 1 0 -4.8 0M491.3 684.1a2.4 2.4 0 1 0 4.8 0a2.4 2.4 0 1 0 -4.8 0M492.1 682.7a2.4 2.4 0 1 0 4.8 0a2.4 2.4 0 1 0 -4.8 0M492.8 684.0a2.4 2.4 0 1 0 4.8 0a2.4 2.4 0 1 0 -4.8 0M493.6 684.8a2.4 2.4 0 1 0 4.8 0a2.4 2.4 0 1 0 -4.8 0M494.3 683.9a2.4 2.4 0 1 0 4.8 0a2.4 2.4 0 1 0 -4.8 0M495.8 683.6a2.4 2.4 0 1 0 4.8 0a2.4 2.4 0 1 0 -4.8 0M496.6 683.4a2.4 2.4 0 1 0 4.8 0a2.4 2.4 0 1 0 -4.8 0M497.3 682.8a2.4 2.4 0 1 0 4.8 0a2.4 2.4 0 1 0 -4.8 0M498.1 684.9a2.4 2.4 0 1 0 4.8 0a2.4 2.4 0 1 0 -4.8 0M498.8 684.1a2.4 2.4 0 1 0 4.8 0a2.4 2.4 0 1 0 -4.8 0M499.6 682.2a2.4 2.4 0 1 0 4.8 0a2.4 2.4 0 1 0 -4.8 0M500.3 684.8a2.4 2.4 0 1 0 4.8 0a2.4 2.4 0 1 0 -4.8 0M501.1 683.8a2.4 2.4 0 1 0 4.8 0a2.4 2.4 0 1 0 -4.8 0M501.8 684.1a2.4 2.4 0 1 0 4.8 0a2.4 2.4 0 1 0 -4.8 0M503.3 685.4a2.4 2.4 0 1 0 4.8 0a2.4 2.4 0 1 0 -4.8 0M504.8 684.2a2.4 2.4 0 1 0 4.8 0a2.4 2.4 0 1 0 -4.8 0M505.6 684.7a2.4 2.4 0 1 0 4.8 0a2.4 2.4 0 1 0 -4.8 0M506.3 683.9a2.4 2.4 0 1 0 4.8 0a2.4 2.4 0 1 0 -4.8 0M507.8 682.4a2.4 2.4 0 1 0 4.8 0a2.4 2.4 0 1 0 -4.8 0M508.6 683.9a2.4 2.4 0 1 0 4.8 0a2.4 2.4 0 1 0 -4.8 0M509.3 685.1a2.4 2.4 0 1 0 4.8 0a2.4 2.4 0 1 0 -4.8 0M510.8 683.2a2.4 2.4 0 1 0 4.8 0a2.4 2.4 0 1 0 -4.8 0M511.6 684.2a2.4 2.4 0 1 0 4.8 0a2.4 2.4 0 1 0 -4.8 0M512.3 684.3a2.4 2.4 0 1 0 4.8 0a2.4 2.4 0 1 0 -4.8 0M513.0 684.6a2.4 2.4 0 1 0 4.8 0a2.4 2.4 0 1 0 -4.8 0M514.5 684.9a2.4 2.4 0 1 0 4.8 0a2.4 2.4 0 1 0 -4.8 0M515.3 682.6a2.4 2.4 0 1 0 4.8 0a2.4 2.4 0 1 0 -4.8 0M516.0 683.7a2.4 2.4 0 1 0 4.8 0a2.4 2.4 0 1 0 -4.8 0M516.8 682.7a2.4 2.4 0 1 0 4.8 0a2.4 2.4 0 1 0 -4.8 0M517.5 683.7a2.4 2.4 0 1 0 4.8 0a2.4 2.4 0 1 0 -4.8 0M518.3 685.2a2.4 2.4 0 1 0 4.8 0a2.4 2.4 0 1 0 -4.8 0M519.8 685.9a2.4 2.4 0 1 0 4.8 0a2.4 2.4 0 1 0 -4.8 0M520.5 684.9a2.4 2.4 0 1 0 4.8 0a2.4 2.4 0 1 0 -4.8 0M521.3 684.6a2.4 2.4 0 1 0 4.8 0a2.4 2.4 0 1 0 -4.8 0M522.0 684.5a2.4 2.4 0 1 0 4.8 0a2.4 2.4 0 1 0 -4.8 0M522.8 682.8a2.4 2.4 0 1 0 4.8 0a2.4 2.4 0 1 0 -4.8 0M523.5 683.5a2.4 2.4 0 1 0 4.8 0a2.4 2.4 0 1 0 -4.8 0M524.3 684.3a2.4 2.4 0 1 0 4.8 0a2.4 2.4 0 1 0 -4.8 0M525.8 684.5a2.4 2.4 0 1 0 4.8 0a2.4 2.4 0 1 0 -4.8 0M527.3 682.8a2.4 2.4 0 1 0 4.8 0a2.4 2.4 0 1 0 -4.8 0M528.0 682.7a2.4 2.4 0 1 0 4.8 0a2.4 2.4 0 1 0 -4.8 0M528.8 685.7a2.4 2.4 0 1 0 4.8 0a2.4 2.4 0 1 0 -4.8 0M529.5 683.6a2.4 2.4 0 1 0 4.8 0a2.4 2.4 0 1 0 -4.8 0M530.3 684.5a2.4 2.4 0 1 0 4.8 0a2.4 2.4 0 1 0 -4.8 0M531.8 683.2a2.4 2.4 0 1 0 4.8 0a2.4 2.4 0 1 0 -4.8 0M532.5 682.9a2.4 2.4 0 1 0 4.8 0a2.4 2.4 0 1 0 -4.8 0M533.3 682.6a2.4 2.4 0 1 0 4.8 0a2.4 2.4 0 1 0 -4.8 0M534.0 682.9a2.4 2.4 0 1 0 4.8 0a2.4 2.4 0 1 0 -4.8 0M534.8 683.6a2.4 2.4 0 1 0 4.8 0a2.4 2.4 0 1 0 -4.8 0M535.5 681.5a2.4 2.4 0 1 0 4.8 0a2.4 2.4 0 1 0 -4.8 0M537.0 682.5a2.4 2.4 0 1 0 4.8 0a2.4 2.4 0 1 0 -4.8 0M538.5 683.5a2.4 2.4 0 1 0 4.8 0a2.4 2.4 0 1 0 -4.8 0M539.3 684.4a2.4 2.4 0 1 0 4.8 0a2.4 2.4 0 1 0 -4.8 0M541.5 683.9a2.4 2.4 0 1 0 4.8 0a2.4 2.4 0 1 0 -4.8 0M542.3 683.7a2.4 2.4 0 1 0 4.8 0a2.4 2.4 0 1 0 -4.8 0M543.0 681.3a2.4 2.4 0 1 0 4.8 0a2.4 2.4 0 1 0 -4.8 0M543.8 683.6a2.4 2.4 0 1 0 4.8 0a2.4 2.4 0 1 0 -4.8 0M544.5 682.9a2.4 2.4 0 1 0 4.8 0a2.4 2.4 0 1 0 -4.8 0M545.3 683.1a2.4 2.4 0 1 0 4.8 0a2.4 2.4 0 1 0 -4.8 0M546.0 684.6a2.4 2.4 0 1 0 4.8 0a2.4 2.4 0 1 0 -4.8 0M546.8 683.1a2.4 2.4 0 1 0 4.8 0a2.4 2.4 0 1 0 -4.8 0M547.5 684.6a2.4 2.4 0 1 0 4.8 0a2.4 2.4 0 1 0 -4.8 0M548.3 685.5a2.4 2.4 0 1 0 4.8 0a2.4 2.4 0 1 0 -4.8 0M549.0 684.1a2.4 2.4 0 1 0 4.8 0a2.4 2.4 0 1 0 -4.8 0M549.8 683.8a2.4 2.4 0 1 0 4.8 0a2.4 2.4 0 1 0 -4.8 0M550.5 687.0a2.4 2.4 0 1 0 4.8 0a2.4 2.4 0 1 0 -4.8 0M551.3 683.6a2.4 2.4 0 1 0 4.8 0a2.4 2.4 0 1 0 -4.8 0M552.0 685.9a2.4 2.4 0 1 0 4.8 0a2.4 2.4 0 1 0 -4.8 0M552.8 683.7a2.4 2.4 0 1 0 4.8 0a2.4 2.4 0 1 0 -4.8 0M553.5 684.5a2.4 2.4 0 1 0 4.8 0a2.4 2.4 0 1 0 -4.8 0M554.3 683.6a2.4 2.4 0 1 0 4.8 0a2.4 2.4 0 1 0 -4.8 0M555.0 684.3a2.4 2.4 0 1 0 4.8 0a2.4 2.4 0 1 0 -4.8 0M555.8 684.2a2.4 2.4 0 1 0 4.8 0a2.4 2.4 0 1 0 -4.8 0M556.5 682.8a2.4 2.4 0 1 0 4.8 0a2.4 2.4 0 1 0 -4.8 0M557.3 683.9a2.4 2.4 0 1 0 4.8 0a2.4 2.4 0 1 0 -4.8 0M558.0 685.2a2.4 2.4 0 1 0 4.8 0a2.4 2.4 0 1 0 -4.8 0M558.8 683.1a2.4 2.4 0 1 0 4.8 0a2.4 2.4 0 1 0 -4.8 0M559.5 681.2a2.4 2.4 0 1 0 4.8 0a2.4 2.4 0 1 0 -4.8 0M560.2 684.4a2.4 2.4 0 1 0 4.8 0a2.4 2.4 0 1 0 -4.8 0M561.0 682.7a2.4 2.4 0 1 0 4.8 0a2.4 2.4 0 1 0 -4.8 0M561.7 684.2a2.4 2.4 0 1 0 4.8 0a2.4 2.4 0 1 0 -4.8 0M562.4 682.8a2.4 2.4 0 1 0 4.8 0a2.4 2.4 0 1 0 -4.8 0M563.1 681.8a2.4 2.4 0 1 0 4.8 0a2.4 2.4 0 1 0 -4.8 0M564.6 683.2a2.4 2.4 0 1 0 4.8 0a2.4 2.4 0 1 0 -4.8 0M565.3 683.0a2.4 2.4 0 1 0 4.8 0a2.4 2.4 0 1 0 -4.8 0M566.0 679.7a2.4 2.4 0 1 0 4.8 0a2.4 2.4 0 1 0 -4.8 0M566.7 679.5a2.4 2.4 0 1 0 4.8 0a2.4 2.4 0 1 0 -4.8 0M567.3 679.9a2.4 2.4 0 1 0 4.8 0a2.4 2.4 0 1 0 -4.8 0M569.3 680.8a2.4 2.4 0 1 0 4.8 0a2.4 2.4 0 1 0 -4.8 0M569.9 682.5a2.4 2.4 0 1 0 4.8 0a2.4 2.4 0 1 0 -4.8 0M570.5 687.0a2.4 2.4 0 1 0 4.8 0a2.4 2.4 0 1 0 -4.8 0M571.1 678.6a2.4 2.4 0 1 0 4.8 0a2.4 2.4 0 1 0 -4.8 0M571.7 680.0a2.4 2.4 0 1 0 4.8 0a2.4 2.4 0 1 0 -4.8 0M572.3 683.1a2.4 2.4 0 1 0 4.8 0a2.4 2.4 0 1 0 -4.8 0M572.8 681.9a2.4 2.4 0 1 0 4.8 0a2.4 2.4 0 1 0 -4.8 0M573.4 680.5a2.4 2.4 0 1 0 4.8 0a2.4 2.4 0 1 0 -4.8 0M573.9 672.7a2.4 2.4 0 1 0 4.8 0a2.4 2.4 0 1 0 -4.8 0M574.4 674.9a2.4 2.4 0 1 0 4.8 0a2.4 2.4 0 1 0 -4.8 0M574.9 662.4a2.4 2.4 0 1 0 4.8 0a2.4 2.4 0 1 0 -4.8 0M575.4 670.1a2.4 2.4 0 1 0 4.8 0a2.4 2.4 0 1 0 -4.8 0M575.8 667.5a2.4 2.4 0 1 0 4.8 0a2.4 2.4 0 1 0 -4.8 0M576.3 666.3a2.4 2.4 0 1 0 4.8 0a2.4 2.4 0 1 0 -4.8 0M576.7 674.4a2.4 2.4 0 1 0 4.8 0a2.4 2.4 0 1 0 -4.8 0M577.2 666.0a2.4 2.4 0 1 0 4.8 0a2.4 2.4 0 1 0 -4.8 0M577.6 664.9a2.4 2.4 0 1 0 4.8 0a2.4 2.4 0 1 0 -4.8 0M578.1 669.1a2.4 2.4 0 1 0 4.8 0a2.4 2.4 0 1 0 -4.8 0M578.5 674.8a2.4 2.4 0 1 0 4.8 0a2.4 2.4 0 1 0 -4.8 0M579.0 657.2a2.4 2.4 0 1 0 4.8 0a2.4 2.4 0 1 0 -4.8 0M579.4 665.4a2.4 2.4 0 1 0 4.8 0a2.4 2.4 0 1 0 -4.8 0M579.9 656.7a2.4 2.4 0 1 0 4.8 0a2.4 2.4 0 1 0 -4.8 0M580.3 645.7a2.4 2.4 0 1 0 4.8 0a2.4 2.4 0 1 0 -4.8 0M580.8 650.0a2.4 2.4 0 1 0 4.8 0a2.4 2.4 0 1 0 -4.8 0M581.2 654.0a2.4 2.4 0 1 0 4.8 0a2.4 2.4 0 1 0 -4.8 0M581.7 647.4a2.4 2.4 0 1 0 4.8 0a2.4 2.4 0 1 0 -4.8 0M582.1 643.7a2.4 2.4 0 1 0 4.8 0a2.4 2.4 0 1 0 -4.8 0M582.6 645.1a2.4 2.4 0 1 0 4.8 0a2.4 2.4 0 1 0 -4.8 0M583.0 641.1a2.4 2.4 0 1 0 4.8 0a2.4 2.4 0 1 0 -4.8 0M583.5 639.2a2.4 2.4 0 1 0 4.8 0a2.4 2.4 0 1 0 -4.8 0M583.9 630.8a2.4 2.4 0 1 0 4.8 0a2.4 2.4 0 1 0 -4.8 0M584.4 642.4a2.4 2.4 0 1 0 4.8 0a2.4 2.4 0 1 0 -4.8 0M584.8 615.3a2.4 2.4 0 1 0 4.8 0a2.4 2.4 0 1 0 -4.8 0M585.3 633.7a2.4 2.4 0 1 0 4.8 0a2.4 2.4 0 1 0 -4.8 0M585.7 622.0a2.4 2.4 0 1 0 4.8 0a2.4 2.4 0 1 0 -4.8 0M586.2 634.0a2.4 2.4 0 1 0 4.8 0a2.4 2.4 0 1 0 -4.8 0M586.6 613.5a2.4 2.4 0 1 0 4.8 0a2.4 2.4 0 1 0 -4.8 0M587.1 612.1a2.4 2.4 0 1 0 4.8 0a2.4 2.4 0 1 0 -4.8 0M587.5 628.1a2.4 2.4 0 1 0 4.8 0a2.4 2.4 0 1 0 -4.8 0M588.0 633.9a2.4 2.4 0 1 0 4.8 0a2.4 2.4 0 1 0 -4.8 0M588.4 605.0a2.4 2.4 0 1 0 4.8 0a2.4 2.4 0 1 0 -4.8 0M588.9 629.3a2.4 2.4 0 1 0 4.8 0a2.4 2.4 0 1 0 -4.8 0M589.3 628.3a2.4 2.4 0 1 0 4.8 0a2.4 2.4 0 1 0 -4.8 0M589.8 614.3a2.4 2.4 0 1 0 4.8 0a2.4 2.4 0 1 0 -4.8 0M590.2 630.8a2.4 2.4 0 1 0 4.8 0a2.4 2.4 0 1 0 -4.8 0M590.7 611.9a2.4 2.4 0 1 0 4.8 0a2.4 2.4 0 1 0 -4.8 0M591.1 629.8a2.4 2.4 0 1 0 4.8 0a2.4 2.4 0 1 0 -4.8 0M591.6 628.1a2.4 2.4 0 1 0 4.8 0a2.4 2.4 0 1 0 -4.8 0M592.0 604.9a2.4 2.4 0 1 0 4.8 0a2.4 2.4 0 1 0 -4.8 0M592.5 601.4a2.4 2.4 0 1 0 4.8 0a2.4 2.4 0 1 0 -4.8 0M592.9 602.6a2.4 2.4 0 1 0 4.8 0a2.4 2.4 0 1 0 -4.8 0M593.4 595.1a2.4 2.4 0 1 0 4.8 0a2.4 2.4 0 1 0 -4.8 0M593.8 589.8a2.4 2.4 0 1 0 4.8 0a2.4 2.4 0 1 0 -4.8 0M594.3 597.7a2.4 2.4 0 1 0 4.8 0a2.4 2.4 0 1 0 -4.8 0M594.7 626.2a2.4 2.4 0 1 0 4.8 0a2.4 2.4 0 1 0 -4.8 0M595.2 615.1a2.4 2.4 0 1 0 4.8 0a2.4 2.4 0 1 0 -4.8 0M595.6 605.2a2.4 2.4 0 1 0 4.8 0a2.4 2.4 0 1 0 -4.8 0M596.1 593.0a2.4 2.4 0 1 0 4.8 0a2.4 2.4 0 1 0 -4.8 0M596.5 610.5a2.4 2.4 0 1 0 4.8 0a2.4 2.4 0 1 0 -4.8 0M597.0 607.9a2.4 2.4 0 1 0 4.8 0a2.4 2.4 0 1 0 -4.8 0M597.4 589.9a2.4 2.4 0 1 0 4.8 0a2.4 2.4 0 1 0 -4.8 0M597.9 602.9a2.4 2.4 0 1 0 4.8 0a2.4 2.4 0 1 0 -4.8 0M598.3 587.2a2.4 2.4 0 1 0 4.8 0a2.4 2.4 0 1 0 -4.8 0M598.8 595.8a2.4 2.4 0 1 0 4.8 0a2.4 2.4 0 1 0 -4.8 0M599.2 593.8a2.4 2.4 0 1 0 4.8 0a2.4 2.4 0 1 0 -4.8 0M599.7 616.6a2.4 2.4 0 1 0 4.8 0a2.4 2.4 0 1 0 -4.8 0M600.1 590.8a2.4 2.4 0 1 0 4.8 0a2.4 2.4 0 1 0 -4.8 0M600.6 583.9a2.4 2.4 0 1 0 4.8 0a2.4 2.4 0 1 0 -4.8 0M601.0 590.7a2.4 2.4 0 1 0 4.8 0a2.4 2.4 0 1 0 -4.8 0M601.5 580.0a2.4 2.4 0 1 0 4.8 0a2.4 2.4 0 1 0 -4.8 0M601.9 600.0a2.4 2.4 0 1 0 4.8 0a2.4 2.4 0 1 0 -4.8 0M602.4 620.6a2.4 2.4 0 1 0 4.8 0a2.4 2.4 0 1 0 -4.8 0M602.8 608.0a2.4 2.4 0 1 0 4.8 0a2.4 2.4 0 1 0 -4.8 0M603.3 600.4a2.4 2.4 0 1 0 4.8 0a2.4 2.4 0 1 0 -4.8 0M603.7 603.7a2.4 2.4 0 1 0 4.8 0a2.4 2.4 0 1 0 -4.8 0M604.2 607.5a2.4 2.4 0 1 0 4.8 0a2.4 2.4 0 1 0 -4.8 0M604.6 602.5a2.4 2.4 0 1 0 4.8 0a2.4 2.4 0 1 0 -4.8 0M605.1 601.4a2.4 2.4 0 1 0 4.8 0a2.4 2.4 0 1 0 -4.8 0M605.5 610.3a2.4 2.4 0 1 0 4.8 0a2.4 2.4 0 1 0 -4.8 0M606.0 614.5a2.4 2.4 0 1 0 4.8 0a2.4 2.4 0 1 0 -4.8 0M606.4 605.7a2.4 2.4 0 1 0 4.8 0a2.4 2.4 0 1 0 -4.8 0M606.9 616.3a2.4 2.4 0 1 0 4.8 0a2.4 2.4 0 1 0 -4.8 0M607.3 599.1a2.4 2.4 0 1 0 4.8 0a2.4 2.4 0 1 0 -4.8 0M607.8 592.5a2.4 2.4 0 1 0 4.8 0a2.4 2.4 0 1 0 -4.8 0M608.2 594.5a2.4 2.4 0 1 0 4.8 0a2.4 2.4 0 1 0 -4.8 0M608.7 617.7a2.4 2.4 0 1 0 4.8 0a2.4 2.4 0 1 0 -4.8 0M609.1 605.5a2.4 2.4 0 1 0 4.8 0a2.4 2.4 0 1 0 -4.8 0M609.6 613.8a2.4 2.4 0 1 0 4.8 0a2.4 2.4 0 1 0 -4.8 0M610.0 606.5a2.4 2.4 0 1 0 4.8 0a2.4 2.4 0 1 0 -4.8 0M610.5 611.8a2.4 2.4 0 1 0 4.8 0a2.4 2.4 0 1 0 -4.8 0M610.9 618.9a2.4 2.4 0 1 0 4.8 0a2.4 2.4 0 1 0 -4.8 0M611.4 604.3a2.4 2.4 0 1 0 4.8 0a2.4 2.4 0 1 0 -4.8 0M611.8 615.0a2.4 2.4 0 1 0 4.8 0a2.4 2.4 0 1 0 -4.8 0M612.3 639.6a2.4 2.4 0 1 0 4.8 0a2.4 2.4 0 1 0 -4.8 0M612.7 647.6a2.4 2.4 0 1 0 4.8 0a2.4 2.4 0 1 0 -4.8 0M613.2 633.8a2.4 2.4 0 1 0 4.8 0a2.4 2.4 0 1 0 -4.8 0M613.6 637.7a2.4 2.4 0 1 0 4.8 0a2.4 2.4 0 1 0 -4.8 0M614.1 633.7a2.4 2.4 0 1 0 4.8 0a2.4 2.4 0 1 0 -4.8 0M614.5 632.7a2.4 2.4 0 1 0 4.8 0a2.4 2.4 0 1 0 -4.8 0M615.0 652.6a2.4 2.4 0 1 0 4.8 0a2.4 2.4 0 1 0 -4.8 0M615.4 659.1a2.4 2.4 0 1 0 4.8 0a2.4 2.4 0 1 0 -4.8 0M615.9 655.0a2.4 2.4 0 1 0 4.8 0a2.4 2.4 0 1 0 -4.8 0M616.3 657.6a2.4 2.4 0 1 0 4.8 0a2.4 2.4 0 1 0 -4.8 0M616.8 648.6a2.4 2.4 0 1 0 4.8 0a2.4 2.4 0 1 0 -4.8 0M617.2 665.0a2.4 2.4 0 1 0 4.8 0a2.4 2.4 0 1 0 -4.8 0M617.7 658.6a2.4 2.4 0 1 0 4.8 0a2.4 2.4 0 1 0 -4.8 0M618.1 652.3a2.4 2.4 0 1 0 4.8 0a2.4 2.4 0 1 0 -4.8 0M618.6 665.5a2.4 2.4 0 1 0 4.8 0a2.4 2.4 0 1 0 -4.8 0M619.0 652.2a2.4 2.4 0 1 0 4.8 0a2.4 2.4 0 1 0 -4.8 0M619.5 652.0a2.4 2.4 0 1 0 4.8 0a2.4 2.4 0 1 0 -4.8 0M619.9 660.7a2.4 2.4 0 1 0 4.8 0a2.4 2.4 0 1 0 -4.8 0M620.4 653.9a2.4 2.4 0 1 0 4.8 0a2.4 2.4 0 1 0 -4.8 0M620.8 655.1a2.4 2.4 0 1 0 4.8 0a2.4 2.4 0 1 0 -4.8 0M621.3 667.3a2.4 2.4 0 1 0 4.8 0a2.4 2.4 0 1 0 -4.8 0M621.7 666.0a2.4 2.4 0 1 0 4.8 0a2.4 2.4 0 1 0 -4.8 0M622.2 663.8a2.4 2.4 0 1 0 4.8 0a2.4 2.4 0 1 0 -4.8 0M622.6 672.0a2.4 2.4 0 1 0 4.8 0a2.4 2.4 0 1 0 -4.8 0M623.1 670.6a2.4 2.4 0 1 0 4.8 0a2.4 2.4 0 1 0 -4.8 0M623.5 675.5a2.4 2.4 0 1 0 4.8 0a2.4 2.4 0 1 0 -4.8 0M624.0 676.7a2.4 2.4 0 1 0 4.8 0a2.4 2.4 0 1 0 -4.8 0M624.4 677.4a2.4 2.4 0 1 0 4.8 0a2.4 2.4 0 1 0 -4.8 0M624.9 668.4a2.4 2.4 0 1 0 4.8 0a2.4 2.4 0 1 0 -4.8 0M625.3 678.5a2.4 2.4 0 1 0 4.8 0a2.4 2.4 0 1 0 -4.8 0M625.8 674.7a2.4 2.4 0 1 0 4.8 0a2.4 2.4 0 1 0 -4.8 0M626.3 676.8a2.4 2.4 0 1 0 4.8 0a2.4 2.4 0 1 0 -4.8 0M626.8 675.3a2.4 2.4 0 1 0 4.8 0a2.4 2.4 0 1 0 -4.8 0M627.3 678.8a2.4 2.4 0 1 0 4.8 0a2.4 2.4 0 1 0 -4.8 0M627.8 675.5a2.4 2.4 0 1 0 4.8 0a2.4 2.4 0 1 0 -4.8 0M628.4 675.0a2.4 2.4 0 1 0 4.8 0a2.4 2.4 0 1 0 -4.8 0M628.9 680.0a2.4 2.4 0 1 0 4.8 0a2.4 2.4 0 1 0 -4.8 0M629.5 677.8a2.4 2.4 0 1 0 4.8 0a2.4 2.4 0 1 0 -4.8 0M630.1 676.2a2.4 2.4 0 1 0 4.8 0a2.4 2.4 0 1 0 -4.8 0M630.7 680.4a2.4 2.4 0 1 0 4.8 0a2.4 2.4 0 1 0 -4.8 0M631.3 680.9a2.4 2.4 0 1 0 4.8 0a2.4 2.4 0 1 0 -4.8 0M631.9 681.4a2.4 2.4 0 1 0 4.8 0a2.4 2.4 0 1 0 -4.8 0M632.5 682.4a2.4 2.4 0 1 0 4.8 0a2.4 2.4 0 1 0 -4.8 0M633.2 681.3a2.4 2.4 0 1 0 4.8 0a2.4 2.4 0 1 0 -4.8 0M633.8 681.3a2.4 2.4 0 1 0 4.8 0a2.4 2.4 0 1 0 -4.8 0M635.2 680.6a2.4 2.4 0 1 0 4.8 0a2.4 2.4 0 1 0 -4.8 0M635.9 682.9a2.4 2.4 0 1 0 4.8 0a2.4 2.4 0 1 0 -4.8 0M636.6 682.2a2.4 2.4 0 1 0 4.8 0a2.4 2.4 0 1 0 -4.8 0M637.3 680.4a2.4 2.4 0 1 0 4.8 0a2.4 2.4 0 1 0 -4.8 0M638.0 680.5a2.4 2.4 0 1 0 4.8 0a2.4 2.4 0 1 0 -4.8 0" stroke="#888" stroke-width="1.4" fill="#fff"/>
<line x1="601.5" y1="576" x2="601.5" y2="619" stroke="#8c8c8c" stroke-width="1.2"/>
<circle cx="601.5" cy="619" r="2.1" stroke="#888" stroke-width="1.2" fill="#fff"/>
<path d="M371.3 670.5L372.0 670.5L372.7 670.5L373.4 670.5L374.1 670.6L374.8 670.6L375.5 670.6L376.2 670.7L376.9 670.7L377.6 670.8L378.3 671.0L379.0 671.2L379.7 671.4L380.4 671.8L381.1 672.2L381.8 672.9L382.5 673.7L383.2 674.7L383.9 675.9L384.6 677.3L385.3 678.8L386.0 680.3L386.7 681.8L387.4 683.1L388.1 684.3L388.8 685.2L389.5 685.9L390.2 686.5L390.9 686.9L391.6 687.2L392.3 687.4L393.0 687.6L393.7 687.7L394.4 687.8L395.1 687.9L395.8 687.9L396.5 687.9L397.2 687.9L397.9 688.0L398.6 688.0L399.3 688.0L400.0 688.0L400.7 688.0L401.4 688.0L402.1 688.0L402.8 688.0L403.5 688.0L404.2 688.0L404.9 688.0L405.6 688.0L406.3 688.0L407.0 688.0L407.7 688.0L408.4 688.0L409.1 688.0L409.8 688.0L410.5 688.0L411.2 688.0L411.9 688.0L412.6 688.0L413.3 688.0L414.0 688.0L414.7 688.0L415.4 688.0L416.1 688.0L416.8 688.0L417.5 688.0L418.2 688.0L418.9 688.0L419.6 688.0L420.3 688.0L421.0 688.0L421.7 688.0L422.4 688.0L423.1 688.0L423.8 688.0L424.5 688.0L425.2 688.0L425.9 688.0L426.6 688.0L427.3 688.0L428.0 688.0L428.7 688.0L429.4 688.0L430.1 688.0L430.8 688.0L431.5 688.0L432.2 688.0L432.9 688.0L433.6 688.0L434.3 688.0L435.0 688.0L435.7 688.0L436.4 688.0L437.1 688.0L437.8 688.0L438.5 688.0L439.2 688.0L439.9 688.0L440.6 688.0L441.3 688.0L442.0 688.0L442.7 688.0L443.4 688.0L444.1 688.0L444.8 688.0L445.5 688.0L446.2 688.0L446.9 688.0L447.6 688.0L448.3 688.0L449.0 688.0L449.7 688.0L450.4 688.0L451.1 688.0L451.8 688.0L452.5 688.0L453.2 688.0L453.9 688.0L454.6 688.0L455.3 688.0L456.0 688.0L456.7 688.0L457.4 688.0L458.1 688.0L458.8 688.0L459.5 688.0L460.2 688.0L460.9 688.0L461.6 688.0L462.3 688.0L463.0 688.0L463.7 688.0L464.4 688.0L465.1 688.0L465.8 688.0L466.5 688.0L467.2 688.0L467.9 688.0L468.6 688.0L469.3 688.0L470.0 688.0L470.7 688.0L471.4 688.0L472.1 688.0L472.8 688.0L473.5 688.0L474.2 688.0L474.9 688.0L475.6 688.0L476.3 688.0L477.0 688.0L477.7 688.0L478.4 688.0L479.1 688.0L479.8 688.0L480.5 688.0L481.2 688.0L481.9 688.0L482.6 688.0L483.3 688.0L484.0 688.0L484.7 688.0L485.4 688.0L486.1 688.0L486.8 688.0L487.5 688.0L488.2 688.0L488.9 688.0L489.6 688.0L490.3 688.0L491.0 688.0L491.7 688.0L492.4 688.0L493.1 688.0L493.8 688.0L494.5 688.0L495.2 688.0L495.9 688.0L496.6 688.0L497.3 688.0L498.0 688.0L498.7 688.0L499.4 688.0L500.1 688.0L500.8 688.0L501.5 688.0L502.2 688.0L502.9 688.0L503.6 688.0L504.3 688.0L505.0 688.0L505.7 688.0L506.4 688.0L507.1 688.0L507.8 688.0L508.5 688.0L509.2 688.0L509.9 688.0L510.6 688.0L511.3 688.0L512.0 688.0L512.7 688.0L513.4 688.0L514.1 688.0L514.8 688.0L515.5 688.0L516.2 688.0L516.9 688.0L517.6 688.0L518.3 688.0L519.0 688.0L519.7 688.0L520.4 688.0L521.1 688.0L521.8 688.0L522.5 688.0L523.2 688.0L523.9 688.0L524.6 688.0L525.3 688.0L526.0 688.0L526.7 688.0L527.4 688.0L528.1 688.0L528.8 688.0L529.5 688.0L530.2 688.0L530.9 688.0L531.6 688.0L532.3 688.0L533.0 688.0L533.7 688.0L534.4 688.0L535.1 688.0L535.8 688.0L536.5 688.0L537.2 688.0L537.9 688.0L538.6 688.0L539.3 688.0L540.0 688.0L540.7 688.0L541.4 688.0L542.1 688.0L542.8 688.0L543.5 688.0L544.2 688.0L544.9 688.0L545.6 688.0L546.3 688.0L547.0 688.0L547.7 688.0L548.4 688.0L549.1 688.0L549.8 688.0L550.5 688.0L551.2 688.0L551.9 688.0L552.6 688.0L553.3 688.0L554.0 688.0L554.7 688.0L555.4 688.0L556.1 688.0L556.8 688.0L557.5 688.0L558.2 687.9L558.9 687.9L559.6 687.9L560.3 687.9L561.0 687.9L561.7 687.8L562.4 687.8L563.1 687.8L563.8 687.7L564.5 687.6L565.2 687.6L565.9 687.5L566.6 687.4L567.3 687.2L568.0 687.1L568.7 686.9L569.4 686.7L570.1 686.5L570.8 686.2L571.5 685.9L572.2 685.6L572.9 685.2L573.6 684.7L574.3 684.2L575.0 683.7L575.7 683.1L576.4 682.4L577.1 681.7L577.8 680.9L578.5 680.0L579.2 679.0L579.9 678.0L580.6 676.9L581.3 675.8L582.0 674.5L582.7 673.3L583.4 671.9L584.1 670.5L584.8 669.0L585.5 667.6L586.2 666.0L586.9 664.5L587.6 663.0L588.3 661.5L589.0 659.9L589.7 658.5L590.4 657.0L591.1 655.7L591.8 654.4L592.5 653.2L593.2 652.1L593.9 651.1L594.6 650.3L595.3 649.6L596.0 649.0L596.7 648.6L597.4 648.3L598.1 648.2L598.8 648.3L599.5 648.5L600.2 648.9L600.9 649.4L601.6 650.1L602.3 650.9L603.0 651.8L603.7 652.9L604.4 654.0L605.1 655.3L605.8 656.7L606.5 658.1L607.2 659.5L607.9 661.0L608.6 662.5L609.3 664.1L610.0 665.6L610.7 667.1L611.4 668.6L612.1 670.1L612.8 671.5L613.5 672.9L614.2 674.2L614.9 675.4L615.6 676.6L616.3 677.7L617.0 678.8L617.7 679.7L618.4 680.6L619.1 681.5L619.8 682.2L620.5 682.9L621.2 683.5L621.9 684.1L622.6 684.6L623.3 685.1L624.0 685.5L624.7 685.8L625.4 686.1L626.1 686.4L626.8 686.6L627.5 686.9L628.2 687.0L628.9 687.2L629.6 687.3L630.3 687.4L631.0 687.5L631.7 687.6L632.4 687.7L633.1 687.7L633.8 687.8L634.5 687.8L635.2 687.9L635.9 687.9L636.6 687.9L637.3 687.9L638.0 687.9L638.7 688.0L639.4 688.0L640.1 688.0L640.8 688.0L641.5 688.0" stroke="#d92b2b" stroke-width="2.6" fill="none"/>
<path d="M371.3 670.5L372.0 670.5L372.7 670.5L373.4 670.5L374.1 670.6L374.8 670.6L375.5 670.6L376.2 670.7L376.9 670.7L377.6 670.8L378.3 671.0L379.0 671.2L379.7 671.4L380.4 671.8L381.1 672.2L381.8 672.9L382.5 673.7L383.2 674.7L383.9 675.9L384.6 677.3L385.3 678.8L386.0 680.3L386.7 681.8L387.4 683.1L388.1 684.3L388.8 685.2L389.5 685.9L390.2 686.5L390.9 686.9L391.6 687.2L392.3 687.4L393.0 687.6L393.7 687.7L394.4 687.8L395.1 687.9L395.8 687.9L396.5 687.9L397.2 687.9L397.9 688.0L398.6 688.0L399.3 688.0L400.0 688.0L400.7 688.0L401.4 688.0L402.1 688.0L402.8 688.0L403.5 688.0L404.2 688.0L404.9 688.0L405.6 688.0L406.3 688.0L407.0 688.0L407.7 688.0L408.4 688.0L409.1 688.0L409.8 688.0L410.5 688.0L411.2 688.0L411.9 688.0L412.6 688.0L413.3 688.0L414.0 688.0L414.7 688.0L415.4 688.0L416.1 688.0L416.8 688.0L417.5 688.0L418.2 688.0L418.9 688.0L419.6 688.0L420.3 688.0L421.0 688.0L421.7 688.0L422.4 688.0L423.1 688.0L423.8 688.0L424.5 688.0L425.2 688.0L425.9 688.0L426.6 688.0L427.3 688.0L428.0 688.0L428.7 688.0L429.4 688.0L430.1 688.0L430.8 688.0L431.5 688.0L432.2 688.0L432.9 688.0L433.6 688.0L434.3 688.0L435.0 688.0L435.7 688.0L436.4 688.0L437.1 688.0L437.8 688.0L438.5 688.0L439.2 688.0L439.9 688.0L440.6 688.0L441.3 688.0L442.0 688.0L442.7 688.0L443.4 688.0L444.1 688.0L444.8 688.0L445.5 688.0L446.2 688.0L446.9 688.0L447.6 688.0L448.3 688.0L449.0 688.0L449.7 688.0L450.4 688.0L451.1 688.0L451.8 688.0L452.5 688.0L453.2 688.0L453.9 688.0L454.6 688.0L455.3 688.0L456.0 688.0L456.7 688.0L457.4 688.0L458.1 688.0L458.8 688.0L459.5 688.0L460.2 688.0L460.9 688.0L461.6 688.0L462.3 688.0L463.0 688.0L463.7 688.0L464.4 688.0L465.1 688.0L465.8 688.0L466.5 688.0L467.2 688.0L467.9 688.0L468.6 688.0L469.3 688.0L470.0 688.0L470.7 688.0L471.4 688.0L472.1 688.0L472.8 688.0L473.5 688.0L474.2 688.0L474.9 688.0L475.6 688.0L476.3 688.0L477.0 688.0L477.7 688.0L478.4 688.0L479.1 688.0L479.8 688.0L480.5 688.0L481.2 688.0L481.9 688.0L482.6 688.0L483.3 688.0L484.0 688.0L484.7 688.0L485.4 688.0L486.1 688.0L486.8 688.0L487.5 688.0L488.2 688.0L488.9 688.0L489.6 688.0L490.3 688.0L491.0 688.0L491.7 688.0L492.4 688.0L493.1 688.0L493.8 688.0L494.5 688.0L495.2 688.0L495.9 688.0L496.6 688.0L497.3 688.0L498.0 688.0L498.7 688.0L499.4 688.0L500.1 688.0L500.8 688.0L501.5 688.0L502.2 688.0L502.9 688.0L503.6 688.0L504.3 688.0L505.0 688.0L505.7 688.0L506.4 688.0L507.1 688.0L507.8 688.0L508.5 688.0L509.2 688.0L509.9 688.0L510.6 688.0L511.3 688.0L512.0 688.0L512.7 688.0L513.4 688.0L514.1 688.0L514.8 688.0L515.5 688.0L516.2 688.0L516.9 688.0L517.6 688.0L518.3 688.0L519.0 688.0L519.7 688.0L520.4 688.0L521.1 688.0L521.8 688.0L522.5 688.0L523.2 688.0L523.9 688.0L524.6 688.0L525.3 688.0L526.0 688.0L526.7 688.0L527.4 688.0L528.1 688.0L528.8 688.0L529.5 688.0L530.2 688.0L530.9 688.0L531.6 688.0L532.3 688.0L533.0 688.0L533.7 688.0L534.4 688.0L535.1 688.0L535.8 688.0L536.5 688.0L537.2 688.0L537.9 688.0L538.6 688.0L539.3 688.0L540.0 688.0L540.7 688.0L541.4 688.0L542.1 688.0L542.8 688.0L543.5 688.0L544.2 688.0L544.9 688.0L545.6 688.0L546.3 688.0L547.0 688.0L547.7 688.0L548.4 688.0L549.1 688.0L549.8 688.0L550.5 688.0L551.2 688.0L551.9 688.0L552.6 688.0L553.3 688.0L554.0 688.0L554.7 688.0L555.4 688.0L556.1 687.9L556.8 687.9L557.5 687.9L558.2 687.9L558.9 687.9L559.6 687.8L560.3 687.8L561.0 687.7L561.7 687.7L562.4 687.6L563.1 687.5L563.8 687.4L564.5 687.3L565.2 687.1L565.9 686.9L566.6 686.7L567.3 686.5L568.0 686.2L568.7 685.9L569.4 685.5L570.1 685.1L570.8 684.6L571.5 684.0L572.2 683.4L572.9 682.6L573.6 681.8L574.3 680.9L575.0 679.9L575.7 678.7L576.4 677.5L577.1 676.1L577.8 674.5L578.5 672.9L579.2 671.0L579.9 669.1L580.6 666.9L581.3 664.6L582.0 662.2L582.7 659.6L583.4 656.9L584.1 654.0L584.8 651.0L585.5 647.8L586.2 644.6L586.9 641.2L587.6 637.8L588.3 634.3L589.0 630.7L589.7 627.2L590.4 623.6L591.1 620.1L591.8 616.6L592.5 613.2L593.2 609.9L593.9 606.7L594.6 603.7L595.3 600.9L596.0 598.3L596.7 595.9L597.4 593.7L598.1 591.9L598.8 590.3L599.5 589.0L600.2 588.0L600.9 587.4L601.6 587.0L602.3 587.0L603.0 587.3L603.7 587.9L604.4 588.8L605.1 590.0L605.8 591.5L606.5 593.3L607.2 595.3L607.9 597.5L608.6 600.0L609.3 602.6L610.0 605.4L610.7 608.4L611.4 611.5L612.1 614.6L612.8 617.9L613.5 621.1L614.2 624.5L614.9 627.8L615.6 631.1L616.3 634.4L617.0 637.6L617.7 640.8L618.4 643.9L619.1 646.9L619.8 649.8L620.5 652.6L621.2 655.3L621.9 657.9L622.6 660.3L623.3 662.7L624.0 664.9L624.7 666.9L625.4 668.8L626.1 670.6L626.8 672.3L627.5 673.9L628.2 675.3L628.9 676.6L629.6 677.8L630.3 679.0L631.0 680.0L631.7 680.9L632.4 681.7L633.1 682.5L633.8 683.1L634.5 683.7L635.2 684.3L635.9 684.8L636.6 685.2L637.3 685.6L638.0 685.9L638.7 686.2L639.4 686.5L640.1 686.7L640.8 686.9L641.5 687.0" stroke="#2a2f88" stroke-width="2.6" fill="none" stroke-dasharray="7 3.5"/>
<text style="font-family:'Liberation Sans', sans-serif;fill:#232323;font-size:15.5px" x="79.8" y="712.9" text-anchor="middle">95</text>
<text style="font-family:'Liberation Sans', sans-serif;fill:#232323;font-size:15.5px" x="118.8" y="712.9" text-anchor="middle">100</text>
<text style="font-family:'Liberation Sans', sans-serif;fill:#232323;font-size:15.5px" x="157.6" y="712.9" text-anchor="middle">105</text>
<text style="font-family:'Liberation Sans', sans-serif;fill:#232323;font-size:15.5px" x="196.6" y="712.9" text-anchor="middle">110</text>
<text style="font-family:'Liberation Sans', sans-serif;fill:#232323;font-size:15.5px" x="235.4" y="712.9" text-anchor="middle">115</text>
<text style="font-family:'Liberation Sans', sans-serif;fill:#232323;font-size:15.5px" x="274.4" y="712.9" text-anchor="middle">120</text>
<text style="font-family:'Liberation Sans', sans-serif;fill:#232323;font-size:15.5px" x="313.2" y="712.9" text-anchor="middle">125</text>
<text style="font-family:'Liberation Sans', sans-serif;fill:#232323;font-size:15.5px" x="392.8" y="712.9" text-anchor="middle">95</text>
<text style="font-family:'Liberation Sans', sans-serif;fill:#232323;font-size:15.5px" x="431.8" y="712.9" text-anchor="middle">100</text>
<text style="font-family:'Liberation Sans', sans-serif;fill:#232323;font-size:15.5px" x="470.8" y="712.9" text-anchor="middle">105</text>
<text style="font-family:'Liberation Sans', sans-serif;fill:#232323;font-size:15.5px" x="509.8" y="712.9" text-anchor="middle">110</text>
<text style="font-family:'Liberation Sans', sans-serif;fill:#232323;font-size:15.5px" x="548.7" y="712.9" text-anchor="middle">115</text>
<text style="font-family:'Liberation Sans', sans-serif;fill:#232323;font-size:15.5px" x="587.7" y="712.9" text-anchor="middle">120</text>
<text style="font-family:'Liberation Sans', sans-serif;fill:#232323;font-size:15.5px" x="626.7" y="712.9" text-anchor="middle">125</text>
<text style="font-family:'Liberation Sans', sans-serif;fill:#232323;font-size:20.75px" transform="translate(31.3 495.1) rotate(-90)" text-anchor="middle">Scattering Intensity (a. u.)</text>
<text style="font-family:'Liberation Sans', sans-serif;font-weight:bold;fill:#232323;font-size:35.07px;stroke:#232323;stroke-width:0.8px;stroke-linejoin:round" x="17.53" y="42.24" textLength="62.89" lengthAdjust="spacingAndGlyphs">SiO</text>
<text style="font-family:'Liberation Sans', sans-serif;font-weight:bold;fill:#232323;font-size:28.56px;stroke:#232323;stroke-width:0.6px;stroke-linejoin:round" x="79.57" y="55.25" textLength="14.38" lengthAdjust="spacingAndGlyphs">2</text>
<text style="font-family:'Liberation Sans', sans-serif;font-weight:bold;fill:#232323;font-size:36.23px;stroke:#232323;stroke-width:0.8px;stroke-linejoin:round" x="103.73" y="41.48" textLength="203.98" lengthAdjust="spacingAndGlyphs">(sputtering)</text>
<text style="font-family:'Liberation Sans', sans-serif;font-weight:bold;fill:#232323;font-size:34.50px;stroke:#232323;stroke-width:0.8px;stroke-linejoin:round" x="17.36" y="238.68" textLength="61.63" lengthAdjust="spacingAndGlyphs">SiO</text>
<text style="font-family:'Liberation Sans', sans-serif;font-weight:bold;fill:#232323;font-size:27.59px;stroke:#232323;stroke-width:0.6px;stroke-linejoin:round" x="79.55" y="251.79" textLength="14.64" lengthAdjust="spacingAndGlyphs">2</text>
<text style="font-family:'Liberation Sans', sans-serif;font-weight:bold;fill:#232323;font-size:34.87px;stroke:#232323;stroke-width:0.8px;stroke-linejoin:round" x="500.98" y="34.50" textLength="73.14" lengthAdjust="spacingAndGlyphs">(SiO</text>
<text style="font-family:'Liberation Sans', sans-serif;font-weight:bold;fill:#232323;font-size:27.38px;stroke:#232323;stroke-width:0.6px;stroke-linejoin:round" x="572.72" y="52.08" textLength="14.91" lengthAdjust="spacingAndGlyphs">2</text>
<text style="font-family:'Liberation Sans', sans-serif;font-weight:bold;fill:#232323;font-size:34.87px;stroke:#232323;stroke-width:0.8px;stroke-linejoin:round" x="587.41" y="34.50" textLength="10.24" lengthAdjust="spacingAndGlyphs">)</text>
<text style="font-family:'Liberation Sans', sans-serif;font-weight:bold;fill:#232323;font-size:16.47px;stroke:#232323;stroke-width:0.3px;stroke-linejoin:round" x="595.83" y="52.04" textLength="13.12" lengthAdjust="spacingAndGlyphs">X</text>
<text style="font-family:'Liberation Sans', sans-serif;font-weight:bold;fill:#232323;font-size:35.49px;stroke:#232323;stroke-width:0.8px;stroke-linejoin:round" x="618.91" y="35.12" textLength="49.47" lengthAdjust="spacingAndGlyphs">Au</text>
<text style="font-family:'Liberation Sans', sans-serif;font-weight:bold;fill:#232323;font-size:16.47px;stroke:#232323;stroke-width:0.3px;stroke-linejoin:round" x="668.94" y="52.04" textLength="12.94" lengthAdjust="spacingAndGlyphs">Y</text>
<text style="font-family:'Liberation Sans', sans-serif;font-weight:bold;fill:#232323;font-size:34.15px;stroke:#232323;stroke-width:0.8px;stroke-linejoin:round" x="550.11" y="131.46" textLength="22.12" lengthAdjust="spacingAndGlyphs">h</text>
<text style="font-family:'Liberation Sans', sans-serif;font-weight:bold;fill:#232323;font-size:24.91px" x="420.39" y="225.58" textLength="30.54" lengthAdjust="spacingAndGlyphs">(a)</text>
<text style="font-family:'Liberation Sans', sans-serif;font-weight:bold;fill:#232323;font-size:23.70px" x="69.12" y="329.96" textLength="31.33" lengthAdjust="spacingAndGlyphs">(b)</text>
<text style="font-family:'Liberation Sans', sans-serif;font-weight:bold;fill:#232323;font-size:22.62px" x="70.36" y="477.12" textLength="29.28" lengthAdjust="spacingAndGlyphs">(c)</text>
<text style="font-family:'Liberation Sans', sans-serif;font-weight:bold;fill:#232323;font-size:25.03px" x="231.72" y="582.00" textLength="31.02" lengthAdjust="spacingAndGlyphs">(d)</text>
<text style="font-family:'Liberation Sans', sans-serif;font-weight:bold;fill:#232323;font-size:26.10px" x="388.95" y="331.08" textLength="30.58" lengthAdjust="spacingAndGlyphs">(e)</text>
<text style="font-family:'Liberation Sans', sans-serif;font-weight:bold;fill:#232323;font-size:24.76px" x="390.70" y="477.24" textLength="26.41" lengthAdjust="spacingAndGlyphs">(f)</text>
<text style="font-family:'Liberation Sans', sans-serif;font-weight:bold;fill:#232323;font-size:22.18px" x="551.37" y="583.86" textLength="28.79" lengthAdjust="spacingAndGlyphs">(g)</text>
<text style="font-family:'Liberation Sans', sans-serif;font-weight:bold;fill:#232323;font-size:23.98px" x="268.08" y="313.62" textLength="38.27" lengthAdjust="spacingAndGlyphs">25s</text>
<text style="font-family:'Liberation Sans', sans-serif;font-weight:bold;fill:#232323;font-size:24.75px" x="580.86" y="313.82" textLength="38.59" lengthAdjust="spacingAndGlyphs">50s</text>
<text style="font-family:'Liberation Sans', sans-serif;fill:#232323;font-size:23.34px" x="128.39" y="749.29" textLength="129.69" lengthAdjust="spacingAndGlyphs">Energy (keV)</text>
<text style="font-family:'Liberation Sans', sans-serif;fill:#232323;font-size:23.48px" x="441.80" y="749.23" textLength="129.53" lengthAdjust="spacingAndGlyphs">Energy (keV)</text>
<text style="font-family:'Liberation Sans', sans-serif;fill:#232323;font-size:13.15px" x="124.92" y="605.33" textLength="78.64" lengthAdjust="spacingAndGlyphs">Experimental</text>
<text style="font-family:'Liberation Sans', sans-serif;fill:#232323;font-size:12.50px" x="438.00" y="605.73" textLength="79.19" lengthAdjust="spacingAndGlyphs">Experimental</text>
<text style="font-family:'Liberation Sans', sans-serif;fill:#232323;font-size:11.72px" x="120.12" y="641.98" textLength="26.52" lengthAdjust="spacingAndGlyphs">NPs</text>
<text style="font-family:'Liberation Sans', sans-serif;fill:#232323;font-size:12.11px" x="433.35" y="642.20" textLength="26.69" lengthAdjust="spacingAndGlyphs">NPs</text>
<text style="font-family:'Liberation Sans', sans-serif;fill:#232323;font-size:13.54px" x="120.35" y="658.07" textLength="118.12" lengthAdjust="spacingAndGlyphs">NPs + dissolved Au</text>
<text style="font-family:'Liberation Sans', sans-serif;fill:#232323;font-size:13.45px" x="433.46" y="658.10" textLength="118.28" lengthAdjust="spacingAndGlyphs">NPs + dissolved Au</text>
<text style="font-family:'Liberation Sans', sans-serif;fill:#232323;font-size:15.39px" x="79.33" y="293.42" textLength="12.97" lengthAdjust="spacingAndGlyphs">&#920;</text>
<text style="font-family:'Liberation Sans', sans-serif;fill:#232323;font-size:18.34px" x="97.66" y="293.39" textLength="56.43" lengthAdjust="spacingAndGlyphs">= 109&#176;</text>
<text style="font-family:'Liberation Sans', sans-serif;fill:#232323;font-size:15.39px" x="79.33" y="443.96" textLength="12.97" lengthAdjust="spacingAndGlyphs">&#920;</text>
<text style="font-family:'Liberation Sans', sans-serif;fill:#232323;font-size:18.14px" x="97.64" y="444.03" textLength="56.45" lengthAdjust="spacingAndGlyphs">= 120&#176;</text>
<text style="font-family:'Liberation Sans', sans-serif;fill:#232323;font-size:17.24px" x="79.41" y="583.12" textLength="13.44" lengthAdjust="spacingAndGlyphs">&#920;</text>
<text style="font-family:'Liberation Sans', sans-serif;fill:#232323;font-size:19.51px" x="96.95" y="582.73" textLength="57.19" lengthAdjust="spacingAndGlyphs">= 131&#176;</text>
<text style="font-family:'Liberation Sans', sans-serif;fill:#232323;font-size:16.17px" x="392.72" y="301.30" textLength="13.25" lengthAdjust="spacingAndGlyphs">&#920;</text>
<text style="font-family:'Liberation Sans', sans-serif;fill:#232323;font-size:17.47px" x="411.31" y="301.12" textLength="56.31" lengthAdjust="spacingAndGlyphs">= 109&#176;</text>
<text style="font-family:'Liberation Sans', sans-serif;fill:#232323;font-size:16.66px" x="392.42" y="443.21" textLength="13.63" lengthAdjust="spacingAndGlyphs">&#920;</text>
<text style="font-family:'Liberation Sans', sans-serif;fill:#232323;font-size:18.21px" x="411.40" y="444.03" textLength="56.30" lengthAdjust="spacingAndGlyphs">= 120&#176;</text>
<text style="font-family:'Liberation Sans', sans-serif;fill:#232323;font-size:16.94px" x="392.58" y="583.14" textLength="13.66" lengthAdjust="spacingAndGlyphs">&#920;</text>
<text style="font-family:'Liberation Sans', sans-serif;fill:#232323;font-size:19.55px" x="410.34" y="582.71" textLength="57.31" lengthAdjust="spacingAndGlyphs">= 131&#176;</text>
<text style="font-family:'Liberation Sans', sans-serif;fill:#232323;font-size:12.13px" x="87.77" y="625.03" textLength="41.21" lengthAdjust="spacingAndGlyphs">13 x 10</text>
<text style="font-family:'Liberation Sans', sans-serif;fill:#232323;font-size:8.25px" x="131.37" y="618.32" textLength="8.14" lengthAdjust="spacingAndGlyphs">11</text>
<text style="font-family:'Liberation Sans', sans-serif;fill:#232323;font-size:13.65px" x="142.97" y="625.38" textLength="46.62" lengthAdjust="spacingAndGlyphs">NPs/cm</text>
<text style="font-family:'Liberation Sans', sans-serif;fill:#232323;font-size:8.17px" x="189.09" y="618.75" textLength="7.40" lengthAdjust="spacingAndGlyphs">2</text>
<text style="font-family:'Liberation Sans', sans-serif;fill:#232323;font-size:12.45px" x="400.98" y="625.69" textLength="41.42" lengthAdjust="spacingAndGlyphs">11 x 10</text>
<text style="font-family:'Liberation Sans', sans-serif;fill:#232323;font-size:8.34px" x="444.62" y="618.22" textLength="7.72" lengthAdjust="spacingAndGlyphs">11</text>
<text style="font-family:'Liberation Sans', sans-serif;fill:#232323;font-size:13.19px" x="456.06" y="625.69" textLength="46.84" lengthAdjust="spacingAndGlyphs">NPs/cm</text>
<text style="font-family:'Liberation Sans', sans-serif;fill:#232323;font-size:8.70px" x="502.26" y="618.09" textLength="7.70" lengthAdjust="spacingAndGlyphs">2</text>
<line x1="86.2" y1="601.5" x2="118" y2="601.5" stroke="#888" stroke-width="1.1"/>
<circle cx="102.2" cy="601.5" r="2.2" stroke="#888" stroke-width="1.4" fill="#fff"/>
<line x1="86.2" y1="637.3" x2="118.4" y2="637.3" stroke="#d92b2b" stroke-width="2.8"/>
<line x1="86.2" y1="654.1" x2="112.7" y2="654.1" stroke="#2a2f88" stroke-width="2.6" stroke-dasharray="6.1 4.1"/>
<line x1="399.5" y1="601.5" x2="431.3" y2="601.5" stroke="#888" stroke-width="1.1"/>
<circle cx="415.5" cy="601.5" r="2.2" stroke="#888" stroke-width="1.4" fill="#fff"/>
<line x1="399.5" y1="637.3" x2="431.70000000000005" y2="637.3" stroke="#d92b2b" stroke-width="2.8"/>
<line x1="399.5" y1="654.1" x2="426.0" y2="654.1" stroke="#2a2f88" stroke-width="2.6" stroke-dasharray="6.1 4.1"/>
</svg>
</body></html>
